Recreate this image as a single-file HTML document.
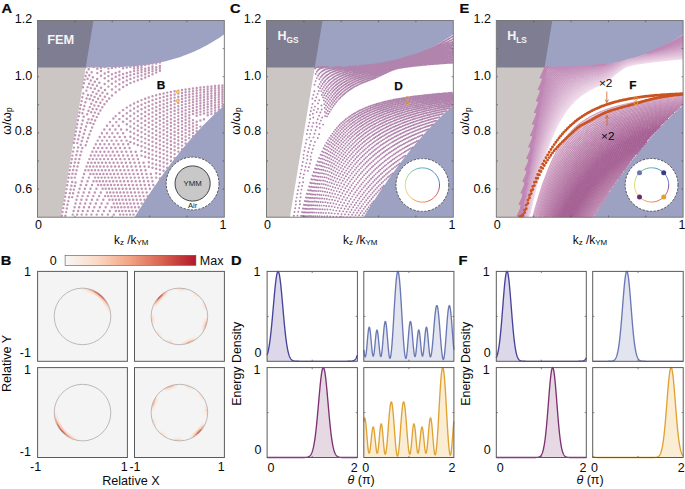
<!DOCTYPE html><html><head><meta charset="utf-8"><title>figure</title><style>html,body{margin:0;padding:0;background:#fff;}body{width:685px;height:489px;overflow:hidden;}svg{display:block;}text{font-family:"Liberation Sans",sans-serif;}</style></head><body>
<svg width="685" height="489" viewBox="0 0 685 489">
<rect width="685" height="489" fill="#fff"/>
<clipPath id="cA"><rect x="37.5" y="20.5" width="186.8" height="196.7"/></clipPath>
<g clip-path="url(#cA)">
<path d="M37.5 68.6 L85.6 68.6 L86.5 67.2 L99.1 20.5 L37.5 20.5Z" fill="#7f7d92"/>
<path d="M37.5 217.2 L60.9 217.2 L85.7 67.4 L37.5 67.4Z" fill="#cbc5c3"/>
<path d="M85.7 67.4 L85.7 67.4 L87.5 67.4 L89.2 67.4 L91 67.4 L92.8 67.4 L94.5 67.4 L96.3 67.4 L98 67.4 L99.8 67.4 L101.5 67.4 L103.3 67.4 L105 67.4 L106.8 67.4 L108.5 67.3 L110.3 67.3 L112 67.3 L113.8 67.2 L115.6 67.2 L117.3 67.1 L119.1 67.1 L120.8 67 L122.6 66.9 L124.3 66.8 L126.1 66.8 L127.8 66.6 L129.6 66.5 L131.3 66.4 L133.1 66.3 L134.9 66.1 L136.6 65.9 L138.4 65.8 L140.1 65.6 L141.9 65.4 L143.6 65.2 L145.4 64.9 L147.1 64.7 L148.9 64.4 L150.6 64.2 L152.4 63.9 L154.1 63.6 L155.9 63.3 L157.7 62.9 L159.4 62.6 L161.2 62.2 L162.9 61.8 L164.7 61.4 L166.4 61 L168.2 60.5 L169.9 60.1 L171.7 59.6 L173.4 59.1 L175.2 58.6 L176.9 58 L178.7 57.4 L180.5 56.9 L182.2 56.3 L184 55.6 L185.7 55 L187.5 54.3 L189.2 53.6 L191 52.9 L192.7 52.1 L194.5 51.4 L196.2 50.6 L198 49.7 L199.7 48.9 L201.5 48 L203.3 47.1 L205 46.2 L206.8 45.3 L208.5 44.3 L210.3 43.3 L212 42.3 L213.8 41.2 L215.5 40.1 L217.3 39 L219 37.9 L220.8 36.7 L222.5 35.5 L224.3 34.3 L224.3 20.5 L93.5 20.5Z" fill="#9da1c2"/>
<path d="M134.6 217.2 L136.1 214.7 L137.6 212.3 L139.1 209.8 L140.7 207.4 L142.2 205 L143.7 202.6 L145.2 200.3 L146.7 198 L148.3 195.6 L149.8 193.3 L151.3 191.1 L152.8 188.8 L154.3 186.6 L155.9 184.4 L157.4 182.2 L158.9 180 L160.4 177.8 L162 175.7 L163.5 173.6 L165 171.5 L166.5 169.4 L168 167.4 L169.6 165.3 L171.1 163.3 L172.6 161.3 L174.1 159.3 L175.6 157.4 L177.2 155.4 L178.7 153.5 L180.2 151.6 L181.7 149.8 L183.2 147.9 L184.8 146.1 L186.3 144.3 L187.8 142.5 L189.3 140.7 L190.8 138.9 L192.4 137.2 L193.9 135.5 L195.4 133.8 L196.9 132.1 L198.4 130.5 L200 128.8 L201.5 127.2 L203 125.6 L204.5 124 L206.1 122.5 L207.6 120.9 L209.1 119.4 L210.6 117.9 L212.1 116.4 L213.7 115 L215.2 113.6 L216.7 112.1 L218.2 110.7 L219.7 109.4 L221.3 108 L222.8 106.7 L224.3 105.4 L224.3 217.2Z" fill="#9da1c2"/>
<path d="M83.1 87.2h0M83.9 83.3h0M84.6 79.6h0M85.6 76.0h0M86.8 72.5h0M88.7 69.3h0M93.6 66.9h0M73.9 142.7h0M74.6 138.9h0M75.2 135.2h0M75.9 131.5h0M76.6 127.8h0M77.2 124.2h0M77.9 120.2h0M78.7 116.3h0M79.4 112.4h0M80.1 108.7h0M80.8 105.0h0M81.6 101.1h0M82.4 97.3h0M83.3 93.5h0M87.6 78.7h0M89.3 75.3h0M91.6 72.3h0M97.3 68.7h0M101.0 67.7h0M104.7 67.0h0M61.2 219.6h0M61.9 215.8h0M62.5 211.9h0M63.2 208.1h0M63.9 204.3h0M64.5 200.5h0M65.2 196.7h0M65.8 192.9h0M66.5 189.1h0M67.2 185.3h0M67.8 181.6h0M68.5 177.8h0M69.1 174.1h0M69.8 170.3h0M70.4 166.6h0M71.1 162.9h0M71.8 159.3h0M72.4 155.6h0M73.1 151.6h0M73.9 147.6h0M86.4 90.6h0M87.6 87.1h0M89.1 83.7h0M90.8 80.4h0M92.9 77.3h0M97.3 73.1h0M101.0 71.0h0M108.4 68.6h0M112.0 67.9h0M115.7 67.3h0M119.4 66.8h0M82.4 113.3h0M83.4 109.5h0M84.4 105.9h0M85.4 102.3h0M86.6 98.5h0M87.9 95.0h0M90.8 88.1h0M92.7 84.8h0M94.8 81.7h0M97.2 78.9h0M101.0 75.7h0M104.7 73.5h0M108.4 71.9h0M123.1 68.2h0M126.8 67.6h0M130.4 67.1h0M134.1 66.6h0M137.8 66.2h0M141.5 65.8h0M145.2 65.1h0M148.8 64.3h0M152.5 63.4h0M77.3 143.1h0M78.2 139.3h0M79.1 135.5h0M79.9 131.8h0M80.8 128.0h0M81.8 124.3h0M82.7 120.5h0M83.7 116.8h0M89.7 98.9h0M91.2 95.5h0M92.9 92.1h0M94.8 88.8h0M97.0 85.7h0M99.4 82.8h0M104.7 78.3h0M108.4 76.1h0M112.0 74.3h0M115.7 72.9h0M119.4 71.7h0M134.1 68.6h0M137.8 68.0h0M141.5 67.5h0M156.2 63.6h0M159.9 62.5h0M71.6 177.7h0M72.4 173.8h0M73.2 170.0h0M74.0 166.2h0M74.8 162.5h0M75.6 158.9h0M76.4 155.0h0M77.3 151.2h0M78.1 147.4h0M87.2 114.3h0M88.5 110.7h0M89.8 107.1h0M91.3 103.7h0M92.9 100.3h0M94.6 97.0h0M96.5 93.8h0M98.6 90.7h0M101.0 87.7h0M104.7 83.9h0M108.4 81.0h0M112.0 78.7h0M115.7 76.8h0M119.4 75.3h0M123.1 74.0h0M126.8 72.9h0M130.4 71.9h0M134.1 71.1h0M137.8 70.4h0M141.5 69.7h0M145.2 68.8h0M148.8 67.7h0M152.5 66.5h0M64.7 219.6h0M65.4 215.8h0M66.1 212.1h0M66.8 208.4h0M67.5 204.8h0M68.3 201.1h0M69.1 197.2h0M69.8 193.3h0M70.6 189.5h0M71.4 185.7h0M72.2 181.9h0M80.8 144.8h0M81.8 141.0h0M82.8 137.4h0M83.9 133.8h0M85.0 130.0h0M86.1 126.4h0M87.3 122.8h0M88.5 119.3h0M91.2 112.3h0M92.7 108.9h0M94.4 105.4h0M96.2 102.0h0M98.1 98.8h0M100.2 95.7h0M102.5 92.7h0M105.0 89.9h0M108.4 86.6h0M112.0 83.8h0M115.7 81.4h0M119.4 79.5h0M123.1 77.8h0M126.8 76.4h0M130.4 75.2h0M134.1 74.1h0M137.8 73.2h0M141.5 72.3h0M145.2 71.3h0M148.8 70.1h0M152.5 68.7h0M156.2 67.3h0M159.9 65.9h0M74.8 177.6h0M75.7 173.9h0M76.6 170.3h0M77.5 166.5h0M78.4 162.8h0M79.3 159.1h0M80.3 155.3h0M81.3 151.6h0M82.3 148.0h0M90.4 122.9h0M91.8 119.5h0M93.3 115.9h0M94.9 112.6h0M96.6 109.2h0M98.5 105.9h0M100.4 102.7h0M102.5 99.6h0M104.8 96.7h0M107.3 93.8h0M112.0 89.4h0M115.7 86.6h0M119.4 84.2h0M123.1 82.2h0M126.8 80.4h0M130.4 78.9h0M134.1 77.6h0M137.8 76.5h0M141.5 75.4h0M145.2 74.2h0M148.8 72.8h0M152.5 71.3h0M156.2 69.7h0M159.9 68.2h0M72.2 197.1h0M73.1 193.3h0M73.9 189.6h0M74.8 186.0h0M75.6 182.4h0M85.7 145.3h0M86.9 141.6h0M88.1 137.9h0M89.4 134.4h0M90.7 130.9h0M92.1 127.4h0M93.5 124.0h0M95.1 120.5h0M96.8 117.1h0M98.5 113.7h0M100.4 110.5h0M102.3 107.3h0M104.4 104.2h0M106.8 101.2h0M109.2 98.4h0M112.0 95.5h0M115.7 92.2h0M119.4 89.4h0M123.1 87.0h0M126.8 84.9h0M130.4 83.1h0M134.1 81.6h0M137.8 80.2h0M141.5 78.9h0M145.2 77.5h0M148.8 75.9h0M152.5 74.2h0M156.2 72.5h0M159.9 70.8h0M71.8 218.3h0M72.7 214.6h0M73.6 210.9h0M74.6 207.2h0M75.5 203.5h0M76.5 199.8h0M77.5 196.1h0M78.5 192.4h0M79.6 188.7h0M80.7 185.0h0M81.8 181.3h0M82.9 177.6h0M84.1 173.9h0M85.3 170.2h0M86.6 166.5h0M88.0 162.8h0M89.4 159.1h0M90.8 155.4h0M92.4 151.7h0M94.0 148.0h0M95.8 144.3h0M97.7 140.6h0M99.7 136.9h0M101.9 133.2h0M104.3 129.5h0M107.0 125.8h0M110.0 122.1h0M113.4 118.4h0M115.7 116.1h0M119.4 112.9h0M123.1 110.1h0M126.8 107.6h0M130.4 105.4h0M134.1 103.4h0M137.8 101.7h0M141.5 100.1h0M145.2 98.7h0M148.8 97.5h0M152.5 96.3h0M156.2 95.3h0M159.9 94.3h0M163.6 93.4h0M167.2 92.6h0M170.9 91.9h0M174.6 91.2h0M178.3 90.6h0M182.0 90.0h0M185.6 89.4h0M189.3 88.9h0M193.0 88.4h0M196.7 87.9h0M200.4 87.5h0M204.0 87.1h0M207.7 86.7h0M211.4 86.4h0M215.1 86.0h0M218.8 85.7h0M222.4 85.4h0M88.5 170.2h0M89.9 166.5h0M91.4 162.8h0M92.9 159.1h0M94.6 155.4h0M96.3 151.7h0M98.1 148.0h0M100.1 144.3h0M102.2 140.6h0M104.5 136.9h0M107.0 133.2h0M109.8 129.5h0M112.8 125.8h0M116.3 122.1h0M119.4 119.1h0M123.1 116.0h0M126.8 113.2h0M130.4 110.7h0M134.1 108.5h0M137.8 106.5h0M141.5 104.7h0M145.2 103.1h0M148.8 101.7h0M152.5 100.3h0M156.2 99.1h0M159.9 98.0h0M163.6 97.0h0M167.2 96.0h0M170.9 95.2h0M174.6 94.4h0M178.3 93.6h0M182.0 92.9h0M185.6 92.3h0M189.3 91.6h0M193.0 91.1h0M196.7 90.5h0M200.4 90.0h0M204.0 89.6h0M207.7 89.1h0M211.4 88.7h0M215.1 88.3h0M218.8 87.9h0M222.4 87.5h0M76.1 218.3h0M77.1 214.6h0M78.1 210.9h0M79.2 207.2h0M80.3 203.5h0M81.4 199.8h0M82.5 196.1h0M83.7 192.4h0M84.9 188.7h0M86.2 185.0h0M87.5 181.3h0M88.9 177.6h0M90.3 173.9h0M91.7 170.2h0M93.3 166.5h0M94.9 162.8h0M96.6 159.1h0M98.4 155.4h0M100.3 151.7h0M102.3 148.0h0M104.5 144.3h0M106.9 140.6h0M109.5 136.9h0M112.3 133.2h0M115.4 129.5h0M118.8 125.8h0M123.1 121.8h0M126.8 118.7h0M130.4 116.0h0M134.1 113.5h0M137.8 111.3h0M141.5 109.3h0M145.2 107.5h0M148.8 105.9h0M152.5 104.4h0M156.2 103.0h0M159.9 101.7h0M163.6 100.6h0M167.2 99.5h0M170.9 98.5h0M174.6 97.6h0M178.3 96.7h0M182.0 95.9h0M185.6 95.2h0M189.3 94.5h0M193.0 93.8h0M196.7 93.2h0M200.4 92.6h0M204.0 92.0h0M207.7 91.5h0M211.4 91.0h0M215.1 90.6h0M218.8 90.1h0M222.4 89.7h0M93.4 173.9h0M95.0 170.2h0M96.7 166.5h0M98.5 162.8h0M100.3 159.1h0M102.3 155.4h0M104.4 151.7h0M106.6 148.0h0M109.0 144.3h0M111.7 140.6h0M114.5 136.9h0M117.6 133.2h0M121.1 129.5h0M126.8 124.2h0M130.4 121.3h0M134.1 118.6h0M137.8 116.1h0M141.5 113.9h0M145.2 111.9h0M148.8 110.1h0M152.5 108.4h0M156.2 106.9h0M159.9 105.5h0M163.6 104.2h0M167.2 103.0h0M170.9 101.8h0M174.6 100.8h0M178.3 99.8h0M182.0 98.9h0M185.6 98.1h0M189.3 97.3h0M193.0 96.6h0M196.7 95.9h0M200.4 95.2h0M204.0 94.6h0M207.7 94.0h0M211.4 93.4h0M215.1 92.9h0M218.8 92.4h0M222.4 91.9h0M80.5 218.3h0M81.7 214.6h0M82.8 210.9h0M84.0 207.2h0M85.2 203.5h0M86.5 199.8h0M87.8 196.1h0M89.2 192.4h0M90.5 188.7h0M92.0 185.0h0M93.5 181.3h0M95.1 177.6h0M96.7 173.9h0M98.4 170.2h0M100.2 166.5h0M102.1 162.8h0M104.1 159.1h0M106.3 155.4h0M108.6 151.7h0M111.0 148.0h0M113.7 144.3h0M116.5 140.6h0M119.7 136.9h0M123.1 133.2h0M126.8 129.7h0M130.4 126.5h0M134.1 123.6h0M137.8 120.9h0M141.5 118.5h0M145.2 116.3h0M148.8 114.3h0M152.5 112.5h0M156.2 110.8h0M159.9 109.2h0M163.6 107.8h0M167.2 106.5h0M170.9 105.2h0M174.6 104.1h0M178.3 103.0h0M182.0 102.0h0M185.6 101.1h0M189.3 100.2h0M193.0 99.4h0M196.7 98.6h0M200.4 97.8h0M204.0 97.1h0M207.7 96.5h0M211.4 95.9h0M215.1 95.3h0M218.8 94.7h0M222.4 94.2h0M96.6 181.3h0M98.3 177.6h0M100.0 173.9h0M101.9 170.2h0M103.8 166.5h0M105.9 162.8h0M108.0 159.1h0M110.4 155.4h0M112.8 151.7h0M115.5 148.0h0M118.4 144.3h0M121.5 140.6h0M125.0 136.9h0M130.4 131.7h0M134.1 128.5h0M137.8 125.7h0M141.5 123.1h0M145.2 120.7h0M148.8 118.6h0M152.5 116.6h0M156.2 114.7h0M159.9 113.0h0M163.6 111.5h0M167.2 110.0h0M170.9 108.7h0M174.6 107.4h0M178.3 106.2h0M182.0 105.1h0M185.6 104.1h0M189.3 103.1h0M193.0 102.2h0M196.7 101.3h0M200.4 100.5h0M204.0 99.8h0M207.7 99.0h0M211.4 98.3h0M215.1 97.7h0M218.8 97.1h0M222.4 96.5h0M85.2 218.3h0M86.4 214.6h0M87.7 210.9h0M89.1 207.2h0M90.4 203.5h0M91.9 199.8h0M93.3 196.1h0M94.8 192.4h0M96.4 188.7h0M98.1 185.0h0M99.8 181.3h0M101.6 177.6h0M103.4 173.9h0M105.4 170.2h0M107.5 166.5h0M109.7 162.8h0M112.0 159.1h0M114.5 155.4h0M117.2 151.7h0M120.1 148.0h0M123.2 144.3h0M126.6 140.6h0M130.4 136.8h0M134.1 133.5h0M137.8 130.5h0M141.5 127.7h0M145.2 125.2h0M148.8 122.8h0M152.5 120.7h0M156.2 118.7h0M159.9 116.9h0M163.6 115.2h0M167.2 113.6h0M170.9 112.1h0M174.6 110.7h0M178.3 109.5h0M182.0 108.3h0M185.6 107.1h0M189.3 106.1h0M193.0 105.1h0M196.7 104.1h0M200.4 103.2h0M204.0 102.4h0M207.7 101.6h0M211.4 100.9h0M215.1 100.2h0M218.8 99.5h0M222.4 98.8h0M101.2 185.0h0M103.0 181.3h0M104.9 177.6h0M106.9 173.9h0M109.0 170.2h0M111.3 166.5h0M113.6 162.8h0M116.1 159.1h0M118.8 155.4h0M121.7 151.7h0M124.8 148.0h0M128.2 144.3h0M130.4 142.0h0M134.1 138.5h0M137.8 135.3h0M141.5 132.3h0M145.2 129.6h0M148.8 127.1h0M152.5 124.8h0M156.2 122.7h0M159.9 120.7h0M163.6 118.9h0M167.2 117.2h0M170.9 115.6h0M174.6 114.1h0M178.3 112.7h0M182.0 111.4h0M185.6 110.2h0M189.3 109.1h0M193.0 108.0h0M196.7 107.0h0M200.4 106.0h0M204.0 105.1h0M207.7 104.2h0M211.4 103.4h0M215.1 102.6h0M218.8 101.9h0M222.4 101.2h0M90.1 218.3h0M91.4 214.6h0M92.9 210.9h0M94.3 207.2h0M95.9 203.5h0M97.4 199.8h0M99.1 196.1h0M100.8 192.4h0M102.6 188.7h0M104.4 185.0h0M106.3 181.3h0M108.4 177.6h0M110.5 173.9h0M112.7 170.2h0M115.1 166.5h0M117.6 162.8h0M120.3 159.1h0M123.2 155.4h0M126.3 151.7h0M129.6 148.0h0M134.1 143.5h0M137.8 140.1h0M141.5 137.0h0M145.2 134.1h0M148.8 131.5h0M152.5 129.0h0M156.2 126.7h0M159.9 124.6h0M163.6 122.7h0M167.2 120.9h0M170.9 119.2h0M174.6 117.6h0M178.3 116.1h0M182.0 114.7h0M185.6 113.4h0M189.3 112.1h0M193.0 111.0h0M196.7 109.9h0M200.4 108.8h0M204.0 107.8h0M207.7 106.9h0M211.4 106.0h0M215.1 105.2h0M218.8 104.4h0M222.4 103.6h0M105.7 188.7h0M107.7 185.0h0M109.7 181.3h0M111.9 177.6h0M114.1 173.9h0M116.5 170.2h0M119.0 166.5h0M121.7 162.8h0M124.6 159.1h0M127.7 155.4h0M131.0 151.7h0M137.8 144.9h0M141.5 141.6h0M145.2 138.6h0M148.8 135.8h0M152.5 133.2h0M156.2 130.8h0M159.9 128.6h0M163.6 126.5h0M167.2 124.5h0M170.9 122.7h0M174.6 121.0h0M178.3 119.4h0M182.0 117.9h0M185.6 116.5h0M189.3 115.2h0M193.0 114.0h0M196.7 112.8h0M200.4 111.7h0M204.0 110.6h0M207.7 109.6h0M211.4 108.7h0M215.1 107.8h0M218.8 106.9h0M222.4 106.1h0M95.2 218.3h0M96.7 214.6h0M98.3 210.9h0M99.9 207.2h0M101.6 203.5h0M103.3 199.8h0M105.1 196.1h0M107.0 192.4h0M109.0 188.7h0M111.0 185.0h0M113.2 181.3h0M115.5 177.6h0M117.8 173.9h0M120.4 170.2h0M123.1 166.5h0M125.9 162.8h0M129.0 159.1h0M132.2 155.4h0M135.7 151.7h0M141.5 146.3h0M145.2 143.1h0M148.8 140.1h0M152.5 137.4h0M156.2 134.9h0M159.9 132.5h0M163.6 130.3h0M167.2 128.3h0M170.9 126.3h0M174.6 124.5h0M178.3 122.8h0M182.0 121.3h0M185.6 119.8h0M189.3 118.3h0M196.7 115.8h0M200.4 114.6h0M204.0 113.4h0M207.7 112.4h0M211.4 111.4h0M215.1 110.4h0M218.8 109.5h0M108.2 196.1h0M110.2 192.4h0M112.3 188.7h0M114.5 185.0h0M116.7 181.3h0M119.1 177.6h0M121.7 173.9h0M124.3 170.2h0M127.2 166.5h0M130.2 162.8h0M133.4 159.1h0M136.9 155.4h0M141.5 150.9h0M145.2 147.6h0M148.8 144.5h0M152.5 141.7h0M156.2 139.0h0M159.9 136.5h0M163.6 134.2h0M167.2 132.0h0M170.9 130.0h0M174.6 128.1h0M178.3 126.3h0M182.0 124.6h0M185.6 123.0h0M189.3 121.5h0M193.0 120.1h0M207.7 115.2h0M211.4 114.1h0M215.1 113.1h0M100.5 218.3h0M102.2 214.6h0M103.9 210.9h0M105.7 207.2h0M107.5 203.5h0M109.4 199.8h0M111.4 196.1h0M113.5 192.4h0M115.7 188.7h0M118.0 185.0h0M120.4 181.3h0M122.9 177.6h0M125.6 173.9h0M128.4 170.2h0M131.4 166.5h0M134.6 162.8h0M138.0 159.1h0M141.5 155.6h0M145.2 152.1h0M148.8 148.9h0M152.5 145.9h0M156.2 143.2h0M159.9 140.5h0M163.6 138.1h0M167.2 135.8h0M170.9 133.7h0M174.6 131.7h0M178.3 129.8h0M182.0 128.0h0M185.6 126.3h0M189.3 124.7h0M193.0 123.2h0M196.7 121.8h0M200.4 120.5h0M204.0 119.2h0M112.6 199.8h0M114.7 196.1h0M116.9 192.4h0M119.2 188.7h0M121.5 185.0h0M124.1 181.3h0M126.7 177.6h0M129.5 173.9h0M132.5 170.2h0M135.7 166.5h0M139.1 162.8h0M145.2 156.7h0M148.8 153.4h0M152.5 150.2h0M156.2 147.3h0M159.9 144.6h0M163.6 142.1h0M167.2 139.7h0M170.9 137.4h0M174.6 135.3h0M178.3 133.3h0M182.0 131.4h0M185.6 129.7h0M189.3 128.0h0M193.0 126.4h0M196.7 124.9h0M106.1 218.3h0M107.9 214.6h0M109.8 210.9h0M111.7 207.2h0M113.7 203.5h0M115.8 199.8h0M118.0 196.1h0M120.3 192.4h0M122.7 188.7h0M125.2 185.0h0M127.9 181.3h0M130.7 177.6h0M133.6 173.9h0M136.7 170.2h0M140.1 166.5h0M143.6 162.8h0M148.8 157.8h0M152.5 154.6h0M156.2 151.6h0M159.9 148.7h0M163.6 146.0h0M167.2 143.5h0M170.9 141.2h0M174.6 139.0h0M178.3 136.9h0M182.0 134.9h0M185.6 133.1h0M189.3 131.3h0M193.0 129.7h0M196.7 128.1h0M200.4 126.6h0M114.8 207.2h0M116.9 203.5h0M119.1 199.8h0M121.4 196.1h0M123.8 192.4h0M126.3 188.7h0M129.0 185.0h0M131.7 181.3h0M134.7 177.6h0M137.8 173.9h0M141.1 170.2h0M144.6 166.5h0M148.8 162.3h0M152.5 159.0h0M156.2 155.8h0M159.9 152.8h0M163.6 150.1h0M167.2 147.5h0M170.9 145.0h0M174.6 142.7h0M178.3 140.5h0M182.0 138.5h0M185.6 136.5h0M189.3 134.7h0M193.0 132.9h0M196.7 131.3h0M111.9 218.3h0M113.9 214.6h0M115.9 210.9h0M118.0 207.2h0M120.2 203.5h0M122.5 199.8h0M124.9 196.1h0M127.4 192.4h0M130.0 188.7h0M132.8 185.0h0M135.7 181.3h0M138.8 177.6h0M142.0 173.9h0M145.5 170.2h0M148.8 166.8h0M152.5 163.4h0M156.2 160.1h0M159.9 157.0h0M163.6 154.1h0M167.2 151.4h0M170.9 148.9h0M174.6 146.4h0M178.3 144.2h0M182.0 142.0h0M185.6 140.0h0M189.3 138.1h0M193.0 136.2h0M119.1 210.9h0M121.3 207.2h0M123.6 203.5h0M126.0 199.8h0M128.5 196.1h0M131.1 192.4h0M133.8 188.7h0M136.7 185.0h0M139.8 181.3h0M143.0 177.6h0M146.4 173.9h0M152.5 167.8h0M156.2 164.4h0M159.9 161.2h0M163.6 158.2h0M167.2 155.4h0M170.9 152.8h0M174.6 150.2h0M178.3 147.9h0M182.0 145.6h0M185.6 143.5h0M118.0 218.3h0M120.1 214.6h0M122.3 210.9h0M124.6 207.2h0M127.0 203.5h0M129.5 199.8h0M132.1 196.1h0M134.9 192.4h0M137.7 188.7h0M140.7 185.0h0M143.9 181.3h0M147.3 177.6h0M150.9 173.9h0M156.2 168.8h0M159.9 165.5h0M163.6 162.4h0M167.2 159.5h0M170.9 156.7h0M174.6 154.1h0M178.3 151.6h0M182.0 149.3h0M121.2 218.3h0M123.4 214.6h0M125.7 210.9h0M128.1 207.2h0M130.5 203.5h0M133.1 199.8h0M135.8 196.1h0M138.7 192.4h0M141.7 188.7h0M144.8 185.0h0M148.2 181.3h0M151.7 177.6h0M156.2 173.2h0M159.9 169.8h0M163.6 166.6h0M167.2 163.5h0M170.9 160.7h0M174.6 158.0h0M124.4 218.3h0M126.7 214.6h0M129.1 210.9h0M131.5 207.2h0M134.1 203.5h0M136.8 199.8h0M139.7 196.1h0M142.6 192.4h0M145.7 188.7h0M149.0 185.0h0M152.5 181.3h0M156.2 177.6h0M159.9 174.1h0M163.6 170.8h0M167.2 167.7h0M127.7 218.3h0M130.1 214.6h0M132.5 210.9h0M135.1 207.2h0M137.8 203.5h0M140.6 199.8h0M143.6 196.1h0M146.7 192.4h0M149.9 188.7h0M153.3 185.0h0M159.9 178.4h0M131.1 218.3h0M133.5 214.6h0M136.1 210.9h0M138.8 207.2h0M141.6 203.5h0M144.5 199.8h0M147.6 196.1h0" stroke="#c096b4" stroke-width="2.45" stroke-linecap="round" fill="none"/>
</g>
<path d="M74.9 217.2v-1.6M74.9 20.5v1.6M112.2 217.2v-1.6M112.2 20.5v1.6M149.6 217.2v-1.6M149.6 20.5v1.6M186.9 217.2v-1.6M186.9 20.5v1.6M37.5 189.1h1.6M224.3 189.1h-1.6M37.5 161h1.6M224.3 161h-1.6M37.5 132.9h1.6M224.3 132.9h-1.6M37.5 104.8h1.6M224.3 104.8h-1.6M37.5 76.7h1.6M224.3 76.7h-1.6M37.5 48.6h1.6M224.3 48.6h-1.6" stroke="#333" stroke-width="0.6" fill="none"/>
<rect x="37.5" y="20.5" width="186.8" height="196.7" fill="none" stroke="#6e6e6e" stroke-width="0.9"/>
<text x="32.2" y="22.8" text-anchor="end" font-size="12.5" fill="#0a0a0a">1.2</text>
<text x="32.2" y="80" text-anchor="end" font-size="12.5" fill="#0a0a0a">1.0</text>
<text x="32.2" y="135.1" text-anchor="end" font-size="12.5" fill="#0a0a0a">0.8</text>
<text x="32.2" y="192.6" text-anchor="end" font-size="12.5" fill="#0a0a0a">0.6</text>
<text x="38.5" y="229" text-anchor="middle" font-size="12.5" fill="#0a0a0a">0</text>
<text x="223.1" y="228.9" text-anchor="middle" font-size="12.5" fill="#0a0a0a">1</text>
<text x="131.2" y="243.6" text-anchor="middle" font-size="11.9" fill="#0a0a0a">k<tspan font-size="8.0" dy="1.2">z</tspan><tspan dy="-1.2"> /k</tspan><tspan font-size="8.0" dy="1.2">YM</tspan></text>
<text transform="translate(10.5 121) rotate(-90)" text-anchor="middle" font-size="12.3" fill="#0a0a0a">&#969;/&#969;<tspan font-size="8.5" dy="1.5">p</tspan></text>
<text x="47.2" y="43.9" font-size="12.8" font-weight="bold" fill="#f4f4f4">FEM</text>
<text x="156.8" y="89.0" font-size="11.8" font-weight="bold" fill="#0a0a0a" stroke="#0a0a0a" stroke-width="0.25">B</text>
<circle cx="177.6" cy="91.9" r="1.5" fill="#f3d2a0" stroke="#ebb050" stroke-width="1"/><circle cx="177.6" cy="100.9" r="1.5" fill="#f3d2a0" stroke="#ebb050" stroke-width="1"/>
<circle cx="192.6" cy="183.5" r="26.4" fill="#fff" stroke="#4a4a4a" stroke-width="0.9" stroke-dasharray="2.2 1.5"/>
<circle cx="192.6" cy="183.5" r="17.6" fill="#c8c8c8" stroke="#333" stroke-width="0.9"/>
<text x="192.6" y="186.3" text-anchor="middle" font-size="7.8" fill="#222">YMM</text>
<text x="192.6" y="207.8" text-anchor="middle" font-size="7.6" fill="#222">Air</text>
<clipPath id="cC"><rect x="266.5" y="20.5" width="186.8" height="196.7"/></clipPath>
<g clip-path="url(#cC)">
<path d="M266.5 68.6 L314.6 68.6 L315.5 67.2 L328.1 20.5 L266.5 20.5Z" fill="#7f7d92"/>
<path d="M266.5 217.2 L289.9 217.2 L314.7 67.4 L266.5 67.4Z" fill="#cbc5c3"/>
<path d="M314.7 67.4 L314.7 67.4 L316.5 67.4 L318.2 67.4 L320 67.4 L321.8 67.4 L323.5 67.4 L325.3 67.4 L327 67.4 L328.8 67.4 L330.5 67.4 L332.3 67.4 L334 67.4 L335.8 67.4 L337.5 67.3 L339.3 67.3 L341 67.3 L342.8 67.2 L344.6 67.2 L346.3 67.1 L348.1 67.1 L349.8 67 L351.6 66.9 L353.3 66.8 L355.1 66.8 L356.8 66.6 L358.6 66.5 L360.3 66.4 L362.1 66.3 L363.9 66.1 L365.6 65.9 L367.4 65.8 L369.1 65.6 L370.9 65.4 L372.6 65.2 L374.4 64.9 L376.1 64.7 L377.9 64.4 L379.6 64.2 L381.4 63.9 L383.1 63.6 L384.9 63.3 L386.7 62.9 L388.4 62.6 L390.2 62.2 L391.9 61.8 L393.7 61.4 L395.4 61 L397.2 60.5 L398.9 60.1 L400.7 59.6 L402.4 59.1 L404.2 58.6 L405.9 58 L407.7 57.4 L409.5 56.9 L411.2 56.3 L413 55.6 L414.7 55 L416.5 54.3 L418.2 53.6 L420 52.9 L421.7 52.1 L423.5 51.4 L425.2 50.6 L427 49.7 L428.7 48.9 L430.5 48 L432.3 47.1 L434 46.2 L435.8 45.3 L437.5 44.3 L439.3 43.3 L441 42.3 L442.8 41.2 L444.5 40.1 L446.3 39 L448 37.9 L449.8 36.7 L451.5 35.5 L453.3 34.3 L453.3 20.5 L322.5 20.5Z" fill="#9da1c2"/>
<path d="M363.6 217.2 L365.1 214.7 L366.6 212.3 L368.1 209.8 L369.7 207.4 L371.2 205 L372.7 202.6 L374.2 200.3 L375.7 198 L377.3 195.6 L378.8 193.3 L380.3 191.1 L381.8 188.8 L383.3 186.6 L384.9 184.4 L386.4 182.2 L387.9 180 L389.4 177.8 L391 175.7 L392.5 173.6 L394 171.5 L395.5 169.4 L397 167.4 L398.6 165.3 L400.1 163.3 L401.6 161.3 L403.1 159.3 L404.6 157.4 L406.2 155.4 L407.7 153.5 L409.2 151.6 L410.7 149.8 L412.2 147.9 L413.8 146.1 L415.3 144.3 L416.8 142.5 L418.3 140.7 L419.8 138.9 L421.4 137.2 L422.9 135.5 L424.4 133.8 L425.9 132.1 L427.4 130.5 L429 128.8 L430.5 127.2 L432 125.6 L433.5 124 L435.1 122.5 L436.6 120.9 L438.1 119.4 L439.6 117.9 L441.1 116.4 L442.7 115 L444.2 113.6 L445.7 112.1 L447.2 110.7 L448.7 109.4 L450.3 108 L451.8 106.7 L453.3 105.4 L453.3 217.2Z" fill="#9da1c2"/>
<path d="M315.1 68.5h0M316.1 67.5h0M317.4 67.1h0M318.7 67.0h0M320.0 66.9h0M321.4 66.9h0M322.7 66.9h0M324.0 66.9h0M359.2 65.9h0M360.5 65.8h0M361.8 65.7h0M363.1 65.6h0M364.4 65.5h0M365.8 65.4h0M367.1 65.3h0M368.4 65.2h0M369.7 65.0h0M371.0 64.9h0M372.3 64.7h0M373.7 64.6h0M375.0 64.4h0M376.3 64.2h0M377.6 64.0h0M378.9 63.8h0M380.2 63.6h0M381.5 63.4h0M382.9 63.1h0M384.2 62.9h0M385.5 62.6h0M386.8 62.3h0M388.1 62.1h0M389.4 61.8h0M390.8 61.5h0M392.1 61.2h0M393.4 60.9h0M394.7 60.6h0M396.0 60.3h0M397.3 60.0h0M398.7 59.6h0M400.0 59.3h0M401.3 59.0h0M402.6 58.6h0M403.9 58.3h0M405.2 57.9h0M406.5 57.5h0M407.9 57.1h0M409.2 56.7h0M410.5 56.3h0M411.8 55.9h0M413.1 55.5h0M414.4 55.0h0M415.8 54.6h0M417.1 54.1h0M418.4 53.6h0M419.7 53.1h0M421.0 52.6h0M422.3 52.1h0M423.6 51.6h0M425.0 51.0h0M426.3 50.5h0M427.6 49.9h0M428.9 49.3h0M430.2 48.7h0M431.5 48.1h0M432.9 47.5h0M434.2 46.9h0M435.5 46.2h0M436.8 45.5h0M438.1 44.9h0M439.4 44.2h0M440.7 43.5h0M442.1 42.8h0M443.4 42.0h0M444.7 41.3h0M446.0 40.5h0M447.3 39.7h0M448.6 39.0h0M450.0 38.1h0M451.3 37.3h0M452.6 36.5h0M315.7 74.0h0M316.8 71.7h0M318.0 70.2h0M319.2 69.2h0M320.4 68.5h0M321.7 68.0h0M323.1 67.7h0M324.4 67.4h0M325.7 67.2h0M327.0 67.0h0M328.3 66.9h0M407.9 56.8h0M409.2 56.5h0M410.5 56.1h0M411.9 55.8h0M413.2 55.4h0M414.5 55.0h0M415.8 54.6h0M417.1 54.2h0M418.4 53.8h0M419.8 53.4h0M421.1 53.0h0M422.4 52.6h0M423.7 52.1h0M425.0 51.7h0M426.3 51.2h0M427.6 50.7h0M429.0 50.2h0M430.3 49.7h0M431.6 49.2h0M432.9 48.7h0M434.2 48.2h0M435.5 47.6h0M436.9 47.0h0M438.2 46.5h0M439.5 45.9h0M440.8 45.3h0M442.1 44.7h0M443.4 44.1h0M444.7 43.5h0M446.1 42.8h0M447.4 42.2h0M448.7 41.5h0M450.0 40.8h0M451.3 40.1h0M452.6 39.4h0M314.5 84.7h0M315.6 81.1h0M316.8 78.1h0M318.0 75.8h0M319.2 74.0h0M320.5 72.6h0M321.7 71.5h0M323.0 70.7h0M324.3 70.0h0M325.6 69.4h0M327.0 68.9h0M328.3 68.6h0M329.6 68.2h0M330.9 68.0h0M332.2 67.7h0M333.5 67.5h0M334.8 67.4h0M336.2 67.2h0M337.5 67.0h0M338.8 66.9h0M340.1 66.8h0M407.6 56.9h0M408.9 56.6h0M410.2 56.3h0M411.5 56.0h0M412.8 55.7h0M414.2 55.4h0M415.5 55.0h0M416.8 54.7h0M418.1 54.3h0M419.4 54.0h0M420.7 53.6h0M422.1 53.2h0M423.4 52.9h0M424.7 52.5h0M426.0 52.1h0M427.3 51.6h0M428.6 51.2h0M429.9 50.8h0M431.3 50.4h0M432.6 49.9h0M433.9 49.4h0M435.2 49.0h0M436.5 48.5h0M437.8 48.0h0M439.2 47.5h0M440.5 47.0h0M441.8 46.5h0M443.1 46.0h0M444.4 45.4h0M445.7 44.9h0M447.1 44.3h0M448.4 43.7h0M449.7 43.1h0M451.0 42.6h0M452.3 42.0h0M312.4 98.5h0M313.4 94.9h0M314.4 91.3h0M319.3 79.2h0M320.6 77.3h0M321.9 75.7h0M323.1 74.5h0M324.4 73.4h0M325.7 72.5h0M327.0 71.7h0M328.3 71.1h0M329.6 70.5h0M331.0 70.1h0M332.3 69.6h0M333.6 69.3h0M334.9 69.0h0M336.2 68.7h0M337.5 68.4h0M338.9 68.2h0M340.2 68.0h0M341.5 67.8h0M342.8 67.6h0M344.1 67.4h0M345.4 67.2h0M346.7 67.1h0M348.1 66.9h0M349.4 66.8h0M350.7 66.7h0M352.0 66.5h0M353.3 66.4h0M354.6 66.3h0M356.0 66.2h0M405.8 57.5h0M407.1 57.3h0M408.4 57.0h0M409.7 56.7h0M411.0 56.5h0M412.4 56.2h0M413.7 55.9h0M415.0 55.6h0M416.3 55.3h0M417.6 55.0h0M418.9 54.7h0M420.2 54.3h0M421.6 54.0h0M422.9 53.7h0M424.2 53.3h0M425.5 53.0h0M426.8 52.6h0M428.1 52.2h0M429.5 51.9h0M430.8 51.5h0M432.1 51.1h0M433.4 50.7h0M434.7 50.3h0M436.0 49.9h0M437.3 49.4h0M438.7 49.0h0M440.0 48.5h0M441.3 48.1h0M442.6 47.6h0M443.9 47.2h0M445.2 46.7h0M446.6 46.2h0M447.9 45.7h0M449.2 45.2h0M450.5 44.7h0M451.8 44.2h0M453.1 43.6h0M309.9 115.0h0M310.7 111.2h0M311.6 107.6h0M312.5 103.9h0M318.3 86.7h0M319.6 84.1h0M320.8 81.9h0M322.1 80.1h0M323.3 78.5h0M324.6 77.2h0M325.9 76.0h0M327.2 75.0h0M328.5 74.1h0M329.8 73.3h0M331.1 72.6h0M332.4 72.0h0M333.8 71.5h0M335.1 71.0h0M336.4 70.6h0M337.7 70.2h0M339.0 69.9h0M340.3 69.6h0M341.6 69.3h0M343.0 69.0h0M344.3 68.7h0M345.6 68.5h0M346.9 68.3h0M348.2 68.1h0M349.5 67.9h0M350.9 67.7h0M352.2 67.5h0M353.5 67.3h0M354.8 67.2h0M356.1 67.0h0M357.4 66.9h0M358.7 66.7h0M360.1 66.6h0M361.4 66.4h0M362.7 66.3h0M364.0 66.1h0M365.3 66.0h0M366.6 65.8h0M368.0 65.7h0M369.3 65.6h0M370.6 65.4h0M371.9 65.2h0M373.2 65.0h0M374.5 64.8h0M375.8 64.5h0M377.2 64.3h0M378.5 64.0h0M379.8 63.7h0M403.1 58.3h0M404.4 58.1h0M405.7 57.9h0M407.0 57.7h0M408.4 57.4h0M409.7 57.2h0M411.0 56.9h0M412.3 56.7h0M413.6 56.4h0M414.9 56.1h0M416.2 55.9h0M417.6 55.6h0M418.9 55.3h0M420.2 55.0h0M421.5 54.7h0M422.8 54.4h0M424.1 54.1h0M425.5 53.8h0M426.8 53.5h0M428.1 53.1h0M429.4 52.8h0M430.7 52.5h0M432.0 52.1h0M433.3 51.8h0M434.7 51.4h0M436.0 51.0h0M437.3 50.6h0M438.6 50.3h0M439.9 49.9h0M441.2 49.5h0M442.6 49.1h0M443.9 48.6h0M445.2 48.2h0M446.5 47.8h0M447.8 47.4h0M449.1 46.9h0M450.4 46.5h0M451.8 46.0h0M453.1 45.5h0M306.8 133.9h0M307.7 130.0h0M308.5 126.3h0M309.3 122.6h0M310.2 118.9h0M315.1 100.7h0M316.3 97.2h0M317.6 93.9h0M318.8 90.9h0M320.1 88.3h0M321.4 86.0h0M322.6 84.0h0M323.9 82.3h0M325.1 80.7h0M326.4 79.4h0M327.7 78.2h0M329.0 77.1h0M330.4 76.1h0M331.7 75.3h0M333.0 74.6h0M334.3 73.9h0M335.6 73.3h0M336.9 72.7h0M338.2 72.2h0M339.6 71.8h0M340.9 71.4h0M342.2 71.0h0M343.5 70.6h0M344.8 70.3h0M346.1 70.0h0M347.5 69.7h0M348.8 69.4h0M350.1 69.2h0M351.4 68.9h0M352.7 68.7h0M354.0 68.5h0M355.3 68.3h0M356.7 68.1h0M358.0 67.9h0M359.3 67.7h0M360.6 67.5h0M361.9 67.3h0M363.2 67.2h0M364.6 67.0h0M365.9 66.8h0M367.2 66.7h0M368.5 66.5h0M369.8 66.3h0M371.1 66.1h0M372.5 65.9h0M373.8 65.7h0M375.1 65.4h0M376.4 65.1h0M377.7 64.8h0M379.0 64.5h0M380.3 64.2h0M381.7 63.8h0M383.0 63.5h0M384.3 63.1h0M385.6 62.8h0M386.9 62.4h0M399.4 59.4h0M400.7 59.2h0M402.0 59.0h0M403.4 58.8h0M404.7 58.5h0M406.0 58.3h0M407.3 58.1h0M408.6 57.9h0M409.9 57.7h0M411.3 57.4h0M412.6 57.2h0M413.9 57.0h0M415.2 56.7h0M416.5 56.5h0M417.8 56.2h0M419.2 56.0h0M420.5 55.7h0M421.8 55.4h0M423.1 55.1h0M424.4 54.9h0M425.7 54.6h0M427.0 54.3h0M428.4 54.0h0M429.7 53.7h0M431.0 53.4h0M432.3 53.1h0M433.6 52.8h0M434.9 52.4h0M436.3 52.1h0M437.6 51.8h0M438.9 51.4h0M440.2 51.1h0M441.5 50.7h0M442.8 50.4h0M444.1 50.0h0M445.5 49.6h0M446.8 49.2h0M448.1 48.8h0M449.4 48.4h0M450.7 48.0h0M452.0 47.6h0M303.5 154.6h0M304.3 150.8h0M305.0 147.1h0M305.8 143.4h0M306.6 139.6h0M312.9 113.8h0M313.9 110.1h0M315.0 106.6h0M321.3 91.1h0M322.5 88.9h0M323.8 86.9h0M325.0 85.1h0M326.3 83.6h0M327.6 82.1h0M328.9 80.8h0M330.2 79.6h0M331.6 78.6h0M332.9 77.7h0M334.2 76.8h0M335.5 76.1h0M336.8 75.4h0M338.1 74.7h0M339.5 74.2h0M340.8 73.6h0M342.1 73.1h0M343.4 72.7h0M344.7 72.3h0M346.0 71.9h0M347.3 71.5h0M348.7 71.1h0M350.0 70.8h0M351.3 70.5h0M352.6 70.2h0M353.9 70.0h0M355.2 69.7h0M356.6 69.4h0M357.9 69.2h0M359.2 69.0h0M360.5 68.8h0M361.8 68.5h0M363.1 68.3h0M364.4 68.1h0M365.8 67.9h0M367.1 67.7h0M368.4 67.6h0M369.7 67.4h0M371.0 67.2h0M372.3 66.9h0M373.7 66.7h0M375.0 66.4h0M376.3 66.1h0M377.6 65.7h0M378.9 65.4h0M380.2 65.0h0M381.5 64.6h0M382.9 64.3h0M384.2 63.9h0M385.5 63.5h0M386.8 63.1h0M388.1 62.7h0M389.4 62.3h0M390.8 62.0h0M392.1 61.6h0M393.4 61.3h0M394.7 60.9h0M396.0 60.6h0M397.3 60.3h0M398.7 60.1h0M400.0 59.8h0M401.3 59.6h0M402.6 59.5h0M403.9 59.3h0M405.2 59.1h0M406.5 58.9h0M407.9 58.7h0M409.2 58.4h0M410.5 58.2h0M411.8 58.0h0M413.1 57.8h0M414.4 57.6h0M415.8 57.3h0M417.1 57.1h0M418.4 56.9h0M419.7 56.6h0M421.0 56.4h0M422.3 56.2h0M423.6 55.9h0M425.0 55.7h0M426.3 55.4h0M427.6 55.1h0M428.9 54.9h0M430.2 54.6h0M431.5 54.3h0M432.9 54.0h0M434.2 53.7h0M435.5 53.5h0M436.8 53.2h0M438.1 52.9h0M439.4 52.6h0M440.7 52.2h0M442.1 51.9h0M443.4 51.6h0M444.7 51.3h0M446.0 50.9h0M447.3 50.6h0M448.6 50.3h0M450.0 49.9h0M451.3 49.5h0M452.6 49.2h0M299.8 177.1h0M300.5 173.5h0M301.3 169.6h0M302.1 165.8h0M302.8 162.0h0M303.6 158.3h0M313.3 117.5h0M318.0 103.4h0M319.3 100.3h0M321.8 95.0h0M323.1 92.7h0M324.3 90.6h0M325.6 88.7h0M326.8 87.0h0M328.2 85.4h0M329.5 84.0h0M330.8 82.7h0M332.1 81.6h0M333.4 80.5h0M334.7 79.5h0M336.1 78.7h0M337.4 77.9h0M338.7 77.1h0M340.0 76.4h0M341.3 75.8h0M342.6 75.2h0M343.9 74.7h0M345.3 74.2h0M346.6 73.7h0M347.9 73.3h0M349.2 72.9h0M350.5 72.5h0M351.8 72.1h0M353.2 71.8h0M354.5 71.5h0M355.8 71.2h0M357.1 70.9h0M358.4 70.6h0M359.7 70.3h0M361.0 70.1h0M362.4 69.8h0M363.7 69.6h0M365.0 69.3h0M366.3 69.1h0M367.6 68.9h0M368.9 68.7h0M370.3 68.4h0M371.6 68.2h0M372.9 67.9h0M374.2 67.6h0M375.5 67.3h0M376.8 66.9h0M378.2 66.6h0M379.5 66.2h0M380.8 65.8h0M382.1 65.4h0M383.4 65.0h0M384.7 64.6h0M386.0 64.2h0M387.4 63.7h0M388.7 63.3h0M390.0 62.9h0M391.3 62.6h0M392.6 62.2h0M393.9 61.8h0M395.3 61.5h0M396.6 61.2h0M397.9 60.9h0M399.2 60.7h0M400.5 60.4h0M401.8 60.3h0M403.1 60.1h0M404.5 59.9h0M405.8 59.7h0M407.1 59.5h0M408.4 59.3h0M409.7 59.1h0M411.0 58.9h0M412.4 58.7h0M413.7 58.5h0M415.0 58.3h0M416.3 58.1h0M417.6 57.9h0M418.9 57.6h0M420.2 57.4h0M421.6 57.2h0M422.9 57.0h0M424.2 56.8h0M425.5 56.5h0M426.8 56.3h0M428.1 56.0h0M429.5 55.8h0M430.8 55.6h0M432.1 55.3h0M433.4 55.1h0M434.7 54.8h0M436.0 54.5h0M437.3 54.3h0M438.7 54.0h0M440.0 53.7h0M441.3 53.4h0M442.6 53.2h0M443.9 52.9h0M445.2 52.6h0M446.6 52.3h0M447.9 52.0h0M449.2 51.7h0M450.5 51.4h0M451.8 51.1h0M453.1 50.7h0M295.9 201.3h0M296.6 197.6h0M297.3 193.9h0M298.0 190.2h0M298.7 186.5h0M299.5 182.7h0M309.3 137.6h0M310.2 133.9h0M311.2 130.1h0M312.2 126.5h0M313.3 122.9h0M316.7 112.1h0M318.0 108.7h0M323.0 97.4h0M324.3 95.2h0M325.5 93.2h0M326.8 91.2h0M328.2 89.5h0M329.5 87.9h0M330.8 86.4h0M332.1 85.1h0M333.4 83.9h0M334.7 82.8h0M336.1 81.7h0M337.4 80.8h0M338.7 79.9h0M340.0 79.2h0M341.3 78.4h0M342.6 77.7h0M343.9 77.1h0M345.3 76.5h0M346.6 76.0h0M347.9 75.4h0M349.2 75.0h0M350.5 74.5h0M351.8 74.1h0M353.2 73.7h0M354.5 73.3h0M355.8 72.9h0M357.1 72.6h0M358.4 72.2h0M359.7 71.9h0M361.0 71.6h0M362.4 71.3h0M363.7 71.0h0M365.0 70.8h0M366.3 70.5h0M367.6 70.2h0M368.9 70.0h0M370.3 69.8h0M371.6 69.5h0M372.9 69.2h0M374.2 68.8h0M375.5 68.5h0M376.8 68.1h0M378.2 67.7h0M379.5 67.3h0M380.8 66.8h0M382.1 66.4h0M383.4 66.0h0M384.7 65.5h0M386.0 65.1h0M387.4 64.7h0M388.7 64.2h0M390.0 63.8h0M391.3 63.4h0M392.6 63.0h0M393.9 62.6h0M395.3 62.3h0M396.6 62.0h0M397.9 61.7h0M399.2 61.4h0M400.5 61.2h0M401.8 61.0h0M403.1 60.9h0M404.5 60.7h0M405.8 60.5h0M407.1 60.3h0M408.4 60.1h0M409.7 59.9h0M411.0 59.7h0M412.4 59.5h0M413.7 59.4h0M415.0 59.2h0M416.3 59.0h0M417.6 58.8h0M418.9 58.6h0M420.2 58.4h0M421.6 58.2h0M422.9 58.0h0M424.2 57.8h0M425.5 57.5h0M426.8 57.3h0M428.1 57.1h0M429.5 56.9h0M430.8 56.7h0M432.1 56.5h0M433.4 56.2h0M434.7 56.0h0M436.0 55.8h0M437.3 55.5h0M438.7 55.3h0M440.0 55.0h0M441.3 54.8h0M442.6 54.6h0M443.9 54.3h0M445.2 54.0h0M446.6 53.8h0M447.9 53.5h0M449.2 53.3h0M450.5 53.0h0M451.8 52.7h0M453.1 52.4h0M293.1 219.4h0M293.8 215.7h0M294.5 212.0h0M295.2 208.2h0M295.9 204.6h0M321.4 105.5h0M323.9 100.4h0M325.2 98.1h0M326.5 96.0h0M327.8 94.0h0M329.1 92.2h0M330.5 90.6h0M331.8 89.1h0M333.1 87.7h0M334.4 86.4h0M335.7 85.2h0M337.0 84.2h0M338.4 83.2h0M339.7 82.2h0M341.0 81.4h0M342.3 80.6h0M343.6 79.8h0M344.9 79.1h0M346.3 78.5h0M347.6 77.9h0M348.9 77.3h0M350.2 76.8h0M351.5 76.3h0M352.8 75.8h0M354.1 75.3h0M355.5 74.9h0M356.8 74.5h0M358.1 74.1h0M359.4 73.7h0M360.7 73.4h0M362.0 73.0h0M363.4 72.7h0M364.7 72.4h0M366.0 72.1h0M367.3 71.8h0M368.6 71.5h0M369.9 71.3h0M371.2 71.0h0M372.6 70.6h0M373.9 70.3h0M375.2 69.9h0M376.5 69.5h0M377.8 69.0h0M379.1 68.6h0M380.5 68.1h0M381.8 67.7h0M383.1 67.2h0M384.4 66.7h0M385.7 66.3h0M387.0 65.8h0M388.3 65.3h0M389.7 64.9h0M391.0 64.5h0M392.3 64.0h0M393.6 63.7h0M394.9 63.3h0M396.2 63.0h0M397.6 62.6h0M398.9 62.4h0M400.2 62.1h0M401.5 62.0h0M402.8 61.8h0M404.1 61.6h0M405.4 61.4h0M406.8 61.2h0M408.1 61.1h0M409.4 60.9h0M410.7 60.7h0M412.0 60.5h0M413.3 60.3h0M414.7 60.2h0M416.0 60.0h0M417.3 59.8h0M418.6 59.6h0M419.9 59.4h0M421.2 59.2h0M422.5 59.0h0M423.9 58.9h0M425.2 58.7h0M426.5 58.5h0M427.8 58.3h0M429.1 58.1h0M430.4 57.9h0M431.8 57.7h0M433.1 57.5h0M434.4 57.3h0M435.7 57.1h0M437.0 56.9h0M438.3 56.7h0M439.7 56.4h0M441.0 56.2h0M442.3 56.0h0M443.6 55.8h0M444.9 55.6h0M446.2 55.3h0M447.5 55.1h0M448.9 54.9h0M450.2 54.7h0M451.5 54.4h0M452.8 54.2h0M307.2 155.8h0M308.1 152.0h0M309.0 148.3h0M310.0 144.7h0M311.0 141.0h0M316.5 122.7h0M317.7 119.2h0M319.1 115.7h0M320.4 112.5h0M321.7 109.5h0M324.3 104.1h0M325.6 101.7h0M327.0 99.5h0M328.3 97.5h0M329.6 95.6h0M330.9 93.9h0M332.2 92.3h0M333.5 90.8h0M334.8 89.5h0M336.2 88.2h0M337.5 87.0h0M338.8 85.9h0M340.1 84.9h0M341.4 84.0h0M342.7 83.1h0M344.1 82.3h0M345.4 81.5h0M346.7 80.8h0M348.0 80.1h0M349.3 79.5h0M350.6 78.9h0M352.0 78.3h0M353.3 77.8h0M354.6 77.3h0M355.9 76.8h0M357.2 76.3h0M358.5 75.9h0M359.8 75.5h0M361.2 75.1h0M362.5 74.7h0M363.8 74.3h0M365.1 74.0h0M366.4 73.6h0M367.7 73.3h0M369.1 73.0h0M370.4 72.7h0M371.7 72.4h0M373.0 72.0h0M374.3 71.6h0M375.6 71.1h0M376.9 70.7h0M378.3 70.2h0M379.6 69.7h0M380.9 69.3h0M382.2 68.8h0M383.5 68.3h0M384.8 67.8h0M386.2 67.3h0M387.5 66.8h0M388.8 66.3h0M390.1 65.8h0M391.4 65.4h0M392.7 64.9h0M394.0 64.5h0M395.4 64.2h0M396.7 63.8h0M398.0 63.5h0M399.3 63.3h0M400.6 63.0h0M401.9 62.9h0M403.3 62.7h0M404.6 62.5h0M405.9 62.3h0M407.2 62.2h0M408.5 62.0h0M409.8 61.8h0M411.1 61.6h0M412.5 61.5h0M413.8 61.3h0M415.1 61.1h0M416.4 60.9h0M417.7 60.8h0M419.0 60.6h0M420.4 60.4h0M421.7 60.2h0M423.0 60.1h0M424.3 59.9h0M425.6 59.7h0M426.9 59.5h0M428.3 59.4h0M429.6 59.2h0M430.9 59.0h0M432.2 58.8h0M433.5 58.7h0M434.8 58.5h0M436.1 58.3h0M437.5 58.1h0M438.8 57.9h0M440.1 57.7h0M441.4 57.6h0M442.7 57.4h0M444.0 57.2h0M445.4 57.0h0M446.7 56.8h0M448.0 56.6h0M449.3 56.4h0M450.6 56.2h0M451.9 56.0h0M453.2 55.8h0M303.1 178.0h0M303.9 174.4h0M304.8 170.5h0M305.6 166.8h0M306.5 163.1h0M307.4 159.5h0M313.4 137.4h0M314.5 133.8h0M315.6 130.2h0M316.8 126.7h0M324.7 107.9h0M326.0 105.5h0M327.3 103.2h0M328.6 101.1h0M329.9 99.2h0M331.2 97.4h0M332.5 95.7h0M333.9 94.1h0M335.2 92.7h0M336.5 91.3h0M337.8 90.0h0M339.1 88.9h0M340.4 87.8h0M341.8 86.7h0M343.1 85.8h0M344.4 84.9h0M345.7 84.0h0M347.0 83.2h0M348.3 82.5h0M349.6 81.8h0M351.0 81.1h0M352.3 80.5h0M353.6 79.9h0M354.9 79.3h0M356.2 78.8h0M357.5 78.3h0M358.9 77.8h0M360.2 77.3h0M361.5 76.9h0M362.8 76.5h0M364.1 76.1h0M365.4 75.7h0M366.8 75.3h0M368.1 75.0h0M369.4 74.6h0M370.7 74.3h0M372.0 73.9h0M373.3 73.4h0M374.6 73.0h0M376.0 72.5h0M377.3 72.0h0M378.6 71.5h0M379.9 71.0h0M381.2 70.5h0M382.5 70.0h0M383.9 69.4h0M385.2 68.9h0M386.5 68.4h0M387.8 67.9h0M389.1 67.3h0M390.4 66.9h0M391.7 66.4h0M393.1 66.0h0M394.4 65.5h0M395.7 65.2h0M397.0 64.8h0M398.3 64.5h0M399.6 64.3h0M401.0 64.0h0M402.3 63.9h0M403.6 63.7h0M404.9 63.5h0M406.2 63.3h0M407.5 63.2h0M408.8 63.0h0M410.2 62.8h0M411.5 62.6h0M412.8 62.5h0M414.1 62.3h0M415.4 62.1h0M416.7 62.0h0M418.1 61.8h0M419.4 61.7h0M420.7 61.5h0M422.0 61.3h0M423.3 61.2h0M424.6 61.0h0M425.9 60.9h0M427.3 60.7h0M428.6 60.5h0M429.9 60.4h0M431.2 60.2h0M432.5 60.1h0M433.8 59.9h0M435.2 59.7h0M436.5 59.6h0M437.8 59.4h0M439.1 59.3h0M440.4 59.1h0M441.7 58.9h0M443.0 58.8h0M444.4 58.6h0M445.7 58.4h0M447.0 58.3h0M448.3 58.1h0M449.6 57.9h0M450.9 57.8h0M452.3 57.6h0M300.6 193.4h0M301.4 189.6h0M302.2 185.9h0M303.1 182.3h0M319.6 123.8h0M320.9 120.6h0M322.2 117.5h0M324.9 111.9h0M326.2 109.4h0M327.5 107.1h0M328.8 104.9h0M330.1 102.9h0M331.5 101.0h0M332.8 99.2h0M334.1 97.5h0M335.4 96.0h0M336.7 94.5h0M338.0 93.2h0M339.3 91.9h0M340.7 90.7h0M342.0 89.6h0M343.3 88.6h0M344.6 87.6h0M345.9 86.7h0M347.2 85.8h0M348.6 85.0h0M349.9 84.2h0M351.2 83.5h0M352.5 82.8h0M353.8 82.1h0M355.1 81.5h0M356.4 80.9h0M357.8 80.4h0M359.1 79.8h0M360.4 79.3h0M361.7 78.8h0M363.0 78.4h0M364.3 77.9h0M365.7 77.5h0M367.0 77.1h0M368.3 76.7h0M369.6 76.3h0M370.9 75.9h0M372.2 75.5h0M373.5 75.0h0M374.9 74.5h0M376.2 74.0h0M377.5 73.5h0M378.8 73.0h0M380.1 72.4h0M381.4 71.8h0M382.8 71.3h0M384.1 70.7h0M385.4 70.2h0M386.7 69.6h0M388.0 69.1h0M389.3 68.5h0M390.6 68.0h0M392.0 67.5h0M393.3 67.1h0M394.6 66.6h0M395.9 66.3h0M397.2 65.9h0M398.5 65.6h0M399.9 65.3h0M401.2 65.1h0M402.5 64.9h0M403.8 64.8h0M405.1 64.6h0M406.4 64.4h0M407.8 64.2h0M409.1 64.1h0M410.4 63.9h0M411.7 63.7h0M413.0 63.6h0M414.3 63.4h0M415.6 63.3h0M417.0 63.1h0M418.3 62.9h0M419.6 62.8h0M420.9 62.6h0M422.2 62.5h0M423.5 62.3h0M424.9 62.2h0M426.2 62.1h0M427.5 61.9h0M428.8 61.8h0M430.1 61.6h0M431.4 61.5h0M432.7 61.3h0M434.1 61.2h0M435.4 61.1h0M436.7 60.9h0M438.0 60.8h0M439.3 60.6h0M440.6 60.5h0M442.0 60.4h0M443.3 60.2h0M444.6 60.1h0M445.9 59.9h0M447.2 59.8h0M448.5 59.7h0M449.8 59.5h0M451.2 59.4h0M452.5 59.3h0M299.8 201.0h0M300.6 197.3h0M310.6 156.6h0M311.6 152.8h0M312.7 149.3h0M313.7 145.6h0M314.9 141.9h0M319.8 127.9h0M325.1 115.9h0M326.4 113.3h0M327.7 110.9h0M329.0 108.6h0M330.4 106.5h0M331.7 104.5h0M333.0 102.7h0M334.3 101.0h0M335.6 99.3h0M336.9 97.8h0M338.2 96.4h0M339.6 95.0h0M340.9 93.8h0M342.2 92.6h0M343.5 91.4h0M344.8 90.4h0M346.1 89.4h0M347.5 88.5h0M348.8 87.6h0M350.1 86.7h0M351.4 85.9h0M352.7 85.2h0M354.0 84.5h0M355.3 83.8h0M356.7 83.1h0M358.0 82.5h0M359.3 81.9h0M360.6 81.4h0M361.9 80.9h0M363.2 80.3h0M364.6 79.9h0M365.9 79.4h0M367.2 78.9h0M368.5 78.5h0M369.8 78.1h0M371.1 77.7h0M372.5 77.2h0M373.8 76.7h0M375.1 76.2h0M376.4 75.6h0M377.7 75.0h0M379.0 74.5h0M380.3 73.9h0M381.7 73.3h0M383.0 72.7h0M384.3 72.1h0M385.6 71.5h0M386.9 70.9h0M388.2 70.3h0M389.6 69.8h0M390.9 69.2h0M392.2 68.7h0M393.5 68.3h0M394.8 67.8h0M396.1 67.4h0M397.4 67.1h0M398.8 66.8h0M400.1 66.5h0M401.4 66.3h0M402.7 66.1h0M404.0 65.9h0M405.3 65.7h0M406.7 65.6h0M408.0 65.4h0M409.3 65.2h0M410.6 65.1h0M411.9 64.9h0M413.2 64.7h0M414.5 64.6h0M415.9 64.4h0M417.2 64.3h0M418.5 64.1h0M419.8 64.0h0M421.1 63.8h0M422.4 63.7h0M423.8 63.6h0M425.1 63.4h0M426.4 63.3h0M427.7 63.2h0M429.0 63.0h0M430.3 62.9h0M431.6 62.8h0M433.0 62.7h0M434.3 62.5h0M435.6 62.4h0M436.9 62.3h0M438.2 62.2h0M439.5 62.1h0M440.9 61.9h0M442.2 61.8h0M443.5 61.7h0M444.8 61.6h0M446.1 61.5h0M447.4 61.4h0M448.8 61.3h0M450.1 61.2h0M451.4 61.0h0M452.7 60.9h0M296.7 219.5h0M297.5 215.6h0M298.3 211.8h0M299.2 208.0h0M300.0 204.3h0M307.9 170.9h0M308.9 167.2h0M309.9 163.5h0M311.0 159.8h0M317.8 138.0h0M319.1 134.3h0M323.1 124.6h0M327.0 116.4h0M328.3 114.0h0M329.6 111.7h0M331.0 109.6h0M332.3 107.6h0M333.6 105.7h0M334.9 103.9h0M336.2 102.2h0M337.5 100.6h0M338.9 99.1h0M340.2 97.7h0M341.5 96.4h0M342.8 95.2h0M344.1 94.0h0M345.4 92.9h0M346.7 91.9h0M348.1 90.9h0M349.4 89.9h0M350.7 89.0h0M352.0 88.2h0M353.3 87.4h0M354.6 86.6h0M356.0 85.9h0M357.3 85.2h0M358.6 84.6h0M359.9 83.9h0M361.2 83.3h0M362.5 82.8h0M363.8 82.2h0M365.2 81.7h0M366.5 81.2h0M367.8 80.7h0M369.1 80.3h0M370.4 79.8h0M371.7 79.3h0M373.1 78.8h0M374.4 78.2h0M375.7 77.7h0M377.0 77.1h0M378.3 76.5h0M379.6 75.8h0M380.9 75.2h0M382.3 74.6h0M383.6 74.0h0M384.9 73.3h0M386.2 72.7h0M387.5 72.1h0M388.8 71.5h0M390.2 70.9h0M391.5 70.4h0M392.8 69.9h0M394.1 69.4h0M395.4 68.9h0M396.7 68.5h0M398.0 68.2h0M399.4 67.9h0M400.7 67.7h0M402.0 67.5h0M403.3 67.3h0M404.6 67.1h0M405.9 66.9h0M407.3 66.7h0M408.6 66.5h0M409.9 66.4h0M411.2 66.2h0M412.5 66.1h0M413.8 65.9h0M415.2 65.8h0M416.5 65.6h0M417.8 65.5h0M419.1 65.3h0M420.4 65.2h0M421.7 65.1h0M423.0 64.9h0M424.4 64.8h0M425.7 64.7h0M427.0 64.6h0M428.3 64.4h0M429.6 64.3h0M430.9 64.2h0M432.3 64.1h0M433.6 64.0h0M434.9 63.9h0M436.2 63.8h0M437.5 63.7h0M438.8 63.6h0M440.1 63.5h0M441.5 63.4h0M442.8 63.3h0M444.1 63.2h0M445.4 63.1h0M446.7 63.0h0M448.0 62.9h0M449.4 62.8h0M450.7 62.8h0M452.0 62.7h0M453.3 62.6h0M300.2 219.6h0M301.1 215.8h0M302.0 212.1h0M302.9 208.5h0M303.9 204.7h0M304.9 201.0h0M305.9 197.4h0M306.9 193.7h0M308.0 190.1h0M309.1 186.4h0M310.2 182.8h0M311.3 179.2h0M312.5 175.5h0M313.7 172.0h0M315.0 168.5h0M316.3 164.9h0M317.7 161.4h0M319.1 158.0h0M320.6 154.6h0M322.1 151.4h0M323.6 148.3h0M325.0 145.5h0M326.5 142.8h0M328.0 140.3h0M329.5 137.9h0M331.0 135.7h0M332.4 133.6h0M333.9 131.6h0M335.4 129.7h0M336.9 128.0h0M338.4 126.3h0M339.8 124.8h0M341.3 123.3h0M342.9 121.9h0M344.4 120.5h0M345.9 119.3h0M347.5 118.1h0M349.0 116.9h0M350.5 115.9h0M352.1 114.8h0M353.6 113.9h0M355.1 113.0h0M356.7 112.1h0M358.2 111.3h0M359.7 110.5h0M361.3 109.8h0M362.8 109.1h0M364.3 108.4h0M365.9 107.7h0M367.4 107.1h0M368.9 106.5h0M370.5 106.0h0M372.0 105.4h0M373.5 104.9h0M375.1 104.4h0M376.6 104.0h0M378.2 103.5h0M379.7 103.1h0M381.2 102.6h0M382.8 102.2h0M384.3 101.8h0M385.8 101.5h0M387.4 101.1h0M388.9 100.8h0M390.4 100.4h0M392.0 100.1h0M393.5 99.8h0M395.0 99.5h0M396.6 99.2h0M398.1 98.9h0M399.6 98.6h0M401.2 98.4h0M402.7 98.1h0M404.2 97.9h0M405.8 97.6h0M407.3 97.4h0M408.8 97.2h0M410.4 96.9h0M411.9 96.7h0M413.5 96.5h0M415.0 96.3h0M416.5 96.1h0M418.1 95.9h0M419.6 95.7h0M421.1 95.6h0M422.7 95.4h0M424.2 95.2h0M425.7 95.0h0M427.3 94.9h0M428.8 94.7h0M430.3 94.6h0M431.9 94.4h0M433.4 94.3h0M434.9 94.1h0M436.5 94.0h0M438.0 93.8h0M439.5 93.7h0M441.1 93.6h0M442.6 93.4h0M444.1 93.3h0M445.7 93.2h0M447.2 93.1h0M448.8 93.0h0M450.3 92.8h0M451.8 92.7h0M301.1 219.6h0M302.1 216.0h0M303.0 212.4h0M304.0 208.6h0M305.0 205.0h0M306.0 201.4h0M307.0 197.7h0M308.0 194.1h0M309.1 190.5h0M310.2 186.9h0M311.4 183.3h0M312.6 179.6h0M313.8 176.1h0M315.1 172.6h0M316.4 169.0h0M317.7 165.5h0M319.2 162.0h0M320.7 158.6h0M322.1 155.3h0M323.6 152.3h0M325.1 149.3h0M326.6 146.6h0M328.1 144.0h0M329.5 141.6h0M331.0 139.3h0M332.5 137.1h0M334.0 135.0h0M335.5 133.1h0M336.9 131.3h0M338.4 129.6h0M339.9 127.9h0M341.4 126.4h0M342.9 124.9h0M344.4 123.5h0M346.0 122.1h0M347.5 120.9h0M349.0 119.7h0M350.6 118.5h0M352.1 117.5h0M353.7 116.5h0M355.2 115.5h0M356.7 114.6h0M358.3 113.7h0M359.8 112.9h0M361.3 112.1h0M362.9 111.3h0M364.4 110.6h0M365.9 109.9h0M367.5 109.2h0M369.0 108.6h0M370.5 108.0h0M372.1 107.4h0M373.6 106.9h0M375.1 106.3h0M376.7 105.8h0M378.2 105.3h0M379.7 104.9h0M381.3 104.4h0M382.8 104.0h0M384.3 103.6h0M385.9 103.2h0M387.4 102.8h0M388.9 102.4h0M390.5 102.0h0M392.0 101.7h0M393.6 101.3h0M395.1 101.0h0M396.6 100.7h0M398.2 100.4h0M399.7 100.1h0M401.2 99.8h0M402.8 99.5h0M404.3 99.3h0M405.8 99.0h0M407.4 98.7h0M408.9 98.5h0M410.4 98.3h0M412.0 98.0h0M413.5 97.8h0M415.0 97.6h0M416.6 97.4h0M418.1 97.2h0M419.6 96.9h0M421.2 96.7h0M422.7 96.6h0M424.2 96.4h0M425.8 96.2h0M427.3 96.0h0M428.9 95.8h0M430.4 95.7h0M431.9 95.5h0M433.5 95.3h0M435.0 95.2h0M436.5 95.0h0M438.1 94.9h0M439.6 94.7h0M441.1 94.6h0M442.7 94.5h0M444.2 94.3h0M445.7 94.2h0M447.3 94.0h0M448.8 93.9h0M450.3 93.8h0M451.9 93.7h0M302.2 219.7h0M303.2 216.0h0M304.2 212.3h0M305.1 208.7h0M306.2 204.9h0M307.2 201.3h0M308.3 197.6h0M309.4 193.9h0M310.6 190.3h0M311.7 186.7h0M312.9 183.1h0M314.2 179.4h0M315.4 175.9h0M316.8 172.4h0M318.1 168.9h0M319.6 165.4h0M321.0 162.0h0M322.5 158.7h0M324.0 155.6h0M325.5 152.7h0M327.0 149.9h0M328.4 147.3h0M329.9 144.8h0M331.4 142.5h0M332.9 140.3h0M334.4 138.2h0M335.8 136.2h0M337.3 134.3h0M338.8 132.6h0M340.3 130.9h0M341.8 129.3h0M343.3 127.8h0M344.8 126.3h0M346.4 124.9h0M347.9 123.6h0M349.4 122.3h0M351.0 121.1h0M352.5 120.0h0M354.0 118.9h0M355.6 117.9h0M357.1 117.0h0M358.6 116.0h0M360.2 115.2h0M361.7 114.3h0M363.2 113.5h0M364.8 112.8h0M366.3 112.0h0M367.8 111.3h0M369.4 110.7h0M370.9 110.0h0M372.5 109.4h0M374.0 108.8h0M375.5 108.3h0M377.1 107.7h0M378.6 107.2h0M380.1 106.7h0M381.7 106.2h0M383.2 105.7h0M384.7 105.3h0M386.3 104.9h0M387.8 104.4h0M389.3 104.0h0M390.9 103.7h0M392.4 103.3h0M393.9 102.9h0M395.5 102.6h0M397.0 102.2h0M398.5 101.9h0M400.1 101.6h0M401.6 101.3h0M403.1 101.0h0M404.7 100.7h0M406.2 100.4h0M407.8 100.1h0M409.3 99.9h0M410.8 99.6h0M412.4 99.3h0M413.9 99.1h0M415.4 98.9h0M417.0 98.6h0M418.5 98.4h0M420.0 98.2h0M421.6 98.0h0M423.1 97.8h0M424.6 97.6h0M426.2 97.4h0M427.7 97.2h0M429.2 97.0h0M430.8 96.8h0M432.3 96.6h0M433.8 96.5h0M435.4 96.3h0M436.9 96.1h0M438.4 96.0h0M440.0 95.8h0M441.5 95.7h0M443.0 95.5h0M444.6 95.4h0M446.1 95.2h0M447.7 95.1h0M449.2 94.9h0M450.7 94.8h0M452.3 94.7h0M303.3 219.7h0M304.3 216.1h0M305.3 212.5h0M306.3 208.8h0M307.4 205.2h0M308.5 201.5h0M309.6 197.9h0M310.7 194.2h0M311.9 190.7h0M313.1 187.1h0M314.3 183.4h0M315.6 179.9h0M316.9 176.4h0M318.3 172.9h0M319.7 169.4h0M321.2 166.0h0M322.7 162.7h0M324.2 159.6h0M325.6 156.6h0M327.1 153.8h0M328.6 151.1h0M330.1 148.6h0M331.6 146.2h0M333.0 143.9h0M334.5 141.8h0M336.0 139.7h0M337.5 137.8h0M339.0 136.0h0M340.4 134.2h0M341.9 132.6h0M343.5 131.0h0M345.0 129.4h0M346.5 128.0h0M348.1 126.6h0M349.6 125.3h0M351.1 124.0h0M352.7 122.8h0M354.2 121.7h0M355.7 120.6h0M357.3 119.6h0M358.8 118.6h0M360.3 117.7h0M361.9 116.8h0M363.4 116.0h0M364.9 115.2h0M366.5 114.4h0M368.0 113.7h0M369.5 112.9h0M371.1 112.3h0M372.6 111.6h0M374.2 111.0h0M375.7 110.4h0M377.2 109.8h0M378.8 109.2h0M380.3 108.7h0M381.8 108.2h0M383.4 107.7h0M384.9 107.2h0M386.4 106.7h0M388.0 106.3h0M389.5 105.9h0M391.0 105.4h0M392.6 105.0h0M394.1 104.6h0M395.6 104.3h0M397.2 103.9h0M398.7 103.5h0M400.2 103.2h0M401.8 102.9h0M403.3 102.6h0M404.8 102.2h0M406.4 101.9h0M407.9 101.6h0M409.4 101.4h0M411.0 101.1h0M412.5 100.8h0M414.1 100.5h0M415.6 100.3h0M417.1 100.0h0M418.7 99.8h0M420.2 99.6h0M421.7 99.3h0M423.3 99.1h0M424.8 98.9h0M426.3 98.7h0M427.9 98.5h0M429.4 98.3h0M430.9 98.1h0M432.5 97.9h0M434.0 97.7h0M435.5 97.5h0M437.1 97.3h0M438.6 97.1h0M440.1 97.0h0M441.7 96.8h0M443.2 96.6h0M444.7 96.5h0M446.3 96.3h0M447.8 96.2h0M449.4 96.0h0M450.9 95.9h0M452.4 95.7h0M304.5 219.8h0M305.6 216.1h0M306.6 212.4h0M307.7 208.9h0M308.8 205.2h0M309.9 201.6h0M311.0 198.0h0M312.2 194.5h0M313.4 190.9h0M314.6 187.3h0M315.9 183.8h0M317.2 180.3h0M318.6 176.8h0M320.0 173.3h0M321.5 169.8h0M323.0 166.5h0M324.4 163.4h0M325.9 160.4h0M327.4 157.5h0M328.9 154.8h0M330.4 152.3h0M331.8 149.8h0M333.3 147.5h0M334.8 145.3h0M336.3 143.2h0M337.8 141.2h0M339.2 139.4h0M340.7 137.6h0M342.2 135.9h0M343.7 134.2h0M345.3 132.6h0M346.8 131.1h0M348.3 129.6h0M349.9 128.3h0M351.4 127.0h0M352.9 125.7h0M354.5 124.5h0M356.0 123.4h0M357.5 122.3h0M359.1 121.3h0M360.6 120.3h0M362.1 119.4h0M363.7 118.5h0M365.2 117.7h0M366.8 116.8h0M368.3 116.1h0M369.8 115.3h0M371.4 114.6h0M372.9 113.9h0M374.4 113.2h0M376.0 112.6h0M377.5 112.0h0M379.0 111.4h0M380.6 110.8h0M382.1 110.2h0M383.6 109.7h0M385.2 109.2h0M386.7 108.7h0M388.2 108.2h0M389.8 107.8h0M391.3 107.3h0M392.8 106.9h0M394.4 106.5h0M395.9 106.1h0M397.4 105.7h0M399.0 105.3h0M400.5 104.9h0M402.0 104.6h0M403.6 104.2h0M405.1 103.9h0M406.7 103.5h0M408.2 103.2h0M409.7 102.9h0M411.3 102.6h0M412.8 102.3h0M414.3 102.1h0M415.9 101.8h0M417.4 101.5h0M418.9 101.2h0M420.5 101.0h0M422.0 100.7h0M423.5 100.5h0M425.1 100.3h0M426.6 100.0h0M428.1 99.8h0M429.7 99.6h0M431.2 99.4h0M432.7 99.2h0M434.3 99.0h0M435.8 98.8h0M437.3 98.6h0M438.9 98.4h0M440.4 98.2h0M442.0 98.0h0M443.5 97.9h0M445.0 97.7h0M446.6 97.5h0M448.1 97.3h0M449.6 97.2h0M451.2 97.0h0M452.7 96.9h0M305.9 219.8h0M306.9 216.2h0M308.0 212.5h0M309.1 208.9h0M310.2 205.2h0M311.4 201.6h0M312.6 197.9h0M313.8 194.4h0M315.1 190.8h0M316.4 187.2h0M317.7 183.7h0M319.1 180.3h0M320.5 176.8h0M322.0 173.3h0M323.4 170.0h0M324.9 166.9h0M326.4 163.9h0M327.9 161.0h0M329.4 158.3h0M330.8 155.7h0M332.3 153.3h0M333.8 150.9h0M335.3 148.7h0M336.8 146.6h0M338.2 144.5h0M339.7 142.6h0M341.2 140.8h0M342.7 139.0h0M344.2 137.3h0M345.8 135.7h0M347.3 134.1h0M348.8 132.6h0M350.4 131.2h0M351.9 129.9h0M353.4 128.6h0M355.0 127.4h0M356.5 126.2h0M358.0 125.1h0M359.6 124.0h0M361.1 123.0h0M362.6 122.0h0M364.2 121.1h0M365.7 120.2h0M367.2 119.3h0M368.8 118.5h0M370.3 117.7h0M371.8 116.9h0M373.4 116.2h0M374.9 115.5h0M376.5 114.8h0M378.0 114.1h0M379.5 113.5h0M381.1 112.9h0M382.6 112.3h0M384.1 111.8h0M385.7 111.2h0M387.2 110.7h0M388.7 110.2h0M390.3 109.7h0M391.8 109.2h0M393.3 108.8h0M394.9 108.3h0M396.4 107.9h0M397.9 107.5h0M399.5 107.1h0M401.0 106.7h0M402.5 106.3h0M404.1 105.9h0M405.6 105.6h0M407.1 105.2h0M408.7 104.9h0M410.2 104.6h0M411.8 104.2h0M413.3 103.9h0M414.8 103.6h0M416.4 103.3h0M417.9 103.0h0M419.4 102.8h0M421.0 102.5h0M422.5 102.2h0M424.0 102.0h0M425.6 101.7h0M427.1 101.5h0M428.6 101.2h0M430.2 101.0h0M431.7 100.8h0M433.2 100.5h0M434.8 100.3h0M436.3 100.1h0M437.8 99.9h0M439.4 99.7h0M440.9 99.5h0M442.4 99.3h0M444.0 99.1h0M445.5 98.9h0M447.1 98.8h0M448.6 98.6h0M450.1 98.4h0M451.7 98.2h0M453.2 98.1h0M307.3 219.8h0M308.4 216.1h0M309.5 212.5h0M310.6 208.9h0M311.8 205.3h0M313.0 201.7h0M314.2 198.2h0M315.4 194.7h0M316.8 191.1h0M318.1 187.5h0M319.5 184.0h0M320.9 180.5h0M322.4 177.1h0M323.9 173.8h0M325.4 170.7h0M326.8 167.6h0M328.3 164.8h0M329.8 162.0h0M331.3 159.4h0M332.8 156.9h0M334.2 154.5h0M335.7 152.3h0M337.2 150.1h0M338.7 148.0h0M340.2 146.1h0M341.6 144.2h0M343.2 142.3h0M344.7 140.6h0M346.3 138.9h0M347.8 137.3h0M349.3 135.8h0M350.9 134.3h0M352.4 132.9h0M353.9 131.6h0M355.5 130.3h0M357.0 129.1h0M358.5 127.9h0M360.1 126.8h0M361.6 125.7h0M363.1 124.7h0M364.7 123.7h0M366.2 122.8h0M367.7 121.9h0M369.3 121.0h0M370.8 120.2h0M372.3 119.4h0M373.9 118.6h0M375.4 117.9h0M376.9 117.1h0M378.5 116.5h0M380.0 115.8h0M381.5 115.2h0M383.1 114.5h0M384.6 113.9h0M386.2 113.4h0M387.7 112.8h0M389.2 112.3h0M390.8 111.8h0M392.3 111.2h0M393.8 110.8h0M395.4 110.3h0M396.9 109.8h0M398.4 109.4h0M400.0 109.0h0M401.5 108.5h0M403.0 108.1h0M404.6 107.7h0M406.1 107.4h0M407.6 107.0h0M409.2 106.6h0M410.7 106.3h0M412.2 105.9h0M413.8 105.6h0M415.3 105.3h0M416.8 105.0h0M418.4 104.7h0M419.9 104.4h0M421.5 104.1h0M423.0 103.8h0M424.5 103.5h0M426.1 103.2h0M427.6 103.0h0M429.1 102.7h0M430.7 102.5h0M432.2 102.2h0M433.7 102.0h0M435.3 101.8h0M436.8 101.5h0M438.3 101.3h0M439.9 101.1h0M441.4 100.9h0M442.9 100.7h0M444.5 100.5h0M446.0 100.3h0M447.5 100.1h0M449.1 99.9h0M450.6 99.7h0M452.1 99.5h0M308.8 219.7h0M310.0 216.0h0M311.1 212.4h0M312.3 208.7h0M313.5 205.2h0M314.8 201.5h0M316.0 198.0h0M317.4 194.5h0M318.7 190.9h0M320.2 187.4h0M321.6 183.9h0M323.1 180.5h0M324.5 177.2h0M326.0 174.1h0M327.5 171.1h0M329.0 168.2h0M330.5 165.5h0M331.9 162.9h0M333.4 160.4h0M334.9 158.0h0M336.4 155.7h0M337.9 153.5h0M339.3 151.4h0M340.8 149.4h0M342.3 147.5h0M343.8 145.6h0M345.4 143.8h0M346.9 142.1h0M348.4 140.4h0M350.0 138.8h0M351.5 137.3h0M353.0 135.9h0M354.6 134.5h0M356.1 133.2h0M357.7 132.0h0M359.2 130.8h0M360.7 129.6h0M362.3 128.5h0M363.8 127.4h0M365.3 126.4h0M366.9 125.4h0M368.4 124.5h0M369.9 123.6h0M371.5 122.7h0M373.0 121.9h0M374.5 121.1h0M376.1 120.3h0M377.6 119.6h0M379.1 118.8h0M380.7 118.1h0M382.2 117.5h0M383.7 116.8h0M385.3 116.2h0M386.8 115.6h0M388.3 115.0h0M389.9 114.4h0M391.4 113.9h0M393.0 113.3h0M394.5 112.8h0M396.0 112.3h0M397.6 111.8h0M399.1 111.4h0M400.6 110.9h0M402.2 110.5h0M403.7 110.0h0M405.2 109.6h0M406.8 109.2h0M408.3 108.8h0M409.8 108.4h0M411.4 108.1h0M412.9 107.7h0M414.4 107.4h0M416.0 107.0h0M417.5 106.7h0M419.0 106.4h0M420.6 106.0h0M422.1 105.7h0M423.6 105.4h0M425.2 105.1h0M426.7 104.8h0M428.3 104.6h0M429.8 104.3h0M431.3 104.0h0M432.9 103.8h0M434.4 103.5h0M435.9 103.3h0M437.5 103.0h0M439.0 102.8h0M440.5 102.6h0M442.1 102.3h0M443.6 102.1h0M445.1 101.9h0M446.7 101.7h0M448.2 101.5h0M449.7 101.3h0M451.3 101.1h0M452.8 100.9h0M310.5 219.7h0M311.6 216.1h0M312.8 212.5h0M314.0 208.9h0M315.3 205.4h0M316.6 201.7h0M317.9 198.2h0M319.3 194.7h0M320.7 191.1h0M322.2 187.6h0M323.7 184.2h0M325.1 180.9h0M326.6 177.8h0M328.1 174.8h0M329.6 171.9h0M331.1 169.2h0M332.5 166.5h0M334.0 164.0h0M335.5 161.6h0M337.0 159.3h0M338.5 157.1h0M339.9 154.9h0M341.4 152.9h0M343.0 150.9h0M344.5 149.0h0M346.0 147.1h0M347.6 145.4h0M349.1 143.7h0M350.6 142.1h0M352.2 140.5h0M353.7 139.1h0M355.2 137.7h0M356.8 136.3h0M358.3 135.0h0M359.8 133.8h0M361.4 132.6h0M362.9 131.4h0M364.4 130.3h0M366.0 129.2h0M367.5 128.2h0M369.1 127.2h0M370.6 126.3h0M372.1 125.4h0M373.7 124.5h0M375.2 123.7h0M376.7 122.9h0M378.3 122.1h0M379.8 121.3h0M381.3 120.6h0M382.9 119.9h0M384.4 119.2h0M385.9 118.5h0M387.5 117.9h0M389.0 117.3h0M390.5 116.7h0M392.1 116.1h0M393.6 115.6h0M395.1 115.0h0M396.7 114.5h0M398.2 114.0h0M399.7 113.5h0M401.3 113.0h0M402.8 112.5h0M404.4 112.1h0M405.9 111.6h0M407.4 111.2h0M409.0 110.8h0M410.5 110.4h0M412.0 110.0h0M413.6 109.6h0M415.1 109.2h0M416.6 108.9h0M418.2 108.5h0M419.7 108.2h0M421.2 107.8h0M422.8 107.5h0M424.3 107.2h0M425.8 106.9h0M427.4 106.6h0M428.9 106.3h0M430.4 106.0h0M432.0 105.7h0M433.5 105.4h0M435.0 105.1h0M436.6 104.9h0M438.1 104.6h0M439.7 104.3h0M441.2 104.1h0M442.7 103.9h0M444.3 103.6h0M445.8 103.4h0M447.3 103.2h0M448.9 102.9h0M450.4 102.7h0M451.9 102.5h0M312.2 219.8h0M313.4 216.2h0M314.6 212.6h0M315.9 209.0h0M317.2 205.5h0M318.5 202.0h0M319.9 198.5h0M321.3 195.0h0M322.8 191.4h0M324.3 188.1h0M325.8 184.8h0M327.2 181.7h0M328.7 178.7h0M330.2 175.8h0M331.7 173.0h0M333.2 170.4h0M334.6 167.8h0M336.1 165.4h0M337.6 163.0h0M339.1 160.8h0M340.5 158.7h0M342.1 156.5h0M343.6 154.5h0M345.2 152.5h0M346.7 150.6h0M348.2 148.8h0M349.8 147.1h0M351.3 145.5h0M352.8 143.9h0M354.4 142.4h0M355.9 140.9h0M357.4 139.5h0M359.0 138.2h0M360.5 136.9h0M362.0 135.7h0M363.6 134.5h0M365.1 133.3h0M366.6 132.2h0M368.2 131.2h0M369.7 130.1h0M371.2 129.2h0M372.8 128.2h0M374.3 127.3h0M375.8 126.4h0M377.4 125.6h0M378.9 124.8h0M380.5 124.0h0M382.0 123.2h0M383.5 122.5h0M385.1 121.7h0M386.6 121.0h0M388.1 120.4h0M389.7 119.7h0M391.2 119.1h0M392.7 118.5h0M394.3 117.9h0M395.8 117.3h0M397.3 116.8h0M398.9 116.2h0M400.4 115.7h0M401.9 115.2h0M403.5 114.7h0M405.0 114.2h0M406.5 113.7h0M408.1 113.3h0M409.6 112.9h0M411.1 112.4h0M412.7 112.0h0M414.2 111.6h0M415.8 111.2h0M417.3 110.8h0M418.8 110.4h0M420.4 110.1h0M421.9 109.7h0M423.4 109.4h0M425.0 109.0h0M426.5 108.7h0M428.0 108.4h0M429.6 108.0h0M431.1 107.7h0M432.6 107.4h0M434.2 107.1h0M435.7 106.8h0M437.2 106.6h0M438.8 106.3h0M440.3 106.0h0M441.8 105.8h0M443.4 105.5h0M444.9 105.2h0M446.4 105.0h0M448.0 104.7h0M449.5 104.5h0M451.1 104.3h0M452.6 104.0h0M314.1 219.7h0M315.3 216.1h0M316.6 212.6h0M317.9 209.1h0M319.3 205.5h0M320.7 202.0h0M322.1 198.5h0M323.6 195.1h0M325.0 191.7h0M326.5 188.5h0M328.0 185.4h0M329.5 182.4h0M331.0 179.5h0M332.4 176.7h0M333.9 174.1h0M335.4 171.5h0M336.9 169.1h0M338.4 166.7h0M339.8 164.4h0M341.4 162.2h0M342.9 160.0h0M344.4 158.0h0M346.0 156.0h0M347.5 154.1h0M349.0 152.3h0M350.6 150.5h0M352.1 148.8h0M353.7 147.2h0M355.2 145.7h0M356.7 144.2h0M358.3 142.7h0M359.8 141.4h0M361.3 140.0h0M362.9 138.8h0M364.4 137.5h0M365.9 136.4h0M367.5 135.2h0M369.0 134.1h0M370.5 133.1h0M372.1 132.1h0M373.6 131.1h0M375.1 130.1h0M376.7 129.2h0M378.2 128.3h0M379.7 127.5h0M381.3 126.6h0M382.8 125.8h0M384.3 125.1h0M385.9 124.3h0M387.4 123.6h0M388.9 122.9h0M390.5 122.2h0M392.0 121.6h0M393.6 120.9h0M395.1 120.3h0M396.6 119.7h0M398.2 119.1h0M399.7 118.5h0M401.2 118.0h0M402.8 117.5h0M404.3 116.9h0M405.8 116.4h0M407.4 115.9h0M408.9 115.5h0M410.4 115.0h0M412.0 114.5h0M413.5 114.1h0M415.0 113.7h0M416.6 113.3h0M418.1 112.8h0M419.6 112.4h0M421.2 112.1h0M422.7 111.7h0M424.2 111.3h0M425.8 110.9h0M427.3 110.6h0M428.9 110.2h0M430.4 109.9h0M431.9 109.6h0M433.5 109.3h0M435.0 108.9h0M436.5 108.6h0M438.1 108.3h0M439.6 108.0h0M441.1 107.8h0M442.7 107.5h0M444.2 107.2h0M445.7 106.9h0M447.3 106.7h0M448.8 106.4h0M450.3 106.2h0M451.9 105.9h0M316.0 219.8h0M317.4 216.2h0M318.7 212.7h0M320.0 209.2h0M321.5 205.6h0M322.9 202.2h0M324.4 198.7h0M325.9 195.4h0M327.3 192.2h0M328.8 189.1h0M330.3 186.1h0M331.8 183.2h0M333.3 180.5h0M334.7 177.8h0M336.2 175.3h0M337.7 172.8h0M339.2 170.4h0M340.8 168.0h0M342.3 165.7h0M343.8 163.6h0M345.4 161.5h0M346.9 159.5h0M348.4 157.6h0M350.0 155.7h0M351.5 153.9h0M353.0 152.2h0M354.6 150.6h0M356.1 149.0h0M357.7 147.5h0M359.2 146.0h0M360.7 144.6h0M362.3 143.2h0M363.8 141.9h0M365.3 140.7h0M366.9 139.5h0M368.4 138.3h0M369.9 137.2h0M371.5 136.1h0M373.0 135.0h0M374.5 134.0h0M376.1 133.0h0M377.6 132.1h0M379.1 131.2h0M380.7 130.3h0M382.2 129.4h0M383.7 128.6h0M385.3 127.8h0M386.8 127.0h0M388.3 126.2h0M389.9 125.5h0M391.4 124.8h0M393.0 124.1h0M394.5 123.4h0M396.0 122.8h0M397.6 122.2h0M399.1 121.6h0M400.6 121.0h0M402.2 120.4h0M403.7 119.8h0M405.2 119.3h0M406.8 118.7h0M408.3 118.2h0M409.8 117.7h0M411.4 117.2h0M412.9 116.8h0M414.4 116.3h0M416.0 115.8h0M417.5 115.4h0M419.0 115.0h0M420.6 114.5h0M422.1 114.1h0M423.6 113.7h0M425.2 113.3h0M426.7 113.0h0M428.3 112.6h0M429.8 112.2h0M431.3 111.9h0M432.9 111.5h0M434.4 111.2h0M435.9 110.8h0M437.5 110.5h0M439.0 110.2h0M440.5 109.9h0M442.1 109.6h0M443.6 109.3h0M445.1 109.0h0M446.7 108.7h0M448.2 108.4h0M449.7 108.2h0M318.2 219.7h0M319.6 216.1h0M321.0 212.7h0M322.4 209.2h0M323.9 205.6h0M325.4 202.2h0M326.8 198.9h0M328.3 195.7h0M329.8 192.7h0M331.3 189.7h0M332.8 186.9h0M334.2 184.1h0M335.7 181.5h0M337.3 178.8h0M338.8 176.3h0M340.3 173.8h0M341.9 171.5h0M343.4 169.2h0M344.9 167.0h0M346.5 164.9h0M348.0 162.9h0M349.5 161.0h0M351.1 159.1h0M352.6 157.3h0M354.1 155.6h0M355.7 153.9h0M357.2 152.3h0M358.7 150.8h0M360.3 149.3h0M361.8 147.8h0M363.4 146.4h0M364.9 145.1h0M366.4 143.8h0M368.0 142.6h0M369.5 141.4h0M371.0 140.2h0M372.6 139.1h0M374.1 138.0h0M375.6 137.0h0M377.2 136.0h0M378.7 135.0h0M380.2 134.0h0M381.8 133.1h0M383.3 132.2h0M384.8 131.4h0M386.4 130.5h0M387.9 129.7h0M389.4 128.9h0M391.0 128.2h0M392.5 127.4h0M394.0 126.7h0M395.6 126.0h0M397.1 125.4h0M398.7 124.7h0M400.2 124.1h0M401.7 123.4h0M403.3 122.8h0M404.8 122.3h0M406.3 121.7h0M407.9 121.1h0M409.4 120.6h0M410.9 120.1h0M412.5 119.5h0M414.0 119.0h0M415.5 118.5h0M417.1 118.1h0M418.6 117.6h0M420.1 117.2h0M421.7 116.7h0M423.2 116.3h0M424.7 115.9h0M426.3 115.4h0M427.8 115.0h0M429.3 114.7h0M430.9 114.3h0M432.4 113.9h0M434.0 113.5h0M435.5 113.2h0M437.0 112.8h0M438.6 112.5h0M440.1 112.1h0M441.6 111.8h0M443.2 111.5h0M444.7 111.2h0M446.2 110.9h0M320.5 219.8h0M321.9 216.4h0M323.3 212.9h0M324.8 209.4h0M326.3 206.0h0M327.8 202.8h0M329.3 199.6h0M330.7 196.5h0M332.3 193.5h0M333.8 190.6h0M335.3 187.7h0M336.9 185.0h0M338.4 182.4h0M339.9 179.8h0M341.5 177.4h0M343.0 175.0h0M344.6 172.7h0M346.1 170.6h0M347.6 168.5h0M349.2 166.4h0M350.7 164.5h0M352.2 162.6h0M353.8 160.8h0M355.3 159.0h0M356.8 157.3h0M358.4 155.7h0M359.9 154.1h0M361.4 152.6h0M363.0 151.2h0M364.5 149.8h0M366.0 148.4h0M367.6 147.1h0M369.1 145.8h0M370.6 144.6h0M372.2 143.4h0M373.7 142.2h0M375.2 141.1h0M376.8 140.1h0M378.3 139.0h0M379.9 138.0h0M381.4 137.0h0M382.9 136.1h0M384.5 135.2h0M386.0 134.3h0M387.5 133.4h0M389.1 132.6h0M390.6 131.8h0M392.1 131.0h0M393.7 130.2h0M395.2 129.5h0M396.7 128.7h0M398.3 128.0h0M399.8 127.3h0M401.3 126.7h0M402.9 126.0h0M404.4 125.4h0M405.9 124.8h0M407.5 124.2h0M409.0 123.6h0M410.5 123.0h0M412.1 122.5h0M413.6 122.0h0M415.2 121.4h0M416.7 120.9h0M418.2 120.4h0M419.8 119.9h0M421.3 119.5h0M422.8 119.0h0M424.4 118.5h0M425.9 118.1h0M427.4 117.7h0M429.0 117.2h0M430.5 116.8h0M432.0 116.4h0M433.6 116.0h0M435.1 115.6h0M436.6 115.3h0M438.2 114.9h0M439.7 114.5h0M441.2 114.2h0M442.8 113.8h0M323.0 219.9h0M324.4 216.4h0M325.9 213.0h0M327.4 209.5h0M329.0 206.2h0M330.5 203.0h0M332.1 199.8h0M333.6 196.8h0M335.1 193.9h0M336.7 191.1h0M338.2 188.4h0M339.7 185.8h0M341.3 183.3h0M342.8 180.8h0M344.3 178.5h0M345.9 176.2h0M347.4 174.0h0M348.9 171.9h0M350.5 169.9h0M352.0 167.9h0M353.5 166.1h0M355.1 164.2h0M356.6 162.5h0M358.1 160.8h0M359.7 159.1h0M361.2 157.5h0M362.7 156.0h0M364.3 154.5h0M365.8 153.1h0M367.4 151.7h0M368.9 150.3h0M370.4 149.1h0M372.0 147.8h0M373.5 146.6h0M375.0 145.4h0M376.6 144.3h0M378.1 143.2h0M379.6 142.1h0M381.2 141.1h0M382.7 140.1h0M384.2 139.1h0M385.8 138.1h0M387.3 137.2h0M388.8 136.3h0M390.4 135.5h0M391.9 134.6h0M393.4 133.8h0M395.0 133.0h0M396.5 132.3h0M398.0 131.5h0M399.6 130.8h0M401.1 130.1h0M402.7 129.4h0M404.2 128.7h0M405.7 128.0h0M407.3 127.4h0M408.8 126.8h0M410.3 126.2h0M411.9 125.6h0M413.4 125.0h0M414.9 124.5h0M416.5 123.9h0M418.0 123.4h0M419.5 122.9h0M421.1 122.3h0M422.6 121.8h0M424.1 121.4h0M425.7 120.9h0M427.2 120.4h0M428.7 120.0h0M430.3 119.5h0M431.8 119.1h0M433.3 118.7h0M434.9 118.3h0M436.4 117.9h0M438.0 117.5h0M439.5 117.1h0M325.7 219.8h0M327.2 216.3h0M328.8 212.9h0M330.3 209.6h0M331.8 206.4h0M333.4 203.4h0M334.9 200.4h0M336.4 197.5h0M338.0 194.7h0M339.5 192.0h0M341.0 189.4h0M342.6 186.9h0M344.1 184.5h0M345.6 182.1h0M347.2 179.9h0M348.7 177.7h0M350.3 175.6h0M351.8 173.5h0M353.3 171.6h0M354.9 169.7h0M356.4 167.8h0M357.9 166.1h0M359.5 164.3h0M361.0 162.7h0M362.5 161.1h0M364.1 159.5h0M365.6 158.0h0M367.1 156.6h0M368.7 155.1h0M370.2 153.8h0M371.7 152.5h0M373.3 151.2h0M374.8 149.9h0M376.3 148.7h0M377.9 147.6h0M379.4 146.4h0M380.9 145.3h0M382.5 144.3h0M384.0 143.2h0M385.6 142.2h0M387.1 141.3h0M388.6 140.3h0M390.2 139.4h0M391.7 138.5h0M393.2 137.7h0M394.8 136.8h0M396.3 136.0h0M397.8 135.2h0M399.4 134.4h0M400.9 133.7h0M402.4 132.9h0M404.0 132.2h0M405.5 131.5h0M407.0 130.8h0M408.6 130.2h0M410.1 129.5h0M411.6 128.9h0M413.2 128.3h0M414.7 127.7h0M416.2 127.1h0M417.8 126.5h0M419.3 126.0h0M420.9 125.4h0M422.4 124.9h0M423.9 124.4h0M425.5 123.9h0M427.0 123.4h0M428.5 122.9h0M430.1 122.4h0M431.6 121.9h0M433.1 121.5h0M434.7 121.0h0M436.2 120.6h0M328.5 219.9h0M330.1 216.5h0M331.6 213.3h0M333.2 210.1h0M334.7 207.1h0M336.2 204.1h0M337.8 201.3h0M339.3 198.5h0M340.8 195.8h0M342.4 193.2h0M343.9 190.7h0M345.4 188.3h0M347.0 186.0h0M348.5 183.7h0M350.0 181.5h0M351.6 179.4h0M353.1 177.4h0M354.6 175.4h0M356.2 173.5h0M357.7 171.6h0M359.2 169.8h0M360.8 168.1h0M362.3 166.4h0M363.8 164.8h0M365.4 163.2h0M366.9 161.7h0M368.4 160.2h0M370.0 158.8h0M371.5 157.4h0M373.1 156.0h0M374.6 154.7h0M376.1 153.5h0M377.7 152.2h0M379.2 151.0h0M380.7 149.9h0M382.3 148.7h0M383.8 147.7h0M385.3 146.6h0M386.9 145.6h0M388.4 144.6h0M389.9 143.6h0M391.5 142.6h0M393.0 141.7h0M394.5 140.8h0M396.1 140.0h0M397.6 139.1h0M399.1 138.3h0M400.7 137.5h0M402.2 136.7h0M403.7 135.9h0M405.3 135.2h0M406.8 134.5h0M408.4 133.8h0M409.9 133.1h0M411.4 132.4h0M413.0 131.7h0M414.5 131.1h0M416.0 130.5h0M417.6 129.9h0M419.1 129.3h0M420.6 128.7h0M422.2 128.1h0M423.7 127.6h0M425.2 127.0h0M426.8 126.5h0M428.3 126.0h0M429.8 125.5h0M431.4 125.0h0M432.9 124.5h0M331.6 219.9h0M333.2 216.7h0M334.7 213.6h0M336.2 210.6h0M337.8 207.7h0M339.3 204.9h0M340.8 202.1h0M342.4 199.5h0M343.9 196.9h0M345.4 194.4h0M347.0 192.0h0M348.5 189.7h0M350.0 187.4h0M351.6 185.3h0M353.1 183.1h0M354.6 181.1h0M356.2 179.1h0M357.7 177.2h0M359.2 175.3h0M360.8 173.5h0M362.3 171.8h0M363.8 170.1h0M365.4 168.4h0M366.9 166.8h0M368.4 165.3h0M370.0 163.8h0M371.5 162.4h0M373.1 160.9h0M374.6 159.6h0M376.1 158.2h0M377.7 157.0h0M379.2 155.7h0M380.7 154.5h0M382.3 153.3h0M383.8 152.2h0M385.3 151.0h0M386.9 150.0h0M388.4 148.9h0M389.9 147.9h0M391.5 146.9h0M393.0 145.9h0M394.5 145.0h0M396.1 144.0h0M397.6 143.2h0M399.1 142.3h0M400.7 141.4h0M402.2 140.6h0M403.7 139.8h0M405.3 139.0h0M406.8 138.2h0M408.4 137.5h0M409.9 136.8h0M411.4 136.0h0M413.0 135.3h0M414.5 134.7h0M416.0 134.0h0M417.6 133.4h0M419.1 132.7h0M420.6 132.1h0M422.2 131.5h0M423.7 130.9h0M425.2 130.3h0M426.8 129.8h0M428.3 129.2h0M335.0 219.8h0M336.5 216.8h0M338.0 213.8h0M339.6 211.0h0M341.1 208.2h0M342.6 205.5h0M344.2 202.9h0M345.7 200.3h0M347.2 197.9h0M348.8 195.5h0M350.3 193.2h0M351.8 191.0h0M353.4 188.8h0M354.9 186.7h0M356.4 184.6h0M358.0 182.7h0M359.5 180.8h0M361.0 178.9h0M362.6 177.1h0M364.1 175.3h0M365.7 173.6h0M367.2 172.0h0M368.7 170.4h0M370.3 168.8h0M371.8 167.3h0M373.3 165.9h0M374.9 164.4h0M376.4 163.1h0M377.9 161.7h0M379.5 160.4h0M381.0 159.1h0M382.5 157.9h0M384.1 156.7h0M385.6 155.5h0M387.1 154.4h0M388.7 153.3h0M390.2 152.2h0M391.7 151.2h0M393.3 150.2h0M394.8 149.2h0M396.3 148.2h0M397.9 147.3h0M399.4 146.3h0M401.0 145.4h0M402.5 144.6h0M404.0 143.7h0M405.6 142.9h0M407.1 142.1h0M408.6 141.3h0M410.2 140.5h0M411.7 139.8h0M413.2 139.0h0M414.8 138.3h0M416.3 137.6h0M417.8 136.9h0M419.4 136.3h0M420.9 135.6h0M422.4 135.0h0M338.5 219.8h0M340.0 216.9h0M341.5 214.1h0M343.1 211.4h0M344.6 208.7h0M346.1 206.2h0M347.7 203.7h0M349.2 201.2h0M350.7 198.9h0M352.3 196.6h0M353.8 194.4h0M355.3 192.2h0M356.9 190.2h0M358.4 188.1h0M360.0 186.2h0M361.5 184.3h0M363.0 182.4h0M364.6 180.6h0M366.1 178.8h0M367.6 177.1h0M369.2 175.5h0M370.7 173.9h0M372.2 172.3h0M373.8 170.8h0M375.3 169.3h0M376.8 167.9h0M378.4 166.5h0M379.9 165.2h0M381.4 163.8h0M383.0 162.6h0M384.5 161.3h0M386.0 160.1h0M387.6 158.9h0M389.1 157.8h0M390.6 156.6h0M392.2 155.6h0M393.7 154.5h0M395.3 153.5h0M396.8 152.4h0M398.3 151.5h0M399.9 150.5h0M401.4 149.6h0M402.9 148.6h0M404.5 147.8h0M406.0 146.9h0M407.5 146.0h0M409.1 145.2h0M410.6 144.4h0M412.1 143.6h0M413.7 142.8h0M415.2 142.1h0M416.7 141.3h0M418.3 140.6h0M342.0 219.8h0M343.5 217.1h0M345.0 214.4h0M346.6 211.8h0M348.1 209.2h0M349.6 206.8h0M351.2 204.4h0M352.7 202.1h0M354.3 199.8h0M355.8 197.6h0M357.3 195.5h0M358.9 193.4h0M360.4 191.4h0M361.9 189.4h0M363.5 187.5h0M365.0 185.7h0M366.5 183.9h0M368.1 182.2h0M369.6 180.5h0M371.1 178.8h0M372.7 177.2h0M374.2 175.6h0M375.7 174.1h0M377.3 172.6h0M378.8 171.2h0M380.3 169.8h0M381.9 168.4h0M383.4 167.1h0M384.9 165.8h0M386.5 164.6h0M388.0 163.3h0M389.6 162.1h0M391.1 161.0h0M392.6 159.8h0M394.2 158.7h0M395.7 157.6h0M397.2 156.6h0M398.8 155.6h0M400.3 154.6h0M401.8 153.6h0M403.4 152.6h0M404.9 151.7h0M406.4 150.8h0M408.0 149.9h0M409.5 149.0h0M411.0 148.2h0M412.6 147.4h0M345.5 219.8h0M347.0 217.2h0M348.6 214.6h0M350.1 212.1h0M351.6 209.7h0M353.2 207.3h0M354.7 205.0h0M356.2 202.8h0M357.8 200.6h0M359.3 198.5h0M360.8 196.5h0M362.4 194.5h0M363.9 192.5h0M365.4 190.6h0M367.0 188.8h0M368.5 187.0h0M370.0 185.3h0M371.6 183.6h0M373.1 181.9h0M374.6 180.3h0M376.2 178.8h0M377.7 177.2h0M379.2 175.8h0M380.8 174.3h0M382.3 172.9h0M383.9 171.5h0M385.4 170.2h0M386.9 168.9h0M388.5 167.6h0M390.0 166.4h0M391.5 165.2h0M393.1 164.0h0M394.6 162.9h0M396.1 161.7h0M397.7 160.7h0M399.2 159.6h0M400.7 158.6h0M402.3 157.5h0M403.8 156.5h0M405.3 155.6h0M349.0 219.8h0M350.5 217.3h0M352.1 214.8h0M353.6 212.5h0M355.1 210.1h0M356.7 207.9h0M358.2 205.6h0M359.7 203.5h0M361.3 201.4h0M362.8 199.4h0M364.3 197.4h0M365.9 195.5h0M367.4 193.6h0M368.9 191.8h0M370.5 190.0h0M372.0 188.2h0M373.5 186.5h0M375.1 184.9h0M376.6 183.3h0M378.2 181.7h0M379.7 180.2h0M381.2 178.7h0M382.8 177.3h0M384.3 175.9h0M385.8 174.5h0M387.4 173.2h0M388.9 171.9h0M390.4 170.6h0M392.0 169.3h0M393.5 168.1h0M395.0 166.9h0M396.6 165.8h0M398.1 164.6h0M399.6 163.5h0M352.5 219.8h0M354.0 217.4h0M355.6 215.1h0M357.1 212.8h0M358.6 210.5h0M360.2 208.3h0M361.7 206.2h0M363.2 204.1h0M364.8 202.1h0M366.3 200.2h0M367.8 198.2h0M369.4 196.4h0M370.9 194.6h0M372.5 192.8h0M374.0 191.1h0M375.5 189.4h0M377.1 187.7h0M378.6 186.1h0M380.1 184.6h0M381.7 183.0h0M383.2 181.6h0M384.7 180.1h0M386.3 178.7h0M387.8 177.3h0M389.3 176.0h0M390.9 174.7h0M392.4 173.4h0M356.0 219.8h0M357.5 217.5h0M359.1 215.2h0M360.6 213.0h0M362.1 210.9h0M363.7 208.8h0M365.2 206.7h0M366.8 204.7h0M368.3 202.8h0M369.8 200.9h0M371.4 199.0h0M372.9 197.2h0M374.4 195.4h0M376.0 193.7h0M377.5 192.1h0M379.0 190.4h0M380.6 188.8h0M382.1 187.3h0M383.6 185.7h0M359.5 219.8h0M361.0 217.6h0M362.6 215.4h0M364.1 213.3h0M365.7 211.2h0M367.2 209.2h0M368.7 207.2h0M370.3 205.3h0M371.8 203.4h0M373.3 201.5h0" stroke="#b084ac" stroke-width="1.9" stroke-linecap="round" fill="none"/>
</g>
<path d="M303.9 217.2v-1.6M303.9 20.5v1.6M341.2 217.2v-1.6M341.2 20.5v1.6M378.6 217.2v-1.6M378.6 20.5v1.6M415.9 217.2v-1.6M415.9 20.5v1.6M266.5 189.1h1.6M453.3 189.1h-1.6M266.5 161h1.6M453.3 161h-1.6M266.5 132.9h1.6M453.3 132.9h-1.6M266.5 104.8h1.6M453.3 104.8h-1.6M266.5 76.7h1.6M453.3 76.7h-1.6M266.5 48.6h1.6M453.3 48.6h-1.6" stroke="#333" stroke-width="0.6" fill="none"/>
<rect x="266.5" y="20.5" width="186.8" height="196.7" fill="none" stroke="#6e6e6e" stroke-width="0.9"/>
<text x="261.2" y="22.8" text-anchor="end" font-size="12.5" fill="#0a0a0a">1.2</text>
<text x="261.2" y="80" text-anchor="end" font-size="12.5" fill="#0a0a0a">1.0</text>
<text x="261.2" y="135.1" text-anchor="end" font-size="12.5" fill="#0a0a0a">0.8</text>
<text x="261.2" y="192.6" text-anchor="end" font-size="12.5" fill="#0a0a0a">0.6</text>
<text x="267.5" y="229" text-anchor="middle" font-size="12.5" fill="#0a0a0a">0</text>
<text x="452.1" y="228.9" text-anchor="middle" font-size="12.5" fill="#0a0a0a">1</text>
<text x="360.2" y="243.6" text-anchor="middle" font-size="11.9" fill="#0a0a0a">k<tspan font-size="8.0" dy="1.2">z</tspan><tspan dy="-1.2"> /k</tspan><tspan font-size="8.0" dy="1.2">YM</tspan></text>
<text transform="translate(239.5 121) rotate(-90)" text-anchor="middle" font-size="12.3" fill="#0a0a0a">&#969;/&#969;<tspan font-size="8.5" dy="1.5">p</tspan></text>
<text x="277.4" y="40.0" font-size="12.5" font-weight="bold" fill="#f4f4f4">H<tspan font-size="8.3" dy="2.7">GS</tspan></text>
<text x="394.2" y="89.5" font-size="11.8" font-weight="bold" fill="#0a0a0a" stroke="#0a0a0a" stroke-width="0.25">D</text>
<circle cx="407" cy="98.3" r="1.7" fill="none" stroke="#eaa030" stroke-width="0.85"/><circle cx="407" cy="103.4" r="1.7" fill="none" stroke="#eaa030" stroke-width="0.85"/>
<circle cx="422.4" cy="185" r="26.4" fill="#fff" stroke="#4a4a4a" stroke-width="0.9" stroke-dasharray="2.2 1.5"/>
<path d="M439.50 185.00A17.1 17.1 0 0 0 439.34 182.66" stroke="#4560c3" stroke-width="0.9" fill="none"/>
<path d="M439.35 182.77A17.1 17.1 0 0 0 438.89 180.47" stroke="#4364c4" stroke-width="0.9" fill="none"/>
<path d="M438.92 180.57A17.1 17.1 0 0 0 438.16 178.35" stroke="#4167c5" stroke-width="0.9" fill="none"/>
<path d="M438.20 178.46A17.1 17.1 0 0 0 437.15 176.35" stroke="#3f6bc6" stroke-width="0.9" fill="none"/>
<path d="M437.21 176.45A17.1 17.1 0 0 0 435.90 174.50" stroke="#3e6ec6" stroke-width="0.9" fill="none"/>
<path d="M435.97 174.59A17.1 17.1 0 0 0 434.41 172.83" stroke="#3c72c7" stroke-width="0.9" fill="none"/>
<path d="M434.49 172.91A17.1 17.1 0 0 0 432.72 171.37" stroke="#3d78c6" stroke-width="0.9" fill="none"/>
<path d="M432.81 171.43A17.1 17.1 0 0 0 430.85 170.14" stroke="#3e80c3" stroke-width="0.9" fill="none"/>
<path d="M430.95 170.19A17.1 17.1 0 0 0 428.84 169.16" stroke="#4088c1" stroke-width="0.9" fill="none"/>
<path d="M428.94 169.20A17.1 17.1 0 0 0 426.72 168.45" stroke="#4190bf" stroke-width="0.9" fill="none"/>
<path d="M426.83 168.48A17.1 17.1 0 0 0 424.52 168.03" stroke="#4398bc" stroke-width="0.9" fill="none"/>
<path d="M424.63 168.05A17.1 17.1 0 0 0 422.29 167.90" stroke="#45a0ba" stroke-width="0.9" fill="none"/>
<path d="M422.40 167.90A17.1 17.1 0 0 0 420.06 168.06" stroke="#49a7b4" stroke-width="0.9" fill="none"/>
<path d="M420.17 168.05A17.1 17.1 0 0 0 417.87 168.51" stroke="#50acab" stroke-width="0.9" fill="none"/>
<path d="M417.97 168.48A17.1 17.1 0 0 0 415.75 169.24" stroke="#58b1a2" stroke-width="0.9" fill="none"/>
<path d="M415.86 169.20A17.1 17.1 0 0 0 413.75 170.25" stroke="#5fb59a" stroke-width="0.9" fill="none"/>
<path d="M413.85 170.19A17.1 17.1 0 0 0 411.90 171.50" stroke="#66ba91" stroke-width="0.9" fill="none"/>
<path d="M411.99 171.43A17.1 17.1 0 0 0 410.23 172.99" stroke="#6dbf88" stroke-width="0.9" fill="none"/>
<path d="M410.31 172.91A17.1 17.1 0 0 0 408.77 174.68" stroke="#77c480" stroke-width="0.9" fill="none"/>
<path d="M408.83 174.59A17.1 17.1 0 0 0 407.54 176.55" stroke="#8bc87b" stroke-width="0.9" fill="none"/>
<path d="M407.59 176.45A17.1 17.1 0 0 0 406.56 178.56" stroke="#9ecc76" stroke-width="0.9" fill="none"/>
<path d="M406.60 178.46A17.1 17.1 0 0 0 405.85 180.68" stroke="#b1d171" stroke-width="0.9" fill="none"/>
<path d="M405.88 180.57A17.1 17.1 0 0 0 405.43 182.88" stroke="#c4d56b" stroke-width="0.9" fill="none"/>
<path d="M405.45 182.77A17.1 17.1 0 0 0 405.30 185.11" stroke="#d7d966" stroke-width="0.9" fill="none"/>
<path d="M405.30 185.00A17.1 17.1 0 0 0 405.46 187.34" stroke="#e2d862" stroke-width="0.9" fill="none"/>
<path d="M405.45 187.23A17.1 17.1 0 0 0 405.91 189.53" stroke="#e6d15e" stroke-width="0.9" fill="none"/>
<path d="M405.88 189.43A17.1 17.1 0 0 0 406.64 191.65" stroke="#e9ca5b" stroke-width="0.9" fill="none"/>
<path d="M406.60 191.54A17.1 17.1 0 0 0 407.65 193.65" stroke="#edc357" stroke-width="0.9" fill="none"/>
<path d="M407.59 193.55A17.1 17.1 0 0 0 408.90 195.50" stroke="#f0bc54" stroke-width="0.9" fill="none"/>
<path d="M408.83 195.41A17.1 17.1 0 0 0 410.39 197.17" stroke="#f4b550" stroke-width="0.9" fill="none"/>
<path d="M410.31 197.09A17.1 17.1 0 0 0 412.08 198.63" stroke="#f4ae4e" stroke-width="0.9" fill="none"/>
<path d="M411.99 198.57A17.1 17.1 0 0 0 413.95 199.86" stroke="#f3a64b" stroke-width="0.9" fill="none"/>
<path d="M413.85 199.81A17.1 17.1 0 0 0 415.96 200.84" stroke="#f29e49" stroke-width="0.9" fill="none"/>
<path d="M415.86 200.80A17.1 17.1 0 0 0 418.08 201.55" stroke="#f29647" stroke-width="0.9" fill="none"/>
<path d="M417.97 201.52A17.1 17.1 0 0 0 420.28 201.97" stroke="#f18e44" stroke-width="0.9" fill="none"/>
<path d="M420.17 201.95A17.1 17.1 0 0 0 422.51 202.10" stroke="#f08642" stroke-width="0.9" fill="none"/>
<path d="M422.40 202.10A17.1 17.1 0 0 0 424.74 201.94" stroke="#ee7d41" stroke-width="0.9" fill="none"/>
<path d="M424.63 201.95A17.1 17.1 0 0 0 426.93 201.49" stroke="#eb7341" stroke-width="0.9" fill="none"/>
<path d="M426.83 201.52A17.1 17.1 0 0 0 429.05 200.76" stroke="#e86941" stroke-width="0.9" fill="none"/>
<path d="M428.94 200.80A17.1 17.1 0 0 0 431.05 199.75" stroke="#e56041" stroke-width="0.9" fill="none"/>
<path d="M430.95 199.81A17.1 17.1 0 0 0 432.90 198.50" stroke="#e35641" stroke-width="0.9" fill="none"/>
<path d="M432.81 198.57A17.1 17.1 0 0 0 434.57 197.01" stroke="#e04d41" stroke-width="0.9" fill="none"/>
<path d="M434.49 197.09A17.1 17.1 0 0 0 436.03 195.32" stroke="#da4543" stroke-width="0.9" fill="none"/>
<path d="M435.97 195.41A17.1 17.1 0 0 0 437.26 193.45" stroke="#ce414d" stroke-width="0.9" fill="none"/>
<path d="M437.21 193.55A17.1 17.1 0 0 0 438.24 191.44" stroke="#c13e56" stroke-width="0.9" fill="none"/>
<path d="M438.20 191.54A17.1 17.1 0 0 0 438.95 189.32" stroke="#b53a60" stroke-width="0.9" fill="none"/>
<path d="M438.92 189.43A17.1 17.1 0 0 0 439.37 187.12" stroke="#a83769" stroke-width="0.9" fill="none"/>
<path d="M439.35 187.23A17.1 17.1 0 0 0 439.50 184.89" stroke="#9c3373" stroke-width="0.9" fill="none"/>
<clipPath id="cE"><rect x="496.3" y="20.5" width="186.8" height="196.7"/></clipPath>
<g clip-path="url(#cE)">
<path d="M496.3 68.6 L544.4 68.6 L545.3 67.2 L557.9 20.5 L496.3 20.5Z" fill="#7f7d92"/>
<path d="M496.3 217.2 L519.6 217.2 L544.5 67.4 L496.3 67.4Z" fill="#cbc5c3"/>
<path d="M544.5 67.4 L544.5 67.4 L546.3 67.4 L548 67.4 L549.8 67.4 L551.6 67.4 L553.3 67.4 L555.1 67.4 L556.8 67.4 L558.6 67.4 L560.3 67.4 L562.1 67.4 L563.8 67.4 L565.6 67.4 L567.3 67.3 L569.1 67.3 L570.8 67.3 L572.6 67.2 L574.4 67.2 L576.1 67.1 L577.9 67.1 L579.6 67 L581.4 66.9 L583.1 66.8 L584.9 66.8 L586.6 66.6 L588.4 66.5 L590.1 66.4 L591.9 66.3 L593.7 66.1 L595.4 65.9 L597.2 65.8 L598.9 65.6 L600.7 65.4 L602.4 65.2 L604.2 64.9 L605.9 64.7 L607.7 64.4 L609.4 64.2 L611.2 63.9 L612.9 63.6 L614.7 63.3 L616.5 62.9 L618.2 62.6 L620 62.2 L621.7 61.8 L623.5 61.4 L625.2 61 L627 60.5 L628.7 60.1 L630.5 59.6 L632.2 59.1 L634 58.6 L635.7 58 L637.5 57.4 L639.3 56.9 L641 56.3 L642.8 55.6 L644.5 55 L646.3 54.3 L648 53.6 L649.8 52.9 L651.5 52.1 L653.3 51.4 L655 50.6 L656.8 49.7 L658.5 48.9 L660.3 48 L662.1 47.1 L663.8 46.2 L665.6 45.3 L667.3 44.3 L669.1 43.3 L670.8 42.3 L672.6 41.2 L674.3 40.1 L676.1 39 L677.8 37.9 L679.6 36.7 L681.3 35.5 L683.1 34.3 L683.1 20.5 L552.3 20.5Z" fill="#9da1c2"/>
<path d="M593.4 217.2 L594.9 214.7 L596.4 212.3 L597.9 209.8 L599.5 207.4 L601 205 L602.5 202.6 L604 200.3 L605.5 198 L607.1 195.6 L608.6 193.3 L610.1 191.1 L611.6 188.8 L613.1 186.6 L614.7 184.4 L616.2 182.2 L617.7 180 L619.2 177.8 L620.8 175.7 L622.3 173.6 L623.8 171.5 L625.3 169.4 L626.8 167.4 L628.4 165.3 L629.9 163.3 L631.4 161.3 L632.9 159.3 L634.4 157.4 L636 155.4 L637.5 153.5 L639 151.6 L640.5 149.8 L642 147.9 L643.6 146.1 L645.1 144.3 L646.6 142.5 L648.1 140.7 L649.6 138.9 L651.2 137.2 L652.7 135.5 L654.2 133.8 L655.7 132.1 L657.2 130.5 L658.8 128.8 L660.3 127.2 L661.8 125.6 L663.3 124 L664.9 122.5 L666.4 120.9 L667.9 119.4 L669.4 117.9 L670.9 116.4 L672.5 115 L674 113.6 L675.5 112.1 L677 110.7 L678.5 109.4 L680.1 108 L681.6 106.7 L683.1 105.4 L683.1 217.2Z" fill="#9da1c2"/>
<path d="M529.3 215.9L530.8 209.4L532.3 202.9L533.8 196.7L535.3 190.6L536.8 184.7L538.3 179.0L539.8 173.6L541.3 168.3L542.8 163.2L544.4 158.3L545.9 153.7L547.4 149.3L548.9 145.1L550.4 141.1L551.9 137.3L553.4 133.8L554.9 130.4L556.4 127.2L557.9 124.2L559.4 121.4L560.9 118.8L562.5 116.3L564.0 114.0L565.5 111.8L567.0 109.7L568.5 107.8L570.0 106.0L571.5 104.3L573.0 102.7L574.5 101.1L576.0 99.7L577.5 98.4L579.0 97.1L580.5 95.9L582.1 94.8L583.6 93.7L585.1 92.7L586.6 91.7L588.1 90.8L589.6 90.0L591.1 89.1L592.6 88.4L594.1 87.6L595.6 86.9L597.1 86.2L598.6 85.6L600.2 84.9L601.7 84.1L603.2 83.3L604.7 82.3L606.2 81.3L607.7 80.2L609.2 79.1L610.7 77.9L612.2 76.7L613.7 75.4L615.2 74.2L616.7 73.0L618.3 71.9L619.8 70.7L621.3 69.7L622.8 68.7L624.3 67.7L625.8 66.9L627.3 66.2L628.8 65.7L630.3 65.3L631.8 65.0L633.3 64.7L634.8 64.4L636.3 64.1L637.9 63.9L639.4 63.6L640.9 63.4L642.4 63.2L643.9 62.9L645.4 62.7L646.9 62.5L648.4 62.3L649.9 62.1L651.4 61.9L652.9 61.7L654.4 61.5L656.0 61.4L657.5 61.2L659.0 61.0L660.5 60.8L662.0 60.7L663.5 60.5L665.0 60.4L666.5 60.2L668.0 60.1L669.5 59.9L671.0 59.8L672.5 59.6L674.1 59.5L675.6 59.4L677.1 59.2L678.6 59.1L680.1 59.0L681.6 58.9L683.1 58.8" stroke="#f0dcea" stroke-width="1.4" fill="none"/>
<path d="M529.3 213.9L530.8 207.3L532.3 200.8L533.8 194.5L535.3 188.4L536.8 182.5L538.3 176.8L539.8 171.3L541.3 166.0L542.8 160.9L544.4 156.0L545.9 151.4L547.4 147.0L548.9 142.8L550.4 138.8L551.9 135.1L553.4 131.5L554.9 128.2L556.4 125.1L557.9 122.1L559.4 119.3L560.9 116.8L562.5 114.3L564.0 112.0L565.5 109.9L567.0 107.9L568.5 106.0L570.0 104.2L571.5 102.6L573.0 101.0L574.5 99.5L576.0 98.1L577.5 96.8L579.0 95.6L580.5 94.4L582.1 93.4L583.6 92.3L585.1 91.3L586.6 90.4L588.1 89.5L589.6 88.7L591.1 87.9L592.6 87.1L594.1 86.4L595.6 85.7L597.1 85.1L598.6 84.5L600.2 83.8L601.7 83.1L603.2 82.3L604.7 81.3L606.2 80.3L607.7 79.2L609.2 78.1L610.7 77.0L612.2 75.8L613.7 74.6L615.2 73.4L616.7 72.2L618.3 71.1L619.8 70.0L621.3 68.9L622.8 67.9L624.3 67.0L625.8 66.2L627.3 65.6L628.8 65.0L630.3 64.6L631.8 64.3L633.3 64.0L634.8 63.8L636.3 63.5L637.9 63.3L639.4 63.0L640.9 62.8L642.4 62.6L643.9 62.3L645.4 62.1L646.9 61.9L648.4 61.7L649.9 61.5L651.4 61.3L652.9 61.1L654.4 60.9L656.0 60.7L657.5 60.6L659.0 60.4L660.5 60.2L662.0 60.0L663.5 59.9L665.0 59.7L666.5 59.6L668.0 59.4L669.5 59.3L671.0 59.1L672.5 59.0L674.1 58.8L675.6 58.7L677.1 58.5L678.6 58.4L680.1 58.3L681.6 58.2L683.1 58.0" stroke="#eed8e8" stroke-width="1.4" fill="none"/>
<path d="M527.8 218.7L529.3 211.9L530.8 205.2L532.3 198.7L533.8 192.4L535.3 186.2L536.8 180.3L538.3 174.6L539.8 169.0L541.3 163.7L542.8 158.6L544.4 153.7L545.9 149.1L547.4 144.7L548.9 140.5L550.4 136.6L551.9 132.8L553.4 129.3L554.9 126.0L556.4 122.9L557.9 120.0L559.4 117.3L560.9 114.7L562.5 112.3L564.0 110.1L565.5 108.0L567.0 106.0L568.5 104.2L570.0 102.5L571.5 100.9L573.0 99.3L574.5 97.9L576.0 96.6L577.5 95.3L579.0 94.1L580.5 93.0L582.1 91.9L583.6 90.9L585.1 90.0L586.6 89.1L588.1 88.3L589.6 87.5L591.1 86.7L592.6 86.0L594.1 85.3L595.6 84.6L597.1 84.0L598.6 83.4L600.2 82.8L601.7 82.1L603.2 81.2L604.7 80.3L606.2 79.4L607.7 78.3L609.2 77.2L610.7 76.1L612.2 74.9L613.7 73.8L615.2 72.6L616.7 71.4L618.3 70.3L619.8 69.2L621.3 68.2L622.8 67.2L624.3 66.4L625.8 65.6L627.3 64.9L628.8 64.4L630.3 64.0L631.8 63.7L633.3 63.4L634.8 63.2L636.3 62.9L637.9 62.7L639.4 62.4L640.9 62.2L642.4 62.0L643.9 61.7L645.4 61.5L646.9 61.3L648.4 61.1L649.9 60.9L651.4 60.7L652.9 60.5L654.4 60.3L656.0 60.1L657.5 60.0L659.0 59.8L660.5 59.6L662.0 59.4L663.5 59.3L665.0 59.1L666.5 58.9L668.0 58.8L669.5 58.6L671.0 58.5L672.5 58.3L674.1 58.2L675.6 58.0L677.1 57.9L678.6 57.7L680.1 57.6L681.6 57.4L683.1 57.3" stroke="#ecd4e5" stroke-width="1.4" fill="none"/>
<path d="M527.8 216.7L529.3 209.8L530.8 203.1L532.3 196.6L533.8 190.2L535.3 184.1L536.8 178.1L538.3 172.3L539.8 166.7L541.3 161.4L542.8 156.3L544.4 151.4L545.9 146.8L547.4 142.4L548.9 138.2L550.4 134.3L551.9 130.6L553.4 127.1L554.9 123.8L556.4 120.8L557.9 117.9L559.4 115.2L560.9 112.7L562.5 110.4L564.0 108.2L565.5 106.1L567.0 104.2L568.5 102.4L570.0 100.7L571.5 99.2L573.0 97.7L574.5 96.3L576.0 95.0L577.5 93.8L579.0 92.7L580.5 91.6L582.1 90.6L583.6 89.6L585.1 88.7L586.6 87.8L588.1 87.0L589.6 86.2L591.1 85.5L592.6 84.8L594.1 84.1L595.6 83.5L597.1 82.9L598.6 82.3L600.2 81.7L601.7 81.0L603.2 80.2L604.7 79.4L606.2 78.4L607.7 77.4L609.2 76.3L610.7 75.2L612.2 74.1L613.7 72.9L615.2 71.8L616.7 70.7L618.3 69.6L619.8 68.5L621.3 67.5L622.8 66.6L624.3 65.7L625.8 64.9L627.3 64.3L628.8 63.7L630.3 63.4L631.8 63.1L633.3 62.8L634.8 62.6L636.3 62.3L637.9 62.1L639.4 61.8L640.9 61.6L642.4 61.4L643.9 61.2L645.4 60.9L646.9 60.7L648.4 60.5L649.9 60.3L651.4 60.1L652.9 59.9L654.4 59.7L656.0 59.5L657.5 59.4L659.0 59.2L660.5 59.0L662.0 58.8L663.5 58.7L665.0 58.5L666.5 58.3L668.0 58.2L669.5 58.0L671.0 57.8L672.5 57.7L674.1 57.5L675.6 57.3L677.1 57.2L678.6 57.0L680.1 56.9L681.6 56.7L683.1 56.6" stroke="#e9d0e3" stroke-width="1.4" fill="none"/>
<path d="M527.8 214.7L529.3 207.8L530.8 201.1L532.3 194.5L533.8 188.1L535.3 181.9L536.8 175.8L538.3 170.0L539.8 164.5L541.3 159.1L542.8 154.0L544.4 149.1L545.9 144.5L547.4 140.1L548.9 135.9L550.4 132.0L551.9 128.3L553.4 124.9L554.9 121.7L556.4 118.6L557.9 115.8L559.4 113.2L560.9 110.7L562.5 108.4L564.0 106.3L565.5 104.3L567.0 102.4L568.5 100.7L570.0 99.0L571.5 97.5L573.0 96.1L574.5 94.7L576.0 93.5L577.5 92.3L579.0 91.2L580.5 90.2L582.1 89.2L583.6 88.3L585.1 87.4L586.6 86.6L588.1 85.8L589.6 85.0L591.1 84.3L592.6 83.7L594.1 83.0L595.6 82.4L597.1 81.8L598.6 81.3L600.2 80.7L601.7 80.0L603.2 79.3L604.7 78.4L606.2 77.5L607.7 76.5L609.2 75.5L610.7 74.4L612.2 73.3L613.7 72.1L615.2 71.0L616.7 69.9L618.3 68.8L619.8 67.8L621.3 66.8L622.8 65.9L624.3 65.1L625.8 64.3L627.3 63.7L628.8 63.1L630.3 62.8L631.8 62.5L633.3 62.2L634.8 62.0L636.3 61.7L637.9 61.5L639.4 61.3L640.9 61.0L642.4 60.8L643.9 60.6L645.4 60.4L646.9 60.2L648.4 60.0L649.9 59.8L651.4 59.6L652.9 59.4L654.4 59.2L656.0 59.0L657.5 58.8L659.0 58.6L660.5 58.4L662.0 58.2L663.5 58.1L665.0 57.9L666.5 57.7L668.0 57.5L669.5 57.4L671.0 57.2L672.5 57.0L674.1 56.9L675.6 56.7L677.1 56.5L678.6 56.4L680.1 56.2L681.6 56.0L683.1 55.9" stroke="#e7cde1" stroke-width="1.4" fill="none"/>
<path d="M526.3 219.8L527.8 212.7L529.3 205.8L530.8 199.0L532.3 192.4L533.8 185.9L535.3 179.7L536.8 173.6L538.3 167.8L539.8 162.2L541.3 156.8L542.8 151.7L544.4 146.8L545.9 142.2L547.4 137.8L548.9 133.6L550.4 129.7L551.9 126.1L553.4 122.7L554.9 119.5L556.4 116.5L557.9 113.7L559.4 111.1L560.9 108.7L562.5 106.5L564.0 104.4L565.5 102.4L567.0 100.6L568.5 98.9L570.0 97.3L571.5 95.9L573.0 94.5L574.5 93.2L576.0 92.0L577.5 90.9L579.0 89.8L580.5 88.8L582.1 87.8L583.6 87.0L585.1 86.1L586.6 85.3L588.1 84.6L589.6 83.9L591.1 83.2L592.6 82.5L594.1 81.9L595.6 81.3L597.1 80.8L598.6 80.3L600.2 79.7L601.7 79.1L603.2 78.3L604.7 77.5L606.2 76.6L607.7 75.6L609.2 74.6L610.7 73.6L612.2 72.5L613.7 71.4L615.2 70.3L616.7 69.2L618.3 68.1L619.8 67.1L621.3 66.2L622.8 65.3L624.3 64.4L625.8 63.7L627.3 63.1L628.8 62.6L630.3 62.2L631.8 61.9L633.3 61.7L634.8 61.4L636.3 61.2L637.9 60.9L639.4 60.7L640.9 60.5L642.4 60.3L643.9 60.0L645.4 59.8L646.9 59.6L648.4 59.4L649.9 59.2L651.4 59.0L652.9 58.8L654.4 58.6L656.0 58.4L657.5 58.2L659.0 58.0L660.5 57.9L662.0 57.7L663.5 57.5L665.0 57.3L666.5 57.1L668.0 56.9L669.5 56.8L671.0 56.6L672.5 56.4L674.1 56.2L675.6 56.0L677.1 55.9L678.6 55.7L680.1 55.5L681.6 55.3L683.1 55.2" stroke="#e5c9de" stroke-width="1.4" fill="none"/>
<path d="M526.3 217.9L527.8 210.8L529.3 203.8L530.8 196.9L532.3 190.3L533.8 183.8L535.3 177.5L536.8 171.4L538.3 165.5L539.8 159.9L541.3 154.5L542.8 149.4L544.4 144.5L545.9 139.8L547.4 135.5L548.9 131.3L550.4 127.5L551.9 123.8L553.4 120.5L554.9 117.3L556.4 114.4L557.9 111.6L559.4 109.1L560.9 106.7L562.5 104.5L564.0 102.5L565.5 100.6L567.0 98.8L568.5 97.2L570.0 95.7L571.5 94.2L573.0 92.9L574.5 91.7L576.0 90.5L577.5 89.4L579.0 88.4L580.5 87.4L582.1 86.5L583.6 85.7L585.1 84.9L586.6 84.1L588.1 83.4L589.6 82.7L591.1 82.1L592.6 81.4L594.1 80.9L595.6 80.3L597.1 79.8L598.6 79.3L600.2 78.7L601.7 78.1L603.2 77.4L604.7 76.6L606.2 75.7L607.7 74.8L609.2 73.8L610.7 72.8L612.2 71.7L613.7 70.6L615.2 69.6L616.7 68.5L618.3 67.5L619.8 66.5L621.3 65.5L622.8 64.6L624.3 63.8L625.8 63.1L627.3 62.5L628.8 62.0L630.3 61.6L631.8 61.4L633.3 61.1L634.8 60.9L636.3 60.6L637.9 60.4L639.4 60.2L640.9 60.0L642.4 59.7L643.9 59.5L645.4 59.3L646.9 59.1L648.4 58.9L649.9 58.7L651.4 58.5L652.9 58.3L654.4 58.1L656.0 57.9L657.5 57.7L659.0 57.5L660.5 57.3L662.0 57.1L663.5 56.9L665.0 56.7L666.5 56.5L668.0 56.3L669.5 56.2L671.0 56.0L672.5 55.8L674.1 55.6L675.6 55.4L677.1 55.2L678.6 55.0L680.1 54.9L681.6 54.7L683.1 54.5" stroke="#e3c6dc" stroke-width="1.4" fill="none"/>
<path d="M526.3 216.0L527.8 208.8L529.3 201.8L530.8 194.9L532.3 188.2L533.8 181.6L535.3 175.3L536.8 169.2L538.3 163.3L539.8 157.6L541.3 152.2L542.8 147.0L544.4 142.1L545.9 137.5L547.4 133.1L548.9 129.0L550.4 125.2L551.9 121.6L553.4 118.2L554.9 115.1L556.4 112.2L557.9 109.5L559.4 107.1L560.9 104.7L562.5 102.6L564.0 100.6L565.5 98.8L567.0 97.1L568.5 95.5L570.0 94.0L571.5 92.6L573.0 91.4L574.5 90.2L576.0 89.1L577.5 88.0L579.0 87.0L580.5 86.1L582.1 85.2L583.6 84.4L585.1 83.7L586.6 82.9L588.1 82.2L589.6 81.6L591.1 81.0L592.6 80.4L594.1 79.8L595.6 79.3L597.1 78.8L598.6 78.3L600.2 77.8L601.7 77.2L603.2 76.5L604.7 75.7L606.2 74.9L607.7 73.9L609.2 73.0L610.7 72.0L612.2 70.9L613.7 69.9L615.2 68.9L616.7 67.8L618.3 66.8L619.8 65.8L621.3 64.9L622.8 64.0L624.3 63.3L625.8 62.6L627.3 61.9L628.8 61.5L630.3 61.1L631.8 60.8L633.3 60.6L634.8 60.4L636.3 60.1L637.9 59.9L639.4 59.7L640.9 59.4L642.4 59.2L643.9 59.0L645.4 58.8L646.9 58.6L648.4 58.4L649.9 58.2L651.4 58.0L652.9 57.8L654.4 57.6L656.0 57.3L657.5 57.1L659.0 56.9L660.5 56.8L662.0 56.6L663.5 56.4L665.0 56.2L666.5 56.0L668.0 55.8L669.5 55.6L671.0 55.4L672.5 55.2L674.1 55.0L675.6 54.8L677.1 54.6L678.6 54.4L680.1 54.2L681.6 54.0L683.1 53.8" stroke="#e1c2da" stroke-width="1.4" fill="none"/>
<path d="M526.3 214.1L527.8 206.9L529.3 199.8L530.8 192.8L532.3 186.1L533.8 179.5L535.3 173.1L536.8 166.9L538.3 161.0L539.8 155.3L541.3 149.9L542.8 144.7L544.4 139.8L545.9 135.2L547.4 130.8L548.9 126.7L550.4 122.9L551.9 119.3L553.4 116.0L554.9 112.9L556.4 110.1L557.9 107.5L559.4 105.0L560.9 102.8L562.5 100.7L564.0 98.8L565.5 97.0L567.0 95.3L568.5 93.8L570.0 92.4L571.5 91.1L573.0 89.8L574.5 88.7L576.0 87.6L577.5 86.6L579.0 85.7L580.5 84.8L582.1 84.0L583.6 83.2L585.1 82.5L586.6 81.8L588.1 81.1L589.6 80.5L591.1 79.9L592.6 79.3L594.1 78.8L595.6 78.3L597.1 77.8L598.6 77.4L600.2 76.9L601.7 76.3L603.2 75.6L604.7 74.9L606.2 74.0L607.7 73.1L609.2 72.2L610.7 71.2L612.2 70.2L613.7 69.2L615.2 68.2L616.7 67.2L618.3 66.2L619.8 65.2L621.3 64.3L622.8 63.5L624.3 62.7L625.8 62.0L627.3 61.4L628.8 60.9L630.3 60.6L631.8 60.3L633.3 60.1L634.8 59.9L636.3 59.6L637.9 59.4L639.4 59.2L640.9 59.0L642.4 58.7L643.9 58.5L645.4 58.3L646.9 58.1L648.4 57.9L649.9 57.7L651.4 57.5L652.9 57.2L654.4 57.0L656.0 56.8L657.5 56.6L659.0 56.4L660.5 56.2L662.0 56.0L663.5 55.8L665.0 55.6L666.5 55.4L668.0 55.2L669.5 55.0L671.0 54.8L672.5 54.6L674.1 54.4L675.6 54.2L677.1 54.0L678.6 53.8L680.1 53.5L681.6 53.3L683.1 53.1" stroke="#dfbfd8" stroke-width="1.4" fill="none"/>
<path d="M524.7 219.7L526.3 212.3L527.8 205.0L529.3 197.8L530.8 190.8L532.3 184.0L533.8 177.3L535.3 170.9L536.8 164.7L538.3 158.7L539.8 153.0L541.3 147.5L542.8 142.4L544.4 137.4L545.9 132.8L547.4 128.5L548.9 124.4L550.4 120.6L551.9 117.1L553.4 113.8L554.9 110.8L556.4 108.0L557.9 105.4L559.4 103.0L560.9 100.8L562.5 98.8L564.0 96.9L565.5 95.2L567.0 93.6L568.5 92.2L570.0 90.8L571.5 89.5L573.0 88.3L574.5 87.2L576.0 86.2L577.5 85.3L579.0 84.4L580.5 83.5L582.1 82.7L583.6 82.0L585.1 81.3L586.6 80.6L588.1 80.0L589.6 79.4L591.1 78.9L592.6 78.3L594.1 77.8L595.6 77.3L597.1 76.9L598.6 76.4L600.2 76.0L601.7 75.4L603.2 74.8L604.7 74.0L606.2 73.2L607.7 72.4L609.2 71.4L610.7 70.5L612.2 69.5L613.7 68.5L615.2 67.5L616.7 66.5L618.3 65.6L619.8 64.6L621.3 63.7L622.8 62.9L624.3 62.2L625.8 61.5L627.3 60.9L628.8 60.4L630.3 60.1L631.8 59.9L633.3 59.6L634.8 59.4L636.3 59.2L637.9 58.9L639.4 58.7L640.9 58.5L642.4 58.3L643.9 58.0L645.4 57.8L646.9 57.6L648.4 57.4L649.9 57.2L651.4 57.0L652.9 56.8L654.4 56.5L656.0 56.3L657.5 56.1L659.0 55.9L660.5 55.7L662.0 55.5L663.5 55.3L665.0 55.1L666.5 54.9L668.0 54.6L669.5 54.4L671.0 54.2L672.5 54.0L674.1 53.8L675.6 53.6L677.1 53.4L678.6 53.1L680.1 52.9L681.6 52.7L683.1 52.5" stroke="#ddbcd6" stroke-width="1.4" fill="none"/>
<path d="M524.7 217.9L526.3 210.4L527.8 203.1L529.3 195.8L530.8 188.8L532.3 181.9L533.8 175.2L535.3 168.7L536.8 162.5L538.3 156.5L539.8 150.7L541.3 145.2L542.8 140.0L544.4 135.1L545.9 130.5L547.4 126.1L548.9 122.1L550.4 118.3L551.9 114.8L553.4 111.6L554.9 108.6L556.4 105.9L557.9 103.4L559.4 101.0L560.9 98.9L562.5 96.9L564.0 95.1L565.5 93.5L567.0 91.9L568.5 90.5L570.0 89.2L571.5 88.0L573.0 86.9L574.5 85.8L576.0 84.8L577.5 83.9L579.0 83.1L580.5 82.3L582.1 81.5L583.6 80.8L585.1 80.2L586.6 79.5L588.1 78.9L589.6 78.4L591.1 77.8L592.6 77.3L594.1 76.9L595.6 76.4L597.1 76.0L598.6 75.5L600.2 75.1L601.7 74.6L603.2 73.9L604.7 73.2L606.2 72.5L607.7 71.6L609.2 70.7L610.7 69.8L612.2 68.8L613.7 67.9L615.2 66.9L616.7 65.9L618.3 65.0L619.8 64.1L621.3 63.2L622.8 62.4L624.3 61.7L625.8 61.0L627.3 60.4L628.8 60.0L630.3 59.6L631.8 59.4L633.3 59.2L634.8 58.9L636.3 58.7L637.9 58.5L639.4 58.2L640.9 58.0L642.4 57.8L643.9 57.6L645.4 57.4L646.9 57.2L648.4 56.9L649.9 56.7L651.4 56.5L652.9 56.3L654.4 56.1L656.0 55.9L657.5 55.6L659.0 55.4L660.5 55.2L662.0 55.0L663.5 54.8L665.0 54.5L666.5 54.3L668.0 54.1L669.5 53.9L671.0 53.7L672.5 53.4L674.1 53.2L675.6 53.0L677.1 52.7L678.6 52.5L680.1 52.3L681.6 52.0L683.1 51.8" stroke="#dcb8d4" stroke-width="1.4" fill="none"/>
<path d="M524.7 216.1L526.3 208.6L527.8 201.2L529.3 193.9L530.8 186.8L532.3 179.8L533.8 173.1L535.3 166.6L536.8 160.3L538.3 154.2L539.8 148.4L541.3 142.9L542.8 137.6L544.4 132.7L545.9 128.1L547.4 123.8L548.9 119.7L550.4 116.0L551.9 112.6L553.4 109.4L554.9 106.5L556.4 103.8L557.9 101.3L559.4 99.1L560.9 97.0L562.5 95.1L564.0 93.3L565.5 91.7L567.0 90.3L568.5 88.9L570.0 87.7L571.5 86.5L573.0 85.4L574.5 84.4L576.0 83.5L577.5 82.6L579.0 81.8L580.5 81.1L582.1 80.3L583.6 79.7L585.1 79.0L586.6 78.5L588.1 77.9L589.6 77.4L591.1 76.9L592.6 76.4L594.1 75.9L595.6 75.5L597.1 75.1L598.6 74.7L600.2 74.3L601.7 73.7L603.2 73.1L604.7 72.5L606.2 71.7L607.7 70.9L609.2 70.0L610.7 69.1L612.2 68.2L613.7 67.2L615.2 66.3L616.7 65.3L618.3 64.4L619.8 63.5L621.3 62.7L622.8 61.9L624.3 61.2L625.8 60.5L627.3 60.0L628.8 59.5L630.3 59.2L631.8 58.9L633.3 58.7L634.8 58.5L636.3 58.3L637.9 58.0L639.4 57.8L640.9 57.6L642.4 57.4L643.9 57.1L645.4 56.9L646.9 56.7L648.4 56.5L649.9 56.3L651.4 56.1L652.9 55.8L654.4 55.6L656.0 55.4L657.5 55.2L659.0 54.9L660.5 54.7L662.0 54.5L663.5 54.3L665.0 54.0L666.5 53.8L668.0 53.6L669.5 53.3L671.0 53.1L672.5 52.9L674.1 52.6L675.6 52.4L677.1 52.1L678.6 51.9L680.1 51.7L681.6 51.4L683.1 51.1" stroke="#dab5d2" stroke-width="1.4" fill="none"/>
<path d="M524.7 214.4L526.3 206.8L527.8 199.3L529.3 191.9L530.8 184.8L532.3 177.8L533.8 171.0L535.3 164.4L536.8 158.0L538.3 151.9L539.8 146.1L541.3 140.5L542.8 135.3L544.4 130.3L545.9 125.7L547.4 121.4L548.9 117.4L550.4 113.7L551.9 110.3L553.4 107.2L554.9 104.3L556.4 101.7L557.9 99.3L559.4 97.1L560.9 95.1L562.5 93.3L564.0 91.6L565.5 90.0L567.0 88.6L568.5 87.3L570.0 86.1L571.5 85.0L573.0 84.0L574.5 83.1L576.0 82.2L577.5 81.4L579.0 80.6L580.5 79.9L582.1 79.2L583.6 78.6L585.1 78.0L586.6 77.4L588.1 76.9L589.6 76.4L591.1 75.9L592.6 75.4L594.1 75.0L595.6 74.6L597.1 74.2L598.6 73.8L600.2 73.4L601.7 72.9L603.2 72.4L604.7 71.7L606.2 71.0L607.7 70.2L609.2 69.3L610.7 68.5L612.2 67.5L613.7 66.6L615.2 65.7L616.7 64.8L618.3 63.9L619.8 63.0L621.3 62.2L622.8 61.4L624.3 60.7M633.3 58.3L634.8 58.1L636.3 57.8L637.9 57.6L639.4 57.4L640.9 57.2L642.4 57.0L643.9 56.7L645.4 56.5L646.9 56.3L648.4 56.1L649.9 55.8L651.4 55.6L652.9 55.4L654.4 55.2L656.0 54.9L657.5 54.7L659.0 54.5L660.5 54.2L662.0 54.0L663.5 53.8L665.0 53.5L666.5 53.3L668.0 53.1L669.5 52.8L671.0 52.6L672.5 52.3L674.1 52.1L675.6 51.8L677.1 51.6L678.6 51.3L680.1 51.0L681.6 50.8L683.1 50.5" stroke="#d8b2d0" stroke-width="1.4" fill="none"/>
<path d="M524.7 212.6L526.3 205.0L527.8 197.4L529.3 190.0L530.8 182.8L532.3 175.7L533.8 168.9L535.3 162.2L536.8 155.8L538.3 149.6L539.8 143.8L541.3 138.2L542.8 132.9L544.4 128.0L545.9 123.3L547.4 119.0L548.9 115.1L550.4 111.4L551.9 108.0L553.4 105.0L554.9 102.2L556.4 99.6L557.9 97.3L559.4 95.1L560.9 93.2L562.5 91.4L564.0 89.8L565.5 88.4L567.0 87.0L568.5 85.8L570.0 84.6L571.5 83.6L573.0 82.6L574.5 81.7L576.0 80.9L577.5 80.1L579.0 79.4L580.5 78.7L582.1 78.1L583.6 77.5L585.1 76.9L586.6 76.4L588.1 75.9L589.6 75.4L591.1 75.0L592.6 74.6L594.1 74.1L595.6 73.8L597.1 73.4L598.6 73.0L600.2 72.6L601.7 72.2L603.2 71.6L604.7 71.0L606.2 70.3L607.7 69.5L609.2 68.7L610.7 67.8L612.2 66.9L613.7 66.0L615.2 65.1L616.7 64.3L618.3 63.4L619.8 62.5L621.3 61.7M636.3 57.5L637.9 57.2L639.4 57.0L640.9 56.8L642.4 56.6L643.9 56.3L645.4 56.1L646.9 55.9L648.4 55.7L649.9 55.4L651.4 55.2L652.9 55.0L654.4 54.7L656.0 54.5L657.5 54.3L659.0 54.0L660.5 53.8L662.0 53.5L663.5 53.3L665.0 53.1L666.5 52.8L668.0 52.6L669.5 52.3L671.0 52.0L672.5 51.8L674.1 51.5L675.6 51.3L677.1 51.0L678.6 50.7L680.1 50.4L681.6 50.2L683.1 49.9" stroke="#d6afce" stroke-width="1.4" fill="none"/>
<path d="M523.2 218.8L524.7 210.9L526.3 203.2L527.8 195.6L529.3 188.1L530.8 180.8L532.3 173.7L533.8 166.7L535.3 160.0L536.8 153.6L538.3 147.4L539.8 141.4L541.3 135.8L542.8 130.5L544.4 125.6L545.9 120.9L547.4 116.7L548.9 112.7L550.4 109.1L551.9 105.8L553.4 102.8L554.9 100.0L556.4 97.5L557.9 95.3L559.4 93.2L560.9 91.4L562.5 89.7L564.0 88.1L565.5 86.7L567.0 85.4L568.5 84.3L570.0 83.2L571.5 82.2L573.0 81.3L574.5 80.4L576.0 79.6L577.5 78.9L579.0 78.2L580.5 77.6L582.1 77.0L583.6 76.4L585.1 75.9L586.6 75.4L588.1 75.0L589.6 74.5L591.1 74.1L592.6 73.7L594.1 73.3L595.6 72.9L597.1 72.6L598.6 72.2L600.2 71.9L601.7 71.4L603.2 70.9L604.7 70.3L606.2 69.6L607.7 68.8L609.2 68.1L610.7 67.2L612.2 66.4L613.7 65.5L615.2 64.6L616.7 63.7L618.3 62.9L619.8 62.1M637.9 56.9L639.4 56.6L640.9 56.4L642.4 56.2L643.9 56.0L645.4 55.7L646.9 55.5L648.4 55.3L649.9 55.0L651.4 54.8L652.9 54.6L654.4 54.3L656.0 54.1L657.5 53.8L659.0 53.6L660.5 53.3L662.0 53.1L663.5 52.8L665.0 52.6L666.5 52.3L668.0 52.1L669.5 51.8L671.0 51.5L672.5 51.3L674.1 51.0L675.6 50.7L677.1 50.4L678.6 50.1L680.1 49.8L681.6 49.5L683.1 49.2" stroke="#d5accd" stroke-width="1.4" fill="none"/>
<path d="M523.2 217.2L524.7 209.3L526.3 201.4L527.8 193.8L529.3 186.2L530.8 178.9L532.3 171.7L533.8 164.7L535.3 157.9L536.8 151.3L538.3 145.1L539.8 139.1L541.3 133.5L542.8 128.1L544.4 123.2L545.9 118.5L547.4 114.3L548.9 110.3L550.4 106.8L551.9 103.5L553.4 100.6L554.9 97.9L556.4 95.5L557.9 93.3L559.4 91.3L560.9 89.5L562.5 87.9L564.0 86.4L565.5 85.1L567.0 83.9L568.5 82.8L570.0 81.8L571.5 80.8L573.0 80.0L574.5 79.2L576.0 78.4L577.5 77.8L579.0 77.1L580.5 76.5L582.1 76.0L583.6 75.4L585.1 74.9L586.6 74.5L588.1 74.0L589.6 73.6L591.1 73.2L592.6 72.8L594.1 72.5L595.6 72.1L597.1 71.8L598.6 71.5L600.2 71.2L601.7 70.7L603.2 70.2L604.7 69.6L606.2 68.9L607.7 68.2L609.2 67.5L610.7 66.6L612.2 65.8L613.7 65.0L615.2 64.1L616.7 63.3L618.3 62.4M639.4 56.3L640.9 56.1L642.4 55.8L643.9 55.6L645.4 55.4L646.9 55.1L648.4 54.9L649.9 54.7L651.4 54.4L652.9 54.2L654.4 53.9L656.0 53.7L657.5 53.4L659.0 53.2L660.5 52.9L662.0 52.7L663.5 52.4L665.0 52.1L666.5 51.9L668.0 51.6L669.5 51.3L671.0 51.0L672.5 50.7L674.1 50.5L675.6 50.2L677.1 49.9L678.6 49.6L680.1 49.2L681.6 48.9L683.1 48.6" stroke="#d3aacb" stroke-width="1.4" fill="none"/>
<path d="M523.2 215.6L524.7 207.6L526.3 199.7L527.8 192.0L529.3 184.4L530.8 176.9L532.3 169.7L533.8 162.6L535.3 155.7L536.8 149.1L538.3 142.8L539.8 136.8L541.3 131.1L542.8 125.7L544.4 120.8L545.9 116.1L547.4 111.9L548.9 108.0L550.4 104.5L551.9 101.3L553.4 98.4L554.9 95.8L556.4 93.4L557.9 91.3L559.4 89.4L560.9 87.7L562.5 86.2L564.0 84.8L565.5 83.5L567.0 82.4L568.5 81.3L570.0 80.4L571.5 79.5L573.0 78.7L574.5 78.0L576.0 77.3L577.5 76.6L579.0 76.0L580.5 75.5L582.1 75.0L583.6 74.5L585.1 74.0L586.6 73.6L588.1 73.2L589.6 72.8L591.1 72.4L592.6 72.0L594.1 71.7L595.6 71.4L597.1 71.1L598.6 70.8L600.2 70.4L601.7 70.0L603.2 69.5L604.7 69.0L606.2 68.3L607.7 67.6L609.2 66.9L610.7 66.1L612.2 65.3L613.7 64.5L615.2 63.6L616.7 62.8L618.3 62.0M642.4 55.5L643.9 55.3L645.4 55.0L646.9 54.8L648.4 54.5L649.9 54.3L651.4 54.1L652.9 53.8L654.4 53.6L656.0 53.3L657.5 53.0L659.0 52.8L660.5 52.5L662.0 52.2L663.5 52.0L665.0 51.7L666.5 51.4L668.0 51.1L669.5 50.8L671.0 50.5L672.5 50.2L674.1 49.9L675.6 49.6L677.1 49.3L678.6 49.0L680.1 48.7L681.6 48.3L683.1 48.0" stroke="#d2a7c9" stroke-width="1.4" fill="none"/>
<path d="M523.2 214.0L524.7 206.0L526.3 198.0L527.8 190.2L529.3 182.5L530.8 175.0L532.3 167.7L533.8 160.5L535.3 153.6L536.8 146.9L538.3 140.5L539.8 134.5L541.3 128.7L542.8 123.3L544.4 118.3L545.9 113.7L547.4 109.5L548.9 105.6L550.4 102.1L551.9 99.0L553.4 96.2L554.9 93.7L556.4 91.4L557.9 89.4L559.4 87.6L560.9 86.0L562.5 84.5L564.0 83.2L565.5 82.0L567.0 80.9L568.5 79.9L570.0 79.0L571.5 78.2L573.0 77.5L574.5 76.8L576.0 76.1L577.5 75.5L579.0 75.0L580.5 74.5L582.1 74.0L583.6 73.5L585.1 73.1L586.6 72.7L588.1 72.3L589.6 72.0L591.1 71.6L592.6 71.3L594.1 71.0L595.6 70.7L597.1 70.4L598.6 70.1L600.2 69.8L601.7 69.4L603.2 68.9L604.7 68.4L606.2 67.7L607.7 67.1L609.2 66.3L610.7 65.6L612.2 64.8L613.7 64.0L615.2 63.2L616.7 62.4M643.9 54.9L645.4 54.7L646.9 54.5L648.4 54.2L649.9 54.0L651.4 53.7L652.9 53.5L654.4 53.2L656.0 52.9L657.5 52.7L659.0 52.4L660.5 52.1L662.0 51.8L663.5 51.5L665.0 51.3L666.5 51.0L668.0 50.7L669.5 50.4L671.0 50.1L672.5 49.7L674.1 49.4L675.6 49.1L677.1 48.8L678.6 48.4L680.1 48.1L681.6 47.7L683.1 47.4" stroke="#d0a4c8" stroke-width="1.4" fill="none"/>
<path d="M523.2 212.5L524.7 204.4L526.3 196.4L527.8 188.5L529.3 180.7L530.8 173.1L532.3 165.7L533.8 158.5L535.3 151.5L536.8 144.7L538.3 138.3L539.8 132.1L541.3 126.3L542.8 120.9L544.4 115.9L545.9 111.3L547.4 107.1L548.9 103.3L550.4 99.8L551.9 96.8L553.4 94.0L554.9 91.6L556.4 89.4L557.9 87.5L559.4 85.8L560.9 84.2L562.5 82.9L564.0 81.6L565.5 80.5L567.0 79.5L568.5 78.6L570.0 77.7L571.5 77.0L573.0 76.3L574.5 75.6L576.0 75.0L577.5 74.5L579.0 74.0L580.5 73.5L582.1 73.1L583.6 72.6L585.1 72.2L586.6 71.9L588.1 71.5L589.6 71.2L591.1 70.9L592.6 70.5L594.1 70.2L595.6 70.0L597.1 69.7L598.6 69.4L600.2 69.1L601.7 68.8L603.2 68.3L604.7 67.8L606.2 67.2L607.7 66.5L609.2 65.8L610.7 65.1L612.2 64.3L613.7 63.6L615.2 62.8M643.9 54.7L645.4 54.4L646.9 54.2L648.4 53.9L649.9 53.6L651.4 53.4L652.9 53.1L654.4 52.9L656.0 52.6L657.5 52.3L659.0 52.0L660.5 51.7L662.0 51.4L663.5 51.1L665.0 50.8L666.5 50.5L668.0 50.2L669.5 49.9L671.0 49.6L672.5 49.3L674.1 48.9L675.6 48.6L677.1 48.2L678.6 47.9L680.1 47.5L681.6 47.2L683.1 46.8" stroke="#cfa2c6" stroke-width="1.4" fill="none"/>
<path d="M521.7 219.3L523.2 211.0L524.7 202.8L526.3 194.8L527.8 186.8L529.3 179.0L530.8 171.3L532.3 163.8L533.8 156.4L535.3 149.4L536.8 142.5L538.3 136.0L539.8 129.8L541.3 123.9L542.8 118.5L544.4 113.4L545.9 108.8L547.4 104.6L548.9 100.9L550.4 97.5L551.9 94.5L553.4 91.9L554.9 89.5L556.4 87.4L557.9 85.6L559.4 84.0L560.9 82.5L562.5 81.2L564.0 80.1L565.5 79.0L567.0 78.1L568.5 77.3L570.0 76.5L571.5 75.8L573.0 75.1L574.5 74.5L576.0 74.0L577.5 73.5L579.0 73.0L580.5 72.6L582.1 72.2L583.6 71.8L585.1 71.4L586.6 71.1L588.1 70.7L589.6 70.4L591.1 70.1L592.6 69.8L594.1 69.6L595.6 69.3L597.1 69.0L598.6 68.8L600.2 68.5L601.7 68.2L603.2 67.7L604.7 67.2L606.2 66.7L607.7 66.0L609.2 65.3L610.7 64.6L612.2 63.9L613.7 63.2M645.4 54.1L646.9 53.9L648.4 53.6L649.9 53.3L651.4 53.1L652.9 52.8L654.4 52.5L656.0 52.2L657.5 52.0L659.0 51.7L660.5 51.4L662.0 51.1L663.5 50.8L665.0 50.4L666.5 50.1L668.0 49.8L669.5 49.5L671.0 49.1L672.5 48.8L674.1 48.4L675.6 48.1L677.1 47.7L678.6 47.3L680.1 47.0L681.6 46.6L683.1 46.2" stroke="#cd9fc5" stroke-width="1.4" fill="none"/>
<path d="M521.7 217.9L523.2 209.6L524.7 201.3L526.3 193.2L527.8 185.1L529.3 177.2L530.8 169.4L532.3 161.8L533.8 154.4L535.3 147.3L536.8 140.3L538.3 133.7L539.8 127.4L541.3 121.5L542.8 116.0L544.4 111.0L545.9 106.4L547.4 102.2L548.9 98.5L550.4 95.2L551.9 92.3L553.4 89.7L554.9 87.5L556.4 85.5L557.9 83.8L559.4 82.2L560.9 80.9L562.5 79.7L564.0 78.6L565.5 77.6L567.0 76.8L568.5 76.0L570.0 75.3L571.5 74.6L573.0 74.0L574.5 73.5L576.0 73.0L577.5 72.5L579.0 72.1L580.5 71.7L582.1 71.3L583.6 71.0L585.1 70.6L586.6 70.3L588.1 70.0L589.6 69.7L591.1 69.5L592.6 69.2L594.1 68.9L595.6 68.7L597.1 68.4L598.6 68.2L600.2 68.0L601.7 67.6L603.2 67.2L604.7 66.7L606.2 66.2L607.7 65.6L609.2 64.9L610.7 64.2L612.2 63.5M646.9 53.6L648.4 53.3L649.9 53.1L651.4 52.8L652.9 52.5L654.4 52.2L656.0 51.9L657.5 51.6L659.0 51.3L660.5 51.0L662.0 50.7L663.5 50.4L665.0 50.1L666.5 49.7L668.0 49.4L669.5 49.0L671.0 48.7L672.5 48.3L674.1 48.0L675.6 47.6L677.1 47.2L678.6 46.8L680.1 46.4L681.6 46.0L683.1 45.6" stroke="#cc9dc3" stroke-width="1.4" fill="none"/>
<path d="M521.7 216.6L523.2 208.2L524.7 199.9L526.3 191.6L527.8 183.5L529.3 175.5L530.8 167.7L532.3 160.0L533.8 152.5L535.3 145.2L536.8 138.2L538.3 131.5L539.8 125.1L541.3 119.1L542.8 113.6L544.4 108.5L545.9 103.9L547.4 99.8L548.9 96.1L550.4 92.9L551.9 90.1L553.4 87.6L554.9 85.5L556.4 83.6L557.9 82.0L559.4 80.5L560.9 79.3L562.5 78.2L564.0 77.2L565.5 76.3L567.0 75.5L568.5 74.8L570.0 74.1L571.5 73.5L573.0 73.0L574.5 72.5L576.0 72.1L577.5 71.6L579.0 71.2L580.5 70.9L582.1 70.5L583.6 70.2L585.1 69.9L586.6 69.6L588.1 69.3L589.6 69.1L591.1 68.8L592.6 68.6L594.1 68.3L595.6 68.1L597.1 67.9L598.6 67.7L600.2 67.4L601.7 67.1L603.2 66.7L604.7 66.2L606.2 65.7L607.7 65.1L609.2 64.5L610.7 63.8M648.4 53.1L649.9 52.8L651.4 52.5L652.9 52.2L654.4 51.9L656.0 51.6L657.5 51.3L659.0 51.0L660.5 50.7L662.0 50.4L663.5 50.0L665.0 49.7L666.5 49.3L668.0 49.0L669.5 48.6L671.0 48.3L672.5 47.9L674.1 47.5L675.6 47.1L677.1 46.7L678.6 46.3L680.1 45.9L681.6 45.5L683.1 45.0" stroke="#cb9bc2" stroke-width="1.4" fill="none"/>
<path d="M521.7 215.3L523.2 206.8L524.7 198.4L526.3 190.1L527.8 181.9L529.3 173.9L530.8 165.9L532.3 158.1L533.8 150.5L535.3 143.1L536.8 136.0L538.3 129.2L539.8 122.8L541.3 116.7L542.8 111.1L544.4 106.0L545.9 101.4L547.4 97.3L548.9 93.7L550.4 90.6L551.9 87.9L553.4 85.5L554.9 83.5L556.4 81.7L557.9 80.2L559.4 78.9L560.9 77.7L562.5 76.7L564.0 75.8L565.5 75.0L567.0 74.3L568.5 73.6L570.0 73.0L571.5 72.5L573.0 72.0L574.5 71.6L576.0 71.2L577.5 70.8L579.0 70.4L580.5 70.1L582.1 69.8L583.6 69.5L585.1 69.2L586.6 68.9L588.1 68.7L589.6 68.5L591.1 68.2L592.6 68.0L594.1 67.8L595.6 67.6L597.1 67.4L598.6 67.1L600.2 66.9L601.7 66.6L603.2 66.2L604.7 65.8L606.2 65.3L607.7 64.7L609.2 64.1L610.7 63.5M649.9 52.6L651.4 52.3L652.9 52.0L654.4 51.7L656.0 51.4L657.5 51.0L659.0 50.7L660.5 50.4L662.0 50.0L663.5 49.7L665.0 49.3L666.5 49.0L668.0 48.6L669.5 48.2L671.0 47.8L672.5 47.4L674.1 47.0L675.6 46.6L677.1 46.2L678.6 45.8L680.1 45.3L681.6 44.9L683.1 44.5" stroke="#ca99c0" stroke-width="1.4" fill="none"/>
<path d="M521.7 214.0L523.2 205.5L524.7 197.1L526.3 188.7L527.8 180.4L529.3 172.3L530.8 164.2L532.3 156.3L533.8 148.6L535.3 141.1L536.8 133.9L538.3 127.0L539.8 120.4L541.3 114.3L542.8 108.7L544.4 103.5L545.9 98.9L547.4 94.9L548.9 91.4L550.4 88.3L551.9 85.7L553.4 83.5L554.9 81.6L556.4 79.9L557.9 78.5L559.4 77.3L560.9 76.2L562.5 75.3L564.0 74.5L565.5 73.8L567.0 73.1L568.5 72.5L570.0 72.0L571.5 71.5L573.0 71.1L574.5 70.7L576.0 70.3L577.5 70.0L579.0 69.7L580.5 69.4L582.1 69.1L583.6 68.8L585.1 68.6L586.6 68.3L588.1 68.1L589.6 67.9L591.1 67.7L592.6 67.5L594.1 67.3L595.6 67.1L597.1 66.9L598.6 66.7L600.2 66.5L601.7 66.2L603.2 65.8L604.7 65.4L606.2 64.9L607.7 64.3L609.2 63.8M649.9 52.4L651.4 52.1L652.9 51.8L654.4 51.4L656.0 51.1L657.5 50.8L659.0 50.4L660.5 50.1L662.0 49.7L663.5 49.4L665.0 49.0L666.5 48.6L668.0 48.2L669.5 47.8L671.0 47.4L672.5 47.0L674.1 46.6L675.6 46.2L677.1 45.7L678.6 45.3L680.1 44.8L681.6 44.4L683.1 43.9" stroke="#c897bf" stroke-width="1.4" fill="none"/>
<path d="M521.7 212.9L523.2 204.3L524.7 195.8L526.3 187.3L527.8 179.0L529.3 170.7L530.8 162.6L532.3 154.6L533.8 146.7L535.3 139.1L536.8 131.8L538.3 124.8L539.8 118.1L541.3 111.9L542.8 106.2L544.4 101.0L545.9 96.4L547.4 92.4L548.9 89.0L550.4 86.0L551.9 83.6L553.4 81.5L554.9 79.7L556.4 78.2L557.9 76.9L559.4 75.8L560.9 74.8L562.5 74.0L564.0 73.2L565.5 72.6L567.0 72.0L568.5 71.5L570.0 71.0L571.5 70.6L573.0 70.2L574.5 69.9L576.0 69.5L577.5 69.2L579.0 69.0L580.5 68.7L582.1 68.4L583.6 68.2L585.1 68.0L586.6 67.8L588.1 67.6L589.6 67.4L591.1 67.2L592.6 67.0L594.1 66.8L595.6 66.6L597.1 66.4L598.6 66.2L600.2 66.0L601.7 65.8L603.2 65.4L604.7 65.0L606.2 64.5L607.7 64.0M651.4 51.9L652.9 51.5L654.4 51.2L656.0 50.9L657.5 50.5L659.0 50.2L660.5 49.8L662.0 49.4L663.5 49.0L665.0 48.7L666.5 48.3L668.0 47.9L669.5 47.4L671.0 47.0L672.5 46.6L674.1 46.1L675.6 45.7L677.1 45.2L678.6 44.8L680.1 44.3L681.6 43.8L683.1 43.3" stroke="#c795be" stroke-width="1.4" fill="none"/>
<path d="M521.7 211.7L523.2 203.1L524.7 194.5L526.3 186.0L527.8 177.5L529.3 169.2L530.8 161.0L532.3 152.9L533.8 144.9L535.3 137.2L536.8 129.7L538.3 122.6L539.8 115.8L541.3 109.5L542.8 103.7L544.4 98.5L545.9 93.9L547.4 89.9L548.9 86.6L550.4 83.8L551.9 81.4L553.4 79.5L554.9 77.8L556.4 76.5L557.9 75.3L559.4 74.3L560.9 73.5L562.5 72.7L564.0 72.1L565.5 71.5L567.0 71.0L568.5 70.5L570.0 70.1L571.5 69.8L573.0 69.4L574.5 69.1L576.0 68.8L577.5 68.6L579.0 68.3L580.5 68.1L582.1 67.9L583.6 67.6L585.1 67.4L586.6 67.2L588.1 67.1L589.6 66.9L591.1 66.7L592.6 66.5L594.1 66.3L595.6 66.2L597.1 66.0L598.6 65.8L600.2 65.6L601.7 65.4L603.2 65.0L604.7 64.7L606.2 64.2M651.4 51.7L652.9 51.3L654.4 51.0L656.0 50.6L657.5 50.3L659.0 49.9L660.5 49.5L662.0 49.1L663.5 48.7L665.0 48.3L666.5 47.9L668.0 47.5L669.5 47.1L671.0 46.6L672.5 46.2L674.1 45.7L675.6 45.2L677.1 44.8L678.6 44.3L680.1 43.8L681.6 43.3L683.1 42.7" stroke="#c693bd" stroke-width="1.4" fill="none"/>
<path d="M520.2 219.4L521.7 210.7L523.2 202.0L524.7 193.3L526.3 184.7L527.8 176.2L529.3 167.8L530.8 159.4L532.3 151.2L533.8 143.2L535.3 135.3L536.8 127.7L538.3 120.4L539.8 113.5L541.3 107.0L542.8 101.2L544.4 95.9L545.9 91.3L547.4 87.5L548.9 84.2L550.4 81.6L551.9 79.4L553.4 77.6L554.9 76.1L556.4 74.9L557.9 73.8L559.4 72.9L560.9 72.2L562.5 71.5L564.0 71.0L565.5 70.5L567.0 70.0L568.5 69.7L570.0 69.3L571.5 69.0L573.0 68.7L574.5 68.4L576.0 68.2L577.5 67.9L579.0 67.7L580.5 67.5L582.1 67.3L583.6 67.1L585.1 67.0L586.6 66.8L588.1 66.6L589.6 66.4L591.1 66.3L592.6 66.1L594.1 66.0L595.6 65.8L597.1 65.6L598.6 65.5L600.2 65.3L601.7 65.1L603.2 64.7L604.7 64.4M652.9 51.2L654.4 50.8L656.0 50.5L657.5 50.1L659.0 49.7L660.5 49.3L662.0 48.9L663.5 48.5L665.0 48.0L666.5 47.6L668.0 47.2L669.5 46.7L671.0 46.2L672.5 45.8L674.1 45.3L675.6 44.8L677.1 44.3L678.6 43.8L680.1 43.3L681.6 42.7L683.1 42.2" stroke="#c592bc" stroke-width="1.4" fill="none"/>
<path d="M520.2 218.5L521.7 209.7L523.2 200.9L524.7 192.2L526.3 183.5L527.8 174.9L529.3 166.4L530.8 158.0L532.3 149.7L533.8 141.5L535.3 133.5L536.8 125.7L538.3 118.3L539.8 111.2L541.3 104.6L542.8 98.6L544.4 93.3L545.9 88.8L547.4 85.0L548.9 81.9L550.4 79.4L551.9 77.4L553.4 75.7L554.9 74.4L556.4 73.3L557.9 72.4L559.4 71.7L560.9 71.0L562.5 70.5L564.0 70.0L565.5 69.6L567.0 69.2L568.5 68.8L570.0 68.6L571.5 68.3L573.0 68.0L574.5 67.8L576.0 67.6L577.5 67.4L579.0 67.2L580.5 67.0L582.1 66.8L583.6 66.7L585.1 66.5L586.6 66.4L588.1 66.2L589.6 66.1L591.1 65.9L592.6 65.8L594.1 65.6L595.6 65.5L597.1 65.3L598.6 65.2L600.2 65.0L601.7 64.8M652.9 51.0L654.4 50.7L656.0 50.3L657.5 49.9L659.0 49.5L660.5 49.1L662.0 48.6L663.5 48.2L665.0 47.8L666.5 47.3L668.0 46.8L669.5 46.4L671.0 45.9L672.5 45.4L674.1 44.9L675.6 44.4L677.1 43.8L678.6 43.3L680.1 42.7L681.6 42.2L683.1 41.6" stroke="#c590bb" stroke-width="1.4" fill="none"/>
<path d="M520.2 217.6L521.7 208.8L523.2 199.9L524.7 191.2L526.3 182.4L527.8 173.8L529.3 165.1L530.8 156.6L532.3 148.2L533.8 139.9L535.3 131.7L536.8 123.8L538.3 116.2L539.8 108.9L541.3 102.2L542.8 96.1L544.4 90.7L545.9 86.2L547.4 82.5L548.9 79.5L550.4 77.2L551.9 75.4L553.4 74.0L554.9 72.8L556.4 71.9L557.9 71.1L559.4 70.5L560.9 69.9L562.5 69.5L564.0 69.1L565.5 68.7L567.0 68.4L568.5 68.1L570.0 67.9L571.5 67.7L573.0 67.4L574.5 67.3L576.0 67.1L577.5 66.9L579.0 66.7L580.5 66.6L582.1 66.4L583.6 66.3M654.4 50.5L656.0 50.1L657.5 49.7L659.0 49.3L660.5 48.9L662.0 48.4L663.5 48.0L665.0 47.5L666.5 47.0L668.0 46.5L669.5 46.0L671.0 45.5L672.5 45.0L674.1 44.5L675.6 43.9L677.1 43.4L678.6 42.8L680.1 42.2L681.6 41.6L683.1 41.0" stroke="#c48fba" stroke-width="1.4" fill="none"/>
<path d="M520.2 216.8L521.7 207.9L523.2 199.0L524.7 190.2L526.3 181.4L527.8 172.7L529.3 164.0L530.8 155.3L532.3 146.8L533.8 138.3L535.3 130.1L536.8 122.0L538.3 114.2L539.8 106.7L541.3 99.8L542.8 93.5L544.4 88.1L545.9 83.6L547.4 80.0L548.9 77.3L550.4 75.2L551.9 73.6L553.4 72.3L554.9 71.3L556.4 70.6L557.9 69.9L559.4 69.4L560.9 69.0L562.5 68.6L564.0 68.3L565.5 68.0L567.0 67.7L568.5 67.5L570.0 67.3L571.5 67.1L573.0 66.9L574.5 66.8L576.0 66.6M654.4 50.4L656.0 50.0L657.5 49.6L659.0 49.1L660.5 48.7L662.0 48.2L663.5 47.7L665.0 47.2L666.5 46.7L668.0 46.2L669.5 45.7L671.0 45.2L672.5 44.6L674.1 44.1L675.6 43.5L677.1 42.9L678.6 42.3L680.1 41.7L681.6 41.1L683.1 40.4" stroke="#c38db9" stroke-width="1.4" fill="none"/>
<path d="M520.2 216.1L521.7 207.1L523.2 198.2L524.7 189.3L526.3 180.5L527.8 171.7L529.3 162.9L530.8 154.1L532.3 145.5L533.8 136.9L535.3 128.5L536.8 120.2L538.3 112.2L539.8 104.6L541.3 97.4L542.8 91.0L544.4 85.4L545.9 81.0L547.4 77.5L548.9 75.0L550.4 73.2L551.9 71.8L553.4 70.8L554.9 70.0L556.4 69.4L557.9 68.9L559.4 68.5L560.9 68.1L562.5 67.8L564.0 67.6L565.5 67.4L567.0 67.2L568.5 67.0L570.0 66.8M654.4 50.3L656.0 49.9L657.5 49.4L659.0 49.0L660.5 48.5L662.0 48.0L663.5 47.5L665.0 47.0L666.5 46.5L668.0 45.9L669.5 45.4L671.0 44.8L672.5 44.2L674.1 43.7L675.6 43.1L677.1 42.4L678.6 41.8L680.1 41.2L681.6 40.5L683.1 39.8" stroke="#c28cb8" stroke-width="1.4" fill="none"/>
<path d="M520.2 215.4L521.7 206.5L523.2 197.5L524.7 188.6L526.3 179.7L527.8 170.8L529.3 161.9L530.8 153.1L532.3 144.3L533.8 135.7L535.3 127.1L536.8 118.6L538.3 110.4L539.8 102.5L541.3 95.1L542.8 88.4L544.4 82.7L545.9 78.3L547.4 75.1L548.9 72.9L550.4 71.3L551.9 70.2L553.4 69.4L554.9 68.8L556.4 68.4L557.9 68.0L559.4 67.7L560.9 67.4L562.5 67.2L564.0 67.0L565.5 66.9M654.4 50.3L656.0 49.8L657.5 49.3L659.0 48.9L660.5 48.4L662.0 47.8L663.5 47.3L665.0 46.8L666.5 46.2L668.0 45.6L669.5 45.1L671.0 44.5L672.5 43.9L674.1 43.2L675.6 42.6L677.1 42.0L678.6 41.3L680.1 40.6L681.6 39.9L683.1 39.2" stroke="#c28bb8" stroke-width="1.4" fill="none"/>
<path d="M520.2 214.9L521.7 205.9L523.2 196.9L524.7 187.9L526.3 178.9L527.8 170.0L529.3 161.1L530.8 152.2L532.3 143.3L533.8 134.5L535.3 125.8L536.8 117.2L538.3 108.7L539.8 100.6L541.3 92.8L542.8 85.8L544.4 80.0L545.9 75.6L547.4 72.7L548.9 70.9L550.4 69.7L551.9 68.9L553.4 68.3L554.9 67.9L556.4 67.5L557.9 67.3L559.4 67.1L560.9 66.9M656.0 49.8L657.5 49.3L659.0 48.8L660.5 48.2L662.0 47.7L663.5 47.1L665.0 46.6L666.5 46.0L668.0 45.4L669.5 44.8L671.0 44.1L672.5 43.5L674.1 42.8L675.6 42.2L677.1 41.5L678.6 40.8L680.1 40.1L681.6 39.3L683.1 38.6" stroke="#c18ab7" stroke-width="1.4" fill="none"/>
<path d="M520.2 214.4L521.7 205.4L523.2 196.4L524.7 187.4L526.3 178.3L527.8 169.3L529.3 160.4L530.8 151.4L532.3 142.5L533.8 133.6L535.3 124.7L536.8 115.9L538.3 107.3L539.8 98.8L541.3 90.7L542.8 83.3L544.4 77.2L545.9 73.0L547.4 70.5L548.9 69.1L550.4 68.3L551.9 67.8L553.4 67.4L554.9 67.1L556.4 66.9M654.4 50.3L656.0 49.8L657.5 49.2L659.0 48.7L660.5 48.1L662.0 47.5L663.5 47.0L665.0 46.3L666.5 45.7L668.0 45.1L669.5 44.4L671.0 43.8L672.5 43.1L674.1 42.4L675.6 41.7L677.1 41.0L678.6 40.2L680.1 39.5L681.6 38.7L683.1 37.9" stroke="#c189b7" stroke-width="1.4" fill="none"/>
<path d="M520.2 214.1L521.7 205.0L523.2 196.0L524.7 186.9L526.3 177.9L527.8 168.8L529.3 159.8L530.8 150.8L532.3 141.8L533.8 132.8L535.3 123.8L536.8 114.9L538.3 106.1L539.8 97.3L541.3 88.8L542.8 80.9L544.4 74.3L545.9 70.4L547.4 68.6L548.9 67.7L550.4 67.3L551.9 67.0M654.4 50.3L656.0 49.8L657.5 49.2L659.0 48.6L660.5 48.0L662.0 47.4L663.5 46.8L665.0 46.1L666.5 45.5L668.0 44.8L669.5 44.1L671.0 43.4L672.5 42.7L674.1 41.9L675.6 41.2L677.1 40.4L678.6 39.6L680.1 38.8L681.6 38.0L683.1 37.1" stroke="#c089b6" stroke-width="1.4" fill="none"/>
<path d="M520.2 213.8L521.7 204.8L523.2 195.7L524.7 186.6L526.3 177.6L527.8 168.5L529.3 159.4L530.8 150.4L532.3 141.3L533.8 132.3L535.3 123.2L536.8 114.2L538.3 105.2L539.8 96.2L541.3 87.4L542.8 78.8L544.4 71.4L545.9 68.0L547.4 67.2L548.9 66.9M651.4 51.6L652.9 51.1L654.4 50.5L656.0 49.9L657.5 49.3L659.0 48.6L660.5 48.0L662.0 47.3L663.5 46.6L665.0 45.9L666.5 45.2L668.0 44.5L669.5 43.7L671.0 43.0L672.5 42.2L674.1 41.4L675.6 40.6L677.1 39.7L678.6 38.9L680.1 38.0L681.6 37.1L683.1 36.2" stroke="#c088b6" stroke-width="1.4" fill="none"/>
<path d="M520.2 213.8L521.7 204.7L523.2 195.6L524.7 186.5L526.3 177.5L527.8 168.4L529.3 159.3L530.8 150.3L532.3 141.2L533.8 132.1L535.3 123.1L536.8 114.0L538.3 104.9L539.8 95.9L541.3 86.9L542.8 77.9L544.4 69.6L545.9 67.2L547.4 66.9L548.9 66.9M591.1 65.8L592.6 65.7L594.1 65.5L595.6 65.4L597.1 65.3L598.6 65.1L600.2 65.0L601.7 64.8L603.2 64.6L604.7 64.4L606.2 64.1M646.9 53.5L648.4 53.0L649.9 52.4L651.4 51.8L652.9 51.2L654.4 50.6L656.0 50.0L657.5 49.3L659.0 48.6L660.5 48.0L662.0 47.3L663.5 46.5L665.0 45.8L666.5 45.0L668.0 44.3L669.5 43.5L671.0 42.7L672.5 41.8L674.1 41.0L675.6 40.1L677.1 39.2L678.6 38.3L680.1 37.4L681.6 36.4L683.1 35.5" stroke="#c088b6" stroke-width="1.4" fill="none"/>
<path d="M520.4 217.2L516.4 216.2L521.2 205.7L524.6 205.7ZM522.4 205.7L518.4 204.7L523.1 194.2L526.5 194.2ZM524.3 194.2L520.3 193.2L525.0 182.7L528.4 182.7ZM526.2 182.7L522.2 181.7L526.9 171.2L530.3 171.2ZM528.1 171.2L524.1 170.2L528.8 159.7L532.2 159.7ZM530.0 159.7L526.0 158.7L530.7 148.2L534.1 148.2ZM531.9 148.2L527.9 147.2L532.6 136.7L536.0 136.7ZM533.8 136.7L529.8 135.7L534.5 125.2L537.9 125.2ZM535.7 125.2L531.7 124.2L536.5 113.7L539.9 113.7ZM537.7 113.7L533.7 112.7L538.4 102.2L541.8 102.2ZM539.6 102.2L535.6 101.2L540.3 90.7L543.7 90.7ZM541.5 90.7L537.5 89.7L542.2 79.2L545.6 79.2ZM543.4 79.2L539.4 78.2L544.1 67.7L547.5 67.7Z" fill="#bf86b4"/>
<path d="" stroke="#d6b0cc" stroke-width="1.5" fill="none"/>
<path d="" stroke="#d6b0cc" stroke-width="1.5" fill="none"/>
<path d="" stroke="#d6b0cc" stroke-width="1.5" fill="none"/>
<path d="" stroke="#d6b0cc" stroke-width="1.5" fill="none"/>
<path d="" stroke="#d6b0cc" stroke-width="1.5" fill="none"/>
<path d="" stroke="#d6b0cc" stroke-width="1.5" fill="none"/>
<path d="" stroke="#d6b0cc" stroke-width="1.5" fill="none"/>
<path d="" stroke="#d6b0cc" stroke-width="1.5" fill="none"/>
<path d="" stroke="#d6b0cc" stroke-width="1.5" fill="none"/>
<path d="" stroke="#d6b0cc" stroke-width="1.5" fill="none"/>
<path d="" stroke="#d6b0cc" stroke-width="1.5" fill="none"/>
<path d="" stroke="#d6b0cc" stroke-width="1.5" fill="none"/>
<path d="" stroke="#d6b0cc" stroke-width="1.5" fill="none"/>
<path d="" stroke="#d6b0cc" stroke-width="1.5" fill="none"/>
<path d="" stroke="#d6b0cc" stroke-width="1.5" fill="none"/>
<path d="" stroke="#d6b0cc" stroke-width="1.5" fill="none"/>
<path d="" stroke="#d6b0cc" stroke-width="1.5" fill="none"/>
<path d="" stroke="#d6b0cc" stroke-width="1.5" fill="none"/>
<path d="" stroke="#d6b0cc" stroke-width="1.5" fill="none"/>
<path d="" stroke="#d6b0cc" stroke-width="1.5" fill="none"/>
<path d="" stroke="#d6b0cc" stroke-width="1.5" fill="none"/>
<path d="" stroke="#d5afcb" stroke-width="1.5" fill="none"/>
<path d="" stroke="#d4adca" stroke-width="1.5" fill="none"/>
<path d="" stroke="#d3abc8" stroke-width="1.5" fill="none"/>
<path d="" stroke="#d2a9c7" stroke-width="1.5" fill="none"/>
<path d="" stroke="#d0a7c5" stroke-width="1.5" fill="none"/>
<path d="" stroke="#cfa5c4" stroke-width="1.5" fill="none"/>
<path d="" stroke="#cea2c2" stroke-width="1.5" fill="none"/>
<path d="" stroke="#cca0c1" stroke-width="1.5" fill="none"/>
<path d="" stroke="#cb9ebf" stroke-width="1.5" fill="none"/>
<path d="" stroke="#ca9cbe" stroke-width="1.5" fill="none"/>
<path d="" stroke="#c99abc" stroke-width="1.5" fill="none"/>
<path d="" stroke="#c798bb" stroke-width="1.5" fill="none"/>
<path d="" stroke="#c696b9" stroke-width="1.5" fill="none"/>
<path d="" stroke="#c594b8" stroke-width="1.5" fill="none"/>
<path d="M591.1 219.2L592.6 217.0L594.1 214.9L595.6 212.9L597.1 210.9" stroke="#c392b6" stroke-width="1.5" fill="none"/>
<path d="M589.6 220.0L591.1 217.8L592.6 215.7L594.1 213.6L595.6 211.6L597.1 209.6L598.6 207.7L600.2 205.8L601.7 204.0" stroke="#c290b5" stroke-width="1.5" fill="none"/>
<path d="M589.6 218.6L591.1 216.5L592.6 214.4L594.1 212.3L595.6 210.3L597.1 208.3L598.6 206.4L600.2 204.5L601.7 202.7L603.2 200.9L604.7 199.2" stroke="#c18eb3" stroke-width="1.5" fill="none"/>
<path d="M588.1 219.5L589.6 217.3L591.1 215.1L592.6 213.0L594.1 211.0L595.6 209.0L597.1 207.0L598.6 205.1L600.2 203.2L601.7 201.4L603.2 199.6L604.7 197.9L606.2 196.2L607.7 194.6" stroke="#c08cb2" stroke-width="1.5" fill="none"/>
<path d="M588.1 218.1L589.6 215.9L591.1 213.8L592.6 211.7L594.1 209.6L595.6 207.6L597.1 205.7L598.6 203.8L600.2 201.9L601.7 200.1L603.2 198.4L604.7 196.7L606.2 195.0L607.7 193.4L609.2 191.8" stroke="#be8ab0" stroke-width="1.5" fill="none"/>
<path d="M586.6 219.0L588.1 216.7L589.6 214.5L591.1 212.4L592.6 210.3L594.1 208.3L595.6 206.3L597.1 204.4L598.6 202.5L600.2 200.7L601.7 198.9L603.2 197.1L604.7 195.4L606.2 193.7L607.7 192.1L609.2 190.5L610.7 189.0L612.2 187.5" stroke="#bd87af" stroke-width="1.5" fill="none"/>
<path d="M585.1 219.8L586.6 217.6L588.1 215.3L589.6 213.1L591.1 211.0L592.6 209.0L594.1 206.9L595.6 205.0L597.1 203.0L598.6 201.2L600.2 199.4L601.7 197.6L603.2 195.8L604.7 194.1L606.2 192.5L607.7 190.9L609.2 189.3L610.7 187.8L612.2 186.3L613.7 184.8L615.2 183.4" stroke="#bc85ad" stroke-width="1.5" fill="none"/>
<path d="M585.1 218.4L586.6 216.1L588.1 213.9L589.6 211.8L591.1 209.6L592.6 207.6L594.1 205.6L595.6 203.6L597.1 201.7L598.6 199.9L600.2 198.0L601.7 196.3L603.2 194.6L604.7 192.9L606.2 191.2L607.7 189.6L609.2 188.1L610.7 186.5L612.2 185.1L613.7 183.6L615.2 182.2L616.7 180.8" stroke="#ba83ac" stroke-width="1.5" fill="none"/>
<path d="M583.6 219.3L585.1 217.0L586.6 214.7L588.1 212.5L589.6 210.4L591.1 208.3L592.6 206.2L594.1 204.2L595.6 202.3L597.1 200.4L598.6 198.5L600.2 196.7L601.7 195.0L603.2 193.3L604.7 191.6L606.2 190.0L607.7 188.4L609.2 186.8L610.7 185.3L612.2 183.8L613.7 182.4L615.2 181.0L616.7 179.6L618.3 178.3L619.8 177.0" stroke="#b981aa" stroke-width="1.5" fill="none"/>
<path d="M583.6 217.9L585.1 215.5L586.6 213.3L588.1 211.1L589.6 209.0L591.1 206.9L592.6 204.8L594.1 202.9L595.6 200.9L597.1 199.0L598.6 197.2L600.2 195.4L601.7 193.7L603.2 192.0L604.7 190.3L606.2 188.7L607.7 187.1L609.2 185.6L610.7 184.1L612.2 182.6L613.7 181.2L615.2 179.8L616.7 178.5L618.3 177.1L619.8 175.8L621.3 174.6" stroke="#b87fa9" stroke-width="1.5" fill="none"/>
<path d="M582.1 218.8L583.6 216.4L585.1 214.1L586.6 211.8L588.1 209.7L589.6 207.5L591.1 205.5L592.6 203.4L594.1 201.5L595.6 199.6L597.1 197.7L598.6 195.9L600.2 194.1L601.7 192.4L603.2 190.7L604.7 189.0L606.2 187.4L607.7 185.9L609.2 184.3L610.7 182.9L612.2 181.4L613.7 180.0L615.2 178.6L616.7 177.3L618.3 176.0L619.8 174.7L621.3 173.4L622.8 172.2" stroke="#b77da7" stroke-width="1.5" fill="none"/>
<path d="M580.5 219.7L582.1 217.3L583.6 214.9L585.1 212.6L586.6 210.4L588.1 208.2L589.6 206.1L591.1 204.1L592.6 202.1L594.1 200.1L595.6 198.2L597.1 196.3L598.6 194.5L600.2 192.8L601.7 191.1L603.2 189.4L604.7 187.7L606.2 186.2L607.7 184.6L609.2 183.1L610.7 181.6L612.2 180.2L613.7 178.8L615.2 177.4L616.7 176.1L618.3 174.8L619.8 173.5L621.3 172.3L622.8 171.0L624.3 169.9L625.8 168.7" stroke="#b57ba6" stroke-width="1.5" fill="none"/>
<path d="M580.5 218.2L582.1 215.8L583.6 213.4L585.1 211.2L586.6 208.9L588.1 206.8L589.6 204.7L591.1 202.6L592.6 200.6L594.1 198.7L595.6 196.8L597.1 195.0L598.6 193.2L600.2 191.4L601.7 189.7L603.2 188.1L604.7 186.4L606.2 184.9L607.7 183.3L609.2 181.8L610.7 180.4L612.2 179.0L613.7 177.6L615.2 176.2L616.7 174.9L618.3 173.6L619.8 172.3L621.3 171.1L622.8 169.9L624.3 168.7L625.8 167.6L627.3 166.5" stroke="#b479a4" stroke-width="1.5" fill="none"/>
<path d="M579.0 219.1L580.5 216.7L582.1 214.3L583.6 211.9L585.1 209.7L586.6 207.5L588.1 205.3L589.6 203.3L591.1 201.2L592.6 199.2L594.1 197.3L595.6 195.4L597.1 193.6L598.6 191.8L600.2 190.1L601.7 188.4L603.2 186.8L604.7 185.1L606.2 183.6L607.7 182.1L609.2 180.6L610.7 179.1L612.2 177.7L613.7 176.3L615.2 175.0L616.7 173.7L618.3 172.4L619.8 171.2L621.3 169.9L622.8 168.7L624.3 167.6L625.8 166.5L627.3 165.4L628.8 164.3" stroke="#b377a3" stroke-width="1.5" fill="none"/>
<path d="M579.0 217.6L580.5 215.1L582.1 212.8L583.6 210.5L585.1 208.2L586.6 206.0L588.1 203.9L589.6 201.8L591.1 199.8L592.6 197.8L594.1 195.9L595.6 194.0L597.1 192.2L598.6 190.5L600.2 188.7L601.7 187.1L603.2 185.4L604.7 183.8L606.2 182.3L607.7 180.8L609.2 179.3L610.7 177.9L612.2 176.5L613.7 175.1L615.2 173.8L616.7 172.5L618.3 171.2L619.8 170.0L621.3 168.8L622.8 167.6L624.3 166.4L625.8 165.3L627.3 164.2L628.8 163.2L630.3 162.1" stroke="#b275a1" stroke-width="1.5" fill="none"/>
<path d="M577.5 218.5L579.0 216.0L580.5 213.6L582.1 211.2L583.6 208.9L585.1 206.7L586.6 204.5L588.1 202.4L589.6 200.4L591.1 198.4L592.6 196.4L594.1 194.5L595.6 192.6L597.1 190.8L598.6 189.1L600.2 187.4L601.7 185.7L603.2 184.1L604.7 182.5L606.2 181.0L607.7 179.5L609.2 178.0L610.7 176.6L612.2 175.2L613.7 173.9L615.2 172.6L616.7 171.3L618.3 170.0L619.8 168.8L621.3 167.6L622.8 166.4L624.3 165.3L625.8 164.2L627.3 163.1L628.8 162.0L630.3 161.0L631.8 160.0" stroke="#b073a0" stroke-width="1.5" fill="none"/>
<path d="M576.0 219.5L577.5 216.9L579.0 214.5L580.5 212.1L582.1 209.7L583.6 207.4L585.1 205.2L586.6 203.0L588.1 200.9L589.6 198.9L591.1 196.9L592.6 195.0L594.1 193.1L595.6 191.2L597.1 189.5L598.6 187.7L600.2 186.0L601.7 184.4L603.2 182.8L604.7 181.2L606.2 179.7L607.7 178.2L609.2 176.8L610.7 175.3L612.2 174.0L613.7 172.6L615.2 171.3L616.7 170.1L618.3 168.8L619.8 167.6L621.3 166.4L622.8 165.3L624.3 164.1L625.8 163.0L627.3 162.0L628.8 160.9L630.3 159.9L631.8 158.9L633.3 157.9" stroke="#af719e" stroke-width="1.5" fill="none"/>
<path d="M576.0 217.9L577.5 215.4L579.0 212.9L580.5 210.5L582.1 208.2L583.6 205.9L585.1 203.7L586.6 201.5L588.1 199.5L589.6 197.4L591.1 195.5L592.6 193.5L594.1 191.7L595.6 189.8L597.1 188.1L598.6 186.3L600.2 184.7L601.7 183.0L603.2 181.4L604.7 179.9L606.2 178.4L607.7 176.9L609.2 175.5L610.7 174.1L612.2 172.7L613.7 171.4L615.2 170.1L616.7 168.8L618.3 167.6L619.8 166.4L621.3 165.2L622.8 164.1L624.3 163.0L625.8 161.9L627.3 160.8L628.8 159.8L630.3 158.8L631.8 157.8L633.3 156.9L634.8 155.9" stroke="#ae6e9d" stroke-width="1.5" fill="none"/>
<path d="M574.5 218.9L576.0 216.3L577.5 213.8L579.0 211.3L580.5 208.9L582.1 206.6L583.6 204.4L585.1 202.2L586.6 200.0L588.1 198.0L589.6 196.0L591.1 194.0L592.6 192.1L594.1 190.2L595.6 188.4L597.1 186.7L598.6 184.9L600.2 183.3L601.7 181.7L603.2 180.1L604.7 178.5L606.2 177.1L607.7 175.6L609.2 174.2L610.7 172.8L612.2 171.5L613.7 170.1L615.2 168.9L616.7 167.6L618.3 166.4L619.8 165.2L621.3 164.1L622.8 162.9L624.3 161.8L625.8 160.8L627.3 159.7L628.8 158.7L630.3 157.7L631.8 156.7L633.3 155.8L634.8 154.8L636.3 153.9L637.9 153.0" stroke="#ac6c9b" stroke-width="1.5" fill="none"/>
<path d="M573.0 219.9L574.5 217.3L576.0 214.7L577.5 212.2L579.0 209.7L580.5 207.4L582.1 205.1L583.6 202.8L585.1 200.6L586.6 198.5L588.1 196.5L589.6 194.5L591.1 192.5L592.6 190.6L594.1 188.8L595.6 187.0L597.1 185.2L598.6 183.6L600.2 181.9L601.7 180.3L603.2 178.7L604.7 177.2L606.2 175.7L607.7 174.3L609.2 172.9L610.7 171.5L612.2 170.2L613.7 168.9L615.2 167.6L616.7 166.4L618.3 165.2L619.8 164.0L621.3 162.9L622.8 161.8L624.3 160.7L625.8 159.6L627.3 158.6L628.8 157.6L630.3 156.6L631.8 155.6L633.3 154.7L634.8 153.7L636.3 152.9L637.9 152.0L639.4 151.1" stroke="#ab6a9a" stroke-width="1.5" fill="none"/>
<path d="M573.0 218.3L574.5 215.6L576.0 213.1L577.5 210.6L579.0 208.1L580.5 205.8L582.1 203.5L583.6 201.3L585.1 199.1L586.6 197.0L588.1 195.0L589.6 193.0L591.1 191.0L592.6 189.2L594.1 187.3L595.6 185.6L597.1 183.8L598.6 182.1L600.2 180.5L601.7 178.9L603.2 177.4L604.7 175.9L606.2 174.4L607.7 173.0L609.2 171.6L610.7 170.2L612.2 168.9L613.7 167.6L615.2 166.4L616.7 165.2L618.3 164.0L619.8 162.8L621.3 161.7L622.8 160.6L624.3 159.5L625.8 158.4L627.3 157.4L628.8 156.4L630.3 155.5L631.8 154.5L633.3 153.6L634.8 152.7L636.3 151.8L637.9 150.9L639.4 150.1L640.9 149.2" stroke="#aa6898" stroke-width="1.5" fill="none"/>
<path d="M571.5 219.3L573.0 216.6L574.5 214.0L576.0 211.4L577.5 208.9L579.0 206.5L580.5 204.2L582.1 201.9L583.6 199.7L585.1 197.6L586.6 195.5L588.1 193.4L589.6 191.5L591.1 189.6L592.6 187.7L594.1 185.9L595.6 184.1L597.1 182.4L598.6 180.7L600.2 179.1L601.7 177.5L603.2 176.0L604.7 174.5L606.2 173.1L607.7 171.7L609.2 170.3L610.7 168.9L612.2 167.6L613.7 166.4L615.2 165.1L616.7 163.9L618.3 162.7L619.8 161.6L621.3 160.5L622.8 159.4L624.3 158.3L625.8 157.3L627.3 156.3L628.8 155.3L630.3 154.3L631.8 153.4L633.3 152.5L634.8 151.6L636.3 150.7L637.9 149.8L639.4 149.0L640.9 148.2L642.4 147.4" stroke="#a96697" stroke-width="1.5" fill="none"/>
<path d="M571.5 217.6L573.0 214.9L574.5 212.3L576.0 209.8L577.5 207.3L579.0 204.9L580.5 202.6L582.1 200.3L583.6 198.1L585.1 196.0L586.6 193.9L588.1 191.9L589.6 190.0L591.1 188.1L592.6 186.2L594.1 184.4L595.6 182.7L597.1 181.0L598.6 179.3L600.2 177.7L601.7 176.2L603.2 174.6L604.7 173.2L606.2 171.7L607.7 170.3L609.2 169.0L610.7 167.6L612.2 166.3L613.7 165.1L615.2 163.9L616.7 162.7L618.3 161.5L619.8 160.4L621.3 159.3L622.8 158.2L624.3 157.1L625.8 156.1L627.3 155.1L628.8 154.2L630.3 153.2L631.8 152.3L633.3 151.4L634.8 150.5L636.3 149.6L637.9 148.8L639.4 148.0L640.9 147.1L642.4 146.4L643.9 145.6" stroke="#a76495" stroke-width="1.5" fill="none"/>
<path d="M570.0 218.6L571.5 215.9L573.0 213.2L574.5 210.6L576.0 208.1L577.5 205.7L579.0 203.3L580.5 201.0L582.1 198.7L583.6 196.5L585.1 194.4L586.6 192.4L588.1 190.4L589.6 188.4L591.1 186.6L592.6 184.7L594.1 182.9L595.6 181.2L597.1 179.5L598.6 177.9L600.2 176.3L601.7 174.8L603.2 173.3L604.7 171.8L606.2 170.4L607.7 169.0L609.2 167.6L610.7 166.3L612.2 165.1L613.7 163.8L615.2 162.6L616.7 161.4L618.3 160.3L619.8 159.2L621.3 158.1L622.8 157.0L624.3 156.0L625.8 155.0L627.3 154.0L628.8 153.0L630.3 152.1L631.8 151.2L633.3 150.3L634.8 149.4L636.3 148.5L637.9 147.7L639.4 146.9L640.9 146.1L642.4 145.3L643.9 144.6L645.4 143.8" stroke="#a66294" stroke-width="1.5" fill="none"/>
<path d="M568.5 219.7L570.0 216.9L571.5 214.2L573.0 211.5L574.5 208.9L576.0 206.4L577.5 204.0L579.0 201.6L580.5 199.3L582.1 197.1L583.6 195.0L585.1 192.9L586.6 190.8L588.1 188.8L589.6 186.9L591.1 185.0L592.6 183.2L594.1 181.5L595.6 179.7L597.1 178.1L598.6 176.5L600.2 174.9L601.7 173.4L603.2 171.9L604.7 170.4L606.2 169.0L607.7 167.6L609.2 166.3L610.7 165.0L612.2 163.8L613.7 162.5L615.2 161.3L616.7 160.2L618.3 159.0L619.8 157.9L621.3 156.9L622.8 155.8L624.3 154.8L625.8 153.8L627.3 152.8L628.8 151.9L630.3 150.9L631.8 150.0L633.3 149.2L634.8 148.3L636.3 147.4L637.9 146.6L639.4 145.8L640.9 145.0L642.4 144.3L643.9 143.5L645.4 142.8L646.9 142.1" stroke="#a66294" stroke-width="1.5" fill="none"/>
<path d="M568.5 218.0L570.0 215.2L571.5 212.4L573.0 209.8L574.5 207.2L576.0 204.7L577.5 202.3L579.0 200.0L580.5 197.7L582.1 195.5L583.6 193.3L585.1 191.3L586.6 189.2L588.1 187.3L589.6 185.4L591.1 183.5L592.6 181.7L594.1 180.0L595.6 178.3L597.1 176.6L598.6 175.0L600.2 173.5L601.7 171.9L603.2 170.5L604.7 169.0L606.2 167.7L607.7 166.3L609.2 165.0L610.7 163.7L612.2 162.5L613.7 161.2L615.2 160.1L616.7 158.9L618.3 157.8L619.8 156.7L621.3 155.6L622.8 154.6L624.3 153.6L625.8 152.6L627.3 151.6L628.8 150.7L630.3 149.8L631.8 148.9L633.3 148.0L634.8 147.2L636.3 146.4L637.9 145.5L639.4 144.8L640.9 144.0L642.4 143.2L643.9 142.5L645.4 141.8L646.9 141.1" stroke="#a66294" stroke-width="1.5" fill="none"/>
<path d="M567.0 219.0L568.5 216.2L570.0 213.4L571.5 210.7L573.0 208.1L574.5 205.5L576.0 203.0L577.5 200.6L579.0 198.3L580.5 196.1L582.1 193.9L583.6 191.7L585.1 189.7L586.6 187.7L588.1 185.7L589.6 183.8L591.1 182.0L592.6 180.2L594.1 178.5L595.6 176.8L597.1 175.2L598.6 173.6L600.2 172.0L601.7 170.5L603.2 169.1L604.7 167.7L606.2 166.3L607.7 164.9L609.2 163.6L610.7 162.4L612.2 161.1L613.7 160.0L615.2 158.8L616.7 157.6L618.3 156.5L619.8 155.5L621.3 154.4L622.8 153.4L624.3 152.4L625.8 151.4L627.3 150.5L628.8 149.6L630.3 148.7L631.8 147.8L633.3 146.9L634.8 146.1L636.3 145.3L637.9 144.5L639.4 143.7L640.9 142.9L642.4 142.2L643.9 141.5L645.4 140.7L646.9 140.1L648.4 139.4" stroke="#a66294" stroke-width="1.5" fill="none"/>
<path d="M567.0 217.2L568.5 214.4L570.0 211.6L571.5 208.9L573.0 206.3L574.5 203.8L576.0 201.3L577.5 198.9L579.0 196.6L580.5 194.4L582.1 192.2L583.6 190.1L585.1 188.1L586.6 186.1L588.1 184.1L589.6 182.3L591.1 180.4L592.6 178.7L594.1 177.0L595.6 175.3L597.1 173.7L598.6 172.1L600.2 170.6L601.7 169.1L603.2 167.7L604.7 166.3L606.2 164.9L607.7 163.6L609.2 162.3L610.7 161.1L612.2 159.8L613.7 158.7L615.2 157.5L616.7 156.4L618.3 155.3L619.8 154.2L621.3 153.2L622.8 152.2L624.3 151.2L625.8 150.2L627.3 149.3L628.8 148.4L630.3 147.5L631.8 146.6L633.3 145.8L634.8 145.0L636.3 144.2L637.9 143.4L639.4 142.6L640.9 141.9L642.4 141.1L643.9 140.4L645.4 139.7L646.9 139.0L648.4 138.4L649.9 137.7" stroke="#a66294" stroke-width="1.5" fill="none"/>
<path d="M565.5 218.4L567.0 215.4L568.5 212.6L570.0 209.8L571.5 207.2L573.0 204.6L574.5 202.0L576.0 199.6L577.5 197.2L579.0 194.9L580.5 192.7L582.1 190.6L583.6 188.5L585.1 186.4L586.6 184.5L588.1 182.5L589.6 180.7L591.1 178.9L592.6 177.1L594.1 175.4L595.6 173.8L597.1 172.2L598.6 170.6L600.2 169.1L601.7 167.7L603.2 166.3L604.7 164.9L606.2 163.5L607.7 162.2L609.2 161.0L610.7 159.7L612.2 158.5L613.7 157.3L615.2 156.2L616.7 155.1L618.3 154.0L619.8 153.0L621.3 152.0L622.8 151.0L624.3 150.0L625.8 149.1L627.3 148.1L628.8 147.2L630.3 146.4L631.8 145.5L633.3 144.7L634.8 143.9L636.3 143.1L637.9 142.3L639.4 141.5L640.9 140.8L642.4 140.1L643.9 139.4L645.4 138.7L646.9 138.0L648.4 137.4L649.9 136.7L651.4 136.1" stroke="#a66294" stroke-width="1.5" fill="none"/>
<path d="M564.0 219.5L565.5 216.5L567.0 213.6L568.5 210.8L570.0 208.0L571.5 205.4L573.0 202.8L574.5 200.3L576.0 197.9L577.5 195.5L579.0 193.2L580.5 191.0L582.1 188.9L583.6 186.8L585.1 184.8L586.6 182.8L588.1 180.9L589.6 179.1L591.1 177.3L592.6 175.6L594.1 173.9L595.6 172.3L597.1 170.7L598.6 169.2L600.2 167.7L601.7 166.2L603.2 164.8L604.7 163.5L606.2 162.1L607.7 160.8L609.2 159.6L610.7 158.4L612.2 157.2L613.7 156.0L615.2 154.9L616.7 153.8L618.3 152.8L619.8 151.7L621.3 150.7L622.8 149.7L624.3 148.8L625.8 147.9L627.3 146.9L628.8 146.1L630.3 145.2L631.8 144.4L633.3 143.5L634.8 142.7L636.3 142.0L637.9 141.2L639.4 140.5L640.9 139.7L642.4 139.0L643.9 138.3L645.4 137.6L646.9 137.0L648.4 136.3L649.9 135.7L651.4 135.1L652.9 134.5" stroke="#a66294" stroke-width="1.5" fill="none"/>
<path d="M564.0 217.6L565.5 214.6L567.0 211.7L568.5 208.9L570.0 206.2L571.5 203.6L573.0 201.0L574.5 198.5L576.0 196.1L577.5 193.8L579.0 191.5L580.5 189.3L582.1 187.2L583.6 185.1L585.1 183.1L586.6 181.2L588.1 179.3L589.6 177.5L591.1 175.8L592.6 174.0L594.1 172.4L595.6 170.8L597.1 169.2L598.6 167.7L600.2 166.2L601.7 164.8L603.2 163.4L604.7 162.1L606.2 160.7L607.7 159.5L609.2 158.2L610.7 157.0L612.2 155.9L613.7 154.7L615.2 153.6L616.7 152.5L618.3 151.5L619.8 150.5L621.3 149.5L622.8 148.5L624.3 147.6L625.8 146.7L627.3 145.8L628.8 144.9L630.3 144.0L631.8 143.2L633.3 142.4L634.8 141.6L636.3 140.9L637.9 140.1L639.4 139.4L640.9 138.7L642.4 138.0L643.9 137.3L645.4 136.6L646.9 136.0L648.4 135.3L649.9 134.7L651.4 134.1L652.9 133.5L654.4 132.9" stroke="#a66294" stroke-width="1.5" fill="none"/>
<path d="M562.5 218.8L564.0 215.7L565.5 212.7L567.0 209.9L568.5 207.1L570.0 204.4L571.5 201.7L573.0 199.2L574.5 196.7L576.0 194.3L577.5 192.0L579.0 189.8L580.5 187.6L582.1 185.5L583.6 183.5L585.1 181.5L586.6 179.6L588.1 177.7L589.6 175.9L591.1 174.2L592.6 172.5L594.1 170.8L595.6 169.2L597.1 167.7L598.6 166.2L600.2 164.7L601.7 163.3L603.2 162.0L604.7 160.6L606.2 159.3L607.7 158.1L609.2 156.9L610.7 155.7L612.2 154.5L613.7 153.4L615.2 152.3L616.7 151.2L618.3 150.2L619.8 149.2L621.3 148.2L622.8 147.3L624.3 146.4L625.8 145.5L627.3 144.6L628.8 143.7L630.3 142.9L631.8 142.1L633.3 141.3L634.8 140.5L636.3 139.7L637.9 139.0L639.4 138.3L640.9 137.6L642.4 136.9L643.9 136.2L645.4 135.6L646.9 134.9L648.4 134.3L649.9 133.7L651.4 133.1L652.9 132.5L654.4 131.9L656.0 131.4" stroke="#a66294" stroke-width="1.5" fill="none"/>
<path d="M560.9 220.0L562.5 216.8L564.0 213.8L565.5 210.8L567.0 208.0L568.5 205.2L570.0 202.5L571.5 199.9L573.0 197.4L574.5 194.9L576.0 192.6L577.5 190.3L579.0 188.0L580.5 185.9L582.1 183.8L583.6 181.8L585.1 179.8L586.6 177.9L588.1 176.1L589.6 174.3L591.1 172.6L592.6 170.9L594.1 169.3L595.6 167.7L597.1 166.2L598.6 164.7L600.2 163.3L601.7 161.9L603.2 160.5L604.7 159.2L606.2 157.9L607.7 156.7L609.2 155.5L610.7 154.3L612.2 153.2L613.7 152.1L615.2 151.0L616.7 150.0L618.3 148.9L619.8 147.9L621.3 147.0L622.8 146.0L624.3 145.1L625.8 144.2L627.3 143.4L628.8 142.5L630.3 141.7L631.8 140.9L633.3 140.1L634.8 139.4L636.3 138.6L637.9 137.9L639.4 137.2L640.9 136.5L642.4 135.8L643.9 135.2L645.4 134.5L646.9 133.9L648.4 133.3L649.9 132.7L651.4 132.1L652.9 131.5L654.4 131.0L656.0 130.4L657.5 129.9" stroke="#a66294" stroke-width="1.5" fill="none"/>
<path d="M560.9 218.0L562.5 214.9L564.0 211.9L565.5 208.9L567.0 206.1L568.5 203.3L570.0 200.6L571.5 198.1L573.0 195.5L574.5 193.1L576.0 190.8L577.5 188.5L579.0 186.3L580.5 184.1L582.1 182.1L583.6 180.1L585.1 178.1L586.6 176.3L588.1 174.4L589.6 172.7L591.1 171.0L592.6 169.3L594.1 167.7L595.6 166.2L597.1 164.7L598.6 163.2L600.2 161.8L601.7 160.4L603.2 159.1L604.7 157.8L606.2 156.5L607.7 155.3L609.2 154.1L610.7 152.9L612.2 151.8L613.7 150.7L615.2 149.7L616.7 148.6L618.3 147.6L619.8 146.7L621.3 145.7L622.8 144.8L624.3 143.9L625.8 143.0L627.3 142.2L628.8 141.4L630.3 140.5L631.8 139.8L633.3 139.0L634.8 138.2L636.3 137.5L637.9 136.8L639.4 136.1L640.9 135.4L642.4 134.8L643.9 134.1L645.4 133.5L646.9 132.9L648.4 132.3L649.9 131.7L651.4 131.1L652.9 130.5L654.4 130.0L656.0 129.4L657.5 128.9L659.0 128.4" stroke="#a66294" stroke-width="1.5" fill="none"/>
<path d="M559.4 219.3L560.9 216.0L562.5 212.9L564.0 209.9L565.5 207.0L567.0 204.2L568.5 201.4L570.0 198.8L571.5 196.2L573.0 193.7L574.5 191.3L576.0 189.0L577.5 186.7L579.0 184.5L580.5 182.4L582.1 180.3L583.6 178.4L585.1 176.4L586.6 174.6L588.1 172.8L589.6 171.0L591.1 169.4L592.6 167.7L594.1 166.1L595.6 164.6L597.1 163.1L598.6 161.7L600.2 160.3L601.7 158.9L603.2 157.6L604.7 156.3L606.2 155.1L607.7 153.9L609.2 152.7L610.7 151.6L612.2 150.5L613.7 149.4L615.2 148.4L616.7 147.3L618.3 146.4L619.8 145.4L621.3 144.5L622.8 143.6L624.3 142.7L625.8 141.8L627.3 141.0L628.8 140.2L630.3 139.4L631.8 138.6L633.3 137.8L634.8 137.1L636.3 136.4L637.9 135.7L639.4 135.0L640.9 134.3L642.4 133.7L643.9 133.0L645.4 132.4L646.9 131.8L648.4 131.2L649.9 130.7L651.4 130.1L652.9 129.5L654.4 129.0L656.0 128.5L657.5 127.9L659.0 127.4L660.5 126.9" stroke="#a66294" stroke-width="1.5" fill="none"/>
<path d="M559.4 217.2L560.9 214.0L562.5 210.9L564.0 207.9L565.5 205.0L567.0 202.2L568.5 199.5L570.0 196.8L571.5 194.3L573.0 191.8L574.5 189.4L576.0 187.1L577.5 184.9L579.0 182.7L580.5 180.6L582.1 178.6L583.6 176.6L585.1 174.7L586.6 172.9L588.1 171.1L589.6 169.4L591.1 167.7L592.6 166.1L594.1 164.6L595.6 163.0L597.1 161.6L598.6 160.1L600.2 158.8L601.7 157.4L603.2 156.1L604.7 154.9L606.2 153.6L607.7 152.5L609.2 151.3L610.7 150.2L612.2 149.1L613.7 148.0L615.2 147.0L616.7 146.0L618.3 145.1L619.8 144.1L621.3 143.2L622.8 142.3L624.3 141.4L625.8 140.6L627.3 139.8L628.8 139.0L630.3 138.2L631.8 137.4L633.3 136.7L634.8 136.0L636.3 135.3L637.9 134.6L639.4 133.9L640.9 133.2L642.4 132.6L643.9 132.0L645.4 131.4L646.9 130.8L648.4 130.2L649.9 129.6L651.4 129.1L652.9 128.5L654.4 128.0L656.0 127.5L657.5 127.0L659.0 126.5L660.5 126.0" stroke="#a76496" stroke-width="1.5" fill="none"/>
<path d="M557.9 218.5L559.4 215.2L560.9 212.0L562.5 208.9L564.0 205.9L565.5 203.0L567.0 200.2L568.5 197.5L570.0 194.9L571.5 192.4L573.0 189.9L574.5 187.6L576.0 185.3L577.5 183.1L579.0 180.9L580.5 178.8L582.1 176.8L583.6 174.9L585.1 173.0L586.6 171.2L588.1 169.4L589.6 167.7L591.1 166.1L592.6 164.5L594.1 163.0L595.6 161.5L597.1 160.0L598.6 158.6L600.2 157.2L601.7 155.9L603.2 154.6L604.7 153.4L606.2 152.2L607.7 151.0L609.2 149.9L610.7 148.8L612.2 147.7L613.7 146.7L615.2 145.7L616.7 144.7L618.3 143.8L619.8 142.8L621.3 141.9L622.8 141.0L624.3 140.2L625.8 139.4L627.3 138.6L628.8 137.8L630.3 137.0L631.8 136.3L633.3 135.5L634.8 134.8L636.3 134.1L637.9 133.5L639.4 132.8L640.9 132.2L642.4 131.5L643.9 130.9L645.4 130.3L646.9 129.7L648.4 129.2L649.9 128.6L651.4 128.1L652.9 127.5L654.4 127.0L656.0 126.5L657.5 126.0L659.0 125.5L660.5 125.0L662.0 124.6" stroke="#a96697" stroke-width="1.5" fill="none"/>
<path d="M556.4 219.8L557.9 216.4L559.4 213.1L560.9 209.9L562.5 206.9L564.0 203.9L565.5 201.0L567.0 198.3L568.5 195.6L570.0 193.0L571.5 190.5L573.0 188.0L574.5 185.7L576.0 183.4L577.5 181.2L579.0 179.1L580.5 177.0L582.1 175.1L583.6 173.1L585.1 171.3L586.6 169.5L588.1 167.8L589.6 166.1L591.1 164.4L592.6 162.9L594.1 161.3L595.6 159.9L597.1 158.4L598.6 157.1L600.2 155.7L601.7 154.4L603.2 153.2L604.7 151.9L606.2 150.8L607.7 149.6L609.2 148.5L610.7 147.4L612.2 146.4L613.7 145.3L615.2 144.3L616.7 143.4L618.3 142.4L619.8 141.5L621.3 140.6L622.8 139.8L624.3 138.9L625.8 138.1L627.3 137.3L628.8 136.6L630.3 135.8L631.8 135.1L633.3 134.4L634.8 133.7L636.3 133.0L637.9 132.3L639.4 131.7L640.9 131.1L642.4 130.4L643.9 129.8L645.4 129.3L646.9 128.7L648.4 128.1L649.9 127.6L651.4 127.0L652.9 126.5L654.4 126.0L656.0 125.5L657.5 125.0L659.0 124.6L660.5 124.1L662.0 123.6L663.5 123.2" stroke="#aa6899" stroke-width="1.5" fill="none"/>
<path d="M556.4 217.6L557.9 214.3L559.4 211.0L560.9 207.9L562.5 204.8L564.0 201.9L565.5 199.0L567.0 196.3L568.5 193.6L570.0 191.0L571.5 188.5L573.0 186.1L574.5 183.8L576.0 181.5L577.5 179.4L579.0 177.3L580.5 175.2L582.1 173.3L583.6 171.4L585.1 169.5L586.6 167.8L588.1 166.0L589.6 164.4L591.1 162.8L592.6 161.2L594.1 159.7L595.6 158.3L597.1 156.9L598.6 155.5L600.2 154.2L601.7 152.9L603.2 151.7L604.7 150.5L606.2 149.3L607.7 148.2L609.2 147.1L610.7 146.0L612.2 145.0L613.7 144.0L615.2 143.0L616.7 142.0L618.3 141.1L619.8 140.2L621.3 139.4L622.8 138.5L624.3 137.7L625.8 136.9L627.3 136.1L628.8 135.4L630.3 134.6L631.8 133.9L633.3 133.2L634.8 132.5L636.3 131.9L637.9 131.2L639.4 130.6L640.9 130.0L642.4 129.4L643.9 128.8L645.4 128.2L646.9 127.6L648.4 127.1L649.9 126.6L651.4 126.0L652.9 125.5L654.4 125.0L656.0 124.5L657.5 124.1L659.0 123.6L660.5 123.1L662.0 122.7L663.5 122.3L665.0 121.8" stroke="#ab6a9a" stroke-width="1.5" fill="none"/>
<path d="M554.9 219.0L556.4 215.5L557.9 212.2L559.4 208.9L560.9 205.8L562.5 202.7L564.0 199.8L565.5 197.0L567.0 194.2L568.5 191.6L570.0 189.0L571.5 186.6L573.0 184.2L574.5 181.9L576.0 179.6L577.5 177.5L579.0 175.4L580.5 173.4L582.1 171.5L583.6 169.6L585.1 167.8L586.6 166.0L588.1 164.3L589.6 162.7L591.1 161.1L592.6 159.6L594.1 158.1L595.6 156.7L597.1 155.3L598.6 153.9L600.2 152.6L601.7 151.4L603.2 150.2L604.7 149.0L606.2 147.8L607.7 146.7L609.2 145.6L610.7 144.6L612.2 143.6L613.7 142.6L615.2 141.6L616.7 140.7L618.3 139.8L619.8 138.9L621.3 138.1L622.8 137.2L624.3 136.4L625.8 135.7L627.3 134.9L628.8 134.1L630.3 133.4L631.8 132.7L633.3 132.0L634.8 131.4L636.3 130.7L637.9 130.1L639.4 129.5L640.9 128.9L642.4 128.3L643.9 127.7L645.4 127.1L646.9 126.6L648.4 126.0L649.9 125.5L651.4 125.0L652.9 124.5L654.4 124.0L656.0 123.5L657.5 123.1L659.0 122.6L660.5 122.2L662.0 121.7L663.5 121.3L665.0 120.9L666.5 120.5" stroke="#ad6c9c" stroke-width="1.5" fill="none"/>
<path d="M554.9 216.8L556.4 213.3L557.9 210.0L559.4 206.8L560.9 203.7L562.5 200.6L564.0 197.7L565.5 194.9L567.0 192.2L568.5 189.6L570.0 187.0L571.5 184.6L573.0 182.2L574.5 179.9L576.0 177.7L577.5 175.6L579.0 173.5L580.5 171.6L582.1 169.6L583.6 167.8L585.1 166.0L586.6 164.3L588.1 162.6L589.6 161.0L591.1 159.4L592.6 157.9L594.1 156.5L595.6 155.0L597.1 153.7L598.6 152.4L600.2 151.1L601.7 149.8L603.2 148.6L604.7 147.5L606.2 146.4L607.7 145.3L609.2 144.2L610.7 143.2L612.2 142.2L613.7 141.2L615.2 140.3L616.7 139.4L618.3 138.5L619.8 137.6L621.3 136.8L622.8 136.0L624.3 135.2L625.8 134.4L627.3 133.7L628.8 132.9L630.3 132.2L631.8 131.5L633.3 130.9L634.8 130.2L636.3 129.6L637.9 128.9L639.4 128.3L640.9 127.7L642.4 127.2L643.9 126.6L645.4 126.1L646.9 125.5L648.4 125.0L649.9 124.5L651.4 124.0L652.9 123.5L654.4 123.0L656.0 122.6L657.5 122.1L659.0 121.7L660.5 121.2L662.0 120.8L663.5 120.4L665.0 120.0L666.5 119.6L668.0 119.2" stroke="#ae6e9d" stroke-width="1.5" fill="none"/>
<path d="M553.4 218.1L554.9 214.6L556.4 211.1L557.9 207.8L559.4 204.6L560.9 201.5L562.5 198.5L564.0 195.6L565.5 192.8L567.0 190.1L568.5 187.5L570.0 185.0L571.5 182.6L573.0 180.2L574.5 178.0L576.0 175.8L577.5 173.7L579.0 171.6L580.5 169.7L582.1 167.8L583.6 166.0L585.1 164.2L586.6 162.5L588.1 160.9L589.6 159.3L591.1 157.7L592.6 156.2L594.1 154.8L595.6 153.4L597.1 152.1L598.6 150.8L600.2 149.5L601.7 148.3L603.2 147.1L604.7 146.0L606.2 144.9L607.7 143.8L609.2 142.8L610.7 141.7L612.2 140.8L613.7 139.8L615.2 138.9L616.7 138.0L618.3 137.1L619.8 136.3L621.3 135.5L622.8 134.7L624.3 133.9L625.8 133.2L627.3 132.4L628.8 131.7L630.3 131.0L631.8 130.3L633.3 129.7L634.8 129.0L636.3 128.4L637.9 127.8L639.4 127.2L640.9 126.6L642.4 126.1L643.9 125.5L645.4 125.0L646.9 124.5L648.4 124.0L649.9 123.5L651.4 123.0L652.9 122.5L654.4 122.0L656.0 121.6L657.5 121.1L659.0 120.7L660.5 120.3L662.0 119.8L663.5 119.4L665.0 119.0L666.5 118.6L668.0 118.3" stroke="#af709f" stroke-width="1.5" fill="none"/>
<path d="M551.9 219.5L553.4 215.9L554.9 212.3L556.4 208.9L557.9 205.6L559.4 202.4L560.9 199.3L562.5 196.3L564.0 193.5L565.5 190.7L567.0 188.0L568.5 185.4L570.0 182.9L571.5 180.5L573.0 178.2L574.5 176.0L576.0 173.8L577.5 171.8L579.0 169.7L580.5 167.8L582.1 165.9L583.6 164.1L585.1 162.4L586.6 160.7L588.1 159.1L589.6 157.5L591.1 156.0L592.6 154.6L594.1 153.1L595.6 151.8L597.1 150.5L598.6 149.2L600.2 147.9L601.7 146.7L603.2 145.6L604.7 144.5L606.2 143.4L607.7 142.3L609.2 141.3L610.7 140.3L612.2 139.4L613.7 138.4L615.2 137.5L616.7 136.7L618.3 135.8L619.8 135.0L621.3 134.2L622.8 133.4L624.3 132.6L625.8 131.9L627.3 131.2L628.8 130.5L630.3 129.8L631.8 129.1L633.3 128.5L634.8 127.9L636.3 127.3L637.9 126.7L639.4 126.1L640.9 125.5L642.4 125.0L643.9 124.4L645.4 123.9L646.9 123.4L648.4 122.9L649.9 122.4L651.4 121.9L652.9 121.5L654.4 121.0L656.0 120.6L657.5 120.1L659.0 119.7L660.5 119.3L662.0 118.9L663.5 118.5L665.0 118.1L666.5 117.7L668.0 117.3L669.5 117.0" stroke="#b172a0" stroke-width="1.5" fill="none"/>
<path d="M551.9 217.2L553.4 213.6L554.9 210.1L556.4 206.6L557.9 203.4L559.4 200.2L560.9 197.1L562.5 194.2L564.0 191.3L565.5 188.6L567.0 185.9L568.5 183.3L570.0 180.9L571.5 178.5L573.0 176.2L574.5 174.0L576.0 171.9L577.5 169.8L579.0 167.8L580.5 165.9L582.1 164.1L583.6 162.3L585.1 160.6L586.6 158.9L588.1 157.3L589.6 155.8L591.1 154.3L592.6 152.8L594.1 151.5L595.6 150.1L597.1 148.8L598.6 147.6L600.2 146.4L601.7 145.2L603.2 144.0L604.7 142.9L606.2 141.9L607.7 140.8L609.2 139.8L610.7 138.9L612.2 137.9L613.7 137.0L615.2 136.1L616.7 135.3L618.3 134.5L619.8 133.6L621.3 132.9L622.8 132.1L624.3 131.4L625.8 130.6L627.3 129.9L628.8 129.3L630.3 128.6L631.8 127.9L633.3 127.3L634.8 126.7L636.3 126.1L637.9 125.5L639.4 125.0L640.9 124.4L642.4 123.9L643.9 123.3L645.4 122.8L646.9 122.3L648.4 121.8L649.9 121.4L651.4 120.9L652.9 120.4L654.4 120.0L656.0 119.6L657.5 119.1L659.0 118.7L660.5 118.3L662.0 117.9L663.5 117.5L665.0 117.2L666.5 116.8L668.0 116.4L669.5 116.1L671.0 115.7" stroke="#b274a2" stroke-width="1.5" fill="none"/>
<path d="M550.4 218.6L551.9 214.9L553.4 211.3L554.9 207.7L556.4 204.4L557.9 201.1L559.4 197.9L560.9 194.9L562.5 192.0L564.0 189.1L565.5 186.4L567.0 183.8L568.5 181.2L570.0 178.8L571.5 176.4L573.0 174.2L574.5 172.0L576.0 169.9L577.5 167.8L579.0 165.9L580.5 164.0L582.1 162.2L583.6 160.4L585.1 158.7L586.6 157.1L588.1 155.5L589.6 154.0L591.1 152.5L592.6 151.1L594.1 149.8L595.6 148.5L597.1 147.2L598.6 145.9L600.2 144.8L601.7 143.6L603.2 142.5L604.7 141.4L606.2 140.4L607.7 139.4L609.2 138.4L610.7 137.4L612.2 136.5L613.7 135.6L615.2 134.8L616.7 133.9L618.3 133.1L619.8 132.3L621.3 131.5L622.8 130.8L624.3 130.1L625.8 129.4L627.3 128.7L628.8 128.0L630.3 127.4L631.8 126.7L633.3 126.1L634.8 125.5L636.3 124.9L637.9 124.4L639.4 123.8L640.9 123.3L642.4 122.8L643.9 122.2L645.4 121.7L646.9 121.3L648.4 120.8L649.9 120.3L651.4 119.9L652.9 119.4L654.4 119.0L656.0 118.6L657.5 118.2L659.0 117.8L660.5 117.4L662.0 117.0L663.5 116.6L665.0 116.2L666.5 115.9L668.0 115.5L669.5 115.2L671.0 114.8L672.5 114.5" stroke="#b376a3" stroke-width="1.5" fill="none"/>
<path d="M550.4 216.2L551.9 212.5L553.4 208.9L554.9 205.4L556.4 202.0L557.9 198.8L559.4 195.7L560.9 192.6L562.5 189.7L564.0 186.9L565.5 184.2L567.0 181.6L568.5 179.1L570.0 176.7L571.5 174.3L573.0 172.1L574.5 169.9L576.0 167.8L577.5 165.8L579.0 163.9L580.5 162.1L582.1 160.3L583.6 158.5L585.1 156.9L586.6 155.3L588.1 153.7L589.6 152.2L591.1 150.8L592.6 149.4L594.1 148.1L595.6 146.8L597.1 145.5L598.6 144.3L600.2 143.1L601.7 142.0L603.2 140.9L604.7 139.9L606.2 138.8L607.7 137.9L609.2 136.9L610.7 136.0L612.2 135.1L613.7 134.2L615.2 133.4L616.7 132.5L618.3 131.7L619.8 131.0L621.3 130.2L622.8 129.5L624.3 128.8L625.8 128.1L627.3 127.4L628.8 126.8L630.3 126.1L631.8 125.5L633.3 124.9L634.8 124.3L636.3 123.8L637.9 123.2L639.4 122.7L640.9 122.2L642.4 121.6L643.9 121.2L645.4 120.7L646.9 120.2L648.4 119.7L649.9 119.3L651.4 118.8L652.9 118.4L654.4 118.0L656.0 117.6L657.5 117.2L659.0 116.8L660.5 116.4L662.0 116.0L663.5 115.6L665.0 115.3L666.5 114.9L668.0 114.6L669.5 114.2L671.0 113.9L672.5 113.6L674.1 113.3" stroke="#b578a5" stroke-width="1.5" fill="none"/>
<path d="M548.9 217.7L550.4 213.8L551.9 210.1L553.4 206.5L554.9 203.0L556.4 199.7L557.9 196.5L559.4 193.3L560.9 190.3L562.5 187.4L564.0 184.7L565.5 182.0L567.0 179.4L568.5 176.9L570.0 174.5L571.5 172.2L573.0 170.0L574.5 167.9L576.0 165.8L577.5 163.8L579.0 161.9L580.5 160.1L582.1 158.3L583.6 156.6L585.1 155.0L586.6 153.4L588.1 151.9L589.6 150.4L591.1 149.0L592.6 147.7L594.1 146.3L595.6 145.1L597.1 143.9L598.6 142.7L600.2 141.5L601.7 140.4L603.2 139.4L604.7 138.3L606.2 137.3L607.7 136.4L609.2 135.4L610.7 134.5L612.2 133.6L613.7 132.8L615.2 131.9L616.7 131.1L618.3 130.4L619.8 129.6L621.3 128.9L622.8 128.2L624.3 127.5L625.8 126.8L627.3 126.2L628.8 125.5L630.3 124.9L631.8 124.3L633.3 123.7L634.8 123.2L636.3 122.6L637.9 122.1L639.4 121.5L640.9 121.0L642.4 120.5L643.9 120.0L645.4 119.6L646.9 119.1L648.4 118.7L649.9 118.2L651.4 117.8L652.9 117.4L654.4 117.0L656.0 116.6L657.5 116.2L659.0 115.8L660.5 115.4L662.0 115.0L663.5 114.7L665.0 114.3L666.5 114.0L668.0 113.7L669.5 113.3L671.0 113.0L672.5 112.7L674.1 112.4" stroke="#b67ba6" stroke-width="1.5" fill="none"/>
<path d="M547.4 219.2L548.9 215.2L550.4 211.4L551.9 207.7L553.4 204.1L554.9 200.6L556.4 197.3L557.9 194.1L559.4 191.0L560.9 188.0L562.5 185.1L564.0 182.4L565.5 179.7L567.0 177.2L568.5 174.7L570.0 172.3L571.5 170.1L573.0 167.9L574.5 165.8L576.0 163.7L577.5 161.8L579.0 159.9L580.5 158.1L582.1 156.4L583.6 154.7L585.1 153.1L586.6 151.6L588.1 150.1L589.6 148.6L591.1 147.2L592.6 145.9L594.1 144.6L595.6 143.4L597.1 142.2L598.6 141.0L600.2 139.9L601.7 138.8L603.2 137.8L604.7 136.8L606.2 135.8L607.7 134.8L609.2 133.9L610.7 133.0L612.2 132.2L613.7 131.3L615.2 130.5L616.7 129.8L618.3 129.0L619.8 128.3L621.3 127.5L622.8 126.9L624.3 126.2L625.8 125.5L627.3 124.9L628.8 124.3L630.3 123.7L631.8 123.1L633.3 122.5L634.8 122.0L636.3 121.4L637.9 120.9L639.4 120.4L640.9 119.9L642.4 119.4L643.9 118.9L645.4 118.5L646.9 118.0L648.4 117.6L649.9 117.2L651.4 116.7L652.9 116.3L654.4 115.9L656.0 115.6L657.5 115.2L659.0 114.8L660.5 114.4L662.0 114.1L663.5 113.7L665.0 113.4L666.5 113.1L668.0 112.7L669.5 112.4L671.0 112.1L672.5 111.8L674.1 111.5L675.6 111.2" stroke="#b87da8" stroke-width="1.5" fill="none"/>
<path d="M547.4 216.7L548.9 212.7L550.4 208.9L551.9 205.2L553.4 201.6L554.9 198.2L556.4 194.9L557.9 191.7L559.4 188.6L560.9 185.6L562.5 182.8L564.0 180.1L565.5 177.4L567.0 174.9L568.5 172.5L570.0 170.1L571.5 167.9L573.0 165.7L574.5 163.7L576.0 161.7L577.5 159.7L579.0 157.9L580.5 156.1L582.1 154.4L583.6 152.8L585.1 151.2L586.6 149.7L588.1 148.2L589.6 146.8L591.1 145.4L592.6 144.1L594.1 142.9L595.6 141.7L597.1 140.5L598.6 139.3L600.2 138.3L601.7 137.2L603.2 136.2L604.7 135.2L606.2 134.2L607.7 133.3L609.2 132.4L610.7 131.6L612.2 130.7L613.7 129.9L615.2 129.1L616.7 128.4L618.3 127.6L619.8 126.9L621.3 126.2L622.8 125.5L624.3 124.9L625.8 124.2L627.3 123.6L628.8 123.0L630.3 122.4L631.8 121.9L633.3 121.3L634.8 120.8L636.3 120.3L637.9 119.7L639.4 119.2L640.9 118.8L642.4 118.3L643.9 117.8L645.4 117.4L646.9 116.9L648.4 116.5L649.9 116.1L651.4 115.7L652.9 115.3L654.4 114.9L656.0 114.5L657.5 114.2L659.0 113.8L660.5 113.5L662.0 113.1L663.5 112.8L665.0 112.4L666.5 112.1L668.0 111.8L669.5 111.5L671.0 111.2L672.5 110.9L674.1 110.6L675.6 110.3L677.1 110.0" stroke="#b97fa9" stroke-width="1.5" fill="none"/>
<path d="M545.9 218.2L547.4 214.1L548.9 210.2L550.4 206.4L551.9 202.7L553.4 199.1L554.9 195.7L556.4 192.4L557.9 189.2L559.4 186.2L560.9 183.3L562.5 180.4L564.0 177.7L565.5 175.1L567.0 172.6L568.5 170.2L570.0 167.9L571.5 165.7L573.0 163.6L574.5 161.5L576.0 159.6L577.5 157.7L579.0 155.9L580.5 154.1L582.1 152.4L583.6 150.8L585.1 149.3L586.6 147.8L588.1 146.3L589.6 145.0L591.1 143.6L592.6 142.4L594.1 141.1L595.6 139.9L597.1 138.8L598.6 137.7L600.2 136.6L601.7 135.6L603.2 134.6L604.7 133.6L606.2 132.7L607.7 131.8L609.2 130.9L610.7 130.1L612.2 129.2L613.7 128.5L615.2 127.7L616.7 126.9L618.3 126.2L619.8 125.5L621.3 124.9L622.8 124.2L624.3 123.6L625.8 122.9L627.3 122.3L628.8 121.8L630.3 121.2L631.8 120.6L633.3 120.1L634.8 119.6L636.3 119.1L637.9 118.6L639.4 118.1L640.9 117.6L642.4 117.2L643.9 116.7L645.4 116.3L646.9 115.9L648.4 115.4L649.9 115.0L651.4 114.7L652.9 114.3L654.4 113.9L656.0 113.5L657.5 113.2L659.0 112.8L660.5 112.5L662.0 112.1L663.5 111.8L665.0 111.5L666.5 111.2L668.0 110.9L669.5 110.6L671.0 110.3L672.5 110.0L674.1 109.7L675.6 109.4L677.1 109.2L678.6 108.9" stroke="#ba81ab" stroke-width="1.5" fill="none"/>
<path d="M544.4 219.8L545.9 215.6L547.4 211.5L548.9 207.6L550.4 203.8L551.9 200.1L553.4 196.6L554.9 193.2L556.4 189.9L557.9 186.8L559.4 183.7L560.9 180.8L562.5 178.0L564.0 175.3L565.5 172.8L567.0 170.3L568.5 167.9L570.0 165.7L571.5 163.5L573.0 161.4L574.5 159.4L576.0 157.4L577.5 155.6L579.0 153.8L580.5 152.1L582.1 150.4L583.6 148.8L585.1 147.3L586.6 145.9L588.1 144.5L589.6 143.1L591.1 141.8L592.6 140.6L594.1 139.3L595.6 138.2L597.1 137.1L598.6 136.0L600.2 134.9L601.7 133.9L603.2 133.0L604.7 132.0L606.2 131.1L607.7 130.2L609.2 129.4L610.7 128.6L612.2 127.8L613.7 127.0L615.2 126.3L616.7 125.5L618.3 124.8L619.8 124.2L621.3 123.5L622.8 122.9L624.3 122.2L625.8 121.6L627.3 121.1L628.8 120.5L630.3 119.9L631.8 119.4L633.3 118.9L634.8 118.4L636.3 117.9L637.9 117.4L639.4 116.9L640.9 116.5L642.4 116.0L643.9 115.6L645.4 115.2L646.9 114.8L648.4 114.4L649.9 114.0L651.4 113.6L652.9 113.2L654.4 112.9L656.0 112.5L657.5 112.2L659.0 111.8L660.5 111.5L662.0 111.2L663.5 110.9L665.0 110.5L666.5 110.2L668.0 109.9L669.5 109.7L671.0 109.4L672.5 109.1L674.1 108.8L675.6 108.6L677.1 108.3L678.6 108.0L680.1 107.8" stroke="#bc83ad" stroke-width="1.5" fill="none"/>
<path d="M544.4 217.2L545.9 213.0L547.4 208.9L548.9 205.0L550.4 201.2L551.9 197.5L553.4 194.0L554.9 190.6L556.4 187.4L557.9 184.2L559.4 181.2L560.9 178.4L562.5 175.6L564.0 172.9L565.5 170.4L567.0 167.9L568.5 165.6L570.0 163.4L571.5 161.2L573.0 159.1L574.5 157.2L576.0 155.3L577.5 153.4L579.0 151.7L580.5 150.0L582.1 148.4L583.6 146.8L585.1 145.4L586.6 143.9L588.1 142.6L589.6 141.2L591.1 140.0L592.6 138.7L594.1 137.6L595.6 136.4L597.1 135.3L598.6 134.3L600.2 133.3L601.7 132.3L603.2 131.3L604.7 130.4L606.2 129.5L607.7 128.7L609.2 127.9L610.7 127.1L612.2 126.3L613.7 125.5L615.2 124.8L616.7 124.1L618.3 123.4L619.8 122.8L621.3 122.1L622.8 121.5L624.3 120.9L625.8 120.3L627.3 119.8L628.8 119.2L630.3 118.7L631.8 118.2L633.3 117.7L634.8 117.2L636.3 116.7L637.9 116.2L639.4 115.8L640.9 115.3L642.4 114.9L643.9 114.5L645.4 114.1L646.9 113.7L648.4 113.3L649.9 112.9L651.4 112.5L652.9 112.2L654.4 111.8L656.0 111.5L657.5 111.2L659.0 110.8L660.5 110.5L662.0 110.2L663.5 109.9L665.0 109.6L666.5 109.3L668.0 109.0L669.5 108.7L671.0 108.5L672.5 108.2L674.1 107.9L675.6 107.7L677.1 107.4L678.6 107.2L680.1 106.9" stroke="#bd86ae" stroke-width="1.5" fill="none"/>
<path d="M542.8 218.8L544.4 214.5L545.9 210.3L547.4 206.2L548.9 202.3L550.4 198.5L551.9 194.9L553.4 191.4L554.9 188.0L556.4 184.8L557.9 181.7L559.4 178.7L560.9 175.8L562.5 173.1L564.0 170.5L565.5 168.0L567.0 165.6L568.5 163.2L570.0 161.0L571.5 158.9L573.0 156.9L574.5 154.9L576.0 153.1L577.5 151.3L579.0 149.6L580.5 147.9L582.1 146.3L583.6 144.8L585.1 143.4L586.6 142.0L588.1 140.6L589.6 139.3L591.1 138.1L592.6 136.9L594.1 135.8L595.6 134.6L597.1 133.6L598.6 132.6L600.2 131.6L601.7 130.6L603.2 129.7L604.7 128.8L606.2 127.9L607.7 127.1L609.2 126.3L610.7 125.5L612.2 124.8L613.7 124.1L615.2 123.4L616.7 122.7L618.3 122.0L619.8 121.4L621.3 120.8L622.8 120.2L624.3 119.6L625.8 119.0L627.3 118.5L628.8 117.9L630.3 117.4L631.8 116.9L633.3 116.4L634.8 116.0L636.3 115.5L637.9 115.0L639.4 114.6L640.9 114.2L642.4 113.8L643.9 113.4L645.4 113.0L646.9 112.6L648.4 112.2L649.9 111.8L651.4 111.5L652.9 111.1L654.4 110.8L656.0 110.5L657.5 110.1L659.0 109.8L660.5 109.5L662.0 109.2L663.5 108.9L665.0 108.6L666.5 108.3L668.0 108.1L669.5 107.8L671.0 107.5L672.5 107.3L674.1 107.0L675.6 106.8L677.1 106.5L678.6 106.3L680.1 106.1L681.6 105.8" stroke="#bf88b0" stroke-width="1.5" fill="none"/>
<path d="M542.8 216.1L544.4 211.7L545.9 207.5L547.4 203.4L548.9 199.5L550.4 195.8L551.9 192.1L553.4 188.7L554.9 185.3L556.4 182.1L557.9 179.1L559.4 176.1L560.9 173.3L562.5 170.6L564.0 168.0L565.5 165.5L567.0 163.1L568.5 160.9L570.0 158.7L571.5 156.6L573.0 154.6L574.5 152.7L576.0 150.9L577.5 149.1L579.0 147.4L580.5 145.8L582.1 144.3L583.6 142.8L585.1 141.4L586.6 140.0L588.1 138.7L589.6 137.4L591.1 136.2L592.6 135.1L594.1 133.9L595.6 132.9L597.1 131.8L598.6 130.8L600.2 129.9L601.7 128.9L603.2 128.0L604.7 127.2L606.2 126.3L607.7 125.5L609.2 124.8L610.7 124.0L612.2 123.3L613.7 122.6L615.2 121.9L616.7 121.2L618.3 120.6L619.8 120.0L621.3 119.4L622.8 118.8L624.3 118.2L625.8 117.7L627.3 117.2L628.8 116.7L630.3 116.2L631.8 115.7L633.3 115.2L634.8 114.7L636.3 114.3L637.9 113.9L639.4 113.4L640.9 113.0L642.4 112.6L643.9 112.2L645.4 111.9L646.9 111.5L648.4 111.1L649.9 110.8L651.4 110.4L652.9 110.1L654.4 109.8L656.0 109.4L657.5 109.1L659.0 108.8L660.5 108.5L662.0 108.2L663.5 107.9L665.0 107.7L666.5 107.4L668.0 107.1L669.5 106.9L671.0 106.6L672.5 106.4L674.1 106.1L675.6 105.9L677.1 105.6L678.6 105.4L680.1 105.2L681.6 105.0L683.1 104.8" stroke="#c08ab2" stroke-width="1.5" fill="none"/>
<path d="M541.3 217.7L542.8 213.2L544.4 208.9L545.9 204.7L547.4 200.6L548.9 196.7L550.4 193.0L551.9 189.4L553.4 185.9L554.9 182.6L556.4 179.4L557.9 176.4L559.4 173.5L560.9 170.7L562.5 168.0L564.0 165.5L565.5 163.0L567.0 160.7L568.5 158.4L570.0 156.3L571.5 154.2L573.0 152.3L574.5 150.4L576.0 148.6L577.5 146.9L579.0 145.3L580.5 143.7L582.1 142.2L583.6 140.7L585.1 139.3L586.6 138.0L588.1 136.7L589.6 135.5L591.1 134.3L592.6 133.2L594.1 132.1L595.6 131.1L597.1 130.0L598.6 129.1L600.2 128.1L601.7 127.2L603.2 126.4L604.7 125.5L606.2 124.7L607.7 124.0L609.2 123.2L610.7 122.5L612.2 121.8L613.7 121.1L615.2 120.4L616.7 119.8L618.3 119.2L619.8 118.6L621.3 118.0L622.8 117.4L624.3 116.9L625.8 116.4L627.3 115.9L628.8 115.4L630.3 114.9L631.8 114.4L633.3 114.0L634.8 113.5L636.3 113.1L637.9 112.7L639.4 112.3L640.9 111.9L642.4 111.5L643.9 111.1L645.4 110.7L646.9 110.4L648.4 110.0L649.9 109.7L651.4 109.4L652.9 109.0L654.4 108.7L656.0 108.4L657.5 108.1L659.0 107.8L660.5 107.5L662.0 107.2L663.5 107.0L665.0 106.7L666.5 106.4L668.0 106.2L669.5 105.9L671.0 105.7L672.5 105.5L674.1 105.2L675.6 105.0L677.1 104.8L678.6 104.5L680.1 104.3L681.6 104.1L683.1 103.9" stroke="#c28db4" stroke-width="1.5" fill="none"/>
<path d="M539.8 219.5L541.3 214.8L542.8 210.3L544.4 206.0L545.9 201.8L547.4 197.8L548.9 193.9L550.4 190.1L551.9 186.6L553.4 183.1L554.9 179.8L556.4 176.7L557.9 173.7L559.4 170.8L560.9 168.0L562.5 165.4L564.0 162.9L565.5 160.5L567.0 158.2L568.5 156.0L570.0 153.9L571.5 151.9L573.0 149.9L574.5 148.1L576.0 146.3L577.5 144.7L579.0 143.1L580.5 141.5L582.1 140.0L583.6 138.6L585.1 137.3L586.6 136.0L588.1 134.7L589.6 133.6L591.1 132.4L592.6 131.3L594.1 130.3L595.6 129.2L597.1 128.3L598.6 127.3L600.2 126.4L601.7 125.5L603.2 124.7L604.7 123.9L606.2 123.1L607.7 122.4L609.2 121.6L610.7 120.9L612.2 120.2L613.7 119.6L615.2 119.0L616.7 118.3L618.3 117.7L619.8 117.2L621.3 116.6L622.8 116.1L624.3 115.6L625.8 115.0L627.3 114.6L628.8 114.1L630.3 113.6L631.8 113.2L633.3 112.7L634.8 112.3L636.3 111.9L637.9 111.5L639.4 111.1L640.9 110.7L642.4 110.3L643.9 110.0L645.4 109.6L646.9 109.3L648.4 108.9L649.9 108.6L651.4 108.3L652.9 108.0L654.4 107.7L656.0 107.4L657.5 107.1L659.0 106.8L660.5 106.5L662.0 106.3L663.5 106.0L665.0 105.7L666.5 105.5L668.0 105.2L669.5 105.0L671.0 104.8L672.5 104.5L674.1 104.3L675.6 104.1L677.1 103.9L678.6 103.7L680.1 103.5L681.6 103.3L683.1 103.1" stroke="#c48fb6" stroke-width="1.5" fill="none"/>
<path d="M539.8 216.6L541.3 211.9L542.8 207.4L544.4 203.0L545.9 198.8L547.4 194.8L548.9 191.0L550.4 187.2L551.9 183.7L553.4 180.3L554.9 177.0L556.4 173.9L557.9 170.9L559.4 168.1L560.9 165.3L562.5 162.7L564.0 160.3L565.5 157.9L567.0 155.6L568.5 153.5L570.0 151.4L571.5 149.4L573.0 147.5L574.5 145.7L576.0 144.0L577.5 142.4L579.0 140.8L580.5 139.3L582.1 137.9L583.6 136.5L585.1 135.2L586.6 133.9L588.1 132.7L589.6 131.6L591.1 130.5L592.6 129.4L594.1 128.4L595.6 127.4L597.1 126.5L598.6 125.5L600.2 124.7L601.7 123.8L603.2 123.0L604.7 122.2L606.2 121.5L607.7 120.8L609.2 120.1L610.7 119.4L612.2 118.7L613.7 118.1L615.2 117.5L616.7 116.9L618.3 116.3L619.8 115.8L621.3 115.2L622.8 114.7L624.3 114.2L625.8 113.7L627.3 113.2L628.8 112.8L630.3 112.3L631.8 111.9L633.3 111.5L634.8 111.1L636.3 110.7L637.9 110.3L639.4 109.9L640.9 109.5L642.4 109.2L643.9 108.8L645.4 108.5L646.9 108.2L648.4 107.8L649.9 107.5L651.4 107.2L652.9 106.9L654.4 106.6L656.0 106.3L657.5 106.1L659.0 105.8L660.5 105.5L662.0 105.3L663.5 105.0L665.0 104.8L666.5 104.5L668.0 104.3L669.5 104.1L671.0 103.8L672.5 103.6L674.1 103.4L675.6 103.2L677.1 103.0L678.6 102.8L680.1 102.6L681.6 102.4L683.1 102.2" stroke="#c592b7" stroke-width="1.5" fill="none"/>
<path d="M538.3 218.4L539.8 213.5L541.3 208.9L542.8 204.4L544.4 200.0L545.9 195.8L547.4 191.8L548.9 188.0L550.4 184.3L551.9 180.7L553.4 177.4L554.9 174.1L556.4 171.0L557.9 168.1L559.4 165.3L560.9 162.6L562.5 160.0L564.0 157.6L565.5 155.2L567.0 153.0L568.5 150.9L570.0 148.9L571.5 147.0L573.0 145.1L574.5 143.4L576.0 141.7L577.5 140.1L579.0 138.6L580.5 137.1L582.1 135.7L583.6 134.4L585.1 133.1L586.6 131.9L588.1 130.7L589.6 129.6L591.1 128.5L592.6 127.5L594.1 126.5L595.6 125.5L597.1 124.6L598.6 123.8L600.2 122.9L601.7 122.1L603.2 121.3L604.7 120.6L606.2 119.8L607.7 119.1L609.2 118.5L610.7 117.8L612.2 117.2L613.7 116.6L615.2 116.0L616.7 115.4L618.3 114.9L619.8 114.3L621.3 113.8L622.8 113.3L624.3 112.8L625.8 112.4L627.3 111.9L628.8 111.5L630.3 111.0L631.8 110.6L633.3 110.2L634.8 109.8L636.3 109.4L637.9 109.1L639.4 108.7L640.9 108.4L642.4 108.0L643.9 107.7L645.4 107.4L646.9 107.0L648.4 106.7L649.9 106.4L651.4 106.1L652.9 105.9L654.4 105.6L656.0 105.3L657.5 105.0L659.0 104.8L660.5 104.5L662.0 104.3L663.5 104.0L665.0 103.8L666.5 103.6L668.0 103.4L669.5 103.1L671.0 102.9L672.5 102.7L674.1 102.5L675.6 102.3L677.1 102.1L678.6 101.9L680.1 101.7L681.6 101.5L683.1 101.3" stroke="#c794b9" stroke-width="1.5" fill="none"/>
<path d="M538.3 215.3L539.8 210.4L541.3 205.8L542.8 201.3L544.4 196.9L545.9 192.7L547.4 188.7L548.9 184.9L550.4 181.2L551.9 177.7L553.4 174.4L554.9 171.2L556.4 168.1L557.9 165.2L559.4 162.4L560.9 159.8L562.5 157.3L564.0 154.9L565.5 152.6L567.0 150.4L568.5 148.3L570.0 146.3L571.5 144.5L573.0 142.7L574.5 141.0L576.0 139.3L577.5 137.8L579.0 136.3L580.5 134.9L582.1 133.5L583.6 132.2L585.1 131.0L586.6 129.8L588.1 128.7L589.6 127.6L591.1 126.5L592.6 125.5L594.1 124.6L595.6 123.7L597.1 122.8L598.6 122.0L600.2 121.1L601.7 120.4L603.2 119.6L604.7 118.9L606.2 118.2L607.7 117.5L609.2 116.9L610.7 116.2L612.2 115.6L613.7 115.0L615.2 114.5L616.7 113.9L618.3 113.4L619.8 112.9L621.3 112.4L622.8 111.9L624.3 111.5L625.8 111.0L627.3 110.6L628.8 110.2L630.3 109.7L631.8 109.3L633.3 109.0L634.8 108.6L636.3 108.2L637.9 107.9L639.4 107.5L640.9 107.2L642.4 106.9L643.9 106.5L645.4 106.2L646.9 105.9L648.4 105.6L649.9 105.3L651.4 105.1L652.9 104.8L654.4 104.5L656.0 104.3L657.5 104.0L659.0 103.8L660.5 103.5L662.0 103.3L663.5 103.1L665.0 102.8L666.5 102.6L668.0 102.4L669.5 102.2L671.0 102.0L672.5 101.8L674.1 101.6L675.6 101.4L677.1 101.2L678.6 101.0L680.1 100.8L681.6 100.7L683.1 100.5" stroke="#c997bb" stroke-width="1.5" fill="none"/>
<path d="M536.8 217.1L538.3 212.1L539.8 207.3L541.3 202.6L542.8 198.1L544.4 193.7L545.9 189.6L547.4 185.6L548.9 181.8L550.4 178.1L551.9 174.6L553.4 171.3L554.9 168.1L556.4 165.1L557.9 162.3L559.4 159.5L560.9 156.9L562.5 154.4L564.0 152.1L565.5 149.8L567.0 147.7L568.5 145.7L570.0 143.7L571.5 141.9L573.0 140.2L574.5 138.5L576.0 136.9L577.5 135.4L579.0 134.0L580.5 132.6L582.1 131.3L583.6 130.0L585.1 128.8L586.6 127.7L588.1 126.6L589.6 125.6L591.1 124.6L592.6 123.6L594.1 122.7L595.6 121.8L597.1 120.9L598.6 120.1L600.2 119.3L601.7 118.6L603.2 117.9L604.7 117.2L606.2 116.5L607.7 115.9L609.2 115.2L610.7 114.6L612.2 114.1L613.7 113.5L615.2 113.0L616.7 112.4L618.3 111.9L619.8 111.5L621.3 111.0L622.8 110.5L624.3 110.1L625.8 109.7L627.3 109.2L628.8 108.8L630.3 108.4L631.8 108.1L633.3 107.7L634.8 107.3L636.3 107.0L637.9 106.6L639.4 106.3L640.9 106.0L642.4 105.7L643.9 105.4L645.4 105.1L646.9 104.8L648.4 104.5L649.9 104.3L651.4 104.0L652.9 103.7L654.4 103.5L656.0 103.2L657.5 103.0L659.0 102.7L660.5 102.5L662.0 102.3L663.5 102.1L665.0 101.9L666.5 101.7L668.0 101.4L669.5 101.2L671.0 101.1L672.5 100.9L674.1 100.7L675.6 100.5L677.1 100.3L678.6 100.1L680.1 100.0L681.6 99.8L683.1 99.6" stroke="#cb9abd" stroke-width="1.5" fill="none"/>
<path d="M535.3 219.1L536.8 213.9L538.3 208.8L539.8 204.0L541.3 199.3L542.8 194.8L544.4 190.5L545.9 186.3L547.4 182.3L548.9 178.6L550.4 174.9L551.9 171.5L553.4 168.2L554.9 165.0L556.4 162.1L557.9 159.2L559.4 156.5L560.9 154.0L562.5 151.5L564.0 149.2L565.5 147.0L567.0 145.0L568.5 143.0L570.0 141.1L571.5 139.3L573.0 137.6L574.5 136.0L576.0 134.5L577.5 133.0L579.0 131.6L580.5 130.3L582.1 129.0L583.6 127.8L585.1 126.7L586.6 125.6L588.1 124.5L589.6 123.5L591.1 122.5L592.6 121.6L594.1 120.7L595.6 119.9L597.1 119.1L598.6 118.3L600.2 117.5L601.7 116.8L603.2 116.1L604.7 115.5L606.2 114.8L607.7 114.2L609.2 113.6L610.7 113.0L612.2 112.5L613.7 112.0L615.2 111.4L616.7 110.9L618.3 110.5L619.8 110.0L621.3 109.6L622.8 109.1L624.3 108.7L625.8 108.3L627.3 107.9L628.8 107.5L630.3 107.1L631.8 106.8L633.3 106.4L634.8 106.1L636.3 105.8L637.9 105.4L639.4 105.1L640.9 104.8L642.4 104.5L643.9 104.2L645.4 104.0L646.9 103.7L648.4 103.4L649.9 103.2L651.4 102.9L652.9 102.7L654.4 102.4L656.0 102.2L657.5 102.0L659.0 101.7L660.5 101.5L662.0 101.3L663.5 101.1L665.0 100.9L666.5 100.7L668.0 100.5L669.5 100.3L671.0 100.1L672.5 99.9L674.1 99.8L675.6 99.6L677.1 99.4L678.6 99.2L680.1 99.1L681.6 98.9L683.1 98.8" stroke="#cd9dc0" stroke-width="1.5" fill="none"/>
<path d="M535.3 215.8L536.8 210.6L538.3 205.5L539.8 200.6L541.3 195.9L542.8 191.4L544.4 187.1L545.9 183.0L547.4 179.0L548.9 175.2L550.4 171.6L551.9 168.2L553.4 165.0L554.9 161.9L556.4 158.9L557.9 156.1L559.4 153.5L560.9 151.0L562.5 148.6L564.0 146.3L565.5 144.2L567.0 142.2L568.5 140.2L570.0 138.4L571.5 136.7L573.0 135.0L574.5 133.5L576.0 132.0L577.5 130.6L579.0 129.2L580.5 127.9L582.1 126.7L583.6 125.6L585.1 124.5L586.6 123.4L588.1 122.4L589.6 121.4L591.1 120.5L592.6 119.6L594.1 118.8L595.6 118.0L597.1 117.2L598.6 116.4L600.2 115.7L601.7 115.0L603.2 114.4L604.7 113.7L606.2 113.1L607.7 112.6L609.2 112.0L610.7 111.4L612.2 110.9L613.7 110.4L615.2 109.9L616.7 109.4L618.3 109.0L619.8 108.5L621.3 108.1L622.8 107.7L624.3 107.3L625.8 106.9L627.3 106.5L628.8 106.2L630.3 105.8L631.8 105.5L633.3 105.1L634.8 104.8L636.3 104.5L637.9 104.2L639.4 103.9L640.9 103.6L642.4 103.3L643.9 103.1L645.4 102.8L646.9 102.5L648.4 102.3L649.9 102.1L651.4 101.8L652.9 101.6L654.4 101.4L656.0 101.1L657.5 100.9L659.0 100.7L660.5 100.5L662.0 100.3L663.5 100.1L665.0 99.9L666.5 99.7L668.0 99.5L669.5 99.4L671.0 99.2L672.5 99.0L674.1 98.8L675.6 98.7L677.1 98.5L678.6 98.4L680.1 98.2L681.6 98.1L683.1 97.9" stroke="#cfa0c2" stroke-width="1.5" fill="none"/>
<path d="M533.8 217.8L535.3 212.4L536.8 207.1L538.3 202.0L539.8 197.1L541.3 192.4L542.8 187.9L544.4 183.6L545.9 179.5L547.4 175.6L548.9 171.8L550.4 168.3L551.9 164.9L553.4 161.6L554.9 158.6L556.4 155.7L557.9 153.0L559.4 150.4L560.9 147.9L562.5 145.6L564.0 143.4L565.5 141.3L567.0 139.3L568.5 137.4L570.0 135.7L571.5 134.0L573.0 132.4L574.5 130.9L576.0 129.4L577.5 128.1L579.0 126.8L580.5 125.6L582.1 124.4L583.6 123.3L585.1 122.2L586.6 121.2L588.1 120.2L589.6 119.3L591.1 118.4L592.6 117.6L594.1 116.8L595.6 116.0L597.1 115.3L598.6 114.6L600.2 113.9L601.7 113.2L603.2 112.6L604.7 112.0L606.2 111.4L607.7 110.9L609.2 110.3L610.7 109.8L612.2 109.3L613.7 108.8L615.2 108.4L616.7 107.9L618.3 107.5L619.8 107.1L621.3 106.7L622.8 106.3L624.3 105.9L625.8 105.5L627.3 105.2L628.8 104.8L630.3 104.5L631.8 104.2L633.3 103.9L634.8 103.6L636.3 103.3L637.9 103.0L639.4 102.7L640.9 102.4L642.4 102.2L643.9 101.9L645.4 101.7L646.9 101.4L648.4 101.2L649.9 100.9L651.4 100.7L652.9 100.5L654.4 100.3L656.0 100.1L657.5 99.9L659.0 99.7L660.5 99.5L662.0 99.3L663.5 99.1L665.0 98.9L666.5 98.7L668.0 98.6L669.5 98.4L671.0 98.2L672.5 98.1L674.1 97.9L675.6 97.8L677.1 97.6L678.6 97.5L680.1 97.3L681.6 97.2L683.1 97.0" stroke="#d1a3c4" stroke-width="1.5" fill="none"/>
<path d="M532.3 220.0L533.8 214.3L535.3 208.8L536.8 203.5L538.3 198.5L539.8 193.6L541.3 188.9L542.8 184.3L544.4 180.0L545.9 175.9L547.4 172.0L548.9 168.3L550.4 164.8L551.9 161.4L553.4 158.2L554.9 155.2L556.4 152.4L557.9 149.7L559.4 147.1L560.9 144.7L562.5 142.5L564.0 140.3L565.5 138.3L567.0 136.4L568.5 134.6L570.0 132.9L571.5 131.2L573.0 129.7L574.5 128.2L576.0 126.9L577.5 125.6L579.0 124.3L580.5 123.1L582.1 122.0L583.6 121.0L585.1 120.0L586.6 119.0L588.1 118.1L589.6 117.2L591.1 116.4L592.6 115.6L594.1 114.8L595.6 114.1L597.1 113.4L598.6 112.7L600.2 112.0L601.7 111.4L603.2 110.8L604.7 110.3L606.2 109.7L607.7 109.2L609.2 108.7L610.7 108.2L612.2 107.7L613.7 107.3L615.2 106.8L616.7 106.4L618.3 106.0L619.8 105.6L621.3 105.2L622.8 104.9L624.3 104.5L625.8 104.2L627.3 103.8L628.8 103.5L630.3 103.2L631.8 102.9L633.3 102.6L634.8 102.3L636.3 102.0L637.9 101.7L639.4 101.5L640.9 101.2L642.4 101.0L643.9 100.7L645.4 100.5L646.9 100.3L648.4 100.1L649.9 99.8L651.4 99.6L652.9 99.4L654.4 99.2L656.0 99.0L657.5 98.8L659.0 98.6L660.5 98.5L662.0 98.3L663.5 98.1L665.0 97.9L666.5 97.8L668.0 97.6L669.5 97.5L671.0 97.3L672.5 97.1L674.1 97.0L675.6 96.9L677.1 96.7L678.6 96.6L680.1 96.4L681.6 96.3L683.1 96.2" stroke="#d4a8c8" stroke-width="1.5" fill="none"/>
<path d="M519.6 216.6h0M521.3 216.1h0M522.9 214.6h0M524.6 212.6h0M526.2 208.8h0M527.9 203.3h0M529.5 197.9h0M531.2 193.6h0M532.8 189.5h0M534.4 185.6h0M536.1 181.9h0M537.7 178.3h0M539.4 174.9h0M541.0 171.5h0M542.7 168.4h0M544.3 165.5h0M546.0 162.7h0M547.6 160.1h0M549.2 157.6h0M550.9 155.2h0M552.5 152.9h0M554.2 150.8h0M555.8 148.9h0M557.5 147.0h0M559.1 145.2h0M560.7 143.6h0M562.4 141.9h0M564.0 140.4h0M565.7 138.8h0M567.3 137.3h0M569.0 135.8h0M570.6 134.3h0M572.3 132.7h0M573.9 131.2h0M575.5 129.7h0M577.2 128.3h0M578.8 127.0h0M580.5 125.8h0M582.1 124.9h0M583.8 124.0h0M585.4 123.2h0M587.0 122.4h0M588.7 121.5h0M590.3 120.6h0M592.0 119.7h0M593.6 118.8h0M595.3 117.8h0M596.9 116.9h0M598.6 116.0h0M600.2 115.1h0M601.8 114.3h0M603.5 113.5h0M605.1 112.8h0M606.8 112.1h0M608.4 111.5h0M610.1 111.0h0M611.7 110.4h0M613.3 109.9h0M615.0 109.4h0M616.6 108.9h0M618.3 108.4h0M619.9 107.9h0M621.6 107.5h0M623.2 107.0h0M624.9 106.6h0M626.5 106.1h0M628.1 105.7h0M629.8 105.3h0M631.4 104.8h0M633.1 104.4h0M634.7 103.9h0M636.4 103.5h0M638.0 103.0h0M639.7 102.5h0M641.3 102.0h0M642.9 101.5h0M644.6 101.0h0M646.2 100.5h0M647.9 100.1h0M649.5 99.7h0M651.2 99.3h0M652.8 98.9h0M654.4 98.5h0M656.1 98.2h0M657.7 97.8h0M659.4 97.5h0M661.0 97.2h0M662.7 96.9h0M664.3 96.7h0M666.0 96.4h0M667.6 96.2h0M669.2 95.9h0M670.9 95.7h0M672.5 95.5h0M674.2 95.3h0M675.8 95.1h0M677.5 94.9h0M679.1 94.7h0M680.7 94.6h0M682.4 94.5h0" stroke="#c9521f" stroke-width="2.9" stroke-linecap="round" fill="none"/>
<path d="M522.9 215.7h0M524.6 210.3h0M526.2 205.1h0M527.9 200.1h0M529.5 195.3h0M531.2 190.8h0M532.8 186.4h0M534.4 182.2h0M536.1 178.3h0M537.7 174.5h0M539.4 170.8h0M541.0 167.4h0M542.7 164.0h0M544.3 160.9h0M546.0 157.8h0M547.6 154.9h0M549.2 152.2h0M550.9 149.5h0M552.5 147.0h0M554.2 144.6h0M555.8 142.3h0M557.5 140.1h0M559.1 137.9h0M560.7 135.9h0M562.4 134.0h0M564.0 132.1h0M565.7 130.4h0M567.3 128.7h0M569.0 127.1h0M570.6 125.5h0M572.3 124.1h0M573.9 122.7h0M575.5 121.3h0M577.2 120.0h0M578.8 118.8h0M580.5 117.6h0M582.1 116.5h0M583.8 115.4h0M585.4 114.4h0M587.0 113.4h0M588.7 112.5h0M590.3 111.6h0M592.0 110.7h0M593.6 109.9h0M595.3 109.1h0M596.9 108.4h0M598.6 107.7h0M600.2 107.0h0M601.8 106.3h0M603.5 105.7h0M605.1 105.1h0M606.8 104.5h0M608.4 104.0h0M610.1 103.5h0M611.7 103.0h0M613.3 102.5h0M615.0 102.0h0M616.6 101.6h0M618.3 101.2h0M619.9 100.8h0M621.6 100.4h0M623.2 100.0h0M624.9 99.7h0M626.5 99.4h0M628.1 99.0h0M629.8 98.7h0M631.4 98.4h0M633.1 98.2h0M634.7 97.9h0M636.4 97.6h0M638.0 97.4h0M639.7 97.2h0M641.3 96.9h0M642.9 96.7h0M644.6 96.5h0M646.2 96.3h0M647.9 96.2h0M649.5 96.0h0M651.2 95.8h0M652.8 95.7h0M654.4 95.5h0M656.1 95.3h0M657.7 95.2h0M659.4 95.1h0M661.0 94.9h0M662.7 94.8h0M664.3 94.7h0M666.0 94.6h0M667.6 94.5h0M669.2 94.4h0M670.9 94.3h0M672.5 94.2h0M674.2 94.1h0M675.8 94.0h0M677.5 93.9h0M679.1 93.9h0M680.7 93.8h0M682.4 93.7h0" stroke="#c9521f" stroke-width="2.9" stroke-linecap="round" fill="none"/>
</g>
<path d="M533.7 217.2v-1.6M533.7 20.5v1.6M571 217.2v-1.6M571 20.5v1.6M608.4 217.2v-1.6M608.4 20.5v1.6M645.7 217.2v-1.6M645.7 20.5v1.6M496.3 189.1h1.6M683.1 189.1h-1.6M496.3 161h1.6M683.1 161h-1.6M496.3 132.9h1.6M683.1 132.9h-1.6M496.3 104.8h1.6M683.1 104.8h-1.6M496.3 76.7h1.6M683.1 76.7h-1.6M496.3 48.6h1.6M683.1 48.6h-1.6" stroke="#333" stroke-width="0.6" fill="none"/>
<rect x="496.3" y="20.5" width="186.8" height="196.7" fill="none" stroke="#6e6e6e" stroke-width="0.9"/>
<text x="491" y="22.8" text-anchor="end" font-size="12.5" fill="#0a0a0a">1.2</text>
<text x="491" y="80" text-anchor="end" font-size="12.5" fill="#0a0a0a">1.0</text>
<text x="491" y="135.1" text-anchor="end" font-size="12.5" fill="#0a0a0a">0.8</text>
<text x="491" y="192.6" text-anchor="end" font-size="12.5" fill="#0a0a0a">0.6</text>
<text x="497.3" y="229" text-anchor="middle" font-size="12.5" fill="#0a0a0a">0</text>
<text x="681.9" y="228.9" text-anchor="middle" font-size="12.5" fill="#0a0a0a">1</text>
<text x="590" y="243.6" text-anchor="middle" font-size="11.9" fill="#0a0a0a">k<tspan font-size="8.0" dy="1.2">z</tspan><tspan dy="-1.2"> /k</tspan><tspan font-size="8.0" dy="1.2">YM</tspan></text>
<text transform="translate(469.3 121) rotate(-90)" text-anchor="middle" font-size="12.3" fill="#0a0a0a">&#969;/&#969;<tspan font-size="8.5" dy="1.5">p</tspan></text>
<text x="507.2" y="40.0" font-size="12.5" font-weight="bold" fill="#f4f4f4">H<tspan font-size="8.3" dy="2.7">LS</tspan></text>
<text x="629.2" y="89.2" font-size="11.8" font-weight="bold" fill="#0a0a0a" stroke="#0a0a0a" stroke-width="0.25">F</text>
<text x="598.9" y="86.7" font-size="11.8" fill="#0a0a0a">&#215;2</text>
<text x="601.0" y="139.9" font-size="11.8" fill="#0a0a0a">&#215;2</text>
<path d="M606.8 91.5V102M605.2 99.5L606.8 102.8L608.4 99.5M607 126V116M605.4 118.6L607 115.4L608.6 118.6" stroke="#d0602a" stroke-width="0.8" fill="none"/>
<circle cx="635.8" cy="98.6" r="1.8" fill="none" stroke="#eaa030" stroke-width="0.9"/><circle cx="635.8" cy="102.9" r="1.8" fill="none" stroke="#eaa030" stroke-width="0.9"/>
<circle cx="651.6" cy="184.9" r="26.4" fill="#fff" stroke="#4a4a4a" stroke-width="0.9" stroke-dasharray="2.2 1.5"/>
<path d="M668.70 184.90A17.1 17.1 0 0 0 668.54 182.56" stroke="#4560c3" stroke-width="0.9" fill="none"/>
<path d="M668.55 182.67A17.1 17.1 0 0 0 668.09 180.37" stroke="#4364c4" stroke-width="0.9" fill="none"/>
<path d="M668.12 180.47A17.1 17.1 0 0 0 667.36 178.25" stroke="#4167c5" stroke-width="0.9" fill="none"/>
<path d="M667.40 178.36A17.1 17.1 0 0 0 666.35 176.25" stroke="#3f6bc6" stroke-width="0.9" fill="none"/>
<path d="M666.41 176.35A17.1 17.1 0 0 0 665.10 174.40" stroke="#3e6ec6" stroke-width="0.9" fill="none"/>
<path d="M665.17 174.49A17.1 17.1 0 0 0 663.61 172.73" stroke="#3c72c7" stroke-width="0.9" fill="none"/>
<path d="M663.69 172.81A17.1 17.1 0 0 0 661.92 171.27" stroke="#3d78c6" stroke-width="0.9" fill="none"/>
<path d="M662.01 171.33A17.1 17.1 0 0 0 660.05 170.04" stroke="#3e80c3" stroke-width="0.9" fill="none"/>
<path d="M660.15 170.09A17.1 17.1 0 0 0 658.04 169.06" stroke="#4088c1" stroke-width="0.9" fill="none"/>
<path d="M658.14 169.10A17.1 17.1 0 0 0 655.92 168.35" stroke="#4190bf" stroke-width="0.9" fill="none"/>
<path d="M656.03 168.38A17.1 17.1 0 0 0 653.72 167.93" stroke="#4398bc" stroke-width="0.9" fill="none"/>
<path d="M653.83 167.95A17.1 17.1 0 0 0 651.49 167.80" stroke="#45a0ba" stroke-width="0.9" fill="none"/>
<path d="M651.60 167.80A17.1 17.1 0 0 0 649.26 167.96" stroke="#49a7b4" stroke-width="0.9" fill="none"/>
<path d="M649.37 167.95A17.1 17.1 0 0 0 647.07 168.41" stroke="#50acab" stroke-width="0.9" fill="none"/>
<path d="M647.17 168.38A17.1 17.1 0 0 0 644.95 169.14" stroke="#58b1a2" stroke-width="0.9" fill="none"/>
<path d="M645.06 169.10A17.1 17.1 0 0 0 642.95 170.15" stroke="#5fb59a" stroke-width="0.9" fill="none"/>
<path d="M643.05 170.09A17.1 17.1 0 0 0 641.10 171.40" stroke="#66ba91" stroke-width="0.9" fill="none"/>
<path d="M641.19 171.33A17.1 17.1 0 0 0 639.43 172.89" stroke="#6dbf88" stroke-width="0.9" fill="none"/>
<path d="M639.51 172.81A17.1 17.1 0 0 0 637.97 174.58" stroke="#77c480" stroke-width="0.9" fill="none"/>
<path d="M638.03 174.49A17.1 17.1 0 0 0 636.74 176.45" stroke="#8bc87b" stroke-width="0.9" fill="none"/>
<path d="M636.79 176.35A17.1 17.1 0 0 0 635.76 178.46" stroke="#9ecc76" stroke-width="0.9" fill="none"/>
<path d="M635.80 178.36A17.1 17.1 0 0 0 635.05 180.58" stroke="#b1d171" stroke-width="0.9" fill="none"/>
<path d="M635.08 180.47A17.1 17.1 0 0 0 634.63 182.78" stroke="#c4d56b" stroke-width="0.9" fill="none"/>
<path d="M634.65 182.67A17.1 17.1 0 0 0 634.50 185.01" stroke="#d7d966" stroke-width="0.9" fill="none"/>
<path d="M634.50 184.90A17.1 17.1 0 0 0 634.66 187.24" stroke="#e2d862" stroke-width="0.9" fill="none"/>
<path d="M634.65 187.13A17.1 17.1 0 0 0 635.11 189.43" stroke="#e6d15e" stroke-width="0.9" fill="none"/>
<path d="M635.08 189.33A17.1 17.1 0 0 0 635.84 191.55" stroke="#e9ca5b" stroke-width="0.9" fill="none"/>
<path d="M635.80 191.44A17.1 17.1 0 0 0 636.85 193.55" stroke="#edc357" stroke-width="0.9" fill="none"/>
<path d="M636.79 193.45A17.1 17.1 0 0 0 638.10 195.40" stroke="#f0bc54" stroke-width="0.9" fill="none"/>
<path d="M638.03 195.31A17.1 17.1 0 0 0 639.59 197.07" stroke="#f4b550" stroke-width="0.9" fill="none"/>
<path d="M639.51 196.99A17.1 17.1 0 0 0 641.28 198.53" stroke="#f4ae4e" stroke-width="0.9" fill="none"/>
<path d="M641.19 198.47A17.1 17.1 0 0 0 643.15 199.76" stroke="#f3a64b" stroke-width="0.9" fill="none"/>
<path d="M643.05 199.71A17.1 17.1 0 0 0 645.16 200.74" stroke="#f29e49" stroke-width="0.9" fill="none"/>
<path d="M645.06 200.70A17.1 17.1 0 0 0 647.28 201.45" stroke="#f29647" stroke-width="0.9" fill="none"/>
<path d="M647.17 201.42A17.1 17.1 0 0 0 649.48 201.87" stroke="#f18e44" stroke-width="0.9" fill="none"/>
<path d="M649.37 201.85A17.1 17.1 0 0 0 651.71 202.00" stroke="#f08642" stroke-width="0.9" fill="none"/>
<path d="M651.60 202.00A17.1 17.1 0 0 0 653.94 201.84" stroke="#ee7d41" stroke-width="0.9" fill="none"/>
<path d="M653.83 201.85A17.1 17.1 0 0 0 656.13 201.39" stroke="#eb7341" stroke-width="0.9" fill="none"/>
<path d="M656.03 201.42A17.1 17.1 0 0 0 658.25 200.66" stroke="#e86941" stroke-width="0.9" fill="none"/>
<path d="M658.14 200.70A17.1 17.1 0 0 0 660.25 199.65" stroke="#e56041" stroke-width="0.9" fill="none"/>
<path d="M660.15 199.71A17.1 17.1 0 0 0 662.10 198.40" stroke="#e35641" stroke-width="0.9" fill="none"/>
<path d="M662.01 198.47A17.1 17.1 0 0 0 663.77 196.91" stroke="#e04d41" stroke-width="0.9" fill="none"/>
<path d="M663.69 196.99A17.1 17.1 0 0 0 665.23 195.22" stroke="#da4543" stroke-width="0.9" fill="none"/>
<path d="M665.17 195.31A17.1 17.1 0 0 0 666.46 193.35" stroke="#ce414d" stroke-width="0.9" fill="none"/>
<path d="M666.41 193.45A17.1 17.1 0 0 0 667.44 191.34" stroke="#c13e56" stroke-width="0.9" fill="none"/>
<path d="M667.40 191.44A17.1 17.1 0 0 0 668.15 189.22" stroke="#b53a60" stroke-width="0.9" fill="none"/>
<path d="M668.12 189.33A17.1 17.1 0 0 0 668.57 187.02" stroke="#a83769" stroke-width="0.9" fill="none"/>
<path d="M668.55 187.13A17.1 17.1 0 0 0 668.70 184.79" stroke="#9c3373" stroke-width="0.9" fill="none"/>
<circle cx="663.69" cy="172.81" r="2.5" fill="#3d3a86"/>
<circle cx="639.51" cy="172.81" r="2.5" fill="#6b72ab"/>
<circle cx="639.51" cy="196.99" r="2.5" fill="#6e2b6c"/>
<circle cx="663.69" cy="196.99" r="2.5" fill="#e2a12c"/>
<defs><linearGradient id="cb" x1="0" x2="1" y1="0" y2="0"><stop offset="0" stop-color="#f7f7f7"/><stop offset="0.25" stop-color="#fbd8c4"/><stop offset="0.5" stop-color="#f1a282"/><stop offset="0.75" stop-color="#d6604d"/><stop offset="1" stop-color="#b2182b"/></linearGradient></defs>
<rect x="65.1" y="255.3" width="130.8" height="10" fill="url(#cb)" stroke="#555" stroke-width="0.6"/>
<text x="49.8" y="265.1" font-size="12.5" fill="#0a0a0a">0</text>
<text x="199.8" y="265.1" font-size="12.5" fill="#0a0a0a">Max</text>
<rect x="37.6" y="271.4" width="89.8" height="89.9" fill="#f4f4f4" stroke="#5a5a5a" stroke-width="1"/>
<path d="M108.13 310.90A26.2 26.2 0 0 0 107.75 309.37" stroke="#f8efea" stroke-width="2.6" fill="none"/>
<path d="M107.81 309.57A26.2 26.2 0 0 0 107.35 308.06" stroke="#f8ece6" stroke-width="2.6" fill="none"/>
<path d="M107.42 308.25A26.2 26.2 0 0 0 106.89 306.77" stroke="#f8eae1" stroke-width="2.6" fill="none"/>
<path d="M106.96 306.96A26.2 26.2 0 0 0 106.35 305.51" stroke="#f9e7dd" stroke-width="2.6" fill="none"/>
<path d="M106.43 305.69A26.2 26.2 0 0 0 105.75 304.27" stroke="#f9e3d7" stroke-width="2.6" fill="none"/>
<path d="M105.84 304.46A26.2 26.2 0 0 0 105.09 303.07" stroke="#f9e0d2" stroke-width="2.6" fill="none"/>
<path d="M105.19 303.25A26.2 26.2 0 0 0 104.36 301.91" stroke="#faddcc" stroke-width="2.6" fill="none"/>
<path d="M104.47 302.08A26.2 26.2 0 0 0 103.57 300.78" stroke="#fad9c6" stroke-width="2.6" fill="none"/>
<path d="M103.70 300.95A26.2 26.2 0 0 0 102.73 299.70" stroke="#fad5c0" stroke-width="2.6" fill="none"/>
<path d="M102.86 299.86A26.2 26.2 0 0 0 101.83 298.67" stroke="#f9d0ba" stroke-width="2.6" fill="none"/>
<path d="M101.97 298.82A26.2 26.2 0 0 0 100.88 297.68" stroke="#f8ccb6" stroke-width="2.6" fill="none"/>
<path d="M101.03 297.82A26.2 26.2 0 0 0 99.88 296.74" stroke="#f8cab3" stroke-width="2.6" fill="none"/>
<path d="M100.03 296.88A26.2 26.2 0 0 0 98.83 295.86" stroke="#f8c8b1" stroke-width="2.6" fill="none"/>
<path d="M98.99 295.99A26.2 26.2 0 0 0 97.73 295.03" stroke="#f8c9b1" stroke-width="2.6" fill="none"/>
<path d="M97.90 295.15A26.2 26.2 0 0 0 96.60 294.27" stroke="#f8cab4" stroke-width="2.6" fill="none"/>
<path d="M96.77 294.38A26.2 26.2 0 0 0 95.42 293.56" stroke="#f9ceb7" stroke-width="2.6" fill="none"/>
<path d="M95.60 293.66A26.2 26.2 0 0 0 94.21 292.91" stroke="#f9d2bd" stroke-width="2.6" fill="none"/>
<path d="M94.39 293.01A26.2 26.2 0 0 0 92.97 292.33" stroke="#fad7c3" stroke-width="2.6" fill="none"/>
<path d="M93.16 292.42A26.2 26.2 0 0 0 91.70 291.82" stroke="#fadac8" stroke-width="2.6" fill="none"/>
<path d="M91.89 291.89A26.2 26.2 0 0 0 90.40 291.37" stroke="#fadece" stroke-width="2.6" fill="none"/>
<path d="M90.60 291.43A26.2 26.2 0 0 0 89.08 290.99" stroke="#f9e1d4" stroke-width="2.6" fill="none"/>
<path d="M89.28 291.04A26.2 26.2 0 0 0 87.75 290.68" stroke="#f9e5d9" stroke-width="2.6" fill="none"/>
<path d="M87.95 290.72A26.2 26.2 0 0 0 86.40 290.44" stroke="#f8e8df" stroke-width="2.6" fill="none"/>
<path d="M86.60 290.47A26.2 26.2 0 0 0 85.03 290.27" stroke="#f8ebe3" stroke-width="2.6" fill="none"/>
<path d="M85.24 290.29A26.2 26.2 0 0 0 83.67 290.18" stroke="#f8ede7" stroke-width="2.6" fill="none"/>
<path d="M83.87 290.19A26.2 26.2 0 0 0 82.29 290.15" stroke="#f7efeb" stroke-width="2.6" fill="none"/>
<path d="M109.86 314.92A27.4 27.4 0 0 0 109.73 313.27" stroke="#f8efe9" stroke-width="1.2" fill="none"/>
<path d="M109.75 313.49A27.4 27.4 0 0 0 109.53 311.85" stroke="#f8ece5" stroke-width="1.2" fill="none"/>
<path d="M109.56 312.06A27.4 27.4 0 0 0 109.26 310.44" stroke="#f8e8de" stroke-width="1.2" fill="none"/>
<path d="M109.30 310.65A27.4 27.4 0 0 0 108.91 309.05" stroke="#f9e3d7" stroke-width="1.2" fill="none"/>
<path d="M108.97 309.26A27.4 27.4 0 0 0 108.49 307.68" stroke="#fadece" stroke-width="1.2" fill="none"/>
<path d="M108.56 307.88A27.4 27.4 0 0 0 108.00 306.33" stroke="#fad7c3" stroke-width="1.2" fill="none"/>
<path d="M108.08 306.53A27.4 27.4 0 0 0 107.44 305.01" stroke="#f8cbb4" stroke-width="1.2" fill="none"/>
<path d="M107.53 305.21A27.4 27.4 0 0 0 106.82 303.72" stroke="#f6bda3" stroke-width="1.2" fill="none"/>
<path d="M106.91 303.91A27.4 27.4 0 0 0 106.12 302.46" stroke="#f3ae91" stroke-width="1.2" fill="none"/>
<path d="M106.23 302.65A27.4 27.4 0 0 0 105.36 301.25" stroke="#ef9f7f" stroke-width="1.2" fill="none"/>
<path d="M105.48 301.43A27.4 27.4 0 0 0 104.54 300.07" stroke="#e88d71" stroke-width="1.2" fill="none"/>
<path d="M104.67 300.24A27.4 27.4 0 0 0 103.66 298.94" stroke="#e17c64" stroke-width="1.2" fill="none"/>
<path d="M103.79 299.11A27.4 27.4 0 0 0 102.72 297.86" stroke="#dc6e58" stroke-width="1.2" fill="none"/>
<path d="M102.86 298.02A27.4 27.4 0 0 0 101.72 296.82" stroke="#d7634f" stroke-width="1.2" fill="none"/>
<path d="M101.87 296.98A27.4 27.4 0 0 0 100.67 295.84" stroke="#d35b4a" stroke-width="1.2" fill="none"/>
<path d="M100.83 295.99A27.4 27.4 0 0 0 99.58 294.92" stroke="#d15749" stroke-width="1.2" fill="none"/>
<path d="M99.74 295.06A27.4 27.4 0 0 0 98.43 294.06" stroke="#d25849" stroke-width="1.2" fill="none"/>
<path d="M98.61 294.18A27.4 27.4 0 0 0 97.24 293.25" stroke="#d55e4c" stroke-width="1.2" fill="none"/>
<path d="M97.42 293.37A27.4 27.4 0 0 0 96.01 292.51" stroke="#d96753" stroke-width="1.2" fill="none"/>
<path d="M96.20 292.62A27.4 27.4 0 0 0 94.75 291.84" stroke="#de745d" stroke-width="1.2" fill="none"/>
<path d="M94.94 291.94A27.4 27.4 0 0 0 93.45 291.23" stroke="#e48369" stroke-width="1.2" fill="none"/>
<path d="M93.64 291.32A27.4 27.4 0 0 0 92.12 290.69" stroke="#eb9477" stroke-width="1.2" fill="none"/>
<path d="M92.32 290.77A27.4 27.4 0 0 0 90.76 290.23" stroke="#f1a586" stroke-width="1.2" fill="none"/>
<path d="M90.97 290.29A27.4 27.4 0 0 0 89.38 289.83" stroke="#f4b498" stroke-width="1.2" fill="none"/>
<path d="M89.59 289.88A27.4 27.4 0 0 0 87.99 289.50" stroke="#f7c2aa" stroke-width="1.2" fill="none"/>
<path d="M88.20 289.55A27.4 27.4 0 0 0 86.57 289.25" stroke="#f9d0ba" stroke-width="1.2" fill="none"/>
<path d="M86.79 289.29A27.4 27.4 0 0 0 85.15 289.08" stroke="#fadac8" stroke-width="1.2" fill="none"/>
<path d="M85.36 289.10A27.4 27.4 0 0 0 83.72 288.98" stroke="#f9e0d2" stroke-width="1.2" fill="none"/>
<path d="M83.93 288.99A27.4 27.4 0 0 0 82.28 288.95" stroke="#f9e5da" stroke-width="1.2" fill="none"/>
<path d="M82.50 288.95A27.4 27.4 0 0 0 80.85 289.00" stroke="#f8e9e1" stroke-width="1.2" fill="none"/>
<path d="M81.07 288.99A27.4 27.4 0 0 0 79.42 289.12" stroke="#f8ede7" stroke-width="1.2" fill="none"/>
<path d="M79.64 289.10A27.4 27.4 0 0 0 78.00 289.32" stroke="#f7f0eb" stroke-width="1.2" fill="none"/>
<circle cx="82.5" cy="316.4" r="28.3" fill="none" stroke="#7a7070" stroke-width="0.45"/>
<rect x="134.5" y="271.4" width="89.9" height="89.9" fill="#f4f4f4" stroke="#5a5a5a" stroke-width="1"/>
<path d="M204.76 309.57A26.2 26.2 0 0 0 204.30 308.06" stroke="#f8eee9" stroke-width="2.6" fill="none"/>
<path d="M204.37 308.25A26.2 26.2 0 0 0 203.84 306.77" stroke="#f8ece5" stroke-width="2.6" fill="none"/>
<path d="M203.91 306.96A26.2 26.2 0 0 0 203.30 305.51" stroke="#f8ebe4" stroke-width="2.6" fill="none"/>
<path d="M203.38 305.69A26.2 26.2 0 0 0 202.70 304.27" stroke="#f8ede7" stroke-width="2.6" fill="none"/>
<path d="M202.79 304.46A26.2 26.2 0 0 0 202.04 303.07" stroke="#f7f0eb" stroke-width="2.6" fill="none"/>
<path d="M197.98 297.82A26.2 26.2 0 0 0 196.83 296.74" stroke="#f7f0ec" stroke-width="2.6" fill="none"/>
<path d="M196.98 296.88A26.2 26.2 0 0 0 195.78 295.86" stroke="#f8eee8" stroke-width="2.6" fill="none"/>
<path d="M195.94 295.99A26.2 26.2 0 0 0 194.68 295.03" stroke="#f8ece6" stroke-width="2.6" fill="none"/>
<path d="M194.85 295.15A26.2 26.2 0 0 0 193.55 294.27" stroke="#f8ede7" stroke-width="2.6" fill="none"/>
<path d="M193.72 294.38A26.2 26.2 0 0 0 192.37 293.56" stroke="#f7f0eb" stroke-width="2.6" fill="none"/>
<path d="M184.90 290.72A26.2 26.2 0 0 0 183.35 290.44" stroke="#f8ede7" stroke-width="2.6" fill="none"/>
<path d="M183.55 290.47A26.2 26.2 0 0 0 181.98 290.27" stroke="#f8eae2" stroke-width="2.6" fill="none"/>
<path d="M182.19 290.29A26.2 26.2 0 0 0 180.62 290.18" stroke="#f8e9e0" stroke-width="2.6" fill="none"/>
<path d="M180.82 290.19A26.2 26.2 0 0 0 179.24 290.15" stroke="#f8e9e1" stroke-width="2.6" fill="none"/>
<path d="M179.45 290.15A26.2 26.2 0 0 0 177.87 290.20" stroke="#f8ece5" stroke-width="2.6" fill="none"/>
<path d="M178.08 290.19A26.2 26.2 0 0 0 176.51 290.32" stroke="#f7f0eb" stroke-width="2.6" fill="none"/>
<path d="M168.79 292.42A26.2 26.2 0 0 0 167.37 293.10" stroke="#f8eee9" stroke-width="2.6" fill="none"/>
<path d="M167.56 293.01A26.2 26.2 0 0 0 166.17 293.76" stroke="#f8e9e0" stroke-width="2.6" fill="none"/>
<path d="M166.35 293.66A26.2 26.2 0 0 0 165.01 294.49" stroke="#f9e3d6" stroke-width="2.6" fill="none"/>
<path d="M165.18 294.38A26.2 26.2 0 0 0 163.88 295.28" stroke="#faddcc" stroke-width="2.6" fill="none"/>
<path d="M164.05 295.15A26.2 26.2 0 0 0 162.80 296.12" stroke="#fad7c3" stroke-width="2.6" fill="none"/>
<path d="M162.96 295.99A26.2 26.2 0 0 0 161.77 297.02" stroke="#f9cfb9" stroke-width="2.6" fill="none"/>
<path d="M161.92 296.88A26.2 26.2 0 0 0 160.78 297.97" stroke="#f8cab3" stroke-width="2.6" fill="none"/>
<path d="M160.92 297.82A26.2 26.2 0 0 0 159.84 298.97" stroke="#f8c8b1" stroke-width="2.6" fill="none"/>
<path d="M159.98 298.82A26.2 26.2 0 0 0 158.96 300.02" stroke="#f8cbb4" stroke-width="2.6" fill="none"/>
<path d="M159.09 299.86A26.2 26.2 0 0 0 158.13 301.12" stroke="#f9d0bb" stroke-width="2.6" fill="none"/>
<path d="M158.25 300.95A26.2 26.2 0 0 0 157.37 302.25" stroke="#fad8c5" stroke-width="2.6" fill="none"/>
<path d="M157.48 302.08A26.2 26.2 0 0 0 156.66 303.43" stroke="#fadece" stroke-width="2.6" fill="none"/>
<path d="M156.76 303.25A26.2 26.2 0 0 0 156.01 304.64" stroke="#f9e4d9" stroke-width="2.6" fill="none"/>
<path d="M156.11 304.46A26.2 26.2 0 0 0 155.43 305.88" stroke="#f8eae2" stroke-width="2.6" fill="none"/>
<path d="M155.52 305.69A26.2 26.2 0 0 0 154.92 307.15" stroke="#f7efea" stroke-width="2.6" fill="none"/>
<path d="M153.29 314.98A26.2 26.2 0 0 0 153.25 316.56" stroke="#f7efea" stroke-width="2.6" fill="none"/>
<path d="M153.25 316.35A26.2 26.2 0 0 0 153.30 317.93" stroke="#f8ebe4" stroke-width="2.6" fill="none"/>
<path d="M153.29 317.72A26.2 26.2 0 0 0 153.42 319.29" stroke="#f8e9e1" stroke-width="2.6" fill="none"/>
<path d="M153.39 319.09A26.2 26.2 0 0 0 153.61 320.65" stroke="#f8e9e0" stroke-width="2.6" fill="none"/>
<path d="M153.57 320.45A26.2 26.2 0 0 0 153.87 322.00" stroke="#f8ebe3" stroke-width="2.6" fill="none"/>
<path d="M153.82 321.80A26.2 26.2 0 0 0 154.20 323.33" stroke="#f8eee8" stroke-width="2.6" fill="none"/>
<path d="M157.48 330.62A26.2 26.2 0 0 0 158.38 331.92" stroke="#f7efeb" stroke-width="2.6" fill="none"/>
<path d="M158.25 331.75A26.2 26.2 0 0 0 159.22 333.00" stroke="#f8ede7" stroke-width="2.6" fill="none"/>
<path d="M159.09 332.84A26.2 26.2 0 0 0 160.12 334.03" stroke="#f8ede6" stroke-width="2.6" fill="none"/>
<path d="M159.98 333.88A26.2 26.2 0 0 0 161.07 335.02" stroke="#f8eee9" stroke-width="2.6" fill="none"/>
<path d="M167.56 339.69A26.2 26.2 0 0 0 168.98 340.37" stroke="#f7efea" stroke-width="2.6" fill="none"/>
<path d="M168.79 340.28A26.2 26.2 0 0 0 170.25 340.88" stroke="#f8ece6" stroke-width="2.6" fill="none"/>
<path d="M170.06 340.81A26.2 26.2 0 0 0 171.55 341.33" stroke="#f8ebe4" stroke-width="2.6" fill="none"/>
<path d="M171.35 341.27A26.2 26.2 0 0 0 172.87 341.71" stroke="#f8ece6" stroke-width="2.6" fill="none"/>
<path d="M172.67 341.66A26.2 26.2 0 0 0 174.20 342.02" stroke="#f7efeb" stroke-width="2.6" fill="none"/>
<path d="M182.19 342.41A26.2 26.2 0 0 0 183.75 342.19" stroke="#f7efea" stroke-width="2.6" fill="none"/>
<path d="M183.55 342.23A26.2 26.2 0 0 0 185.10 341.93" stroke="#f8ebe4" stroke-width="2.6" fill="none"/>
<path d="M184.90 341.98A26.2 26.2 0 0 0 186.43 341.60" stroke="#f8e7dd" stroke-width="2.6" fill="none"/>
<path d="M186.23 341.66A26.2 26.2 0 0 0 187.74 341.20" stroke="#f9e4d8" stroke-width="2.6" fill="none"/>
<path d="M187.55 341.27A26.2 26.2 0 0 0 189.03 340.74" stroke="#f9e2d4" stroke-width="2.6" fill="none"/>
<path d="M188.84 340.81A26.2 26.2 0 0 0 190.29 340.20" stroke="#f9e1d3" stroke-width="2.6" fill="none"/>
<path d="M190.11 340.28A26.2 26.2 0 0 0 191.53 339.60" stroke="#f9e2d5" stroke-width="2.6" fill="none"/>
<path d="M191.34 339.69A26.2 26.2 0 0 0 192.73 338.94" stroke="#f9e5da" stroke-width="2.6" fill="none"/>
<path d="M192.55 339.04A26.2 26.2 0 0 0 193.89 338.21" stroke="#f8e9e0" stroke-width="2.6" fill="none"/>
<path d="M193.72 338.32A26.2 26.2 0 0 0 195.02 337.42" stroke="#f8ede7" stroke-width="2.6" fill="none"/>
<path d="M201.42 330.62A26.2 26.2 0 0 0 202.24 329.27" stroke="#f7efea" stroke-width="2.6" fill="none"/>
<path d="M202.14 329.45A26.2 26.2 0 0 0 202.89 328.06" stroke="#f8ebe3" stroke-width="2.6" fill="none"/>
<path d="M202.79 328.24A26.2 26.2 0 0 0 203.47 326.82" stroke="#f9e7dc" stroke-width="2.6" fill="none"/>
<path d="M203.38 327.01A26.2 26.2 0 0 0 203.98 325.55" stroke="#f9e3d7" stroke-width="2.6" fill="none"/>
<path d="M203.91 325.74A26.2 26.2 0 0 0 204.43 324.25" stroke="#f9e1d4" stroke-width="2.6" fill="none"/>
<path d="M204.37 324.45A26.2 26.2 0 0 0 204.81 322.93" stroke="#f9e1d4" stroke-width="2.6" fill="none"/>
<path d="M204.76 323.13A26.2 26.2 0 0 0 205.12 321.60" stroke="#f9e3d7" stroke-width="2.6" fill="none"/>
<path d="M205.08 321.80A26.2 26.2 0 0 0 205.36 320.25" stroke="#f9e7dd" stroke-width="2.6" fill="none"/>
<path d="M205.33 320.45A26.2 26.2 0 0 0 205.53 318.88" stroke="#f8ebe4" stroke-width="2.6" fill="none"/>
<path d="M205.51 319.09A26.2 26.2 0 0 0 205.62 317.52" stroke="#f7efeb" stroke-width="2.6" fill="none"/>
<path d="M206.25 310.65A27.4 27.4 0 0 0 205.86 309.05" stroke="#f8eae2" stroke-width="1.2" fill="none"/>
<path d="M205.92 309.26A27.4 27.4 0 0 0 205.44 307.68" stroke="#f9e3d6" stroke-width="1.2" fill="none"/>
<path d="M205.51 307.88A27.4 27.4 0 0 0 204.95 306.33" stroke="#faddcc" stroke-width="1.2" fill="none"/>
<path d="M205.03 306.53A27.4 27.4 0 0 0 204.39 305.01" stroke="#fadbca" stroke-width="1.2" fill="none"/>
<path d="M204.48 305.21A27.4 27.4 0 0 0 203.77 303.72" stroke="#fadfd0" stroke-width="1.2" fill="none"/>
<path d="M203.86 303.91A27.4 27.4 0 0 0 203.07 302.46" stroke="#f9e6dc" stroke-width="1.2" fill="none"/>
<path d="M203.18 302.65A27.4 27.4 0 0 0 202.31 301.25" stroke="#f8ede8" stroke-width="1.2" fill="none"/>
<path d="M199.81 298.02A27.4 27.4 0 0 0 198.67 296.82" stroke="#f8eee9" stroke-width="1.2" fill="none"/>
<path d="M198.82 296.98A27.4 27.4 0 0 0 197.62 295.84" stroke="#f8e7dd" stroke-width="1.2" fill="none"/>
<path d="M197.78 295.99A27.4 27.4 0 0 0 196.53 294.92" stroke="#f9e1d3" stroke-width="1.2" fill="none"/>
<path d="M196.69 295.06A27.4 27.4 0 0 0 195.38 294.06" stroke="#fadece" stroke-width="1.2" fill="none"/>
<path d="M195.56 294.18A27.4 27.4 0 0 0 194.19 293.25" stroke="#f9e0d2" stroke-width="1.2" fill="none"/>
<path d="M194.37 293.37A27.4 27.4 0 0 0 192.96 292.51" stroke="#f9e6dc" stroke-width="1.2" fill="none"/>
<path d="M193.15 292.62A27.4 27.4 0 0 0 191.70 291.84" stroke="#f8ede7" stroke-width="1.2" fill="none"/>
<path d="M187.92 290.29A27.4 27.4 0 0 0 186.33 289.83" stroke="#f7efeb" stroke-width="1.2" fill="none"/>
<path d="M186.54 289.88A27.4 27.4 0 0 0 184.94 289.50" stroke="#f8e8df" stroke-width="1.2" fill="none"/>
<path d="M185.15 289.55A27.4 27.4 0 0 0 183.52 289.25" stroke="#f9e0d1" stroke-width="1.2" fill="none"/>
<path d="M183.74 289.29A27.4 27.4 0 0 0 182.10 289.08" stroke="#fad8c5" stroke-width="1.2" fill="none"/>
<path d="M182.31 289.10A27.4 27.4 0 0 0 180.67 288.98" stroke="#fad3be" stroke-width="1.2" fill="none"/>
<path d="M180.88 288.99A27.4 27.4 0 0 0 179.23 288.95" stroke="#fad6c2" stroke-width="1.2" fill="none"/>
<path d="M179.45 288.95A27.4 27.4 0 0 0 177.80 289.00" stroke="#faddcc" stroke-width="1.2" fill="none"/>
<path d="M178.02 288.99A27.4 27.4 0 0 0 176.37 289.12" stroke="#f9e5db" stroke-width="1.2" fill="none"/>
<path d="M176.59 289.10A27.4 27.4 0 0 0 174.95 289.32" stroke="#f8eee8" stroke-width="1.2" fill="none"/>
<path d="M169.63 290.77A27.4 27.4 0 0 0 168.11 291.41" stroke="#f8ece5" stroke-width="1.2" fill="none"/>
<path d="M168.31 291.32A27.4 27.4 0 0 0 166.82 292.03" stroke="#f9e2d5" stroke-width="1.2" fill="none"/>
<path d="M167.01 291.94A27.4 27.4 0 0 0 165.56 292.73" stroke="#fad4bf" stroke-width="1.2" fill="none"/>
<path d="M165.75 292.62A27.4 27.4 0 0 0 164.35 293.49" stroke="#f5bba0" stroke-width="1.2" fill="none"/>
<path d="M164.53 293.37A27.4 27.4 0 0 0 163.17 294.31" stroke="#f0a081" stroke-width="1.2" fill="none"/>
<path d="M163.34 294.18A27.4 27.4 0 0 0 162.04 295.19" stroke="#e48369" stroke-width="1.2" fill="none"/>
<path d="M162.21 295.06A27.4 27.4 0 0 0 160.96 296.13" stroke="#da6b56" stroke-width="1.2" fill="none"/>
<path d="M161.12 295.99A27.4 27.4 0 0 0 159.92 297.13" stroke="#d45c4b" stroke-width="1.2" fill="none"/>
<path d="M160.08 296.98A27.4 27.4 0 0 0 158.94 298.18" stroke="#d15748" stroke-width="1.2" fill="none"/>
<path d="M159.09 298.02A27.4 27.4 0 0 0 158.02 299.27" stroke="#d55e4c" stroke-width="1.2" fill="none"/>
<path d="M158.16 299.11A27.4 27.4 0 0 0 157.16 300.42" stroke="#dc7059" stroke-width="1.2" fill="none"/>
<path d="M157.28 300.24A27.4 27.4 0 0 0 156.35 301.61" stroke="#e6896e" stroke-width="1.2" fill="none"/>
<path d="M156.47 301.43A27.4 27.4 0 0 0 155.61 302.84" stroke="#f1a687" stroke-width="1.2" fill="none"/>
<path d="M155.72 302.65A27.4 27.4 0 0 0 154.94 304.10" stroke="#f6c1a7" stroke-width="1.2" fill="none"/>
<path d="M155.04 303.91A27.4 27.4 0 0 0 154.33 305.40" stroke="#fad9c5" stroke-width="1.2" fill="none"/>
<path d="M154.42 305.21A27.4 27.4 0 0 0 153.79 306.73" stroke="#f9e5d9" stroke-width="1.2" fill="none"/>
<path d="M153.87 306.53A27.4 27.4 0 0 0 153.33 308.09" stroke="#f8ede8" stroke-width="1.2" fill="none"/>
<path d="M152.20 313.49A27.4 27.4 0 0 0 152.08 315.13" stroke="#f8ece5" stroke-width="1.2" fill="none"/>
<path d="M152.09 314.92A27.4 27.4 0 0 0 152.05 316.57" stroke="#f9e4d8" stroke-width="1.2" fill="none"/>
<path d="M152.05 316.35A27.4 27.4 0 0 0 152.10 318.00" stroke="#fadbca" stroke-width="1.2" fill="none"/>
<path d="M152.09 317.78A27.4 27.4 0 0 0 152.22 319.43" stroke="#fad5c0" stroke-width="1.2" fill="none"/>
<path d="M152.20 319.21A27.4 27.4 0 0 0 152.42 320.85" stroke="#fad4bf" stroke-width="1.2" fill="none"/>
<path d="M152.39 320.64A27.4 27.4 0 0 0 152.69 322.26" stroke="#fadac7" stroke-width="1.2" fill="none"/>
<path d="M152.65 322.05A27.4 27.4 0 0 0 153.04 323.65" stroke="#f9e1d3" stroke-width="1.2" fill="none"/>
<path d="M152.98 323.44A27.4 27.4 0 0 0 153.46 325.02" stroke="#f8eae1" stroke-width="1.2" fill="none"/>
<path d="M153.39 324.82A27.4 27.4 0 0 0 153.95 326.37" stroke="#f7f0ec" stroke-width="1.2" fill="none"/>
<path d="M155.72 330.05A27.4 27.4 0 0 0 156.59 331.45" stroke="#f8ece5" stroke-width="1.2" fill="none"/>
<path d="M156.47 331.27A27.4 27.4 0 0 0 157.41 332.63" stroke="#f9e5d9" stroke-width="1.2" fill="none"/>
<path d="M157.28 332.46A27.4 27.4 0 0 0 158.29 333.76" stroke="#f9dfd0" stroke-width="1.2" fill="none"/>
<path d="M158.16 333.59A27.4 27.4 0 0 0 159.23 334.84" stroke="#fadecf" stroke-width="1.2" fill="none"/>
<path d="M159.09 334.68A27.4 27.4 0 0 0 160.23 335.88" stroke="#f9e2d5" stroke-width="1.2" fill="none"/>
<path d="M160.08 335.72A27.4 27.4 0 0 0 161.28 336.86" stroke="#f8e9e0" stroke-width="1.2" fill="none"/>
<path d="M161.12 336.71A27.4 27.4 0 0 0 162.37 337.78" stroke="#f7f0eb" stroke-width="1.2" fill="none"/>
<path d="M165.75 340.08A27.4 27.4 0 0 0 167.20 340.86" stroke="#f8ebe4" stroke-width="1.2" fill="none"/>
<path d="M167.01 340.76A27.4 27.4 0 0 0 168.50 341.47" stroke="#f9e4d8" stroke-width="1.2" fill="none"/>
<path d="M168.31 341.38A27.4 27.4 0 0 0 169.83 342.01" stroke="#faddcd" stroke-width="1.2" fill="none"/>
<path d="M169.63 341.93A27.4 27.4 0 0 0 171.19 342.47" stroke="#fadbc9" stroke-width="1.2" fill="none"/>
<path d="M170.98 342.41A27.4 27.4 0 0 0 172.57 342.87" stroke="#fadece" stroke-width="1.2" fill="none"/>
<path d="M172.36 342.82A27.4 27.4 0 0 0 173.96 343.20" stroke="#f9e5da" stroke-width="1.2" fill="none"/>
<path d="M173.75 343.15A27.4 27.4 0 0 0 175.38 343.45" stroke="#f8ede6" stroke-width="1.2" fill="none"/>
<path d="M180.88 343.71A27.4 27.4 0 0 0 182.53 343.58" stroke="#f8ece5" stroke-width="1.2" fill="none"/>
<path d="M182.31 343.60A27.4 27.4 0 0 0 183.95 343.38" stroke="#f9e4d8" stroke-width="1.2" fill="none"/>
<path d="M183.74 343.41A27.4 27.4 0 0 0 185.36 343.11" stroke="#fadbc9" stroke-width="1.2" fill="none"/>
<path d="M185.15 343.15A27.4 27.4 0 0 0 186.75 342.76" stroke="#f8ccb6" stroke-width="1.2" fill="none"/>
<path d="M186.54 342.82A27.4 27.4 0 0 0 188.12 342.34" stroke="#f6bea5" stroke-width="1.2" fill="none"/>
<path d="M187.92 342.41A27.4 27.4 0 0 0 189.47 341.85" stroke="#f4b59a" stroke-width="1.2" fill="none"/>
<path d="M189.27 341.93A27.4 27.4 0 0 0 190.79 341.29" stroke="#f4b397" stroke-width="1.2" fill="none"/>
<path d="M190.59 341.38A27.4 27.4 0 0 0 192.08 340.67" stroke="#f5b89d" stroke-width="1.2" fill="none"/>
<path d="M191.89 340.76A27.4 27.4 0 0 0 193.34 339.97" stroke="#f7c4ab" stroke-width="1.2" fill="none"/>
<path d="M193.15 340.08A27.4 27.4 0 0 0 194.55 339.21" stroke="#fad4bf" stroke-width="1.2" fill="none"/>
<path d="M194.37 339.33A27.4 27.4 0 0 0 195.73 338.39" stroke="#fadfd0" stroke-width="1.2" fill="none"/>
<path d="M195.56 338.52A27.4 27.4 0 0 0 196.86 337.51" stroke="#f8e8df" stroke-width="1.2" fill="none"/>
<path d="M196.69 337.64A27.4 27.4 0 0 0 197.94 336.57" stroke="#f7f0eb" stroke-width="1.2" fill="none"/>
<path d="M201.62 332.46A27.4 27.4 0 0 0 202.55 331.09" stroke="#f8ede7" stroke-width="1.2" fill="none"/>
<path d="M202.43 331.27A27.4 27.4 0 0 0 203.29 329.86" stroke="#f9e4d9" stroke-width="1.2" fill="none"/>
<path d="M203.18 330.05A27.4 27.4 0 0 0 203.96 328.60" stroke="#fadac8" stroke-width="1.2" fill="none"/>
<path d="M203.86 328.79A27.4 27.4 0 0 0 204.57 327.30" stroke="#f8cab3" stroke-width="1.2" fill="none"/>
<path d="M204.48 327.49A27.4 27.4 0 0 0 205.11 325.97" stroke="#f5bba1" stroke-width="1.2" fill="none"/>
<path d="M205.03 326.17A27.4 27.4 0 0 0 205.57 324.61" stroke="#f4b498" stroke-width="1.2" fill="none"/>
<path d="M205.51 324.82A27.4 27.4 0 0 0 205.97 323.23" stroke="#f4b498" stroke-width="1.2" fill="none"/>
<path d="M205.92 323.44A27.4 27.4 0 0 0 206.30 321.84" stroke="#f6bda3" stroke-width="1.2" fill="none"/>
<path d="M206.25 322.05A27.4 27.4 0 0 0 206.55 320.42" stroke="#f8cbb5" stroke-width="1.2" fill="none"/>
<path d="M206.51 320.64A27.4 27.4 0 0 0 206.72 319.00" stroke="#fadbc9" stroke-width="1.2" fill="none"/>
<path d="M206.70 319.21A27.4 27.4 0 0 0 206.82 317.57" stroke="#f9e5d9" stroke-width="1.2" fill="none"/>
<path d="M206.81 317.78A27.4 27.4 0 0 0 206.85 316.13" stroke="#f8ede7" stroke-width="1.2" fill="none"/>
<circle cx="179.4" cy="316.4" r="28.3" fill="none" stroke="#7a7070" stroke-width="0.45"/>
<rect x="37.6" y="367.6" width="89.8" height="89.9" fill="#f4f4f4" stroke="#5a5a5a" stroke-width="1"/>
<path d="M56.30 412.55A26.2 26.2 0 0 0 56.35 414.13" stroke="#f7efeb" stroke-width="2.6" fill="none"/>
<path d="M56.34 413.92A26.2 26.2 0 0 0 56.47 415.49" stroke="#f8ede7" stroke-width="2.6" fill="none"/>
<path d="M56.44 415.29A26.2 26.2 0 0 0 56.66 416.85" stroke="#f8ebe3" stroke-width="2.6" fill="none"/>
<path d="M56.62 416.65A26.2 26.2 0 0 0 56.92 418.20" stroke="#f8e8df" stroke-width="2.6" fill="none"/>
<path d="M56.87 418.00A26.2 26.2 0 0 0 57.25 419.53" stroke="#f9e5d9" stroke-width="2.6" fill="none"/>
<path d="M57.19 419.33A26.2 26.2 0 0 0 57.65 420.84" stroke="#f9e1d4" stroke-width="2.6" fill="none"/>
<path d="M57.58 420.65A26.2 26.2 0 0 0 58.11 422.13" stroke="#fadece" stroke-width="2.6" fill="none"/>
<path d="M58.04 421.94A26.2 26.2 0 0 0 58.65 423.39" stroke="#fadac8" stroke-width="2.6" fill="none"/>
<path d="M58.57 423.21A26.2 26.2 0 0 0 59.25 424.63" stroke="#fad7c3" stroke-width="2.6" fill="none"/>
<path d="M59.16 424.44A26.2 26.2 0 0 0 59.91 425.83" stroke="#f9d2bd" stroke-width="2.6" fill="none"/>
<path d="M59.81 425.65A26.2 26.2 0 0 0 60.64 426.99" stroke="#f9ceb7" stroke-width="2.6" fill="none"/>
<path d="M60.53 426.82A26.2 26.2 0 0 0 61.43 428.12" stroke="#f8cab4" stroke-width="2.6" fill="none"/>
<path d="M61.30 427.95A26.2 26.2 0 0 0 62.27 429.20" stroke="#f8c9b1" stroke-width="2.6" fill="none"/>
<path d="M62.14 429.04A26.2 26.2 0 0 0 63.17 430.23" stroke="#f8c8b1" stroke-width="2.6" fill="none"/>
<path d="M63.03 430.08A26.2 26.2 0 0 0 64.12 431.22" stroke="#f8cab3" stroke-width="2.6" fill="none"/>
<path d="M63.97 431.08A26.2 26.2 0 0 0 65.12 432.16" stroke="#f8ccb6" stroke-width="2.6" fill="none"/>
<path d="M64.97 432.02A26.2 26.2 0 0 0 66.17 433.04" stroke="#f9d0ba" stroke-width="2.6" fill="none"/>
<path d="M66.01 432.91A26.2 26.2 0 0 0 67.27 433.87" stroke="#fad5c0" stroke-width="2.6" fill="none"/>
<path d="M67.10 433.75A26.2 26.2 0 0 0 68.40 434.63" stroke="#fad9c6" stroke-width="2.6" fill="none"/>
<path d="M68.23 434.52A26.2 26.2 0 0 0 69.58 435.34" stroke="#faddcc" stroke-width="2.6" fill="none"/>
<path d="M69.40 435.24A26.2 26.2 0 0 0 70.79 435.99" stroke="#f9e0d2" stroke-width="2.6" fill="none"/>
<path d="M70.61 435.89A26.2 26.2 0 0 0 72.03 436.57" stroke="#f9e3d7" stroke-width="2.6" fill="none"/>
<path d="M71.84 436.48A26.2 26.2 0 0 0 73.30 437.08" stroke="#f9e7dd" stroke-width="2.6" fill="none"/>
<path d="M73.11 437.01A26.2 26.2 0 0 0 74.60 437.53" stroke="#f8eae1" stroke-width="2.6" fill="none"/>
<path d="M74.40 437.47A26.2 26.2 0 0 0 75.92 437.91" stroke="#f8ece6" stroke-width="2.6" fill="none"/>
<path d="M75.72 437.86A26.2 26.2 0 0 0 77.25 438.22" stroke="#f8efea" stroke-width="2.6" fill="none"/>
<path d="M55.44 408.26A27.4 27.4 0 0 0 55.23 409.90" stroke="#f7f0eb" stroke-width="1.2" fill="none"/>
<path d="M55.25 409.69A27.4 27.4 0 0 0 55.13 411.33" stroke="#f8ede7" stroke-width="1.2" fill="none"/>
<path d="M55.14 411.12A27.4 27.4 0 0 0 55.10 412.77" stroke="#f8e9e1" stroke-width="1.2" fill="none"/>
<path d="M55.10 412.55A27.4 27.4 0 0 0 55.15 414.20" stroke="#f9e5da" stroke-width="1.2" fill="none"/>
<path d="M55.14 413.98A27.4 27.4 0 0 0 55.27 415.63" stroke="#f9e0d2" stroke-width="1.2" fill="none"/>
<path d="M55.25 415.41A27.4 27.4 0 0 0 55.47 417.05" stroke="#fadac8" stroke-width="1.2" fill="none"/>
<path d="M55.44 416.84A27.4 27.4 0 0 0 55.74 418.46" stroke="#f9d0ba" stroke-width="1.2" fill="none"/>
<path d="M55.70 418.25A27.4 27.4 0 0 0 56.09 419.85" stroke="#f7c2aa" stroke-width="1.2" fill="none"/>
<path d="M56.03 419.64A27.4 27.4 0 0 0 56.51 421.22" stroke="#f4b498" stroke-width="1.2" fill="none"/>
<path d="M56.44 421.02A27.4 27.4 0 0 0 57.00 422.57" stroke="#f1a586" stroke-width="1.2" fill="none"/>
<path d="M56.92 422.37A27.4 27.4 0 0 0 57.56 423.89" stroke="#eb9477" stroke-width="1.2" fill="none"/>
<path d="M57.47 423.69A27.4 27.4 0 0 0 58.18 425.18" stroke="#e48369" stroke-width="1.2" fill="none"/>
<path d="M58.09 424.99A27.4 27.4 0 0 0 58.88 426.44" stroke="#de745d" stroke-width="1.2" fill="none"/>
<path d="M58.77 426.25A27.4 27.4 0 0 0 59.64 427.65" stroke="#d96753" stroke-width="1.2" fill="none"/>
<path d="M59.52 427.47A27.4 27.4 0 0 0 60.46 428.83" stroke="#d55e4c" stroke-width="1.2" fill="none"/>
<path d="M60.33 428.66A27.4 27.4 0 0 0 61.34 429.96" stroke="#d25849" stroke-width="1.2" fill="none"/>
<path d="M61.21 429.79A27.4 27.4 0 0 0 62.28 431.04" stroke="#d15749" stroke-width="1.2" fill="none"/>
<path d="M62.14 430.88A27.4 27.4 0 0 0 63.28 432.08" stroke="#d35b4a" stroke-width="1.2" fill="none"/>
<path d="M63.13 431.92A27.4 27.4 0 0 0 64.33 433.06" stroke="#d7634f" stroke-width="1.2" fill="none"/>
<path d="M64.17 432.91A27.4 27.4 0 0 0 65.42 433.98" stroke="#dc6e58" stroke-width="1.2" fill="none"/>
<path d="M65.26 433.84A27.4 27.4 0 0 0 66.57 434.84" stroke="#e17c64" stroke-width="1.2" fill="none"/>
<path d="M66.39 434.72A27.4 27.4 0 0 0 67.76 435.65" stroke="#e88d71" stroke-width="1.2" fill="none"/>
<path d="M67.58 435.53A27.4 27.4 0 0 0 68.99 436.39" stroke="#ef9f7f" stroke-width="1.2" fill="none"/>
<path d="M68.80 436.28A27.4 27.4 0 0 0 70.25 437.06" stroke="#f3ae91" stroke-width="1.2" fill="none"/>
<path d="M70.06 436.96A27.4 27.4 0 0 0 71.55 437.67" stroke="#f6bda3" stroke-width="1.2" fill="none"/>
<path d="M71.36 437.58A27.4 27.4 0 0 0 72.88 438.21" stroke="#f8cbb4" stroke-width="1.2" fill="none"/>
<path d="M72.68 438.13A27.4 27.4 0 0 0 74.24 438.67" stroke="#fad7c3" stroke-width="1.2" fill="none"/>
<path d="M74.03 438.61A27.4 27.4 0 0 0 75.62 439.07" stroke="#fadece" stroke-width="1.2" fill="none"/>
<path d="M75.41 439.02A27.4 27.4 0 0 0 77.01 439.40" stroke="#f9e3d7" stroke-width="1.2" fill="none"/>
<path d="M76.80 439.35A27.4 27.4 0 0 0 78.43 439.65" stroke="#f8e8de" stroke-width="1.2" fill="none"/>
<path d="M78.21 439.61A27.4 27.4 0 0 0 79.85 439.82" stroke="#f8ece5" stroke-width="1.2" fill="none"/>
<path d="M79.64 439.80A27.4 27.4 0 0 0 81.28 439.92" stroke="#f8efe9" stroke-width="1.2" fill="none"/>
<circle cx="82.5" cy="412.6" r="28.3" fill="none" stroke="#7a7070" stroke-width="0.45"/>
<rect x="134.5" y="367.6" width="89.9" height="89.9" fill="#f4f4f4" stroke="#5a5a5a" stroke-width="1"/>
<path d="M205.65 412.55A26.2 26.2 0 0 0 205.60 410.97" stroke="#f8e9e1" stroke-width="2.6" fill="none"/>
<path d="M205.61 411.18A26.2 26.2 0 0 0 205.48 409.61" stroke="#f8e9e0" stroke-width="2.6" fill="none"/>
<path d="M205.51 409.81A26.2 26.2 0 0 0 205.29 408.25" stroke="#f8ebe3" stroke-width="2.6" fill="none"/>
<path d="M205.33 408.45A26.2 26.2 0 0 0 205.03 406.90" stroke="#f8eee8" stroke-width="2.6" fill="none"/>
<path d="M202.14 399.45A26.2 26.2 0 0 0 201.31 398.11" stroke="#f7f0ec" stroke-width="2.6" fill="none"/>
<path d="M201.42 398.28A26.2 26.2 0 0 0 200.52 396.98" stroke="#f8eee8" stroke-width="2.6" fill="none"/>
<path d="M200.65 397.15A26.2 26.2 0 0 0 199.68 395.90" stroke="#f8ede7" stroke-width="2.6" fill="none"/>
<path d="M199.81 396.06A26.2 26.2 0 0 0 198.78 394.87" stroke="#f8eee8" stroke-width="2.6" fill="none"/>
<path d="M198.92 395.02A26.2 26.2 0 0 0 197.83 393.88" stroke="#f7f0ec" stroke-width="2.6" fill="none"/>
<path d="M191.34 389.21A26.2 26.2 0 0 0 189.92 388.53" stroke="#f8eee9" stroke-width="2.6" fill="none"/>
<path d="M190.11 388.62A26.2 26.2 0 0 0 188.65 388.02" stroke="#f8ece5" stroke-width="2.6" fill="none"/>
<path d="M188.84 388.09A26.2 26.2 0 0 0 187.35 387.57" stroke="#f8ece5" stroke-width="2.6" fill="none"/>
<path d="M187.55 387.63A26.2 26.2 0 0 0 186.03 387.19" stroke="#f8ede7" stroke-width="2.6" fill="none"/>
<path d="M176.71 386.49A26.2 26.2 0 0 0 175.15 386.71" stroke="#f8ede8" stroke-width="2.6" fill="none"/>
<path d="M175.35 386.67A26.2 26.2 0 0 0 173.80 386.97" stroke="#f8e9e1" stroke-width="2.6" fill="none"/>
<path d="M174.00 386.92A26.2 26.2 0 0 0 172.47 387.30" stroke="#f9e5da" stroke-width="2.6" fill="none"/>
<path d="M172.67 387.24A26.2 26.2 0 0 0 171.16 387.70" stroke="#f9e2d6" stroke-width="2.6" fill="none"/>
<path d="M171.35 387.63A26.2 26.2 0 0 0 169.87 388.16" stroke="#f9e1d4" stroke-width="2.6" fill="none"/>
<path d="M170.06 388.09A26.2 26.2 0 0 0 168.61 388.70" stroke="#f9e2d5" stroke-width="2.6" fill="none"/>
<path d="M168.79 388.62A26.2 26.2 0 0 0 167.37 389.30" stroke="#f9e4d9" stroke-width="2.6" fill="none"/>
<path d="M167.56 389.21A26.2 26.2 0 0 0 166.17 389.96" stroke="#f8e8df" stroke-width="2.6" fill="none"/>
<path d="M166.35 389.86A26.2 26.2 0 0 0 165.01 390.69" stroke="#f8ede6" stroke-width="2.6" fill="none"/>
<path d="M158.25 397.15A26.2 26.2 0 0 0 157.37 398.45" stroke="#f7efeb" stroke-width="2.6" fill="none"/>
<path d="M157.48 398.28A26.2 26.2 0 0 0 156.66 399.63" stroke="#f8ebe4" stroke-width="2.6" fill="none"/>
<path d="M156.76 399.45A26.2 26.2 0 0 0 156.01 400.84" stroke="#f9e7dd" stroke-width="2.6" fill="none"/>
<path d="M156.11 400.66A26.2 26.2 0 0 0 155.43 402.08" stroke="#f9e4d7" stroke-width="2.6" fill="none"/>
<path d="M155.52 401.89A26.2 26.2 0 0 0 154.92 403.35" stroke="#f9e2d4" stroke-width="2.6" fill="none"/>
<path d="M154.99 403.16A26.2 26.2 0 0 0 154.47 404.65" stroke="#f9e1d4" stroke-width="2.6" fill="none"/>
<path d="M154.53 404.45A26.2 26.2 0 0 0 154.09 405.97" stroke="#f9e3d7" stroke-width="2.6" fill="none"/>
<path d="M154.14 405.77A26.2 26.2 0 0 0 153.78 407.30" stroke="#f9e6dc" stroke-width="2.6" fill="none"/>
<path d="M153.82 407.10A26.2 26.2 0 0 0 153.54 408.65" stroke="#f8eae3" stroke-width="2.6" fill="none"/>
<path d="M153.57 408.45A26.2 26.2 0 0 0 153.37 410.02" stroke="#f8efe9" stroke-width="2.6" fill="none"/>
<path d="M153.82 418.00A26.2 26.2 0 0 0 154.20 419.53" stroke="#f7f0ec" stroke-width="2.6" fill="none"/>
<path d="M154.14 419.33A26.2 26.2 0 0 0 154.60 420.84" stroke="#f8ede7" stroke-width="2.6" fill="none"/>
<path d="M154.53 420.65A26.2 26.2 0 0 0 155.06 422.13" stroke="#f8ece4" stroke-width="2.6" fill="none"/>
<path d="M154.99 421.94A26.2 26.2 0 0 0 155.60 423.39" stroke="#f8ece5" stroke-width="2.6" fill="none"/>
<path d="M155.52 423.21A26.2 26.2 0 0 0 156.20 424.63" stroke="#f8eee9" stroke-width="2.6" fill="none"/>
<path d="M160.92 431.08A26.2 26.2 0 0 0 162.07 432.16" stroke="#f7f0ec" stroke-width="2.6" fill="none"/>
<path d="M161.92 432.02A26.2 26.2 0 0 0 163.12 433.04" stroke="#f8eee8" stroke-width="2.6" fill="none"/>
<path d="M162.96 432.91A26.2 26.2 0 0 0 164.22 433.87" stroke="#f8ede7" stroke-width="2.6" fill="none"/>
<path d="M164.05 433.75A26.2 26.2 0 0 0 165.35 434.63" stroke="#f8eee8" stroke-width="2.6" fill="none"/>
<path d="M165.18 434.52A26.2 26.2 0 0 0 166.53 435.34" stroke="#f7f0ec" stroke-width="2.6" fill="none"/>
<path d="M174.00 438.18A26.2 26.2 0 0 0 175.55 438.46" stroke="#f8eee8" stroke-width="2.6" fill="none"/>
<path d="M175.35 438.43A26.2 26.2 0 0 0 176.92 438.63" stroke="#f8ebe3" stroke-width="2.6" fill="none"/>
<path d="M176.71 438.61A26.2 26.2 0 0 0 178.28 438.72" stroke="#f8e9e0" stroke-width="2.6" fill="none"/>
<path d="M178.08 438.71A26.2 26.2 0 0 0 179.66 438.75" stroke="#f8e9e1" stroke-width="2.6" fill="none"/>
<path d="M179.45 438.75A26.2 26.2 0 0 0 181.03 438.70" stroke="#f8ece4" stroke-width="2.6" fill="none"/>
<path d="M180.82 438.71A26.2 26.2 0 0 0 182.39 438.58" stroke="#f7efea" stroke-width="2.6" fill="none"/>
<path d="M190.11 436.48A26.2 26.2 0 0 0 191.53 435.80" stroke="#f8efe9" stroke-width="2.6" fill="none"/>
<path d="M191.34 435.89A26.2 26.2 0 0 0 192.73 435.14" stroke="#f8e9e1" stroke-width="2.6" fill="none"/>
<path d="M192.55 435.24A26.2 26.2 0 0 0 193.89 434.41" stroke="#f9e3d6" stroke-width="2.6" fill="none"/>
<path d="M193.72 434.52A26.2 26.2 0 0 0 195.02 433.62" stroke="#fadccc" stroke-width="2.6" fill="none"/>
<path d="M194.85 433.75A26.2 26.2 0 0 0 196.10 432.78" stroke="#fad6c2" stroke-width="2.6" fill="none"/>
<path d="M195.94 432.91A26.2 26.2 0 0 0 197.13 431.88" stroke="#f9ceb8" stroke-width="2.6" fill="none"/>
<path d="M196.98 432.02A26.2 26.2 0 0 0 198.12 430.93" stroke="#f8c9b2" stroke-width="2.6" fill="none"/>
<path d="M197.98 431.08A26.2 26.2 0 0 0 199.06 429.93" stroke="#f8c9b1" stroke-width="2.6" fill="none"/>
<path d="M198.92 430.08A26.2 26.2 0 0 0 199.94 428.88" stroke="#f8ccb6" stroke-width="2.6" fill="none"/>
<path d="M199.81 429.04A26.2 26.2 0 0 0 200.77 427.78" stroke="#fad3be" stroke-width="2.6" fill="none"/>
<path d="M200.65 427.95A26.2 26.2 0 0 0 201.53 426.65" stroke="#fadbc9" stroke-width="2.6" fill="none"/>
<path d="M201.42 426.82A26.2 26.2 0 0 0 202.24 425.47" stroke="#f9e1d3" stroke-width="2.6" fill="none"/>
<path d="M202.14 425.65A26.2 26.2 0 0 0 202.89 424.26" stroke="#f8e7de" stroke-width="2.6" fill="none"/>
<path d="M202.79 424.44A26.2 26.2 0 0 0 203.47 423.02" stroke="#f8ede7" stroke-width="2.6" fill="none"/>
<path d="M205.51 415.29A26.2 26.2 0 0 0 205.62 413.72" stroke="#f7f0eb" stroke-width="2.6" fill="none"/>
<path d="M205.61 413.92A26.2 26.2 0 0 0 205.65 412.34" stroke="#f8ece5" stroke-width="2.6" fill="none"/>
<path d="M206.85 412.55A27.4 27.4 0 0 0 206.80 410.90" stroke="#fad6c2" stroke-width="1.2" fill="none"/>
<path d="M206.81 411.12A27.4 27.4 0 0 0 206.68 409.47" stroke="#fad4bf" stroke-width="1.2" fill="none"/>
<path d="M206.70 409.69A27.4 27.4 0 0 0 206.48 408.05" stroke="#fadac7" stroke-width="1.2" fill="none"/>
<path d="M206.51 408.26A27.4 27.4 0 0 0 206.21 406.64" stroke="#f9e2d4" stroke-width="1.2" fill="none"/>
<path d="M206.25 406.85A27.4 27.4 0 0 0 205.86 405.25" stroke="#f8eae2" stroke-width="1.2" fill="none"/>
<path d="M203.86 400.11A27.4 27.4 0 0 0 203.07 398.66" stroke="#f8ede7" stroke-width="1.2" fill="none"/>
<path d="M203.18 398.85A27.4 27.4 0 0 0 202.31 397.45" stroke="#f9e6dc" stroke-width="1.2" fill="none"/>
<path d="M202.43 397.63A27.4 27.4 0 0 0 201.49 396.27" stroke="#f9e1d3" stroke-width="1.2" fill="none"/>
<path d="M201.62 396.44A27.4 27.4 0 0 0 200.61 395.14" stroke="#fadfd0" stroke-width="1.2" fill="none"/>
<path d="M200.74 395.31A27.4 27.4 0 0 0 199.67 394.06" stroke="#f9e1d3" stroke-width="1.2" fill="none"/>
<path d="M199.81 394.22A27.4 27.4 0 0 0 198.67 393.02" stroke="#f9e6dc" stroke-width="1.2" fill="none"/>
<path d="M198.82 393.18A27.4 27.4 0 0 0 197.62 392.04" stroke="#f8ede7" stroke-width="1.2" fill="none"/>
<path d="M193.15 388.82A27.4 27.4 0 0 0 191.70 388.04" stroke="#f8eae2" stroke-width="1.2" fill="none"/>
<path d="M191.89 388.14A27.4 27.4 0 0 0 190.40 387.43" stroke="#f9e3d6" stroke-width="1.2" fill="none"/>
<path d="M190.59 387.52A27.4 27.4 0 0 0 189.07 386.89" stroke="#faddcc" stroke-width="1.2" fill="none"/>
<path d="M189.27 386.97A27.4 27.4 0 0 0 187.71 386.43" stroke="#fadccb" stroke-width="1.2" fill="none"/>
<path d="M187.92 386.49A27.4 27.4 0 0 0 186.33 386.03" stroke="#f9e0d2" stroke-width="1.2" fill="none"/>
<path d="M186.54 386.08A27.4 27.4 0 0 0 184.94 385.70" stroke="#f8e8de" stroke-width="1.2" fill="none"/>
<path d="M185.15 385.75A27.4 27.4 0 0 0 183.52 385.45" stroke="#f7efea" stroke-width="1.2" fill="none"/>
<path d="M178.02 385.19A27.4 27.4 0 0 0 176.37 385.32" stroke="#f8eae1" stroke-width="1.2" fill="none"/>
<path d="M176.59 385.30A27.4 27.4 0 0 0 174.95 385.52" stroke="#f9e0d2" stroke-width="1.2" fill="none"/>
<path d="M175.16 385.49A27.4 27.4 0 0 0 173.54 385.79" stroke="#fad5c1" stroke-width="1.2" fill="none"/>
<path d="M173.75 385.75A27.4 27.4 0 0 0 172.15 386.14" stroke="#f7c5ac" stroke-width="1.2" fill="none"/>
<path d="M172.36 386.08A27.4 27.4 0 0 0 170.78 386.56" stroke="#f5b99e" stroke-width="1.2" fill="none"/>
<path d="M170.98 386.49A27.4 27.4 0 0 0 169.43 387.05" stroke="#f4b397" stroke-width="1.2" fill="none"/>
<path d="M169.63 386.97A27.4 27.4 0 0 0 168.11 387.61" stroke="#f4b69b" stroke-width="1.2" fill="none"/>
<path d="M168.31 387.52A27.4 27.4 0 0 0 166.82 388.23" stroke="#f6c1a8" stroke-width="1.2" fill="none"/>
<path d="M167.01 388.14A27.4 27.4 0 0 0 165.56 388.93" stroke="#f9d1bb" stroke-width="1.2" fill="none"/>
<path d="M165.75 388.82A27.4 27.4 0 0 0 164.35 389.69" stroke="#fadecf" stroke-width="1.2" fill="none"/>
<path d="M164.53 389.57A27.4 27.4 0 0 0 163.17 390.51" stroke="#f8e8df" stroke-width="1.2" fill="none"/>
<path d="M163.34 390.38A27.4 27.4 0 0 0 162.04 391.39" stroke="#f7f0eb" stroke-width="1.2" fill="none"/>
<path d="M158.16 395.31A27.4 27.4 0 0 0 157.16 396.62" stroke="#f8ede8" stroke-width="1.2" fill="none"/>
<path d="M157.28 396.44A27.4 27.4 0 0 0 156.35 397.81" stroke="#f9e5da" stroke-width="1.2" fill="none"/>
<path d="M156.47 397.63A27.4 27.4 0 0 0 155.61 399.04" stroke="#fadbc9" stroke-width="1.2" fill="none"/>
<path d="M155.72 398.85A27.4 27.4 0 0 0 154.94 400.30" stroke="#f8cbb5" stroke-width="1.2" fill="none"/>
<path d="M155.04 400.11A27.4 27.4 0 0 0 154.33 401.60" stroke="#f6bda3" stroke-width="1.2" fill="none"/>
<path d="M154.42 401.41A27.4 27.4 0 0 0 153.79 402.93" stroke="#f4b599" stroke-width="1.2" fill="none"/>
<path d="M153.87 402.73A27.4 27.4 0 0 0 153.33 404.29" stroke="#f4b498" stroke-width="1.2" fill="none"/>
<path d="M153.39 404.08A27.4 27.4 0 0 0 152.93 405.67" stroke="#f5bba1" stroke-width="1.2" fill="none"/>
<path d="M152.98 405.46A27.4 27.4 0 0 0 152.60 407.06" stroke="#f8c9b2" stroke-width="1.2" fill="none"/>
<path d="M152.65 406.85A27.4 27.4 0 0 0 152.35 408.48" stroke="#fad9c6" stroke-width="1.2" fill="none"/>
<path d="M152.39 408.26A27.4 27.4 0 0 0 152.18 409.90" stroke="#f9e3d7" stroke-width="1.2" fill="none"/>
<path d="M152.20 409.69A27.4 27.4 0 0 0 152.08 411.33" stroke="#f8ece5" stroke-width="1.2" fill="none"/>
<path d="M152.39 416.84A27.4 27.4 0 0 0 152.69 418.46" stroke="#f8eee8" stroke-width="1.2" fill="none"/>
<path d="M152.65 418.25A27.4 27.4 0 0 0 153.04 419.85" stroke="#f9e7dc" stroke-width="1.2" fill="none"/>
<path d="M152.98 419.64A27.4 27.4 0 0 0 153.46 421.22" stroke="#f9e0d1" stroke-width="1.2" fill="none"/>
<path d="M153.39 421.02A27.4 27.4 0 0 0 153.95 422.57" stroke="#fadccb" stroke-width="1.2" fill="none"/>
<path d="M153.87 422.37A27.4 27.4 0 0 0 154.51 423.89" stroke="#faddcc" stroke-width="1.2" fill="none"/>
<path d="M154.42 423.69A27.4 27.4 0 0 0 155.13 425.18" stroke="#f9e2d5" stroke-width="1.2" fill="none"/>
<path d="M155.04 424.99A27.4 27.4 0 0 0 155.83 426.44" stroke="#f8eae2" stroke-width="1.2" fill="none"/>
<path d="M155.72 426.25A27.4 27.4 0 0 0 156.59 427.65" stroke="#f7f0ec" stroke-width="1.2" fill="none"/>
<path d="M159.09 430.88A27.4 27.4 0 0 0 160.23 432.08" stroke="#f8ede8" stroke-width="1.2" fill="none"/>
<path d="M160.08 431.92A27.4 27.4 0 0 0 161.28 433.06" stroke="#f9e7dd" stroke-width="1.2" fill="none"/>
<path d="M161.12 432.91A27.4 27.4 0 0 0 162.37 433.98" stroke="#f9e1d3" stroke-width="1.2" fill="none"/>
<path d="M162.21 433.84A27.4 27.4 0 0 0 163.52 434.84" stroke="#fadfd0" stroke-width="1.2" fill="none"/>
<path d="M163.34 434.72A27.4 27.4 0 0 0 164.71 435.65" stroke="#f9e1d3" stroke-width="1.2" fill="none"/>
<path d="M164.53 435.53A27.4 27.4 0 0 0 165.94 436.39" stroke="#f9e7dd" stroke-width="1.2" fill="none"/>
<path d="M165.75 436.28A27.4 27.4 0 0 0 167.20 437.06" stroke="#f8eee8" stroke-width="1.2" fill="none"/>
<path d="M172.36 439.02A27.4 27.4 0 0 0 173.96 439.40" stroke="#f8eae1" stroke-width="1.2" fill="none"/>
<path d="M173.75 439.35A27.4 27.4 0 0 0 175.38 439.65" stroke="#f9e1d4" stroke-width="1.2" fill="none"/>
<path d="M175.16 439.61A27.4 27.4 0 0 0 176.80 439.82" stroke="#fadac7" stroke-width="1.2" fill="none"/>
<path d="M176.59 439.80A27.4 27.4 0 0 0 178.23 439.92" stroke="#fad4bf" stroke-width="1.2" fill="none"/>
<path d="M178.02 439.91A27.4 27.4 0 0 0 179.67 439.95" stroke="#fad5c1" stroke-width="1.2" fill="none"/>
<path d="M179.45 439.95A27.4 27.4 0 0 0 181.10 439.90" stroke="#fadcca" stroke-width="1.2" fill="none"/>
<path d="M180.88 439.91A27.4 27.4 0 0 0 182.53 439.78" stroke="#f9e4d8" stroke-width="1.2" fill="none"/>
<path d="M182.31 439.80A27.4 27.4 0 0 0 183.95 439.58" stroke="#f8ece6" stroke-width="1.2" fill="none"/>
<path d="M189.27 438.13A27.4 27.4 0 0 0 190.79 437.49" stroke="#f8ede7" stroke-width="1.2" fill="none"/>
<path d="M190.59 437.58A27.4 27.4 0 0 0 192.08 436.87" stroke="#f9e3d7" stroke-width="1.2" fill="none"/>
<path d="M191.89 436.96A27.4 27.4 0 0 0 193.34 436.17" stroke="#fad5c1" stroke-width="1.2" fill="none"/>
<path d="M193.15 436.28A27.4 27.4 0 0 0 194.55 435.41" stroke="#f5bba0" stroke-width="1.2" fill="none"/>
<path d="M194.37 435.53A27.4 27.4 0 0 0 195.73 434.59" stroke="#ef9f7f" stroke-width="1.2" fill="none"/>
<path d="M195.56 434.72A27.4 27.4 0 0 0 196.86 433.71" stroke="#e38066" stroke-width="1.2" fill="none"/>
<path d="M196.69 433.84A27.4 27.4 0 0 0 197.94 432.77" stroke="#d96853" stroke-width="1.2" fill="none"/>
<path d="M197.78 432.91A27.4 27.4 0 0 0 198.98 431.77" stroke="#d35a4a" stroke-width="1.2" fill="none"/>
<path d="M198.82 431.92A27.4 27.4 0 0 0 199.96 430.72" stroke="#d25849" stroke-width="1.2" fill="none"/>
<path d="M199.81 430.88A27.4 27.4 0 0 0 200.88 429.63" stroke="#d7634f" stroke-width="1.2" fill="none"/>
<path d="M200.74 429.79A27.4 27.4 0 0 0 201.74 428.48" stroke="#df7860" stroke-width="1.2" fill="none"/>
<path d="M201.62 428.66A27.4 27.4 0 0 0 202.55 427.29" stroke="#eb9577" stroke-width="1.2" fill="none"/>
<path d="M202.43 427.47A27.4 27.4 0 0 0 203.29 426.06" stroke="#f4b296" stroke-width="1.2" fill="none"/>
<path d="M203.18 426.25A27.4 27.4 0 0 0 203.96 424.80" stroke="#f9ceb8" stroke-width="1.2" fill="none"/>
<path d="M203.86 424.99A27.4 27.4 0 0 0 204.57 423.50" stroke="#f9e0d1" stroke-width="1.2" fill="none"/>
<path d="M204.48 423.69A27.4 27.4 0 0 0 205.11 422.17" stroke="#f8ebe3" stroke-width="1.2" fill="none"/>
<path d="M206.51 416.84A27.4 27.4 0 0 0 206.72 415.20" stroke="#f8eee9" stroke-width="1.2" fill="none"/>
<path d="M206.70 415.41A27.4 27.4 0 0 0 206.82 413.77" stroke="#f9e6db" stroke-width="1.2" fill="none"/>
<path d="M206.81 413.98A27.4 27.4 0 0 0 206.85 412.33" stroke="#faddcc" stroke-width="1.2" fill="none"/>
<circle cx="179.4" cy="412.6" r="28.3" fill="none" stroke="#7a7070" stroke-width="0.45"/>
<text x="30.9" y="275.7" text-anchor="end" font-size="12.5" fill="#0a0a0a">1</text>
<text x="30.9" y="356.8" text-anchor="end" font-size="12.5" fill="#0a0a0a">-1</text>
<text x="30.9" y="374.3" text-anchor="end" font-size="12.5" fill="#0a0a0a">1</text>
<text x="30.9" y="456.1" text-anchor="end" font-size="12.5" fill="#0a0a0a">-1</text>
<text x="35.6" y="470.7" text-anchor="middle" font-size="12.5" fill="#0a0a0a">-1</text>
<text x="124.2" y="470.7" text-anchor="middle" font-size="12.5" fill="#0a0a0a">1</text>
<text x="135" y="470.7" text-anchor="middle" font-size="12.5" fill="#0a0a0a">-1</text>
<text x="221.2" y="470.7" text-anchor="middle" font-size="12.5" fill="#0a0a0a">1</text>
<text x="130.9" y="484.6" text-anchor="middle" font-size="12.6" fill="#0a0a0a">Relative X</text>
<text transform="translate(11.3 363.4) rotate(-90)" text-anchor="middle" font-size="12.6" fill="#0a0a0a">Relative Y</text>
<path d="M267.10 355.12 L267.33 354.41 L267.55 353.63 L267.78 352.78 L268.01 351.86 L268.23 350.87 L268.46 349.80 L268.68 348.64 L268.91 347.40 L269.14 346.08 L269.36 344.66 L269.59 343.16 L269.82 341.56 L270.04 339.88 L270.27 338.10 L270.49 336.23 L270.72 334.28 L270.95 332.23 L271.17 330.11 L271.40 327.90 L271.63 325.62 L271.85 323.27 L272.08 320.86 L272.31 318.39 L272.53 315.88 L272.76 313.33 L272.98 310.75 L273.21 308.15 L273.44 305.55 L273.66 302.96 L273.89 300.38 L274.12 297.83 L274.34 295.32 L274.57 292.88 L274.79 290.50 L275.02 288.21 L275.25 286.02 L275.47 283.93 L275.70 281.97 L275.93 280.15 L276.15 278.47 L276.38 276.95 L276.61 275.60 L276.83 274.42 L277.06 273.43 L277.28 272.63 L277.51 272.03 L277.74 271.62 L277.96 271.42 L278.19 271.43 L278.42 271.64 L278.64 272.05 L278.87 272.66 L279.09 273.47 L279.32 274.47 L279.55 275.65 L279.77 277.01 L280.00 278.54 L280.23 280.22 L280.45 282.05 L280.68 284.02 L280.91 286.11 L281.13 288.31 L281.36 290.60 L281.58 292.98 L281.81 295.43 L282.04 297.94 L282.26 300.49 L282.49 303.07 L282.72 305.66 L282.94 308.27 L283.17 310.86 L283.39 313.44 L283.62 315.99 L283.85 318.50 L284.07 320.97 L284.30 323.37 L284.53 325.72 L284.75 328.00 L284.98 330.20 L285.21 332.32 L285.43 334.36 L285.66 336.31 L285.88 338.18 L286.11 339.95 L286.34 341.63 L286.56 343.23 L286.79 344.73 L287.02 346.14 L287.24 347.46 L287.47 348.69 L287.69 349.84 L287.92 350.91 L288.15 351.91 L288.37 352.82 L288.60 353.67 L288.83 354.44 L289.05 355.15 L289.28 355.80 L289.51 356.39 L289.73 356.93 L289.96 357.42 L290.18 357.86 L290.41 358.26 L290.64 358.62 L290.86 358.94 L291.09 359.23 L291.32 359.48 L291.54 359.71 L291.77 359.92 L291.99 360.10 L292.22 360.25 L292.45 360.39 L292.67 360.52 L292.90 360.63 L293.13 360.72 L293.35 360.80 L293.58 360.87 L293.81 360.94 L294.03 360.99 L294.26 361.04 L294.48 361.08 L294.71 361.11 L294.94 361.14 L295.16 361.16 L295.39 361.19 L295.62 361.20 L295.84 361.22 L296.07 361.23 L296.29 361.24 L296.52 361.25 L296.75 361.26 L296.97 361.27 L297.20 361.27 L297.43 361.28 L297.65 361.28 L297.88 361.29 L298.11 361.29 L298.33 361.29 L298.56 361.29 L298.78 361.29 L299.01 361.29 L299.24 361.30 L299.46 361.30 L299.69 361.30 L299.92 361.30 L300.14 361.30 L300.37 361.30 L300.59 361.30 L300.82 361.30 L301.05 361.30 L301.27 361.30 L301.50 361.30 L301.73 361.30 L301.95 361.30 L302.18 361.30 L302.41 361.30 L302.63 361.30 L302.86 361.30 L303.08 361.30 L303.31 361.30 L303.54 361.30 L303.76 361.30 L303.99 361.30 L304.22 361.30 L304.44 361.30 L304.67 361.30 L304.89 361.30 L305.12 361.30 L305.35 361.30 L305.57 361.30 L305.80 361.30 L306.03 361.30 L306.25 361.30 L306.48 361.30 L306.71 361.30 L306.93 361.30 L307.16 361.30 L307.38 361.30 L307.61 361.30 L307.84 361.30 L308.06 361.30 L308.29 361.30 L308.52 361.30 L308.74 361.30 L308.97 361.30 L309.19 361.30 L309.42 361.30 L309.65 361.30 L309.87 361.30 L310.10 361.30 L310.33 361.30 L310.55 361.30 L310.78 361.30 L311.01 361.30 L311.23 361.30 L311.46 361.30 L311.68 361.30 L311.91 361.30 L312.14 361.30 L312.36 361.30 L312.59 361.30 L312.82 361.30 L313.04 361.30 L313.27 361.30 L313.49 361.30 L313.72 361.30 L313.95 361.30 L314.17 361.30 L314.40 361.30 L314.63 361.30 L314.85 361.30 L315.08 361.30 L315.31 361.30 L315.53 361.30 L315.76 361.30 L315.98 361.30 L316.21 361.30 L316.44 361.30 L316.66 361.30 L316.89 361.30 L317.12 361.30 L317.34 361.30 L317.57 361.30 L317.79 361.30 L318.02 361.30 L318.25 361.30 L318.47 361.30 L318.70 361.30 L318.93 361.30 L319.15 361.30 L319.38 361.30 L319.61 361.30 L319.83 361.30 L320.06 361.30 L320.28 361.30 L320.51 361.30 L320.74 361.30 L320.96 361.30 L321.19 361.30 L321.42 361.30 L321.64 361.30 L321.87 361.30 L322.09 361.30 L322.32 361.30 L322.55 361.30 L322.77 361.30 L323.00 361.30 L323.23 361.30 L323.45 361.30 L323.68 361.30 L323.91 361.30 L324.13 361.30 L324.36 361.30 L324.58 361.30 L324.81 361.30 L325.04 361.30 L325.26 361.30 L325.49 361.30 L325.72 361.30 L325.94 361.30 L326.17 361.30 L326.39 361.30 L326.62 361.30 L326.85 361.30 L327.07 361.30 L327.30 361.30 L327.53 361.30 L327.75 361.30 L327.98 361.30 L328.21 361.30 L328.43 361.30 L328.66 361.30 L328.88 361.30 L329.11 361.30 L329.34 361.30 L329.56 361.30 L329.79 361.30 L330.02 361.30 L330.24 361.30 L330.47 361.30 L330.69 361.30 L330.92 361.30 L331.15 361.30 L331.37 361.30 L331.60 361.30 L331.83 361.30 L332.05 361.30 L332.28 361.30 L332.51 361.30 L332.73 361.30 L332.96 361.30 L333.18 361.30 L333.41 361.30 L333.64 361.30 L333.86 361.30 L334.09 361.30 L334.32 361.30 L334.54 361.30 L334.77 361.30 L334.99 361.30 L335.22 361.30 L335.45 361.30 L335.67 361.30 L335.90 361.30 L336.13 361.30 L336.35 361.30 L336.58 361.30 L336.81 361.30 L337.03 361.30 L337.26 361.30 L337.48 361.30 L337.71 361.30 L337.94 361.30 L338.16 361.30 L338.39 361.30 L338.62 361.30 L338.84 361.30 L339.07 361.30 L339.29 361.30 L339.52 361.30 L339.75 361.30 L339.97 361.30 L340.20 361.30 L340.43 361.30 L340.65 361.30 L340.88 361.30 L341.11 361.30 L341.33 361.30 L341.56 361.30 L341.78 361.30 L342.01 361.30 L342.24 361.30 L342.46 361.30 L342.69 361.30 L342.92 361.30 L343.14 361.30 L343.37 361.30 L343.59 361.30 L343.82 361.30 L344.05 361.30 L344.27 361.30 L344.50 361.30 L344.73 361.30 L344.95 361.30 L345.18 361.30 L345.41 361.30 L345.63 361.30 L345.86 361.30 L346.08 361.30 L346.31 361.30 L346.54 361.30 L346.76 361.30 L346.99 361.30 L347.22 361.30 L347.44 361.29 L347.67 361.29 L347.89 361.29 L348.12 361.29 L348.35 361.29 L348.57 361.29 L348.80 361.28 L349.03 361.28 L349.25 361.27 L349.48 361.27 L349.71 361.26 L349.93 361.25 L350.16 361.24 L350.38 361.23 L350.61 361.22 L350.84 361.20 L351.06 361.19 L351.29 361.16 L351.52 361.14 L351.74 361.11 L351.97 361.07 L352.19 361.03 L352.42 360.99 L352.65 360.93 L352.87 360.87 L353.10 360.80 L353.33 360.72 L353.55 360.62 L353.78 360.51 L354.01 360.39 L354.23 360.25 L354.46 360.09 L354.68 359.91 L354.91 359.70 L355.14 359.47 L355.36 359.22 L355.59 358.93 L355.82 358.60 L356.04 358.24 L356.27 357.84 L356.49 357.40 L356.72 356.91 L356.95 356.37 L357.17 355.78 L357.40 355.12 L357.4 361.3 L267.1 361.3Z" fill="#dcd8ea" stroke="none"/>
<path d="M267.10 355.12 L267.33 354.41 L267.55 353.63 L267.78 352.78 L268.01 351.86 L268.23 350.87 L268.46 349.80 L268.68 348.64 L268.91 347.40 L269.14 346.08 L269.36 344.66 L269.59 343.16 L269.82 341.56 L270.04 339.88 L270.27 338.10 L270.49 336.23 L270.72 334.28 L270.95 332.23 L271.17 330.11 L271.40 327.90 L271.63 325.62 L271.85 323.27 L272.08 320.86 L272.31 318.39 L272.53 315.88 L272.76 313.33 L272.98 310.75 L273.21 308.15 L273.44 305.55 L273.66 302.96 L273.89 300.38 L274.12 297.83 L274.34 295.32 L274.57 292.88 L274.79 290.50 L275.02 288.21 L275.25 286.02 L275.47 283.93 L275.70 281.97 L275.93 280.15 L276.15 278.47 L276.38 276.95 L276.61 275.60 L276.83 274.42 L277.06 273.43 L277.28 272.63 L277.51 272.03 L277.74 271.62 L277.96 271.42 L278.19 271.43 L278.42 271.64 L278.64 272.05 L278.87 272.66 L279.09 273.47 L279.32 274.47 L279.55 275.65 L279.77 277.01 L280.00 278.54 L280.23 280.22 L280.45 282.05 L280.68 284.02 L280.91 286.11 L281.13 288.31 L281.36 290.60 L281.58 292.98 L281.81 295.43 L282.04 297.94 L282.26 300.49 L282.49 303.07 L282.72 305.66 L282.94 308.27 L283.17 310.86 L283.39 313.44 L283.62 315.99 L283.85 318.50 L284.07 320.97 L284.30 323.37 L284.53 325.72 L284.75 328.00 L284.98 330.20 L285.21 332.32 L285.43 334.36 L285.66 336.31 L285.88 338.18 L286.11 339.95 L286.34 341.63 L286.56 343.23 L286.79 344.73 L287.02 346.14 L287.24 347.46 L287.47 348.69 L287.69 349.84 L287.92 350.91 L288.15 351.91 L288.37 352.82 L288.60 353.67 L288.83 354.44 L289.05 355.15 L289.28 355.80 L289.51 356.39 L289.73 356.93 L289.96 357.42 L290.18 357.86 L290.41 358.26 L290.64 358.62 L290.86 358.94 L291.09 359.23 L291.32 359.48 L291.54 359.71 L291.77 359.92 L291.99 360.10 L292.22 360.25 L292.45 360.39 L292.67 360.52 L292.90 360.63 L293.13 360.72 L293.35 360.80 L293.58 360.87 L293.81 360.94 L294.03 360.99 L294.26 361.04 L294.48 361.08 L294.71 361.11 L294.94 361.14 L295.16 361.16 L295.39 361.19 L295.62 361.20 L295.84 361.22 L296.07 361.23 L296.29 361.24 L296.52 361.25 L296.75 361.26 L296.97 361.27 L297.20 361.27 L297.43 361.28 L297.65 361.28 L297.88 361.29 L298.11 361.29 L298.33 361.29 L298.56 361.29 L298.78 361.29 L299.01 361.29 L299.24 361.30 L299.46 361.30 L299.69 361.30 L299.92 361.30 L300.14 361.30 L300.37 361.30 L300.59 361.30 L300.82 361.30 L301.05 361.30 L301.27 361.30 L301.50 361.30 L301.73 361.30 L301.95 361.30 L302.18 361.30 L302.41 361.30 L302.63 361.30 L302.86 361.30 L303.08 361.30 L303.31 361.30 L303.54 361.30 L303.76 361.30 L303.99 361.30 L304.22 361.30 L304.44 361.30 L304.67 361.30 L304.89 361.30 L305.12 361.30 L305.35 361.30 L305.57 361.30 L305.80 361.30 L306.03 361.30 L306.25 361.30 L306.48 361.30 L306.71 361.30 L306.93 361.30 L307.16 361.30 L307.38 361.30 L307.61 361.30 L307.84 361.30 L308.06 361.30 L308.29 361.30 L308.52 361.30 L308.74 361.30 L308.97 361.30 L309.19 361.30 L309.42 361.30 L309.65 361.30 L309.87 361.30 L310.10 361.30 L310.33 361.30 L310.55 361.30 L310.78 361.30 L311.01 361.30 L311.23 361.30 L311.46 361.30 L311.68 361.30 L311.91 361.30 L312.14 361.30 L312.36 361.30 L312.59 361.30 L312.82 361.30 L313.04 361.30 L313.27 361.30 L313.49 361.30 L313.72 361.30 L313.95 361.30 L314.17 361.30 L314.40 361.30 L314.63 361.30 L314.85 361.30 L315.08 361.30 L315.31 361.30 L315.53 361.30 L315.76 361.30 L315.98 361.30 L316.21 361.30 L316.44 361.30 L316.66 361.30 L316.89 361.30 L317.12 361.30 L317.34 361.30 L317.57 361.30 L317.79 361.30 L318.02 361.30 L318.25 361.30 L318.47 361.30 L318.70 361.30 L318.93 361.30 L319.15 361.30 L319.38 361.30 L319.61 361.30 L319.83 361.30 L320.06 361.30 L320.28 361.30 L320.51 361.30 L320.74 361.30 L320.96 361.30 L321.19 361.30 L321.42 361.30 L321.64 361.30 L321.87 361.30 L322.09 361.30 L322.32 361.30 L322.55 361.30 L322.77 361.30 L323.00 361.30 L323.23 361.30 L323.45 361.30 L323.68 361.30 L323.91 361.30 L324.13 361.30 L324.36 361.30 L324.58 361.30 L324.81 361.30 L325.04 361.30 L325.26 361.30 L325.49 361.30 L325.72 361.30 L325.94 361.30 L326.17 361.30 L326.39 361.30 L326.62 361.30 L326.85 361.30 L327.07 361.30 L327.30 361.30 L327.53 361.30 L327.75 361.30 L327.98 361.30 L328.21 361.30 L328.43 361.30 L328.66 361.30 L328.88 361.30 L329.11 361.30 L329.34 361.30 L329.56 361.30 L329.79 361.30 L330.02 361.30 L330.24 361.30 L330.47 361.30 L330.69 361.30 L330.92 361.30 L331.15 361.30 L331.37 361.30 L331.60 361.30 L331.83 361.30 L332.05 361.30 L332.28 361.30 L332.51 361.30 L332.73 361.30 L332.96 361.30 L333.18 361.30 L333.41 361.30 L333.64 361.30 L333.86 361.30 L334.09 361.30 L334.32 361.30 L334.54 361.30 L334.77 361.30 L334.99 361.30 L335.22 361.30 L335.45 361.30 L335.67 361.30 L335.90 361.30 L336.13 361.30 L336.35 361.30 L336.58 361.30 L336.81 361.30 L337.03 361.30 L337.26 361.30 L337.48 361.30 L337.71 361.30 L337.94 361.30 L338.16 361.30 L338.39 361.30 L338.62 361.30 L338.84 361.30 L339.07 361.30 L339.29 361.30 L339.52 361.30 L339.75 361.30 L339.97 361.30 L340.20 361.30 L340.43 361.30 L340.65 361.30 L340.88 361.30 L341.11 361.30 L341.33 361.30 L341.56 361.30 L341.78 361.30 L342.01 361.30 L342.24 361.30 L342.46 361.30 L342.69 361.30 L342.92 361.30 L343.14 361.30 L343.37 361.30 L343.59 361.30 L343.82 361.30 L344.05 361.30 L344.27 361.30 L344.50 361.30 L344.73 361.30 L344.95 361.30 L345.18 361.30 L345.41 361.30 L345.63 361.30 L345.86 361.30 L346.08 361.30 L346.31 361.30 L346.54 361.30 L346.76 361.30 L346.99 361.30 L347.22 361.30 L347.44 361.29 L347.67 361.29 L347.89 361.29 L348.12 361.29 L348.35 361.29 L348.57 361.29 L348.80 361.28 L349.03 361.28 L349.25 361.27 L349.48 361.27 L349.71 361.26 L349.93 361.25 L350.16 361.24 L350.38 361.23 L350.61 361.22 L350.84 361.20 L351.06 361.19 L351.29 361.16 L351.52 361.14 L351.74 361.11 L351.97 361.07 L352.19 361.03 L352.42 360.99 L352.65 360.93 L352.87 360.87 L353.10 360.80 L353.33 360.72 L353.55 360.62 L353.78 360.51 L354.01 360.39 L354.23 360.25 L354.46 360.09 L354.68 359.91 L354.91 359.70 L355.14 359.47 L355.36 359.22 L355.59 358.93 L355.82 358.60 L356.04 358.24 L356.27 357.84 L356.49 357.40 L356.72 356.91 L356.95 356.37 L357.17 355.78 L357.40 355.12" fill="none" stroke="#46449a" stroke-width="1.35"/>
<path d="M312.2 271.4v1.6M312.2 361.3v-1.6M267.1 316.4h1.6M357.4 316.4h-1.6" stroke="#333" stroke-width="0.6"/>
<rect x="267.1" y="271.4" width="90.3" height="89.9" fill="none" stroke="#5a5a5a" stroke-width="1"/>
<path d="M363.80 349.80 L364.03 351.74 L364.25 353.39 L364.48 354.74 L364.70 355.76 L364.93 356.44 L365.15 356.77 L365.38 356.76 L365.61 356.30 L365.83 355.40 L366.06 354.06 L366.28 352.34 L366.51 350.30 L366.74 347.99 L366.96 345.49 L367.19 342.88 L367.41 340.24 L367.64 337.67 L367.86 335.23 L368.09 333.00 L368.32 331.07 L368.54 329.48 L368.77 328.29 L368.99 327.53 L369.22 327.23 L369.45 327.40 L369.67 328.03 L369.90 329.10 L370.12 330.57 L370.35 332.40 L370.57 334.52 L370.80 336.88 L371.03 339.38 L371.25 341.96 L371.48 344.53 L371.70 347.00 L371.93 349.31 L372.16 351.37 L372.38 353.11 L372.61 354.49 L372.83 355.46 L373.06 355.99 L373.28 356.07 L373.51 355.72 L373.74 354.92 L373.96 353.71 L374.19 352.13 L374.41 350.23 L374.64 348.08 L374.86 345.75 L375.09 343.33 L375.32 340.90 L375.54 338.55 L375.77 336.36 L375.99 334.40 L376.22 332.75 L376.45 331.46 L376.67 330.59 L376.90 330.15 L377.12 330.17 L377.35 330.65 L377.57 331.57 L377.80 332.90 L378.03 334.59 L378.25 336.59 L378.48 338.82 L378.70 341.21 L378.93 343.68 L379.16 346.13 L379.38 348.49 L379.61 350.66 L379.83 352.58 L380.06 354.17 L380.28 355.39 L380.51 356.18 L380.74 356.52 L380.96 356.44 L381.19 355.94 L381.41 355.02 L381.64 353.72 L381.87 352.06 L382.09 350.08 L382.32 347.82 L382.54 345.36 L382.77 342.73 L382.99 340.02 L383.22 337.27 L383.45 334.57 L383.67 331.97 L383.90 329.55 L384.12 327.36 L384.35 325.45 L384.57 323.88 L384.80 322.68 L385.03 321.88 L385.25 321.50 L385.48 321.56 L385.70 322.06 L385.93 322.98 L386.16 324.30 L386.38 326.00 L386.61 328.03 L386.83 330.35 L387.06 332.90 L387.28 335.61 L387.51 338.43 L387.74 341.29 L387.96 344.12 L388.19 346.84 L388.41 349.40 L388.64 351.74 L388.87 353.78 L389.09 355.50 L389.32 356.83 L389.54 357.76 L389.77 358.25 L389.99 358.29 L390.22 357.95 L390.45 357.28 L390.67 356.27 L390.90 354.93 L391.12 353.28 L391.35 351.33 L391.58 349.09 L391.80 346.58 L392.03 343.82 L392.25 340.83 L392.48 337.64 L392.70 334.27 L392.93 330.75 L393.16 327.10 L393.38 323.36 L393.61 319.55 L393.83 315.70 L394.06 311.85 L394.28 308.02 L394.51 304.24 L394.74 300.55 L394.96 296.97 L395.19 293.53 L395.41 290.26 L395.64 287.18 L395.87 284.32 L396.09 281.70 L396.32 279.34 L396.54 277.26 L396.77 275.48 L396.99 274.00 L397.22 272.85 L397.45 272.03 L397.67 271.55 L397.90 271.40 L398.12 271.60 L398.35 272.14 L398.58 273.01 L398.80 274.21 L399.03 275.74 L399.25 277.57 L399.48 279.69 L399.70 282.09 L399.93 284.75 L400.16 287.65 L400.38 290.76 L400.61 294.06 L400.83 297.52 L401.06 301.12 L401.29 304.83 L401.51 308.61 L401.74 312.45 L401.96 316.30 L402.19 320.15 L402.41 323.95 L402.64 327.68 L402.87 331.31 L403.09 334.81 L403.32 338.15 L403.54 341.31 L403.77 344.27 L403.99 346.99 L404.22 349.45 L404.45 351.65 L404.67 353.56 L404.90 355.16 L405.12 356.45 L405.35 357.41 L405.58 358.03 L405.80 358.31 L406.03 358.21 L406.25 357.65 L406.48 356.66 L406.70 355.28 L406.93 353.53 L407.16 351.45 L407.38 349.10 L407.61 346.53 L407.83 343.80 L408.06 340.98 L408.29 338.14 L408.51 335.34 L408.74 332.65 L408.96 330.13 L409.19 327.85 L409.41 325.85 L409.64 324.19 L409.87 322.90 L410.09 322.01 L410.32 321.55 L410.54 321.51 L410.77 321.91 L411.00 322.72 L411.22 323.93 L411.45 325.51 L411.67 327.42 L411.90 329.61 L412.12 332.03 L412.35 334.61 L412.58 337.30 L412.80 340.03 L413.03 342.73 L413.25 345.35 L413.48 347.80 L413.71 350.05 L413.93 352.02 L414.16 353.68 L414.38 354.99 L414.61 355.91 L414.83 356.43 L415.06 356.53 L415.29 356.20 L415.51 355.40 L415.74 354.18 L415.96 352.57 L416.19 350.62 L416.41 348.41 L416.64 346.03 L416.87 343.54 L417.09 341.05 L417.32 338.64 L417.54 336.40 L417.77 334.40 L418.00 332.73 L418.22 331.43 L418.45 330.56 L418.67 330.14 L418.90 330.19 L419.12 330.71 L419.35 331.68 L419.58 333.05 L419.80 334.79 L420.03 336.83 L420.25 339.10 L420.48 341.50 L420.71 343.97 L420.93 346.40 L421.16 348.71 L421.38 350.82 L421.61 352.65 L421.83 354.14 L422.06 355.23 L422.29 355.89 L422.51 356.09 L422.74 355.85 L422.96 355.15 L423.19 354.02 L423.42 352.49 L423.64 350.61 L423.87 348.43 L424.09 346.04 L424.32 343.50 L424.54 340.91 L424.77 338.33 L425.00 335.87 L425.22 333.59 L425.45 331.57 L425.67 329.88 L425.90 328.57 L426.12 327.69 L426.35 327.27 L426.58 327.31 L426.80 327.83 L427.03 328.80 L427.25 330.19 L427.48 331.96 L427.71 334.06 L427.93 336.41 L428.16 338.94 L428.38 341.57 L428.61 344.22 L428.83 346.80 L429.06 349.22 L429.29 351.42 L429.51 353.31 L429.74 354.83 L429.96 355.95 L430.19 356.61 L430.42 356.81 L430.64 356.66 L430.87 356.20 L431.09 355.44 L431.32 354.39 L431.54 353.06 L431.77 351.47 L432.00 349.62 L432.22 347.56 L432.45 345.30 L432.67 342.86 L432.90 340.28 L433.13 337.59 L433.35 334.83 L433.58 332.02 L433.80 329.19 L434.03 326.39 L434.25 323.65 L434.48 321.00 L434.71 318.47 L434.93 316.09 L435.16 313.90 L435.38 311.92 L435.61 310.17 L435.83 308.68 L436.06 307.46 L436.29 306.53 L436.51 305.91 L436.74 305.60 L436.96 305.60 L437.19 305.92 L437.42 306.56 L437.64 307.50 L437.87 308.73 L438.09 310.25 L438.32 312.03 L438.54 314.06 L438.77 316.30 L439.00 318.74 L439.22 321.35 L439.45 324.08 L439.67 326.92 L439.90 329.83 L440.13 332.77 L440.35 335.71 L440.58 338.62 L440.80 341.45 L441.03 344.17 L441.25 346.76 L441.48 349.18 L441.71 351.40 L441.93 353.39 L442.16 355.14 L442.38 356.61 L442.61 357.80 L442.84 358.68 L443.06 359.25 L443.29 359.49 L443.51 359.31 L443.74 358.75 L443.96 357.83 L444.19 356.56 L444.42 354.96 L444.64 353.05 L444.87 350.86 L445.09 348.42 L445.32 345.76 L445.54 342.92 L445.77 339.94 L446.00 336.86 L446.22 333.72 L446.45 330.57 L446.67 327.44 L446.90 324.39 L447.13 321.45 L447.35 318.66 L447.58 316.06 L447.80 313.69 L448.03 311.57 L448.25 309.74 L448.48 308.22 L448.71 307.03 L448.93 306.18 L449.16 305.69 L449.38 305.57 L449.61 305.80 L449.84 306.39 L450.06 307.34 L450.29 308.61 L450.51 310.21 L450.74 312.10 L450.96 314.25 L451.19 316.64 L451.42 319.23 L451.64 321.99 L451.87 324.88 L452.09 327.85 L452.32 330.86 L452.55 333.88 L452.77 336.87 L453.00 339.77 L453.22 342.55 L453.45 345.17 L453.67 347.60 L453.90 349.80 L453.9 361.3 L363.8 361.3Z" fill="#e2e4f0" stroke="none"/>
<path d="M363.80 349.80 L364.03 351.74 L364.25 353.39 L364.48 354.74 L364.70 355.76 L364.93 356.44 L365.15 356.77 L365.38 356.76 L365.61 356.30 L365.83 355.40 L366.06 354.06 L366.28 352.34 L366.51 350.30 L366.74 347.99 L366.96 345.49 L367.19 342.88 L367.41 340.24 L367.64 337.67 L367.86 335.23 L368.09 333.00 L368.32 331.07 L368.54 329.48 L368.77 328.29 L368.99 327.53 L369.22 327.23 L369.45 327.40 L369.67 328.03 L369.90 329.10 L370.12 330.57 L370.35 332.40 L370.57 334.52 L370.80 336.88 L371.03 339.38 L371.25 341.96 L371.48 344.53 L371.70 347.00 L371.93 349.31 L372.16 351.37 L372.38 353.11 L372.61 354.49 L372.83 355.46 L373.06 355.99 L373.28 356.07 L373.51 355.72 L373.74 354.92 L373.96 353.71 L374.19 352.13 L374.41 350.23 L374.64 348.08 L374.86 345.75 L375.09 343.33 L375.32 340.90 L375.54 338.55 L375.77 336.36 L375.99 334.40 L376.22 332.75 L376.45 331.46 L376.67 330.59 L376.90 330.15 L377.12 330.17 L377.35 330.65 L377.57 331.57 L377.80 332.90 L378.03 334.59 L378.25 336.59 L378.48 338.82 L378.70 341.21 L378.93 343.68 L379.16 346.13 L379.38 348.49 L379.61 350.66 L379.83 352.58 L380.06 354.17 L380.28 355.39 L380.51 356.18 L380.74 356.52 L380.96 356.44 L381.19 355.94 L381.41 355.02 L381.64 353.72 L381.87 352.06 L382.09 350.08 L382.32 347.82 L382.54 345.36 L382.77 342.73 L382.99 340.02 L383.22 337.27 L383.45 334.57 L383.67 331.97 L383.90 329.55 L384.12 327.36 L384.35 325.45 L384.57 323.88 L384.80 322.68 L385.03 321.88 L385.25 321.50 L385.48 321.56 L385.70 322.06 L385.93 322.98 L386.16 324.30 L386.38 326.00 L386.61 328.03 L386.83 330.35 L387.06 332.90 L387.28 335.61 L387.51 338.43 L387.74 341.29 L387.96 344.12 L388.19 346.84 L388.41 349.40 L388.64 351.74 L388.87 353.78 L389.09 355.50 L389.32 356.83 L389.54 357.76 L389.77 358.25 L389.99 358.29 L390.22 357.95 L390.45 357.28 L390.67 356.27 L390.90 354.93 L391.12 353.28 L391.35 351.33 L391.58 349.09 L391.80 346.58 L392.03 343.82 L392.25 340.83 L392.48 337.64 L392.70 334.27 L392.93 330.75 L393.16 327.10 L393.38 323.36 L393.61 319.55 L393.83 315.70 L394.06 311.85 L394.28 308.02 L394.51 304.24 L394.74 300.55 L394.96 296.97 L395.19 293.53 L395.41 290.26 L395.64 287.18 L395.87 284.32 L396.09 281.70 L396.32 279.34 L396.54 277.26 L396.77 275.48 L396.99 274.00 L397.22 272.85 L397.45 272.03 L397.67 271.55 L397.90 271.40 L398.12 271.60 L398.35 272.14 L398.58 273.01 L398.80 274.21 L399.03 275.74 L399.25 277.57 L399.48 279.69 L399.70 282.09 L399.93 284.75 L400.16 287.65 L400.38 290.76 L400.61 294.06 L400.83 297.52 L401.06 301.12 L401.29 304.83 L401.51 308.61 L401.74 312.45 L401.96 316.30 L402.19 320.15 L402.41 323.95 L402.64 327.68 L402.87 331.31 L403.09 334.81 L403.32 338.15 L403.54 341.31 L403.77 344.27 L403.99 346.99 L404.22 349.45 L404.45 351.65 L404.67 353.56 L404.90 355.16 L405.12 356.45 L405.35 357.41 L405.58 358.03 L405.80 358.31 L406.03 358.21 L406.25 357.65 L406.48 356.66 L406.70 355.28 L406.93 353.53 L407.16 351.45 L407.38 349.10 L407.61 346.53 L407.83 343.80 L408.06 340.98 L408.29 338.14 L408.51 335.34 L408.74 332.65 L408.96 330.13 L409.19 327.85 L409.41 325.85 L409.64 324.19 L409.87 322.90 L410.09 322.01 L410.32 321.55 L410.54 321.51 L410.77 321.91 L411.00 322.72 L411.22 323.93 L411.45 325.51 L411.67 327.42 L411.90 329.61 L412.12 332.03 L412.35 334.61 L412.58 337.30 L412.80 340.03 L413.03 342.73 L413.25 345.35 L413.48 347.80 L413.71 350.05 L413.93 352.02 L414.16 353.68 L414.38 354.99 L414.61 355.91 L414.83 356.43 L415.06 356.53 L415.29 356.20 L415.51 355.40 L415.74 354.18 L415.96 352.57 L416.19 350.62 L416.41 348.41 L416.64 346.03 L416.87 343.54 L417.09 341.05 L417.32 338.64 L417.54 336.40 L417.77 334.40 L418.00 332.73 L418.22 331.43 L418.45 330.56 L418.67 330.14 L418.90 330.19 L419.12 330.71 L419.35 331.68 L419.58 333.05 L419.80 334.79 L420.03 336.83 L420.25 339.10 L420.48 341.50 L420.71 343.97 L420.93 346.40 L421.16 348.71 L421.38 350.82 L421.61 352.65 L421.83 354.14 L422.06 355.23 L422.29 355.89 L422.51 356.09 L422.74 355.85 L422.96 355.15 L423.19 354.02 L423.42 352.49 L423.64 350.61 L423.87 348.43 L424.09 346.04 L424.32 343.50 L424.54 340.91 L424.77 338.33 L425.00 335.87 L425.22 333.59 L425.45 331.57 L425.67 329.88 L425.90 328.57 L426.12 327.69 L426.35 327.27 L426.58 327.31 L426.80 327.83 L427.03 328.80 L427.25 330.19 L427.48 331.96 L427.71 334.06 L427.93 336.41 L428.16 338.94 L428.38 341.57 L428.61 344.22 L428.83 346.80 L429.06 349.22 L429.29 351.42 L429.51 353.31 L429.74 354.83 L429.96 355.95 L430.19 356.61 L430.42 356.81 L430.64 356.66 L430.87 356.20 L431.09 355.44 L431.32 354.39 L431.54 353.06 L431.77 351.47 L432.00 349.62 L432.22 347.56 L432.45 345.30 L432.67 342.86 L432.90 340.28 L433.13 337.59 L433.35 334.83 L433.58 332.02 L433.80 329.19 L434.03 326.39 L434.25 323.65 L434.48 321.00 L434.71 318.47 L434.93 316.09 L435.16 313.90 L435.38 311.92 L435.61 310.17 L435.83 308.68 L436.06 307.46 L436.29 306.53 L436.51 305.91 L436.74 305.60 L436.96 305.60 L437.19 305.92 L437.42 306.56 L437.64 307.50 L437.87 308.73 L438.09 310.25 L438.32 312.03 L438.54 314.06 L438.77 316.30 L439.00 318.74 L439.22 321.35 L439.45 324.08 L439.67 326.92 L439.90 329.83 L440.13 332.77 L440.35 335.71 L440.58 338.62 L440.80 341.45 L441.03 344.17 L441.25 346.76 L441.48 349.18 L441.71 351.40 L441.93 353.39 L442.16 355.14 L442.38 356.61 L442.61 357.80 L442.84 358.68 L443.06 359.25 L443.29 359.49 L443.51 359.31 L443.74 358.75 L443.96 357.83 L444.19 356.56 L444.42 354.96 L444.64 353.05 L444.87 350.86 L445.09 348.42 L445.32 345.76 L445.54 342.92 L445.77 339.94 L446.00 336.86 L446.22 333.72 L446.45 330.57 L446.67 327.44 L446.90 324.39 L447.13 321.45 L447.35 318.66 L447.58 316.06 L447.80 313.69 L448.03 311.57 L448.25 309.74 L448.48 308.22 L448.71 307.03 L448.93 306.18 L449.16 305.69 L449.38 305.57 L449.61 305.80 L449.84 306.39 L450.06 307.34 L450.29 308.61 L450.51 310.21 L450.74 312.10 L450.96 314.25 L451.19 316.64 L451.42 319.23 L451.64 321.99 L451.87 324.88 L452.09 327.85 L452.32 330.86 L452.55 333.88 L452.77 336.87 L453.00 339.77 L453.22 342.55 L453.45 345.17 L453.67 347.60 L453.90 349.80" fill="none" stroke="#6a78b4" stroke-width="1.35"/>
<path d="M408.9 271.4v1.6M408.9 361.3v-1.6M363.8 316.4h1.6M453.9 316.4h-1.6" stroke="#333" stroke-width="0.6"/>
<rect x="363.8" y="271.4" width="90.1" height="89.9" fill="none" stroke="#5a5a5a" stroke-width="1"/>
<path d="M267.10 457.50 L267.33 457.50 L267.55 457.50 L267.78 457.50 L268.01 457.50 L268.23 457.50 L268.46 457.50 L268.68 457.50 L268.91 457.50 L269.14 457.50 L269.36 457.50 L269.59 457.50 L269.82 457.50 L270.04 457.50 L270.27 457.50 L270.49 457.50 L270.72 457.50 L270.95 457.50 L271.17 457.50 L271.40 457.50 L271.63 457.50 L271.85 457.50 L272.08 457.50 L272.31 457.50 L272.53 457.50 L272.76 457.50 L272.98 457.50 L273.21 457.50 L273.44 457.50 L273.66 457.50 L273.89 457.50 L274.12 457.50 L274.34 457.50 L274.57 457.50 L274.79 457.50 L275.02 457.50 L275.25 457.50 L275.47 457.50 L275.70 457.50 L275.93 457.50 L276.15 457.50 L276.38 457.50 L276.61 457.50 L276.83 457.50 L277.06 457.50 L277.28 457.50 L277.51 457.50 L277.74 457.50 L277.96 457.50 L278.19 457.50 L278.42 457.50 L278.64 457.50 L278.87 457.50 L279.09 457.50 L279.32 457.50 L279.55 457.50 L279.77 457.50 L280.00 457.50 L280.23 457.50 L280.45 457.50 L280.68 457.50 L280.91 457.50 L281.13 457.50 L281.36 457.50 L281.58 457.50 L281.81 457.50 L282.04 457.50 L282.26 457.50 L282.49 457.50 L282.72 457.50 L282.94 457.50 L283.17 457.50 L283.39 457.50 L283.62 457.50 L283.85 457.50 L284.07 457.50 L284.30 457.50 L284.53 457.50 L284.75 457.50 L284.98 457.50 L285.21 457.50 L285.43 457.50 L285.66 457.50 L285.88 457.50 L286.11 457.50 L286.34 457.50 L286.56 457.50 L286.79 457.50 L287.02 457.50 L287.24 457.50 L287.47 457.50 L287.69 457.50 L287.92 457.50 L288.15 457.50 L288.37 457.50 L288.60 457.50 L288.83 457.50 L289.05 457.50 L289.28 457.50 L289.51 457.50 L289.73 457.50 L289.96 457.50 L290.18 457.50 L290.41 457.50 L290.64 457.50 L290.86 457.50 L291.09 457.50 L291.32 457.50 L291.54 457.50 L291.77 457.50 L291.99 457.50 L292.22 457.50 L292.45 457.50 L292.67 457.50 L292.90 457.50 L293.13 457.50 L293.35 457.50 L293.58 457.50 L293.81 457.50 L294.03 457.50 L294.26 457.50 L294.48 457.50 L294.71 457.50 L294.94 457.50 L295.16 457.50 L295.39 457.50 L295.62 457.50 L295.84 457.50 L296.07 457.50 L296.29 457.50 L296.52 457.50 L296.75 457.50 L296.97 457.50 L297.20 457.50 L297.43 457.50 L297.65 457.50 L297.88 457.50 L298.11 457.50 L298.33 457.50 L298.56 457.50 L298.78 457.50 L299.01 457.50 L299.24 457.50 L299.46 457.50 L299.69 457.50 L299.92 457.50 L300.14 457.50 L300.37 457.50 L300.59 457.50 L300.82 457.50 L301.05 457.50 L301.27 457.50 L301.50 457.50 L301.73 457.50 L301.95 457.50 L302.18 457.50 L302.41 457.49 L302.63 457.49 L302.86 457.49 L303.08 457.49 L303.31 457.49 L303.54 457.49 L303.76 457.48 L303.99 457.48 L304.22 457.47 L304.44 457.47 L304.67 457.46 L304.89 457.45 L305.12 457.44 L305.35 457.43 L305.57 457.42 L305.80 457.40 L306.03 457.38 L306.25 457.36 L306.48 457.34 L306.71 457.31 L306.93 457.27 L307.16 457.23 L307.38 457.18 L307.61 457.13 L307.84 457.06 L308.06 456.99 L308.29 456.91 L308.52 456.81 L308.74 456.70 L308.97 456.58 L309.19 456.43 L309.42 456.27 L309.65 456.09 L309.87 455.88 L310.10 455.65 L310.33 455.39 L310.55 455.10 L310.78 454.77 L311.01 454.41 L311.23 454.00 L311.46 453.55 L311.68 453.06 L311.91 452.51 L312.14 451.91 L312.36 451.25 L312.59 450.53 L312.82 449.75 L313.04 448.89 L313.27 447.97 L313.49 446.97 L313.72 445.88 L313.95 444.72 L314.17 443.47 L314.40 442.14 L314.63 440.72 L314.85 439.20 L315.08 437.60 L315.31 435.90 L315.53 434.12 L315.76 432.24 L315.98 430.27 L316.21 428.22 L316.44 426.09 L316.66 423.87 L316.89 421.59 L317.12 419.23 L317.34 416.81 L317.57 414.34 L317.79 411.83 L318.02 409.27 L318.25 406.69 L318.47 404.09 L318.70 401.49 L318.93 398.89 L319.15 396.32 L319.38 393.77 L319.61 391.27 L319.83 388.83 L320.06 386.47 L320.28 384.18 L320.51 382.00 L320.74 379.93 L320.96 377.98 L321.19 376.17 L321.42 374.51 L321.64 373.01 L321.87 371.67 L322.09 370.51 L322.32 369.54 L322.55 368.76 L322.77 368.18 L323.00 367.79 L323.23 367.61 L323.45 367.64 L323.68 367.87 L323.91 368.30 L324.13 368.93 L324.36 369.76 L324.58 370.78 L324.81 371.98 L325.04 373.36 L325.26 374.90 L325.49 376.60 L325.72 378.45 L325.94 380.43 L326.17 382.53 L326.39 384.73 L326.62 387.04 L326.85 389.43 L327.07 391.88 L327.30 394.39 L327.53 396.95 L327.75 399.53 L327.98 402.13 L328.21 404.73 L328.43 407.32 L328.66 409.90 L328.88 412.45 L329.11 414.95 L329.34 417.41 L329.56 419.81 L329.79 422.15 L330.02 424.42 L330.24 426.62 L330.47 428.73 L330.69 430.76 L330.92 432.71 L331.15 434.56 L331.37 436.33 L331.60 438.00 L331.83 439.58 L332.05 441.07 L332.28 442.47 L332.51 443.79 L332.73 445.01 L332.96 446.16 L333.18 447.22 L333.41 448.20 L333.64 449.11 L333.86 449.95 L334.09 450.72 L334.32 451.42 L334.54 452.07 L334.77 452.65 L334.99 453.18 L335.22 453.67 L335.45 454.11 L335.67 454.50 L335.90 454.85 L336.13 455.17 L336.35 455.46 L336.58 455.71 L336.81 455.93 L337.03 456.14 L337.26 456.31 L337.48 456.47 L337.71 456.61 L337.94 456.73 L338.16 456.84 L338.39 456.93 L338.62 457.01 L338.84 457.08 L339.07 457.14 L339.29 457.19 L339.52 457.24 L339.75 457.28 L339.97 457.31 L340.20 457.34 L340.43 457.37 L340.65 457.39 L340.88 457.41 L341.11 457.42 L341.33 457.43 L341.56 457.45 L341.78 457.45 L342.01 457.46 L342.24 457.47 L342.46 457.47 L342.69 457.48 L342.92 457.48 L343.14 457.49 L343.37 457.49 L343.59 457.49 L343.82 457.49 L344.05 457.49 L344.27 457.49 L344.50 457.50 L344.73 457.50 L344.95 457.50 L345.18 457.50 L345.41 457.50 L345.63 457.50 L345.86 457.50 L346.08 457.50 L346.31 457.50 L346.54 457.50 L346.76 457.50 L346.99 457.50 L347.22 457.50 L347.44 457.50 L347.67 457.50 L347.89 457.50 L348.12 457.50 L348.35 457.50 L348.57 457.50 L348.80 457.50 L349.03 457.50 L349.25 457.50 L349.48 457.50 L349.71 457.50 L349.93 457.50 L350.16 457.50 L350.38 457.50 L350.61 457.50 L350.84 457.50 L351.06 457.50 L351.29 457.50 L351.52 457.50 L351.74 457.50 L351.97 457.50 L352.19 457.50 L352.42 457.50 L352.65 457.50 L352.87 457.50 L353.10 457.50 L353.33 457.50 L353.55 457.50 L353.78 457.50 L354.01 457.50 L354.23 457.50 L354.46 457.50 L354.68 457.50 L354.91 457.50 L355.14 457.50 L355.36 457.50 L355.59 457.50 L355.82 457.50 L356.04 457.50 L356.27 457.50 L356.49 457.50 L356.72 457.50 L356.95 457.50 L357.17 457.50 L357.40 457.50 L357.4 457.5 L267.1 457.5Z" fill="#e6d9e3" stroke="none"/>
<path d="M267.10 457.50 L267.33 457.50 L267.55 457.50 L267.78 457.50 L268.01 457.50 L268.23 457.50 L268.46 457.50 L268.68 457.50 L268.91 457.50 L269.14 457.50 L269.36 457.50 L269.59 457.50 L269.82 457.50 L270.04 457.50 L270.27 457.50 L270.49 457.50 L270.72 457.50 L270.95 457.50 L271.17 457.50 L271.40 457.50 L271.63 457.50 L271.85 457.50 L272.08 457.50 L272.31 457.50 L272.53 457.50 L272.76 457.50 L272.98 457.50 L273.21 457.50 L273.44 457.50 L273.66 457.50 L273.89 457.50 L274.12 457.50 L274.34 457.50 L274.57 457.50 L274.79 457.50 L275.02 457.50 L275.25 457.50 L275.47 457.50 L275.70 457.50 L275.93 457.50 L276.15 457.50 L276.38 457.50 L276.61 457.50 L276.83 457.50 L277.06 457.50 L277.28 457.50 L277.51 457.50 L277.74 457.50 L277.96 457.50 L278.19 457.50 L278.42 457.50 L278.64 457.50 L278.87 457.50 L279.09 457.50 L279.32 457.50 L279.55 457.50 L279.77 457.50 L280.00 457.50 L280.23 457.50 L280.45 457.50 L280.68 457.50 L280.91 457.50 L281.13 457.50 L281.36 457.50 L281.58 457.50 L281.81 457.50 L282.04 457.50 L282.26 457.50 L282.49 457.50 L282.72 457.50 L282.94 457.50 L283.17 457.50 L283.39 457.50 L283.62 457.50 L283.85 457.50 L284.07 457.50 L284.30 457.50 L284.53 457.50 L284.75 457.50 L284.98 457.50 L285.21 457.50 L285.43 457.50 L285.66 457.50 L285.88 457.50 L286.11 457.50 L286.34 457.50 L286.56 457.50 L286.79 457.50 L287.02 457.50 L287.24 457.50 L287.47 457.50 L287.69 457.50 L287.92 457.50 L288.15 457.50 L288.37 457.50 L288.60 457.50 L288.83 457.50 L289.05 457.50 L289.28 457.50 L289.51 457.50 L289.73 457.50 L289.96 457.50 L290.18 457.50 L290.41 457.50 L290.64 457.50 L290.86 457.50 L291.09 457.50 L291.32 457.50 L291.54 457.50 L291.77 457.50 L291.99 457.50 L292.22 457.50 L292.45 457.50 L292.67 457.50 L292.90 457.50 L293.13 457.50 L293.35 457.50 L293.58 457.50 L293.81 457.50 L294.03 457.50 L294.26 457.50 L294.48 457.50 L294.71 457.50 L294.94 457.50 L295.16 457.50 L295.39 457.50 L295.62 457.50 L295.84 457.50 L296.07 457.50 L296.29 457.50 L296.52 457.50 L296.75 457.50 L296.97 457.50 L297.20 457.50 L297.43 457.50 L297.65 457.50 L297.88 457.50 L298.11 457.50 L298.33 457.50 L298.56 457.50 L298.78 457.50 L299.01 457.50 L299.24 457.50 L299.46 457.50 L299.69 457.50 L299.92 457.50 L300.14 457.50 L300.37 457.50 L300.59 457.50 L300.82 457.50 L301.05 457.50 L301.27 457.50 L301.50 457.50 L301.73 457.50 L301.95 457.50 L302.18 457.50 L302.41 457.49 L302.63 457.49 L302.86 457.49 L303.08 457.49 L303.31 457.49 L303.54 457.49 L303.76 457.48 L303.99 457.48 L304.22 457.47 L304.44 457.47 L304.67 457.46 L304.89 457.45 L305.12 457.44 L305.35 457.43 L305.57 457.42 L305.80 457.40 L306.03 457.38 L306.25 457.36 L306.48 457.34 L306.71 457.31 L306.93 457.27 L307.16 457.23 L307.38 457.18 L307.61 457.13 L307.84 457.06 L308.06 456.99 L308.29 456.91 L308.52 456.81 L308.74 456.70 L308.97 456.58 L309.19 456.43 L309.42 456.27 L309.65 456.09 L309.87 455.88 L310.10 455.65 L310.33 455.39 L310.55 455.10 L310.78 454.77 L311.01 454.41 L311.23 454.00 L311.46 453.55 L311.68 453.06 L311.91 452.51 L312.14 451.91 L312.36 451.25 L312.59 450.53 L312.82 449.75 L313.04 448.89 L313.27 447.97 L313.49 446.97 L313.72 445.88 L313.95 444.72 L314.17 443.47 L314.40 442.14 L314.63 440.72 L314.85 439.20 L315.08 437.60 L315.31 435.90 L315.53 434.12 L315.76 432.24 L315.98 430.27 L316.21 428.22 L316.44 426.09 L316.66 423.87 L316.89 421.59 L317.12 419.23 L317.34 416.81 L317.57 414.34 L317.79 411.83 L318.02 409.27 L318.25 406.69 L318.47 404.09 L318.70 401.49 L318.93 398.89 L319.15 396.32 L319.38 393.77 L319.61 391.27 L319.83 388.83 L320.06 386.47 L320.28 384.18 L320.51 382.00 L320.74 379.93 L320.96 377.98 L321.19 376.17 L321.42 374.51 L321.64 373.01 L321.87 371.67 L322.09 370.51 L322.32 369.54 L322.55 368.76 L322.77 368.18 L323.00 367.79 L323.23 367.61 L323.45 367.64 L323.68 367.87 L323.91 368.30 L324.13 368.93 L324.36 369.76 L324.58 370.78 L324.81 371.98 L325.04 373.36 L325.26 374.90 L325.49 376.60 L325.72 378.45 L325.94 380.43 L326.17 382.53 L326.39 384.73 L326.62 387.04 L326.85 389.43 L327.07 391.88 L327.30 394.39 L327.53 396.95 L327.75 399.53 L327.98 402.13 L328.21 404.73 L328.43 407.32 L328.66 409.90 L328.88 412.45 L329.11 414.95 L329.34 417.41 L329.56 419.81 L329.79 422.15 L330.02 424.42 L330.24 426.62 L330.47 428.73 L330.69 430.76 L330.92 432.71 L331.15 434.56 L331.37 436.33 L331.60 438.00 L331.83 439.58 L332.05 441.07 L332.28 442.47 L332.51 443.79 L332.73 445.01 L332.96 446.16 L333.18 447.22 L333.41 448.20 L333.64 449.11 L333.86 449.95 L334.09 450.72 L334.32 451.42 L334.54 452.07 L334.77 452.65 L334.99 453.18 L335.22 453.67 L335.45 454.11 L335.67 454.50 L335.90 454.85 L336.13 455.17 L336.35 455.46 L336.58 455.71 L336.81 455.93 L337.03 456.14 L337.26 456.31 L337.48 456.47 L337.71 456.61 L337.94 456.73 L338.16 456.84 L338.39 456.93 L338.62 457.01 L338.84 457.08 L339.07 457.14 L339.29 457.19 L339.52 457.24 L339.75 457.28 L339.97 457.31 L340.20 457.34 L340.43 457.37 L340.65 457.39 L340.88 457.41 L341.11 457.42 L341.33 457.43 L341.56 457.45 L341.78 457.45 L342.01 457.46 L342.24 457.47 L342.46 457.47 L342.69 457.48 L342.92 457.48 L343.14 457.49 L343.37 457.49 L343.59 457.49 L343.82 457.49 L344.05 457.49 L344.27 457.49 L344.50 457.50 L344.73 457.50 L344.95 457.50 L345.18 457.50 L345.41 457.50 L345.63 457.50 L345.86 457.50 L346.08 457.50 L346.31 457.50 L346.54 457.50 L346.76 457.50 L346.99 457.50 L347.22 457.50 L347.44 457.50 L347.67 457.50 L347.89 457.50 L348.12 457.50 L348.35 457.50 L348.57 457.50 L348.80 457.50 L349.03 457.50 L349.25 457.50 L349.48 457.50 L349.71 457.50 L349.93 457.50 L350.16 457.50 L350.38 457.50 L350.61 457.50 L350.84 457.50 L351.06 457.50 L351.29 457.50 L351.52 457.50 L351.74 457.50 L351.97 457.50 L352.19 457.50 L352.42 457.50 L352.65 457.50 L352.87 457.50 L353.10 457.50 L353.33 457.50 L353.55 457.50 L353.78 457.50 L354.01 457.50 L354.23 457.50 L354.46 457.50 L354.68 457.50 L354.91 457.50 L355.14 457.50 L355.36 457.50 L355.59 457.50 L355.82 457.50 L356.04 457.50 L356.27 457.50 L356.49 457.50 L356.72 457.50 L356.95 457.50 L357.17 457.50 L357.40 457.50" fill="none" stroke="#7e3274" stroke-width="1.35"/>
<path d="M312.2 367.6v1.6M312.2 457.5v-1.6M267.1 412.6h1.6M357.4 412.6h-1.6" stroke="#333" stroke-width="0.6"/>
<rect x="267.1" y="367.6" width="90.3" height="89.9" fill="none" stroke="#5a5a5a" stroke-width="1"/>
<path d="M363.80 421.56 L364.03 420.00 L364.25 418.86 L364.48 418.17 L364.70 417.94 L364.93 418.18 L365.15 418.88 L365.38 420.01 L365.61 421.56 L365.83 423.46 L366.06 425.69 L366.28 428.17 L366.51 430.84 L366.74 433.64 L366.96 436.48 L367.19 439.30 L367.41 442.01 L367.64 444.56 L367.86 446.88 L368.09 448.90 L368.32 450.57 L368.54 451.86 L368.77 452.72 L368.99 453.15 L369.22 453.14 L369.45 452.77 L369.67 452.01 L369.90 450.89 L370.12 449.44 L370.35 447.71 L370.57 445.76 L370.80 443.63 L371.03 441.40 L371.25 439.12 L371.48 436.88 L371.70 434.73 L371.93 432.75 L372.16 430.99 L372.38 429.50 L372.61 428.34 L372.83 427.52 L373.06 427.09 L373.28 427.06 L373.51 427.41 L373.74 428.15 L373.96 429.25 L374.19 430.68 L374.41 432.39 L374.64 434.34 L374.86 436.46 L375.09 438.69 L375.32 440.96 L375.54 443.21 L375.77 445.36 L375.99 447.36 L376.22 449.13 L376.45 450.63 L376.67 451.82 L376.90 452.65 L377.12 453.10 L377.35 453.17 L377.57 452.79 L377.80 451.96 L378.03 450.69 L378.25 449.03 L378.48 447.02 L378.70 444.74 L378.93 442.26 L379.16 439.66 L379.38 437.01 L379.61 434.42 L379.83 431.96 L380.06 429.71 L380.28 427.75 L380.51 426.14 L380.74 424.93 L380.96 424.17 L381.19 423.88 L381.41 424.07 L381.64 424.74 L381.87 425.86 L382.09 427.40 L382.32 429.32 L382.54 431.54 L382.77 434.01 L382.99 436.64 L383.22 439.35 L383.45 442.05 L383.67 444.65 L383.90 447.07 L384.12 449.24 L384.35 451.07 L384.57 452.52 L384.80 453.53 L385.03 454.08 L385.25 454.16 L385.48 453.87 L385.70 453.23 L385.93 452.26 L386.16 450.97 L386.38 449.37 L386.61 447.49 L386.83 445.35 L387.06 442.98 L387.28 440.41 L387.51 437.67 L387.74 434.80 L387.96 431.84 L388.19 428.83 L388.41 425.81 L388.64 422.82 L388.87 419.90 L389.09 417.09 L389.32 414.42 L389.54 411.94 L389.77 409.67 L389.99 407.64 L390.22 405.89 L390.45 404.44 L390.67 403.31 L390.90 402.51 L391.12 402.05 L391.35 401.95 L391.58 402.20 L391.80 402.80 L392.03 403.74 L392.25 405.02 L392.48 406.61 L392.70 408.49 L392.93 410.65 L393.16 413.05 L393.38 415.66 L393.61 418.45 L393.83 421.37 L394.06 424.40 L394.28 427.49 L394.51 430.60 L394.74 433.69 L394.96 436.72 L395.19 439.65 L395.41 442.43 L395.64 445.04 L395.87 447.44 L396.09 449.60 L396.32 451.48 L396.54 453.06 L396.77 454.33 L396.99 455.26 L397.22 455.84 L397.45 456.06 L397.67 455.86 L397.90 455.31 L398.12 454.41 L398.35 453.18 L398.58 451.63 L398.80 449.79 L399.03 447.68 L399.25 445.32 L399.48 442.75 L399.70 440.00 L399.93 437.11 L400.16 434.12 L400.38 431.06 L400.61 427.97 L400.83 424.90 L401.06 421.88 L401.29 418.95 L401.51 416.16 L401.74 413.53 L401.96 411.11 L402.19 408.92 L402.41 406.99 L402.64 405.34 L402.87 404.00 L403.09 402.99 L403.32 402.31 L403.54 401.98 L403.77 401.99 L403.99 402.36 L404.22 403.06 L404.45 404.09 L404.67 405.45 L404.90 407.10 L405.12 409.03 L405.35 411.21 L405.58 413.62 L405.80 416.21 L406.03 418.96 L406.25 421.83 L406.48 424.78 L406.70 427.77 L406.93 430.77 L407.16 433.73 L407.38 436.61 L407.61 439.38 L407.83 442.00 L408.06 444.44 L408.29 446.66 L408.51 448.64 L408.74 450.34 L408.96 451.75 L409.19 452.85 L409.41 453.63 L409.64 454.07 L409.87 454.17 L410.09 453.86 L410.32 453.12 L410.54 451.95 L410.77 450.40 L411.00 448.51 L411.22 446.34 L411.45 443.95 L411.67 441.42 L411.90 438.81 L412.12 436.22 L412.35 433.70 L412.58 431.35 L412.80 429.23 L413.03 427.39 L413.25 425.90 L413.48 424.80 L413.71 424.12 L413.93 423.88 L414.16 424.08 L414.38 424.72 L414.61 425.78 L414.83 427.22 L415.06 429.01 L415.29 431.08 L415.51 433.37 L415.74 435.82 L415.96 438.35 L416.19 440.88 L416.41 443.34 L416.64 445.66 L416.87 447.76 L417.09 449.59 L417.32 451.08 L417.54 452.20 L417.77 452.90 L418.00 453.18 L418.22 453.05 L418.45 452.50 L418.67 451.56 L418.90 450.24 L419.12 448.60 L419.35 446.68 L419.58 444.55 L419.80 442.27 L420.03 439.93 L420.25 437.59 L420.48 435.33 L420.71 433.23 L420.93 431.35 L421.16 429.75 L421.38 428.49 L421.61 427.60 L421.83 427.11 L422.06 427.05 L422.29 427.41 L422.51 428.17 L422.74 429.32 L422.96 430.82 L423.19 432.62 L423.42 434.67 L423.64 436.88 L423.87 439.20 L424.09 441.56 L424.32 443.86 L424.54 446.04 L424.77 448.03 L425.00 449.77 L425.22 451.19 L425.45 452.25 L425.67 452.92 L425.90 453.18 L426.12 453.05 L426.35 452.51 L426.58 451.57 L426.80 450.24 L427.03 448.57 L427.25 446.58 L427.48 444.33 L427.71 441.86 L427.93 439.25 L428.16 436.54 L428.38 433.82 L428.61 431.13 L428.83 428.55 L429.06 426.13 L429.29 423.94 L429.51 422.03 L429.74 420.44 L429.96 419.22 L430.19 418.40 L430.42 417.99 L430.64 418.01 L430.87 418.45 L431.09 419.32 L431.32 420.58 L431.54 422.22 L431.77 424.18 L432.00 426.44 L432.22 428.93 L432.45 431.60 L432.67 434.38 L432.90 437.21 L433.13 440.02 L433.35 442.75 L433.58 445.32 L433.80 447.69 L434.03 449.79 L434.25 451.57 L434.48 452.99 L434.71 454.02 L434.93 454.63 L435.16 454.80 L435.38 454.54 L435.61 453.91 L435.83 452.92 L436.06 451.56 L436.29 449.86 L436.51 447.82 L436.74 445.46 L436.96 442.81 L437.19 439.89 L437.42 436.72 L437.64 433.33 L437.87 429.75 L438.09 426.00 L438.32 422.13 L438.54 418.17 L438.77 414.15 L439.00 410.10 L439.22 406.06 L439.45 402.06 L439.67 398.14 L439.90 394.34 L440.13 390.68 L440.35 387.20 L440.58 383.92 L440.80 380.88 L441.03 378.10 L441.25 375.61 L441.48 373.43 L441.71 371.57 L441.93 370.05 L442.16 368.89 L442.38 368.10 L442.61 367.67 L442.84 367.63 L443.06 367.96 L443.29 368.66 L443.51 369.73 L443.74 371.16 L443.96 372.94 L444.19 375.05 L444.42 377.47 L444.64 380.18 L444.87 383.16 L445.09 386.39 L445.32 389.83 L445.54 393.46 L445.77 397.24 L446.00 401.14 L446.22 405.13 L446.45 409.18 L446.67 413.24 L446.90 417.29 L447.13 421.29 L447.35 425.20 L447.58 428.99 L447.80 432.63 L448.03 436.09 L448.25 439.34 L448.48 442.34 L448.71 445.08 L448.93 447.53 L449.16 449.66 L449.38 451.47 L449.61 452.93 L449.84 454.03 L450.06 454.76 L450.29 455.12 L450.51 455.06 L450.74 454.50 L450.96 453.48 L451.19 452.03 L451.42 450.18 L451.64 447.99 L451.87 445.50 L452.09 442.78 L452.32 439.90 L452.55 436.94 L452.77 433.98 L453.00 431.08 L453.22 428.32 L453.45 425.77 L453.67 423.50 L453.90 421.56 L453.9 457.5 L363.8 457.5Z" fill="#faedd3" stroke="none"/>
<path d="M363.80 421.56 L364.03 420.00 L364.25 418.86 L364.48 418.17 L364.70 417.94 L364.93 418.18 L365.15 418.88 L365.38 420.01 L365.61 421.56 L365.83 423.46 L366.06 425.69 L366.28 428.17 L366.51 430.84 L366.74 433.64 L366.96 436.48 L367.19 439.30 L367.41 442.01 L367.64 444.56 L367.86 446.88 L368.09 448.90 L368.32 450.57 L368.54 451.86 L368.77 452.72 L368.99 453.15 L369.22 453.14 L369.45 452.77 L369.67 452.01 L369.90 450.89 L370.12 449.44 L370.35 447.71 L370.57 445.76 L370.80 443.63 L371.03 441.40 L371.25 439.12 L371.48 436.88 L371.70 434.73 L371.93 432.75 L372.16 430.99 L372.38 429.50 L372.61 428.34 L372.83 427.52 L373.06 427.09 L373.28 427.06 L373.51 427.41 L373.74 428.15 L373.96 429.25 L374.19 430.68 L374.41 432.39 L374.64 434.34 L374.86 436.46 L375.09 438.69 L375.32 440.96 L375.54 443.21 L375.77 445.36 L375.99 447.36 L376.22 449.13 L376.45 450.63 L376.67 451.82 L376.90 452.65 L377.12 453.10 L377.35 453.17 L377.57 452.79 L377.80 451.96 L378.03 450.69 L378.25 449.03 L378.48 447.02 L378.70 444.74 L378.93 442.26 L379.16 439.66 L379.38 437.01 L379.61 434.42 L379.83 431.96 L380.06 429.71 L380.28 427.75 L380.51 426.14 L380.74 424.93 L380.96 424.17 L381.19 423.88 L381.41 424.07 L381.64 424.74 L381.87 425.86 L382.09 427.40 L382.32 429.32 L382.54 431.54 L382.77 434.01 L382.99 436.64 L383.22 439.35 L383.45 442.05 L383.67 444.65 L383.90 447.07 L384.12 449.24 L384.35 451.07 L384.57 452.52 L384.80 453.53 L385.03 454.08 L385.25 454.16 L385.48 453.87 L385.70 453.23 L385.93 452.26 L386.16 450.97 L386.38 449.37 L386.61 447.49 L386.83 445.35 L387.06 442.98 L387.28 440.41 L387.51 437.67 L387.74 434.80 L387.96 431.84 L388.19 428.83 L388.41 425.81 L388.64 422.82 L388.87 419.90 L389.09 417.09 L389.32 414.42 L389.54 411.94 L389.77 409.67 L389.99 407.64 L390.22 405.89 L390.45 404.44 L390.67 403.31 L390.90 402.51 L391.12 402.05 L391.35 401.95 L391.58 402.20 L391.80 402.80 L392.03 403.74 L392.25 405.02 L392.48 406.61 L392.70 408.49 L392.93 410.65 L393.16 413.05 L393.38 415.66 L393.61 418.45 L393.83 421.37 L394.06 424.40 L394.28 427.49 L394.51 430.60 L394.74 433.69 L394.96 436.72 L395.19 439.65 L395.41 442.43 L395.64 445.04 L395.87 447.44 L396.09 449.60 L396.32 451.48 L396.54 453.06 L396.77 454.33 L396.99 455.26 L397.22 455.84 L397.45 456.06 L397.67 455.86 L397.90 455.31 L398.12 454.41 L398.35 453.18 L398.58 451.63 L398.80 449.79 L399.03 447.68 L399.25 445.32 L399.48 442.75 L399.70 440.00 L399.93 437.11 L400.16 434.12 L400.38 431.06 L400.61 427.97 L400.83 424.90 L401.06 421.88 L401.29 418.95 L401.51 416.16 L401.74 413.53 L401.96 411.11 L402.19 408.92 L402.41 406.99 L402.64 405.34 L402.87 404.00 L403.09 402.99 L403.32 402.31 L403.54 401.98 L403.77 401.99 L403.99 402.36 L404.22 403.06 L404.45 404.09 L404.67 405.45 L404.90 407.10 L405.12 409.03 L405.35 411.21 L405.58 413.62 L405.80 416.21 L406.03 418.96 L406.25 421.83 L406.48 424.78 L406.70 427.77 L406.93 430.77 L407.16 433.73 L407.38 436.61 L407.61 439.38 L407.83 442.00 L408.06 444.44 L408.29 446.66 L408.51 448.64 L408.74 450.34 L408.96 451.75 L409.19 452.85 L409.41 453.63 L409.64 454.07 L409.87 454.17 L410.09 453.86 L410.32 453.12 L410.54 451.95 L410.77 450.40 L411.00 448.51 L411.22 446.34 L411.45 443.95 L411.67 441.42 L411.90 438.81 L412.12 436.22 L412.35 433.70 L412.58 431.35 L412.80 429.23 L413.03 427.39 L413.25 425.90 L413.48 424.80 L413.71 424.12 L413.93 423.88 L414.16 424.08 L414.38 424.72 L414.61 425.78 L414.83 427.22 L415.06 429.01 L415.29 431.08 L415.51 433.37 L415.74 435.82 L415.96 438.35 L416.19 440.88 L416.41 443.34 L416.64 445.66 L416.87 447.76 L417.09 449.59 L417.32 451.08 L417.54 452.20 L417.77 452.90 L418.00 453.18 L418.22 453.05 L418.45 452.50 L418.67 451.56 L418.90 450.24 L419.12 448.60 L419.35 446.68 L419.58 444.55 L419.80 442.27 L420.03 439.93 L420.25 437.59 L420.48 435.33 L420.71 433.23 L420.93 431.35 L421.16 429.75 L421.38 428.49 L421.61 427.60 L421.83 427.11 L422.06 427.05 L422.29 427.41 L422.51 428.17 L422.74 429.32 L422.96 430.82 L423.19 432.62 L423.42 434.67 L423.64 436.88 L423.87 439.20 L424.09 441.56 L424.32 443.86 L424.54 446.04 L424.77 448.03 L425.00 449.77 L425.22 451.19 L425.45 452.25 L425.67 452.92 L425.90 453.18 L426.12 453.05 L426.35 452.51 L426.58 451.57 L426.80 450.24 L427.03 448.57 L427.25 446.58 L427.48 444.33 L427.71 441.86 L427.93 439.25 L428.16 436.54 L428.38 433.82 L428.61 431.13 L428.83 428.55 L429.06 426.13 L429.29 423.94 L429.51 422.03 L429.74 420.44 L429.96 419.22 L430.19 418.40 L430.42 417.99 L430.64 418.01 L430.87 418.45 L431.09 419.32 L431.32 420.58 L431.54 422.22 L431.77 424.18 L432.00 426.44 L432.22 428.93 L432.45 431.60 L432.67 434.38 L432.90 437.21 L433.13 440.02 L433.35 442.75 L433.58 445.32 L433.80 447.69 L434.03 449.79 L434.25 451.57 L434.48 452.99 L434.71 454.02 L434.93 454.63 L435.16 454.80 L435.38 454.54 L435.61 453.91 L435.83 452.92 L436.06 451.56 L436.29 449.86 L436.51 447.82 L436.74 445.46 L436.96 442.81 L437.19 439.89 L437.42 436.72 L437.64 433.33 L437.87 429.75 L438.09 426.00 L438.32 422.13 L438.54 418.17 L438.77 414.15 L439.00 410.10 L439.22 406.06 L439.45 402.06 L439.67 398.14 L439.90 394.34 L440.13 390.68 L440.35 387.20 L440.58 383.92 L440.80 380.88 L441.03 378.10 L441.25 375.61 L441.48 373.43 L441.71 371.57 L441.93 370.05 L442.16 368.89 L442.38 368.10 L442.61 367.67 L442.84 367.63 L443.06 367.96 L443.29 368.66 L443.51 369.73 L443.74 371.16 L443.96 372.94 L444.19 375.05 L444.42 377.47 L444.64 380.18 L444.87 383.16 L445.09 386.39 L445.32 389.83 L445.54 393.46 L445.77 397.24 L446.00 401.14 L446.22 405.13 L446.45 409.18 L446.67 413.24 L446.90 417.29 L447.13 421.29 L447.35 425.20 L447.58 428.99 L447.80 432.63 L448.03 436.09 L448.25 439.34 L448.48 442.34 L448.71 445.08 L448.93 447.53 L449.16 449.66 L449.38 451.47 L449.61 452.93 L449.84 454.03 L450.06 454.76 L450.29 455.12 L450.51 455.06 L450.74 454.50 L450.96 453.48 L451.19 452.03 L451.42 450.18 L451.64 447.99 L451.87 445.50 L452.09 442.78 L452.32 439.90 L452.55 436.94 L452.77 433.98 L453.00 431.08 L453.22 428.32 L453.45 425.77 L453.67 423.50 L453.90 421.56" fill="none" stroke="#e0a232" stroke-width="1.35"/>
<path d="M408.9 367.6v1.6M408.9 457.5v-1.6M363.8 412.6h1.6M453.9 412.6h-1.6" stroke="#333" stroke-width="0.6"/>
<rect x="363.8" y="367.6" width="90.1" height="89.9" fill="none" stroke="#5a5a5a" stroke-width="1"/>
<text x="260.5" y="275.7" text-anchor="end" font-size="12.5" fill="#0a0a0a">1</text>
<text x="261.5" y="357.2" text-anchor="end" font-size="12.5" fill="#0a0a0a">0</text>
<text x="260.5" y="374" text-anchor="end" font-size="12.5" fill="#0a0a0a">1</text>
<text x="261.5" y="453.8" text-anchor="end" font-size="12.5" fill="#0a0a0a">0</text>
<text x="271.1" y="471.9" text-anchor="middle" font-size="12.5" fill="#0a0a0a">0</text>
<text x="354.2" y="471.9" text-anchor="middle" font-size="12.5" fill="#0a0a0a">2</text>
<text x="365.7" y="471.9" text-anchor="middle" font-size="12.5" fill="#0a0a0a">0</text>
<text x="452" y="471.9" text-anchor="middle" font-size="12.5" fill="#0a0a0a">2</text>
<text x="361.1" y="484.2" text-anchor="middle" font-size="12.5" fill="#0a0a0a"><tspan font-style="italic">&#952;</tspan> (&#960;)</text>
<text transform="translate(241 363.75) rotate(-90)" text-anchor="middle" font-size="12.4" fill="#0a0a0a">Energy Density</text>
<path d="M496.30 357.65 L496.53 357.13 L496.75 356.55 L496.98 355.90 L497.20 355.19 L497.43 354.39 L497.65 353.51 L497.88 352.55 L498.10 351.50 L498.33 350.35 L498.56 349.10 L498.78 347.75 L499.01 346.29 L499.23 344.72 L499.46 343.04 L499.68 341.24 L499.91 339.33 L500.13 337.31 L500.36 335.17 L500.59 332.93 L500.81 330.58 L501.04 328.13 L501.26 325.58 L501.49 322.96 L501.71 320.25 L501.94 317.48 L502.16 314.65 L502.39 311.78 L502.62 308.89 L502.84 305.98 L503.07 303.08 L503.29 300.20 L503.52 297.36 L503.74 294.58 L503.97 291.87 L504.19 289.26 L504.42 286.76 L504.65 284.40 L504.87 282.19 L505.10 280.14 L505.32 278.28 L505.55 276.61 L505.77 275.16 L506.00 273.93 L506.22 272.94 L506.45 272.18 L506.68 271.68 L506.90 271.43 L507.13 271.43 L507.35 271.69 L507.58 272.21 L507.80 272.97 L508.03 273.97 L508.25 275.21 L508.48 276.67 L508.71 278.34 L508.93 280.21 L509.16 282.27 L509.38 284.49 L509.61 286.86 L509.83 289.36 L510.06 291.97 L510.28 294.68 L510.51 297.47 L510.74 300.31 L510.96 303.19 L511.19 306.09 L511.41 309.00 L511.64 311.89 L511.86 314.76 L512.09 317.58 L512.32 320.35 L512.54 323.06 L512.77 325.68 L512.99 328.22 L513.22 330.67 L513.44 333.02 L513.67 335.26 L513.89 337.39 L514.12 339.41 L514.35 341.31 L514.57 343.10 L514.80 344.78 L515.02 346.35 L515.25 347.80 L515.47 349.15 L515.70 350.40 L515.92 351.54 L516.15 352.59 L516.38 353.55 L516.60 354.42 L516.83 355.21 L517.05 355.93 L517.28 356.58 L517.50 357.15 L517.73 357.67 L517.95 358.14 L518.18 358.55 L518.41 358.91 L518.63 359.24 L518.86 359.52 L519.08 359.77 L519.31 359.99 L519.53 360.18 L519.76 360.34 L519.98 360.49 L520.21 360.61 L520.44 360.72 L520.66 360.81 L520.89 360.89 L521.11 360.95 L521.34 361.01 L521.56 361.06 L521.79 361.10 L522.01 361.13 L522.24 361.16 L522.47 361.19 L522.69 361.21 L522.92 361.22 L523.14 361.24 L523.37 361.25 L523.59 361.26 L523.82 361.27 L524.04 361.27 L524.27 361.28 L524.50 361.28 L524.72 361.29 L524.95 361.29 L525.17 361.29 L525.40 361.29 L525.62 361.29 L525.85 361.30 L526.07 361.30 L526.30 361.30 L526.53 361.30 L526.75 361.30 L526.98 361.30 L527.20 361.30 L527.43 361.30 L527.65 361.30 L527.88 361.30 L528.10 361.30 L528.33 361.30 L528.56 361.30 L528.78 361.30 L529.01 361.30 L529.23 361.30 L529.46 361.30 L529.68 361.30 L529.91 361.30 L530.13 361.30 L530.36 361.30 L530.59 361.30 L530.81 361.30 L531.04 361.30 L531.26 361.30 L531.49 361.30 L531.71 361.30 L531.94 361.30 L532.16 361.30 L532.39 361.30 L532.62 361.30 L532.84 361.30 L533.07 361.30 L533.29 361.30 L533.52 361.30 L533.74 361.30 L533.97 361.30 L534.19 361.30 L534.42 361.30 L534.65 361.30 L534.87 361.30 L535.10 361.30 L535.32 361.30 L535.55 361.30 L535.77 361.30 L536.00 361.30 L536.22 361.30 L536.45 361.30 L536.68 361.30 L536.90 361.30 L537.13 361.30 L537.35 361.30 L537.58 361.30 L537.80 361.30 L538.03 361.30 L538.25 361.30 L538.48 361.30 L538.71 361.30 L538.93 361.30 L539.16 361.30 L539.38 361.30 L539.61 361.30 L539.83 361.30 L540.06 361.30 L540.28 361.30 L540.51 361.30 L540.74 361.30 L540.96 361.30 L541.19 361.30 L541.41 361.30 L541.64 361.30 L541.86 361.30 L542.09 361.30 L542.32 361.30 L542.54 361.30 L542.77 361.30 L542.99 361.30 L543.22 361.30 L543.44 361.30 L543.67 361.30 L543.89 361.30 L544.12 361.30 L544.35 361.30 L544.57 361.30 L544.80 361.30 L545.02 361.30 L545.25 361.30 L545.47 361.30 L545.70 361.30 L545.92 361.30 L546.15 361.30 L546.38 361.30 L546.60 361.30 L546.83 361.30 L547.05 361.30 L547.28 361.30 L547.50 361.30 L547.73 361.30 L547.95 361.30 L548.18 361.30 L548.41 361.30 L548.63 361.30 L548.86 361.30 L549.08 361.30 L549.31 361.30 L549.53 361.30 L549.76 361.30 L549.98 361.30 L550.21 361.30 L550.44 361.30 L550.66 361.30 L550.89 361.30 L551.11 361.30 L551.34 361.30 L551.56 361.30 L551.79 361.30 L552.01 361.30 L552.24 361.30 L552.47 361.30 L552.69 361.30 L552.92 361.30 L553.14 361.30 L553.37 361.30 L553.59 361.30 L553.82 361.30 L554.04 361.30 L554.27 361.30 L554.50 361.30 L554.72 361.30 L554.95 361.30 L555.17 361.30 L555.40 361.30 L555.62 361.30 L555.85 361.30 L556.07 361.30 L556.30 361.30 L556.53 361.30 L556.75 361.30 L556.98 361.30 L557.20 361.30 L557.43 361.30 L557.65 361.30 L557.88 361.30 L558.10 361.30 L558.33 361.30 L558.56 361.30 L558.78 361.30 L559.01 361.30 L559.23 361.30 L559.46 361.30 L559.68 361.30 L559.91 361.30 L560.13 361.30 L560.36 361.30 L560.59 361.30 L560.81 361.30 L561.04 361.30 L561.26 361.30 L561.49 361.30 L561.71 361.30 L561.94 361.30 L562.16 361.30 L562.39 361.30 L562.62 361.30 L562.84 361.30 L563.07 361.30 L563.29 361.30 L563.52 361.30 L563.74 361.30 L563.97 361.30 L564.19 361.30 L564.42 361.30 L564.65 361.30 L564.87 361.30 L565.10 361.30 L565.32 361.30 L565.55 361.30 L565.77 361.30 L566.00 361.30 L566.22 361.30 L566.45 361.30 L566.68 361.30 L566.90 361.30 L567.13 361.30 L567.35 361.30 L567.58 361.30 L567.80 361.30 L568.03 361.30 L568.25 361.30 L568.48 361.30 L568.71 361.30 L568.93 361.30 L569.16 361.30 L569.38 361.30 L569.61 361.30 L569.83 361.30 L570.06 361.30 L570.28 361.30 L570.51 361.30 L570.74 361.30 L570.96 361.30 L571.19 361.30 L571.41 361.30 L571.64 361.30 L571.86 361.30 L572.09 361.30 L572.32 361.30 L572.54 361.30 L572.77 361.30 L572.99 361.30 L573.22 361.30 L573.44 361.30 L573.67 361.30 L573.89 361.30 L574.12 361.30 L574.35 361.30 L574.57 361.30 L574.80 361.30 L575.02 361.30 L575.25 361.30 L575.47 361.30 L575.70 361.30 L575.92 361.30 L576.15 361.30 L576.38 361.30 L576.60 361.30 L576.83 361.30 L577.05 361.30 L577.28 361.30 L577.50 361.30 L577.73 361.30 L577.95 361.30 L578.18 361.30 L578.41 361.29 L578.63 361.29 L578.86 361.29 L579.08 361.29 L579.31 361.29 L579.53 361.28 L579.76 361.28 L579.98 361.27 L580.21 361.27 L580.44 361.26 L580.66 361.25 L580.89 361.24 L581.11 361.22 L581.34 361.21 L581.56 361.19 L581.79 361.16 L582.01 361.13 L582.24 361.10 L582.47 361.06 L582.69 361.01 L582.92 360.95 L583.14 360.88 L583.37 360.80 L583.59 360.71 L583.82 360.60 L584.04 360.48 L584.27 360.34 L584.50 360.17 L584.72 359.98 L584.95 359.76 L585.17 359.51 L585.40 359.22 L585.62 358.90 L585.85 358.53 L586.07 358.12 L586.30 357.65 L586.3 361.3 L496.3 361.3Z" fill="#dcd8ea" stroke="none"/>
<path d="M496.30 357.65 L496.53 357.13 L496.75 356.55 L496.98 355.90 L497.20 355.19 L497.43 354.39 L497.65 353.51 L497.88 352.55 L498.10 351.50 L498.33 350.35 L498.56 349.10 L498.78 347.75 L499.01 346.29 L499.23 344.72 L499.46 343.04 L499.68 341.24 L499.91 339.33 L500.13 337.31 L500.36 335.17 L500.59 332.93 L500.81 330.58 L501.04 328.13 L501.26 325.58 L501.49 322.96 L501.71 320.25 L501.94 317.48 L502.16 314.65 L502.39 311.78 L502.62 308.89 L502.84 305.98 L503.07 303.08 L503.29 300.20 L503.52 297.36 L503.74 294.58 L503.97 291.87 L504.19 289.26 L504.42 286.76 L504.65 284.40 L504.87 282.19 L505.10 280.14 L505.32 278.28 L505.55 276.61 L505.77 275.16 L506.00 273.93 L506.22 272.94 L506.45 272.18 L506.68 271.68 L506.90 271.43 L507.13 271.43 L507.35 271.69 L507.58 272.21 L507.80 272.97 L508.03 273.97 L508.25 275.21 L508.48 276.67 L508.71 278.34 L508.93 280.21 L509.16 282.27 L509.38 284.49 L509.61 286.86 L509.83 289.36 L510.06 291.97 L510.28 294.68 L510.51 297.47 L510.74 300.31 L510.96 303.19 L511.19 306.09 L511.41 309.00 L511.64 311.89 L511.86 314.76 L512.09 317.58 L512.32 320.35 L512.54 323.06 L512.77 325.68 L512.99 328.22 L513.22 330.67 L513.44 333.02 L513.67 335.26 L513.89 337.39 L514.12 339.41 L514.35 341.31 L514.57 343.10 L514.80 344.78 L515.02 346.35 L515.25 347.80 L515.47 349.15 L515.70 350.40 L515.92 351.54 L516.15 352.59 L516.38 353.55 L516.60 354.42 L516.83 355.21 L517.05 355.93 L517.28 356.58 L517.50 357.15 L517.73 357.67 L517.95 358.14 L518.18 358.55 L518.41 358.91 L518.63 359.24 L518.86 359.52 L519.08 359.77 L519.31 359.99 L519.53 360.18 L519.76 360.34 L519.98 360.49 L520.21 360.61 L520.44 360.72 L520.66 360.81 L520.89 360.89 L521.11 360.95 L521.34 361.01 L521.56 361.06 L521.79 361.10 L522.01 361.13 L522.24 361.16 L522.47 361.19 L522.69 361.21 L522.92 361.22 L523.14 361.24 L523.37 361.25 L523.59 361.26 L523.82 361.27 L524.04 361.27 L524.27 361.28 L524.50 361.28 L524.72 361.29 L524.95 361.29 L525.17 361.29 L525.40 361.29 L525.62 361.29 L525.85 361.30 L526.07 361.30 L526.30 361.30 L526.53 361.30 L526.75 361.30 L526.98 361.30 L527.20 361.30 L527.43 361.30 L527.65 361.30 L527.88 361.30 L528.10 361.30 L528.33 361.30 L528.56 361.30 L528.78 361.30 L529.01 361.30 L529.23 361.30 L529.46 361.30 L529.68 361.30 L529.91 361.30 L530.13 361.30 L530.36 361.30 L530.59 361.30 L530.81 361.30 L531.04 361.30 L531.26 361.30 L531.49 361.30 L531.71 361.30 L531.94 361.30 L532.16 361.30 L532.39 361.30 L532.62 361.30 L532.84 361.30 L533.07 361.30 L533.29 361.30 L533.52 361.30 L533.74 361.30 L533.97 361.30 L534.19 361.30 L534.42 361.30 L534.65 361.30 L534.87 361.30 L535.10 361.30 L535.32 361.30 L535.55 361.30 L535.77 361.30 L536.00 361.30 L536.22 361.30 L536.45 361.30 L536.68 361.30 L536.90 361.30 L537.13 361.30 L537.35 361.30 L537.58 361.30 L537.80 361.30 L538.03 361.30 L538.25 361.30 L538.48 361.30 L538.71 361.30 L538.93 361.30 L539.16 361.30 L539.38 361.30 L539.61 361.30 L539.83 361.30 L540.06 361.30 L540.28 361.30 L540.51 361.30 L540.74 361.30 L540.96 361.30 L541.19 361.30 L541.41 361.30 L541.64 361.30 L541.86 361.30 L542.09 361.30 L542.32 361.30 L542.54 361.30 L542.77 361.30 L542.99 361.30 L543.22 361.30 L543.44 361.30 L543.67 361.30 L543.89 361.30 L544.12 361.30 L544.35 361.30 L544.57 361.30 L544.80 361.30 L545.02 361.30 L545.25 361.30 L545.47 361.30 L545.70 361.30 L545.92 361.30 L546.15 361.30 L546.38 361.30 L546.60 361.30 L546.83 361.30 L547.05 361.30 L547.28 361.30 L547.50 361.30 L547.73 361.30 L547.95 361.30 L548.18 361.30 L548.41 361.30 L548.63 361.30 L548.86 361.30 L549.08 361.30 L549.31 361.30 L549.53 361.30 L549.76 361.30 L549.98 361.30 L550.21 361.30 L550.44 361.30 L550.66 361.30 L550.89 361.30 L551.11 361.30 L551.34 361.30 L551.56 361.30 L551.79 361.30 L552.01 361.30 L552.24 361.30 L552.47 361.30 L552.69 361.30 L552.92 361.30 L553.14 361.30 L553.37 361.30 L553.59 361.30 L553.82 361.30 L554.04 361.30 L554.27 361.30 L554.50 361.30 L554.72 361.30 L554.95 361.30 L555.17 361.30 L555.40 361.30 L555.62 361.30 L555.85 361.30 L556.07 361.30 L556.30 361.30 L556.53 361.30 L556.75 361.30 L556.98 361.30 L557.20 361.30 L557.43 361.30 L557.65 361.30 L557.88 361.30 L558.10 361.30 L558.33 361.30 L558.56 361.30 L558.78 361.30 L559.01 361.30 L559.23 361.30 L559.46 361.30 L559.68 361.30 L559.91 361.30 L560.13 361.30 L560.36 361.30 L560.59 361.30 L560.81 361.30 L561.04 361.30 L561.26 361.30 L561.49 361.30 L561.71 361.30 L561.94 361.30 L562.16 361.30 L562.39 361.30 L562.62 361.30 L562.84 361.30 L563.07 361.30 L563.29 361.30 L563.52 361.30 L563.74 361.30 L563.97 361.30 L564.19 361.30 L564.42 361.30 L564.65 361.30 L564.87 361.30 L565.10 361.30 L565.32 361.30 L565.55 361.30 L565.77 361.30 L566.00 361.30 L566.22 361.30 L566.45 361.30 L566.68 361.30 L566.90 361.30 L567.13 361.30 L567.35 361.30 L567.58 361.30 L567.80 361.30 L568.03 361.30 L568.25 361.30 L568.48 361.30 L568.71 361.30 L568.93 361.30 L569.16 361.30 L569.38 361.30 L569.61 361.30 L569.83 361.30 L570.06 361.30 L570.28 361.30 L570.51 361.30 L570.74 361.30 L570.96 361.30 L571.19 361.30 L571.41 361.30 L571.64 361.30 L571.86 361.30 L572.09 361.30 L572.32 361.30 L572.54 361.30 L572.77 361.30 L572.99 361.30 L573.22 361.30 L573.44 361.30 L573.67 361.30 L573.89 361.30 L574.12 361.30 L574.35 361.30 L574.57 361.30 L574.80 361.30 L575.02 361.30 L575.25 361.30 L575.47 361.30 L575.70 361.30 L575.92 361.30 L576.15 361.30 L576.38 361.30 L576.60 361.30 L576.83 361.30 L577.05 361.30 L577.28 361.30 L577.50 361.30 L577.73 361.30 L577.95 361.30 L578.18 361.30 L578.41 361.29 L578.63 361.29 L578.86 361.29 L579.08 361.29 L579.31 361.29 L579.53 361.28 L579.76 361.28 L579.98 361.27 L580.21 361.27 L580.44 361.26 L580.66 361.25 L580.89 361.24 L581.11 361.22 L581.34 361.21 L581.56 361.19 L581.79 361.16 L582.01 361.13 L582.24 361.10 L582.47 361.06 L582.69 361.01 L582.92 360.95 L583.14 360.88 L583.37 360.80 L583.59 360.71 L583.82 360.60 L584.04 360.48 L584.27 360.34 L584.50 360.17 L584.72 359.98 L584.95 359.76 L585.17 359.51 L585.40 359.22 L585.62 358.90 L585.85 358.53 L586.07 358.12 L586.30 357.65" fill="none" stroke="#46449a" stroke-width="1.35"/>
<path d="M541.3 271.4v1.6M541.3 361.3v-1.6M496.3 316.4h1.6M586.3 316.4h-1.6" stroke="#333" stroke-width="0.6"/>
<rect x="496.3" y="271.4" width="90" height="89.9" fill="none" stroke="#5a5a5a" stroke-width="1"/>
<path d="M592.70 361.30 L592.93 361.30 L593.15 361.30 L593.38 361.30 L593.61 361.30 L593.83 361.30 L594.06 361.30 L594.29 361.30 L594.51 361.30 L594.74 361.30 L594.97 361.30 L595.19 361.30 L595.42 361.30 L595.65 361.30 L595.88 361.30 L596.10 361.30 L596.33 361.30 L596.56 361.30 L596.78 361.30 L597.01 361.30 L597.24 361.30 L597.46 361.30 L597.69 361.30 L597.92 361.30 L598.14 361.30 L598.37 361.30 L598.60 361.30 L598.82 361.30 L599.05 361.30 L599.28 361.30 L599.50 361.30 L599.73 361.30 L599.96 361.30 L600.18 361.30 L600.41 361.30 L600.64 361.30 L600.87 361.30 L601.09 361.30 L601.32 361.30 L601.55 361.30 L601.77 361.30 L602.00 361.30 L602.23 361.30 L602.45 361.30 L602.68 361.30 L602.91 361.30 L603.13 361.30 L603.36 361.30 L603.59 361.30 L603.81 361.30 L604.04 361.30 L604.27 361.30 L604.49 361.30 L604.72 361.30 L604.95 361.30 L605.17 361.30 L605.40 361.30 L605.63 361.30 L605.86 361.30 L606.08 361.30 L606.31 361.30 L606.54 361.30 L606.76 361.30 L606.99 361.30 L607.22 361.30 L607.44 361.30 L607.67 361.30 L607.90 361.30 L608.12 361.29 L608.35 361.29 L608.58 361.29 L608.80 361.29 L609.03 361.29 L609.26 361.28 L609.48 361.28 L609.71 361.27 L609.94 361.27 L610.16 361.26 L610.39 361.25 L610.62 361.24 L610.85 361.22 L611.07 361.20 L611.30 361.18 L611.53 361.16 L611.75 361.13 L611.98 361.10 L612.21 361.05 L612.43 361.00 L612.66 360.95 L612.89 360.88 L613.11 360.80 L613.34 360.71 L613.57 360.60 L613.79 360.47 L614.02 360.33 L614.25 360.16 L614.47 359.97 L614.70 359.75 L614.93 359.49 L615.15 359.21 L615.38 358.88 L615.61 358.51 L615.84 358.09 L616.06 357.63 L616.29 357.10 L616.52 356.52 L616.74 355.86 L616.97 355.14 L617.20 354.34 L617.42 353.46 L617.65 352.49 L617.88 351.43 L618.10 350.28 L618.33 349.03 L618.56 347.67 L618.78 346.20 L619.01 344.62 L619.24 342.94 L619.46 341.13 L619.69 339.22 L619.92 337.19 L620.14 335.05 L620.37 332.79 L620.60 330.44 L620.83 327.98 L621.05 325.43 L621.28 322.80 L621.51 320.09 L621.73 317.32 L621.96 314.49 L622.19 311.62 L622.41 308.72 L622.64 305.81 L622.87 302.91 L623.09 300.03 L623.32 297.20 L623.55 294.42 L623.77 291.72 L624.00 289.11 L624.23 286.62 L624.45 284.27 L624.68 282.06 L624.91 280.03 L625.13 278.17 L625.36 276.52 L625.59 275.08 L625.82 273.87 L626.04 272.89 L626.27 272.15 L626.50 271.66 L626.72 271.42 L626.95 271.44 L627.18 271.72 L627.40 272.24 L627.63 273.02 L627.86 274.04 L628.08 275.29 L628.31 276.76 L628.54 278.45 L628.76 280.33 L628.99 282.39 L629.22 284.62 L629.44 287.00 L629.67 289.51 L629.90 292.13 L630.12 294.84 L630.35 297.63 L630.58 300.48 L630.81 303.36 L631.03 306.26 L631.26 309.17 L631.49 312.06 L631.71 314.92 L631.94 317.75 L632.17 320.51 L632.39 323.21 L632.62 325.83 L632.85 328.37 L633.07 330.81 L633.30 333.15 L633.53 335.38 L633.75 337.51 L633.98 339.52 L634.21 341.42 L634.43 343.20 L634.66 344.87 L634.89 346.43 L635.11 347.88 L635.34 349.23 L635.57 350.46 L635.80 351.60 L636.02 352.65 L636.25 353.60 L636.48 354.47 L636.70 355.26 L636.93 355.97 L637.16 356.61 L637.38 357.19 L637.61 357.70 L637.84 358.16 L638.06 358.57 L638.29 358.93 L638.52 359.25 L638.74 359.53 L638.97 359.78 L639.20 360.00 L639.42 360.19 L639.65 360.35 L639.88 360.49 L640.10 360.62 L640.33 360.72 L640.56 360.81 L640.79 360.89 L641.01 360.96 L641.24 361.01 L641.47 361.06 L641.69 361.10 L641.92 361.14 L642.15 361.16 L642.37 361.19 L642.60 361.21 L642.83 361.22 L643.05 361.24 L643.28 361.25 L643.51 361.26 L643.73 361.27 L643.96 361.27 L644.19 361.28 L644.41 361.28 L644.64 361.29 L644.87 361.29 L645.09 361.29 L645.32 361.29 L645.55 361.29 L645.78 361.30 L646.00 361.30 L646.23 361.30 L646.46 361.30 L646.68 361.30 L646.91 361.30 L647.14 361.30 L647.36 361.30 L647.59 361.30 L647.82 361.30 L648.04 361.30 L648.27 361.30 L648.50 361.30 L648.72 361.30 L648.95 361.30 L649.18 361.30 L649.40 361.30 L649.63 361.30 L649.86 361.30 L650.08 361.30 L650.31 361.30 L650.54 361.30 L650.77 361.30 L650.99 361.30 L651.22 361.30 L651.45 361.30 L651.67 361.30 L651.90 361.30 L652.13 361.30 L652.35 361.30 L652.58 361.30 L652.81 361.30 L653.03 361.30 L653.26 361.30 L653.49 361.30 L653.71 361.30 L653.94 361.30 L654.17 361.30 L654.39 361.30 L654.62 361.30 L654.85 361.30 L655.07 361.30 L655.30 361.30 L655.53 361.30 L655.76 361.30 L655.98 361.30 L656.21 361.30 L656.44 361.30 L656.66 361.30 L656.89 361.30 L657.12 361.30 L657.34 361.30 L657.57 361.30 L657.80 361.30 L658.02 361.30 L658.25 361.30 L658.48 361.30 L658.70 361.30 L658.93 361.30 L659.16 361.30 L659.38 361.30 L659.61 361.30 L659.84 361.30 L660.06 361.30 L660.29 361.30 L660.52 361.30 L660.75 361.30 L660.97 361.30 L661.20 361.30 L661.43 361.30 L661.65 361.30 L661.88 361.30 L662.11 361.30 L662.33 361.30 L662.56 361.30 L662.79 361.30 L663.01 361.30 L663.24 361.30 L663.47 361.30 L663.69 361.30 L663.92 361.30 L664.15 361.30 L664.37 361.30 L664.60 361.30 L664.83 361.30 L665.05 361.30 L665.28 361.30 L665.51 361.30 L665.74 361.30 L665.96 361.30 L666.19 361.30 L666.42 361.30 L666.64 361.30 L666.87 361.30 L667.10 361.30 L667.32 361.30 L667.55 361.30 L667.78 361.30 L668.00 361.30 L668.23 361.30 L668.46 361.30 L668.68 361.30 L668.91 361.30 L669.14 361.30 L669.36 361.30 L669.59 361.30 L669.82 361.30 L670.04 361.30 L670.27 361.30 L670.50 361.30 L670.73 361.30 L670.95 361.30 L671.18 361.30 L671.41 361.30 L671.63 361.30 L671.86 361.30 L672.09 361.30 L672.31 361.30 L672.54 361.30 L672.77 361.30 L672.99 361.30 L673.22 361.30 L673.45 361.30 L673.67 361.30 L673.90 361.30 L674.13 361.30 L674.35 361.30 L674.58 361.30 L674.81 361.30 L675.03 361.30 L675.26 361.30 L675.49 361.30 L675.72 361.30 L675.94 361.30 L676.17 361.30 L676.40 361.30 L676.62 361.30 L676.85 361.30 L677.08 361.30 L677.30 361.30 L677.53 361.30 L677.76 361.30 L677.98 361.30 L678.21 361.30 L678.44 361.30 L678.66 361.30 L678.89 361.30 L679.12 361.30 L679.34 361.30 L679.57 361.30 L679.80 361.30 L680.02 361.30 L680.25 361.30 L680.48 361.30 L680.71 361.30 L680.93 361.30 L681.16 361.30 L681.39 361.30 L681.61 361.30 L681.84 361.30 L682.07 361.30 L682.29 361.30 L682.52 361.30 L682.75 361.30 L682.97 361.30 L683.20 361.30 L683.2 361.3 L592.7 361.3Z" fill="#e2e4f0" stroke="none"/>
<path d="M592.70 361.30 L592.93 361.30 L593.15 361.30 L593.38 361.30 L593.61 361.30 L593.83 361.30 L594.06 361.30 L594.29 361.30 L594.51 361.30 L594.74 361.30 L594.97 361.30 L595.19 361.30 L595.42 361.30 L595.65 361.30 L595.88 361.30 L596.10 361.30 L596.33 361.30 L596.56 361.30 L596.78 361.30 L597.01 361.30 L597.24 361.30 L597.46 361.30 L597.69 361.30 L597.92 361.30 L598.14 361.30 L598.37 361.30 L598.60 361.30 L598.82 361.30 L599.05 361.30 L599.28 361.30 L599.50 361.30 L599.73 361.30 L599.96 361.30 L600.18 361.30 L600.41 361.30 L600.64 361.30 L600.87 361.30 L601.09 361.30 L601.32 361.30 L601.55 361.30 L601.77 361.30 L602.00 361.30 L602.23 361.30 L602.45 361.30 L602.68 361.30 L602.91 361.30 L603.13 361.30 L603.36 361.30 L603.59 361.30 L603.81 361.30 L604.04 361.30 L604.27 361.30 L604.49 361.30 L604.72 361.30 L604.95 361.30 L605.17 361.30 L605.40 361.30 L605.63 361.30 L605.86 361.30 L606.08 361.30 L606.31 361.30 L606.54 361.30 L606.76 361.30 L606.99 361.30 L607.22 361.30 L607.44 361.30 L607.67 361.30 L607.90 361.30 L608.12 361.29 L608.35 361.29 L608.58 361.29 L608.80 361.29 L609.03 361.29 L609.26 361.28 L609.48 361.28 L609.71 361.27 L609.94 361.27 L610.16 361.26 L610.39 361.25 L610.62 361.24 L610.85 361.22 L611.07 361.20 L611.30 361.18 L611.53 361.16 L611.75 361.13 L611.98 361.10 L612.21 361.05 L612.43 361.00 L612.66 360.95 L612.89 360.88 L613.11 360.80 L613.34 360.71 L613.57 360.60 L613.79 360.47 L614.02 360.33 L614.25 360.16 L614.47 359.97 L614.70 359.75 L614.93 359.49 L615.15 359.21 L615.38 358.88 L615.61 358.51 L615.84 358.09 L616.06 357.63 L616.29 357.10 L616.52 356.52 L616.74 355.86 L616.97 355.14 L617.20 354.34 L617.42 353.46 L617.65 352.49 L617.88 351.43 L618.10 350.28 L618.33 349.03 L618.56 347.67 L618.78 346.20 L619.01 344.62 L619.24 342.94 L619.46 341.13 L619.69 339.22 L619.92 337.19 L620.14 335.05 L620.37 332.79 L620.60 330.44 L620.83 327.98 L621.05 325.43 L621.28 322.80 L621.51 320.09 L621.73 317.32 L621.96 314.49 L622.19 311.62 L622.41 308.72 L622.64 305.81 L622.87 302.91 L623.09 300.03 L623.32 297.20 L623.55 294.42 L623.77 291.72 L624.00 289.11 L624.23 286.62 L624.45 284.27 L624.68 282.06 L624.91 280.03 L625.13 278.17 L625.36 276.52 L625.59 275.08 L625.82 273.87 L626.04 272.89 L626.27 272.15 L626.50 271.66 L626.72 271.42 L626.95 271.44 L627.18 271.72 L627.40 272.24 L627.63 273.02 L627.86 274.04 L628.08 275.29 L628.31 276.76 L628.54 278.45 L628.76 280.33 L628.99 282.39 L629.22 284.62 L629.44 287.00 L629.67 289.51 L629.90 292.13 L630.12 294.84 L630.35 297.63 L630.58 300.48 L630.81 303.36 L631.03 306.26 L631.26 309.17 L631.49 312.06 L631.71 314.92 L631.94 317.75 L632.17 320.51 L632.39 323.21 L632.62 325.83 L632.85 328.37 L633.07 330.81 L633.30 333.15 L633.53 335.38 L633.75 337.51 L633.98 339.52 L634.21 341.42 L634.43 343.20 L634.66 344.87 L634.89 346.43 L635.11 347.88 L635.34 349.23 L635.57 350.46 L635.80 351.60 L636.02 352.65 L636.25 353.60 L636.48 354.47 L636.70 355.26 L636.93 355.97 L637.16 356.61 L637.38 357.19 L637.61 357.70 L637.84 358.16 L638.06 358.57 L638.29 358.93 L638.52 359.25 L638.74 359.53 L638.97 359.78 L639.20 360.00 L639.42 360.19 L639.65 360.35 L639.88 360.49 L640.10 360.62 L640.33 360.72 L640.56 360.81 L640.79 360.89 L641.01 360.96 L641.24 361.01 L641.47 361.06 L641.69 361.10 L641.92 361.14 L642.15 361.16 L642.37 361.19 L642.60 361.21 L642.83 361.22 L643.05 361.24 L643.28 361.25 L643.51 361.26 L643.73 361.27 L643.96 361.27 L644.19 361.28 L644.41 361.28 L644.64 361.29 L644.87 361.29 L645.09 361.29 L645.32 361.29 L645.55 361.29 L645.78 361.30 L646.00 361.30 L646.23 361.30 L646.46 361.30 L646.68 361.30 L646.91 361.30 L647.14 361.30 L647.36 361.30 L647.59 361.30 L647.82 361.30 L648.04 361.30 L648.27 361.30 L648.50 361.30 L648.72 361.30 L648.95 361.30 L649.18 361.30 L649.40 361.30 L649.63 361.30 L649.86 361.30 L650.08 361.30 L650.31 361.30 L650.54 361.30 L650.77 361.30 L650.99 361.30 L651.22 361.30 L651.45 361.30 L651.67 361.30 L651.90 361.30 L652.13 361.30 L652.35 361.30 L652.58 361.30 L652.81 361.30 L653.03 361.30 L653.26 361.30 L653.49 361.30 L653.71 361.30 L653.94 361.30 L654.17 361.30 L654.39 361.30 L654.62 361.30 L654.85 361.30 L655.07 361.30 L655.30 361.30 L655.53 361.30 L655.76 361.30 L655.98 361.30 L656.21 361.30 L656.44 361.30 L656.66 361.30 L656.89 361.30 L657.12 361.30 L657.34 361.30 L657.57 361.30 L657.80 361.30 L658.02 361.30 L658.25 361.30 L658.48 361.30 L658.70 361.30 L658.93 361.30 L659.16 361.30 L659.38 361.30 L659.61 361.30 L659.84 361.30 L660.06 361.30 L660.29 361.30 L660.52 361.30 L660.75 361.30 L660.97 361.30 L661.20 361.30 L661.43 361.30 L661.65 361.30 L661.88 361.30 L662.11 361.30 L662.33 361.30 L662.56 361.30 L662.79 361.30 L663.01 361.30 L663.24 361.30 L663.47 361.30 L663.69 361.30 L663.92 361.30 L664.15 361.30 L664.37 361.30 L664.60 361.30 L664.83 361.30 L665.05 361.30 L665.28 361.30 L665.51 361.30 L665.74 361.30 L665.96 361.30 L666.19 361.30 L666.42 361.30 L666.64 361.30 L666.87 361.30 L667.10 361.30 L667.32 361.30 L667.55 361.30 L667.78 361.30 L668.00 361.30 L668.23 361.30 L668.46 361.30 L668.68 361.30 L668.91 361.30 L669.14 361.30 L669.36 361.30 L669.59 361.30 L669.82 361.30 L670.04 361.30 L670.27 361.30 L670.50 361.30 L670.73 361.30 L670.95 361.30 L671.18 361.30 L671.41 361.30 L671.63 361.30 L671.86 361.30 L672.09 361.30 L672.31 361.30 L672.54 361.30 L672.77 361.30 L672.99 361.30 L673.22 361.30 L673.45 361.30 L673.67 361.30 L673.90 361.30 L674.13 361.30 L674.35 361.30 L674.58 361.30 L674.81 361.30 L675.03 361.30 L675.26 361.30 L675.49 361.30 L675.72 361.30 L675.94 361.30 L676.17 361.30 L676.40 361.30 L676.62 361.30 L676.85 361.30 L677.08 361.30 L677.30 361.30 L677.53 361.30 L677.76 361.30 L677.98 361.30 L678.21 361.30 L678.44 361.30 L678.66 361.30 L678.89 361.30 L679.12 361.30 L679.34 361.30 L679.57 361.30 L679.80 361.30 L680.02 361.30 L680.25 361.30 L680.48 361.30 L680.71 361.30 L680.93 361.30 L681.16 361.30 L681.39 361.30 L681.61 361.30 L681.84 361.30 L682.07 361.30 L682.29 361.30 L682.52 361.30 L682.75 361.30 L682.97 361.30 L683.20 361.30" fill="none" stroke="#6a78b4" stroke-width="1.35"/>
<path d="M638 271.4v1.6M638 361.3v-1.6M592.7 316.4h1.6M683.2 316.4h-1.6" stroke="#333" stroke-width="0.6"/>
<rect x="592.7" y="271.4" width="90.5" height="89.9" fill="none" stroke="#5a5a5a" stroke-width="1"/>
<path d="M496.30 457.50 L496.53 457.50 L496.75 457.50 L496.98 457.50 L497.20 457.50 L497.43 457.50 L497.65 457.50 L497.88 457.50 L498.10 457.50 L498.33 457.50 L498.56 457.50 L498.78 457.50 L499.01 457.50 L499.23 457.50 L499.46 457.50 L499.68 457.50 L499.91 457.50 L500.13 457.50 L500.36 457.50 L500.59 457.50 L500.81 457.50 L501.04 457.50 L501.26 457.50 L501.49 457.50 L501.71 457.50 L501.94 457.50 L502.16 457.50 L502.39 457.50 L502.62 457.50 L502.84 457.50 L503.07 457.50 L503.29 457.50 L503.52 457.50 L503.74 457.50 L503.97 457.50 L504.19 457.50 L504.42 457.50 L504.65 457.50 L504.87 457.50 L505.10 457.50 L505.32 457.50 L505.55 457.50 L505.77 457.50 L506.00 457.50 L506.22 457.50 L506.45 457.50 L506.68 457.50 L506.90 457.50 L507.13 457.50 L507.35 457.50 L507.58 457.50 L507.80 457.50 L508.03 457.50 L508.25 457.50 L508.48 457.50 L508.71 457.50 L508.93 457.50 L509.16 457.50 L509.38 457.50 L509.61 457.50 L509.83 457.50 L510.06 457.50 L510.28 457.50 L510.51 457.50 L510.74 457.50 L510.96 457.50 L511.19 457.50 L511.41 457.50 L511.64 457.50 L511.86 457.50 L512.09 457.50 L512.32 457.50 L512.54 457.50 L512.77 457.50 L512.99 457.50 L513.22 457.50 L513.44 457.50 L513.67 457.50 L513.89 457.50 L514.12 457.50 L514.35 457.50 L514.57 457.50 L514.80 457.50 L515.02 457.50 L515.25 457.50 L515.47 457.50 L515.70 457.50 L515.92 457.50 L516.15 457.50 L516.38 457.50 L516.60 457.50 L516.83 457.50 L517.05 457.50 L517.28 457.50 L517.50 457.50 L517.73 457.50 L517.95 457.50 L518.18 457.50 L518.41 457.50 L518.63 457.50 L518.86 457.50 L519.08 457.50 L519.31 457.50 L519.53 457.50 L519.76 457.50 L519.98 457.50 L520.21 457.50 L520.44 457.50 L520.66 457.50 L520.89 457.50 L521.11 457.50 L521.34 457.50 L521.56 457.50 L521.79 457.50 L522.01 457.50 L522.24 457.50 L522.47 457.50 L522.69 457.50 L522.92 457.50 L523.14 457.50 L523.37 457.50 L523.59 457.50 L523.82 457.50 L524.04 457.50 L524.27 457.50 L524.50 457.50 L524.72 457.50 L524.95 457.50 L525.17 457.50 L525.40 457.50 L525.62 457.50 L525.85 457.50 L526.07 457.50 L526.30 457.50 L526.53 457.50 L526.75 457.50 L526.98 457.50 L527.20 457.50 L527.43 457.50 L527.65 457.50 L527.88 457.50 L528.10 457.50 L528.33 457.50 L528.56 457.50 L528.78 457.50 L529.01 457.50 L529.23 457.50 L529.46 457.50 L529.68 457.50 L529.91 457.50 L530.13 457.50 L530.36 457.50 L530.59 457.50 L530.81 457.50 L531.04 457.50 L531.26 457.50 L531.49 457.50 L531.71 457.50 L531.94 457.50 L532.16 457.50 L532.39 457.50 L532.62 457.50 L532.84 457.50 L533.07 457.50 L533.29 457.50 L533.52 457.50 L533.74 457.50 L533.97 457.49 L534.19 457.49 L534.42 457.49 L534.65 457.49 L534.87 457.49 L535.10 457.48 L535.32 457.48 L535.55 457.47 L535.77 457.47 L536.00 457.46 L536.22 457.45 L536.45 457.44 L536.68 457.43 L536.90 457.41 L537.13 457.39 L537.35 457.37 L537.58 457.34 L537.80 457.31 L538.03 457.27 L538.25 457.22 L538.48 457.17 L538.71 457.10 L538.93 457.03 L539.16 456.94 L539.38 456.84 L539.61 456.72 L539.83 456.58 L540.06 456.42 L540.28 456.24 L540.51 456.03 L540.74 455.79 L540.96 455.51 L541.19 455.20 L541.41 454.85 L541.64 454.45 L541.86 454.00 L542.09 453.49 L542.32 452.93 L542.54 452.30 L542.77 451.60 L542.99 450.83 L543.22 449.98 L543.44 449.04 L543.67 448.02 L543.89 446.90 L544.12 445.68 L544.35 444.36 L544.57 442.93 L544.80 441.39 L545.02 439.74 L545.25 437.98 L545.47 436.10 L545.70 434.11 L545.92 432.01 L546.15 429.80 L546.38 427.48 L546.60 425.06 L546.83 422.54 L547.05 419.93 L547.28 417.25 L547.50 414.50 L547.73 411.68 L547.95 408.83 L548.18 405.94 L548.41 403.03 L548.63 400.13 L548.86 397.24 L549.08 394.39 L549.31 391.58 L549.53 388.85 L549.76 386.21 L549.98 383.68 L550.21 381.28 L550.44 379.02 L550.66 376.92 L550.89 375.00 L551.11 373.28 L551.34 371.76 L551.56 370.47 L551.79 369.40 L552.01 368.58 L552.24 368.00 L552.47 367.68 L552.69 367.61 L552.92 367.79 L553.14 368.23 L553.37 368.92 L553.59 369.85 L553.82 371.02 L554.04 372.42 L554.27 374.03 L554.50 375.85 L554.72 377.85 L554.95 380.02 L555.17 382.35 L555.40 384.81 L555.62 387.40 L555.85 390.08 L556.07 392.84 L556.30 395.67 L556.53 398.54 L556.75 401.44 L556.98 404.35 L557.20 407.25 L557.43 410.12 L557.65 412.96 L557.88 415.75 L558.10 418.47 L558.33 421.12 L558.56 423.69 L558.78 426.16 L559.01 428.54 L559.23 430.81 L559.46 432.97 L559.68 435.03 L559.91 436.96 L560.13 438.79 L560.36 440.50 L560.59 442.10 L560.81 443.59 L561.04 444.97 L561.26 446.24 L561.49 447.41 L561.71 448.49 L561.94 449.48 L562.16 450.37 L562.39 451.19 L562.62 451.93 L562.84 452.59 L563.07 453.19 L563.29 453.73 L563.52 454.21 L563.74 454.63 L563.97 455.01 L564.19 455.34 L564.42 455.64 L564.65 455.90 L564.87 456.13 L565.10 456.32 L565.32 456.50 L565.55 456.65 L565.77 456.77 L566.00 456.89 L566.22 456.98 L566.45 457.06 L566.68 457.13 L566.90 457.19 L567.13 457.24 L567.35 457.29 L567.58 457.32 L567.80 457.35 L568.03 457.38 L568.25 457.40 L568.48 457.42 L568.71 457.43 L568.93 457.45 L569.16 457.46 L569.38 457.46 L569.61 457.47 L569.83 457.48 L570.06 457.48 L570.28 457.49 L570.51 457.49 L570.74 457.49 L570.96 457.49 L571.19 457.49 L571.41 457.50 L571.64 457.50 L571.86 457.50 L572.09 457.50 L572.32 457.50 L572.54 457.50 L572.77 457.50 L572.99 457.50 L573.22 457.50 L573.44 457.50 L573.67 457.50 L573.89 457.50 L574.12 457.50 L574.35 457.50 L574.57 457.50 L574.80 457.50 L575.02 457.50 L575.25 457.50 L575.47 457.50 L575.70 457.50 L575.92 457.50 L576.15 457.50 L576.38 457.50 L576.60 457.50 L576.83 457.50 L577.05 457.50 L577.28 457.50 L577.50 457.50 L577.73 457.50 L577.95 457.50 L578.18 457.50 L578.41 457.50 L578.63 457.50 L578.86 457.50 L579.08 457.50 L579.31 457.50 L579.53 457.50 L579.76 457.50 L579.98 457.50 L580.21 457.50 L580.44 457.50 L580.66 457.50 L580.89 457.50 L581.11 457.50 L581.34 457.50 L581.56 457.50 L581.79 457.50 L582.01 457.50 L582.24 457.50 L582.47 457.50 L582.69 457.50 L582.92 457.50 L583.14 457.50 L583.37 457.50 L583.59 457.50 L583.82 457.50 L584.04 457.50 L584.27 457.50 L584.50 457.50 L584.72 457.50 L584.95 457.50 L585.17 457.50 L585.40 457.50 L585.62 457.50 L585.85 457.50 L586.07 457.50 L586.30 457.50 L586.3 457.5 L496.3 457.5Z" fill="#e6d9e3" stroke="none"/>
<path d="M496.30 457.50 L496.53 457.50 L496.75 457.50 L496.98 457.50 L497.20 457.50 L497.43 457.50 L497.65 457.50 L497.88 457.50 L498.10 457.50 L498.33 457.50 L498.56 457.50 L498.78 457.50 L499.01 457.50 L499.23 457.50 L499.46 457.50 L499.68 457.50 L499.91 457.50 L500.13 457.50 L500.36 457.50 L500.59 457.50 L500.81 457.50 L501.04 457.50 L501.26 457.50 L501.49 457.50 L501.71 457.50 L501.94 457.50 L502.16 457.50 L502.39 457.50 L502.62 457.50 L502.84 457.50 L503.07 457.50 L503.29 457.50 L503.52 457.50 L503.74 457.50 L503.97 457.50 L504.19 457.50 L504.42 457.50 L504.65 457.50 L504.87 457.50 L505.10 457.50 L505.32 457.50 L505.55 457.50 L505.77 457.50 L506.00 457.50 L506.22 457.50 L506.45 457.50 L506.68 457.50 L506.90 457.50 L507.13 457.50 L507.35 457.50 L507.58 457.50 L507.80 457.50 L508.03 457.50 L508.25 457.50 L508.48 457.50 L508.71 457.50 L508.93 457.50 L509.16 457.50 L509.38 457.50 L509.61 457.50 L509.83 457.50 L510.06 457.50 L510.28 457.50 L510.51 457.50 L510.74 457.50 L510.96 457.50 L511.19 457.50 L511.41 457.50 L511.64 457.50 L511.86 457.50 L512.09 457.50 L512.32 457.50 L512.54 457.50 L512.77 457.50 L512.99 457.50 L513.22 457.50 L513.44 457.50 L513.67 457.50 L513.89 457.50 L514.12 457.50 L514.35 457.50 L514.57 457.50 L514.80 457.50 L515.02 457.50 L515.25 457.50 L515.47 457.50 L515.70 457.50 L515.92 457.50 L516.15 457.50 L516.38 457.50 L516.60 457.50 L516.83 457.50 L517.05 457.50 L517.28 457.50 L517.50 457.50 L517.73 457.50 L517.95 457.50 L518.18 457.50 L518.41 457.50 L518.63 457.50 L518.86 457.50 L519.08 457.50 L519.31 457.50 L519.53 457.50 L519.76 457.50 L519.98 457.50 L520.21 457.50 L520.44 457.50 L520.66 457.50 L520.89 457.50 L521.11 457.50 L521.34 457.50 L521.56 457.50 L521.79 457.50 L522.01 457.50 L522.24 457.50 L522.47 457.50 L522.69 457.50 L522.92 457.50 L523.14 457.50 L523.37 457.50 L523.59 457.50 L523.82 457.50 L524.04 457.50 L524.27 457.50 L524.50 457.50 L524.72 457.50 L524.95 457.50 L525.17 457.50 L525.40 457.50 L525.62 457.50 L525.85 457.50 L526.07 457.50 L526.30 457.50 L526.53 457.50 L526.75 457.50 L526.98 457.50 L527.20 457.50 L527.43 457.50 L527.65 457.50 L527.88 457.50 L528.10 457.50 L528.33 457.50 L528.56 457.50 L528.78 457.50 L529.01 457.50 L529.23 457.50 L529.46 457.50 L529.68 457.50 L529.91 457.50 L530.13 457.50 L530.36 457.50 L530.59 457.50 L530.81 457.50 L531.04 457.50 L531.26 457.50 L531.49 457.50 L531.71 457.50 L531.94 457.50 L532.16 457.50 L532.39 457.50 L532.62 457.50 L532.84 457.50 L533.07 457.50 L533.29 457.50 L533.52 457.50 L533.74 457.50 L533.97 457.49 L534.19 457.49 L534.42 457.49 L534.65 457.49 L534.87 457.49 L535.10 457.48 L535.32 457.48 L535.55 457.47 L535.77 457.47 L536.00 457.46 L536.22 457.45 L536.45 457.44 L536.68 457.43 L536.90 457.41 L537.13 457.39 L537.35 457.37 L537.58 457.34 L537.80 457.31 L538.03 457.27 L538.25 457.22 L538.48 457.17 L538.71 457.10 L538.93 457.03 L539.16 456.94 L539.38 456.84 L539.61 456.72 L539.83 456.58 L540.06 456.42 L540.28 456.24 L540.51 456.03 L540.74 455.79 L540.96 455.51 L541.19 455.20 L541.41 454.85 L541.64 454.45 L541.86 454.00 L542.09 453.49 L542.32 452.93 L542.54 452.30 L542.77 451.60 L542.99 450.83 L543.22 449.98 L543.44 449.04 L543.67 448.02 L543.89 446.90 L544.12 445.68 L544.35 444.36 L544.57 442.93 L544.80 441.39 L545.02 439.74 L545.25 437.98 L545.47 436.10 L545.70 434.11 L545.92 432.01 L546.15 429.80 L546.38 427.48 L546.60 425.06 L546.83 422.54 L547.05 419.93 L547.28 417.25 L547.50 414.50 L547.73 411.68 L547.95 408.83 L548.18 405.94 L548.41 403.03 L548.63 400.13 L548.86 397.24 L549.08 394.39 L549.31 391.58 L549.53 388.85 L549.76 386.21 L549.98 383.68 L550.21 381.28 L550.44 379.02 L550.66 376.92 L550.89 375.00 L551.11 373.28 L551.34 371.76 L551.56 370.47 L551.79 369.40 L552.01 368.58 L552.24 368.00 L552.47 367.68 L552.69 367.61 L552.92 367.79 L553.14 368.23 L553.37 368.92 L553.59 369.85 L553.82 371.02 L554.04 372.42 L554.27 374.03 L554.50 375.85 L554.72 377.85 L554.95 380.02 L555.17 382.35 L555.40 384.81 L555.62 387.40 L555.85 390.08 L556.07 392.84 L556.30 395.67 L556.53 398.54 L556.75 401.44 L556.98 404.35 L557.20 407.25 L557.43 410.12 L557.65 412.96 L557.88 415.75 L558.10 418.47 L558.33 421.12 L558.56 423.69 L558.78 426.16 L559.01 428.54 L559.23 430.81 L559.46 432.97 L559.68 435.03 L559.91 436.96 L560.13 438.79 L560.36 440.50 L560.59 442.10 L560.81 443.59 L561.04 444.97 L561.26 446.24 L561.49 447.41 L561.71 448.49 L561.94 449.48 L562.16 450.37 L562.39 451.19 L562.62 451.93 L562.84 452.59 L563.07 453.19 L563.29 453.73 L563.52 454.21 L563.74 454.63 L563.97 455.01 L564.19 455.34 L564.42 455.64 L564.65 455.90 L564.87 456.13 L565.10 456.32 L565.32 456.50 L565.55 456.65 L565.77 456.77 L566.00 456.89 L566.22 456.98 L566.45 457.06 L566.68 457.13 L566.90 457.19 L567.13 457.24 L567.35 457.29 L567.58 457.32 L567.80 457.35 L568.03 457.38 L568.25 457.40 L568.48 457.42 L568.71 457.43 L568.93 457.45 L569.16 457.46 L569.38 457.46 L569.61 457.47 L569.83 457.48 L570.06 457.48 L570.28 457.49 L570.51 457.49 L570.74 457.49 L570.96 457.49 L571.19 457.49 L571.41 457.50 L571.64 457.50 L571.86 457.50 L572.09 457.50 L572.32 457.50 L572.54 457.50 L572.77 457.50 L572.99 457.50 L573.22 457.50 L573.44 457.50 L573.67 457.50 L573.89 457.50 L574.12 457.50 L574.35 457.50 L574.57 457.50 L574.80 457.50 L575.02 457.50 L575.25 457.50 L575.47 457.50 L575.70 457.50 L575.92 457.50 L576.15 457.50 L576.38 457.50 L576.60 457.50 L576.83 457.50 L577.05 457.50 L577.28 457.50 L577.50 457.50 L577.73 457.50 L577.95 457.50 L578.18 457.50 L578.41 457.50 L578.63 457.50 L578.86 457.50 L579.08 457.50 L579.31 457.50 L579.53 457.50 L579.76 457.50 L579.98 457.50 L580.21 457.50 L580.44 457.50 L580.66 457.50 L580.89 457.50 L581.11 457.50 L581.34 457.50 L581.56 457.50 L581.79 457.50 L582.01 457.50 L582.24 457.50 L582.47 457.50 L582.69 457.50 L582.92 457.50 L583.14 457.50 L583.37 457.50 L583.59 457.50 L583.82 457.50 L584.04 457.50 L584.27 457.50 L584.50 457.50 L584.72 457.50 L584.95 457.50 L585.17 457.50 L585.40 457.50 L585.62 457.50 L585.85 457.50 L586.07 457.50 L586.30 457.50" fill="none" stroke="#7e3274" stroke-width="1.35"/>
<path d="M541.3 367.6v1.6M541.3 457.5v-1.6M496.3 412.6h1.6M586.3 412.6h-1.6" stroke="#333" stroke-width="0.6"/>
<rect x="496.3" y="367.6" width="90" height="89.9" fill="none" stroke="#5a5a5a" stroke-width="1"/>
<path d="M592.70 455.91 L592.93 456.13 L593.15 456.33 L593.38 456.50 L593.61 456.65 L593.83 456.78 L594.06 456.89 L594.29 456.99 L594.51 457.07 L594.74 457.14 L594.97 457.20 L595.19 457.25 L595.42 457.29 L595.65 457.33 L595.88 457.36 L596.10 457.38 L596.33 457.40 L596.56 457.42 L596.78 457.43 L597.01 457.45 L597.24 457.46 L597.46 457.46 L597.69 457.47 L597.92 457.48 L598.14 457.48 L598.37 457.49 L598.60 457.49 L598.82 457.49 L599.05 457.49 L599.28 457.49 L599.50 457.50 L599.73 457.50 L599.96 457.50 L600.18 457.50 L600.41 457.50 L600.64 457.50 L600.87 457.50 L601.09 457.50 L601.32 457.50 L601.55 457.50 L601.77 457.50 L602.00 457.50 L602.23 457.50 L602.45 457.50 L602.68 457.50 L602.91 457.50 L603.13 457.50 L603.36 457.50 L603.59 457.50 L603.81 457.50 L604.04 457.50 L604.27 457.50 L604.49 457.50 L604.72 457.50 L604.95 457.50 L605.17 457.50 L605.40 457.50 L605.63 457.50 L605.86 457.50 L606.08 457.50 L606.31 457.50 L606.54 457.50 L606.76 457.50 L606.99 457.50 L607.22 457.50 L607.44 457.50 L607.67 457.50 L607.90 457.50 L608.12 457.50 L608.35 457.50 L608.58 457.50 L608.80 457.50 L609.03 457.50 L609.26 457.50 L609.48 457.50 L609.71 457.50 L609.94 457.50 L610.16 457.50 L610.39 457.50 L610.62 457.50 L610.85 457.50 L611.07 457.50 L611.30 457.50 L611.53 457.50 L611.75 457.50 L611.98 457.50 L612.21 457.50 L612.43 457.50 L612.66 457.50 L612.89 457.50 L613.11 457.50 L613.34 457.50 L613.57 457.50 L613.79 457.50 L614.02 457.50 L614.25 457.50 L614.47 457.50 L614.70 457.50 L614.93 457.50 L615.15 457.50 L615.38 457.50 L615.61 457.50 L615.84 457.50 L616.06 457.50 L616.29 457.50 L616.52 457.50 L616.74 457.50 L616.97 457.50 L617.20 457.50 L617.42 457.50 L617.65 457.50 L617.88 457.50 L618.10 457.50 L618.33 457.50 L618.56 457.50 L618.78 457.50 L619.01 457.50 L619.24 457.50 L619.46 457.50 L619.69 457.50 L619.92 457.50 L620.14 457.50 L620.37 457.50 L620.60 457.50 L620.83 457.50 L621.05 457.50 L621.28 457.50 L621.51 457.50 L621.73 457.50 L621.96 457.50 L622.19 457.50 L622.41 457.50 L622.64 457.50 L622.87 457.50 L623.09 457.50 L623.32 457.50 L623.55 457.50 L623.77 457.50 L624.00 457.50 L624.23 457.50 L624.45 457.50 L624.68 457.50 L624.91 457.50 L625.13 457.50 L625.36 457.50 L625.59 457.50 L625.82 457.50 L626.04 457.50 L626.27 457.50 L626.50 457.50 L626.72 457.50 L626.95 457.50 L627.18 457.50 L627.40 457.50 L627.63 457.50 L627.86 457.50 L628.08 457.50 L628.31 457.50 L628.54 457.50 L628.76 457.50 L628.99 457.50 L629.22 457.50 L629.44 457.50 L629.67 457.50 L629.90 457.50 L630.12 457.50 L630.35 457.50 L630.58 457.50 L630.81 457.50 L631.03 457.50 L631.26 457.50 L631.49 457.50 L631.71 457.50 L631.94 457.50 L632.17 457.50 L632.39 457.50 L632.62 457.50 L632.85 457.50 L633.07 457.50 L633.30 457.50 L633.53 457.50 L633.75 457.50 L633.98 457.50 L634.21 457.50 L634.43 457.50 L634.66 457.50 L634.89 457.50 L635.11 457.50 L635.34 457.50 L635.57 457.50 L635.80 457.50 L636.02 457.50 L636.25 457.50 L636.48 457.50 L636.70 457.50 L636.93 457.50 L637.16 457.50 L637.38 457.50 L637.61 457.50 L637.84 457.50 L638.06 457.50 L638.29 457.50 L638.52 457.50 L638.74 457.50 L638.97 457.50 L639.20 457.50 L639.42 457.50 L639.65 457.50 L639.88 457.50 L640.10 457.50 L640.33 457.50 L640.56 457.50 L640.79 457.50 L641.01 457.50 L641.24 457.50 L641.47 457.50 L641.69 457.50 L641.92 457.50 L642.15 457.50 L642.37 457.50 L642.60 457.50 L642.83 457.50 L643.05 457.50 L643.28 457.50 L643.51 457.50 L643.73 457.50 L643.96 457.50 L644.19 457.50 L644.41 457.50 L644.64 457.50 L644.87 457.50 L645.09 457.50 L645.32 457.50 L645.55 457.50 L645.78 457.50 L646.00 457.50 L646.23 457.50 L646.46 457.50 L646.68 457.50 L646.91 457.50 L647.14 457.50 L647.36 457.50 L647.59 457.50 L647.82 457.50 L648.04 457.50 L648.27 457.50 L648.50 457.50 L648.72 457.50 L648.95 457.50 L649.18 457.50 L649.40 457.50 L649.63 457.50 L649.86 457.50 L650.08 457.50 L650.31 457.50 L650.54 457.50 L650.77 457.50 L650.99 457.50 L651.22 457.50 L651.45 457.50 L651.67 457.50 L651.90 457.50 L652.13 457.50 L652.35 457.49 L652.58 457.49 L652.81 457.49 L653.03 457.49 L653.26 457.49 L653.49 457.48 L653.71 457.48 L653.94 457.47 L654.17 457.47 L654.39 457.46 L654.62 457.45 L654.85 457.44 L655.07 457.43 L655.30 457.41 L655.53 457.39 L655.76 457.37 L655.98 457.34 L656.21 457.31 L656.44 457.27 L656.66 457.22 L656.89 457.17 L657.12 457.10 L657.34 457.03 L657.57 456.94 L657.80 456.83 L658.02 456.71 L658.25 456.57 L658.48 456.41 L658.70 456.23 L658.93 456.02 L659.16 455.78 L659.38 455.50 L659.61 455.19 L659.84 454.83 L660.06 454.43 L660.29 453.98 L660.52 453.47 L660.75 452.90 L660.97 452.27 L661.20 451.57 L661.43 450.80 L661.65 449.94 L661.88 449.00 L662.11 447.97 L662.33 446.85 L662.56 445.63 L662.79 444.30 L663.01 442.87 L663.24 441.33 L663.47 439.67 L663.69 437.90 L663.92 436.02 L664.15 434.03 L664.37 431.92 L664.60 429.70 L664.83 427.38 L665.05 424.96 L665.28 422.44 L665.51 419.83 L665.74 417.14 L665.96 414.38 L666.19 411.57 L666.42 408.71 L666.64 405.82 L666.87 402.92 L667.10 400.01 L667.32 397.12 L667.55 394.27 L667.78 391.47 L668.00 388.75 L668.23 386.11 L668.46 383.58 L668.68 381.18 L668.91 378.93 L669.14 376.84 L669.36 374.93 L669.59 373.21 L669.82 371.71 L670.04 370.42 L670.27 369.36 L670.50 368.55 L670.73 367.98 L670.95 367.67 L671.18 367.61 L671.41 367.80 L671.63 368.25 L671.86 368.95 L672.09 369.90 L672.31 371.08 L672.54 372.48 L672.77 374.10 L672.99 375.92 L673.22 377.93 L673.45 380.11 L673.67 382.44 L673.90 384.91 L674.13 387.50 L674.35 390.19 L674.58 392.96 L674.81 395.79 L675.03 398.66 L675.26 401.56 L675.49 404.47 L675.72 407.36 L675.94 410.24 L676.17 413.08 L676.40 415.86 L676.62 418.58 L676.85 421.23 L677.08 423.79 L677.30 426.26 L677.53 428.63 L677.76 430.90 L677.98 433.06 L678.21 435.11 L678.44 437.04 L678.66 438.86 L678.89 440.57 L679.12 442.16 L679.34 443.64 L679.57 445.02 L679.80 446.29 L680.02 447.46 L680.25 448.53 L680.48 449.52 L680.71 450.41 L680.93 451.22 L681.16 451.96 L681.39 452.62 L681.61 453.21 L681.84 453.75 L682.07 454.22 L682.29 454.65 L682.52 455.02 L682.75 455.36 L682.97 455.65 L683.20 455.91 L683.2 457.5 L592.7 457.5Z" fill="#faedd3" stroke="none"/>
<path d="M592.70 455.91 L592.93 456.13 L593.15 456.33 L593.38 456.50 L593.61 456.65 L593.83 456.78 L594.06 456.89 L594.29 456.99 L594.51 457.07 L594.74 457.14 L594.97 457.20 L595.19 457.25 L595.42 457.29 L595.65 457.33 L595.88 457.36 L596.10 457.38 L596.33 457.40 L596.56 457.42 L596.78 457.43 L597.01 457.45 L597.24 457.46 L597.46 457.46 L597.69 457.47 L597.92 457.48 L598.14 457.48 L598.37 457.49 L598.60 457.49 L598.82 457.49 L599.05 457.49 L599.28 457.49 L599.50 457.50 L599.73 457.50 L599.96 457.50 L600.18 457.50 L600.41 457.50 L600.64 457.50 L600.87 457.50 L601.09 457.50 L601.32 457.50 L601.55 457.50 L601.77 457.50 L602.00 457.50 L602.23 457.50 L602.45 457.50 L602.68 457.50 L602.91 457.50 L603.13 457.50 L603.36 457.50 L603.59 457.50 L603.81 457.50 L604.04 457.50 L604.27 457.50 L604.49 457.50 L604.72 457.50 L604.95 457.50 L605.17 457.50 L605.40 457.50 L605.63 457.50 L605.86 457.50 L606.08 457.50 L606.31 457.50 L606.54 457.50 L606.76 457.50 L606.99 457.50 L607.22 457.50 L607.44 457.50 L607.67 457.50 L607.90 457.50 L608.12 457.50 L608.35 457.50 L608.58 457.50 L608.80 457.50 L609.03 457.50 L609.26 457.50 L609.48 457.50 L609.71 457.50 L609.94 457.50 L610.16 457.50 L610.39 457.50 L610.62 457.50 L610.85 457.50 L611.07 457.50 L611.30 457.50 L611.53 457.50 L611.75 457.50 L611.98 457.50 L612.21 457.50 L612.43 457.50 L612.66 457.50 L612.89 457.50 L613.11 457.50 L613.34 457.50 L613.57 457.50 L613.79 457.50 L614.02 457.50 L614.25 457.50 L614.47 457.50 L614.70 457.50 L614.93 457.50 L615.15 457.50 L615.38 457.50 L615.61 457.50 L615.84 457.50 L616.06 457.50 L616.29 457.50 L616.52 457.50 L616.74 457.50 L616.97 457.50 L617.20 457.50 L617.42 457.50 L617.65 457.50 L617.88 457.50 L618.10 457.50 L618.33 457.50 L618.56 457.50 L618.78 457.50 L619.01 457.50 L619.24 457.50 L619.46 457.50 L619.69 457.50 L619.92 457.50 L620.14 457.50 L620.37 457.50 L620.60 457.50 L620.83 457.50 L621.05 457.50 L621.28 457.50 L621.51 457.50 L621.73 457.50 L621.96 457.50 L622.19 457.50 L622.41 457.50 L622.64 457.50 L622.87 457.50 L623.09 457.50 L623.32 457.50 L623.55 457.50 L623.77 457.50 L624.00 457.50 L624.23 457.50 L624.45 457.50 L624.68 457.50 L624.91 457.50 L625.13 457.50 L625.36 457.50 L625.59 457.50 L625.82 457.50 L626.04 457.50 L626.27 457.50 L626.50 457.50 L626.72 457.50 L626.95 457.50 L627.18 457.50 L627.40 457.50 L627.63 457.50 L627.86 457.50 L628.08 457.50 L628.31 457.50 L628.54 457.50 L628.76 457.50 L628.99 457.50 L629.22 457.50 L629.44 457.50 L629.67 457.50 L629.90 457.50 L630.12 457.50 L630.35 457.50 L630.58 457.50 L630.81 457.50 L631.03 457.50 L631.26 457.50 L631.49 457.50 L631.71 457.50 L631.94 457.50 L632.17 457.50 L632.39 457.50 L632.62 457.50 L632.85 457.50 L633.07 457.50 L633.30 457.50 L633.53 457.50 L633.75 457.50 L633.98 457.50 L634.21 457.50 L634.43 457.50 L634.66 457.50 L634.89 457.50 L635.11 457.50 L635.34 457.50 L635.57 457.50 L635.80 457.50 L636.02 457.50 L636.25 457.50 L636.48 457.50 L636.70 457.50 L636.93 457.50 L637.16 457.50 L637.38 457.50 L637.61 457.50 L637.84 457.50 L638.06 457.50 L638.29 457.50 L638.52 457.50 L638.74 457.50 L638.97 457.50 L639.20 457.50 L639.42 457.50 L639.65 457.50 L639.88 457.50 L640.10 457.50 L640.33 457.50 L640.56 457.50 L640.79 457.50 L641.01 457.50 L641.24 457.50 L641.47 457.50 L641.69 457.50 L641.92 457.50 L642.15 457.50 L642.37 457.50 L642.60 457.50 L642.83 457.50 L643.05 457.50 L643.28 457.50 L643.51 457.50 L643.73 457.50 L643.96 457.50 L644.19 457.50 L644.41 457.50 L644.64 457.50 L644.87 457.50 L645.09 457.50 L645.32 457.50 L645.55 457.50 L645.78 457.50 L646.00 457.50 L646.23 457.50 L646.46 457.50 L646.68 457.50 L646.91 457.50 L647.14 457.50 L647.36 457.50 L647.59 457.50 L647.82 457.50 L648.04 457.50 L648.27 457.50 L648.50 457.50 L648.72 457.50 L648.95 457.50 L649.18 457.50 L649.40 457.50 L649.63 457.50 L649.86 457.50 L650.08 457.50 L650.31 457.50 L650.54 457.50 L650.77 457.50 L650.99 457.50 L651.22 457.50 L651.45 457.50 L651.67 457.50 L651.90 457.50 L652.13 457.50 L652.35 457.49 L652.58 457.49 L652.81 457.49 L653.03 457.49 L653.26 457.49 L653.49 457.48 L653.71 457.48 L653.94 457.47 L654.17 457.47 L654.39 457.46 L654.62 457.45 L654.85 457.44 L655.07 457.43 L655.30 457.41 L655.53 457.39 L655.76 457.37 L655.98 457.34 L656.21 457.31 L656.44 457.27 L656.66 457.22 L656.89 457.17 L657.12 457.10 L657.34 457.03 L657.57 456.94 L657.80 456.83 L658.02 456.71 L658.25 456.57 L658.48 456.41 L658.70 456.23 L658.93 456.02 L659.16 455.78 L659.38 455.50 L659.61 455.19 L659.84 454.83 L660.06 454.43 L660.29 453.98 L660.52 453.47 L660.75 452.90 L660.97 452.27 L661.20 451.57 L661.43 450.80 L661.65 449.94 L661.88 449.00 L662.11 447.97 L662.33 446.85 L662.56 445.63 L662.79 444.30 L663.01 442.87 L663.24 441.33 L663.47 439.67 L663.69 437.90 L663.92 436.02 L664.15 434.03 L664.37 431.92 L664.60 429.70 L664.83 427.38 L665.05 424.96 L665.28 422.44 L665.51 419.83 L665.74 417.14 L665.96 414.38 L666.19 411.57 L666.42 408.71 L666.64 405.82 L666.87 402.92 L667.10 400.01 L667.32 397.12 L667.55 394.27 L667.78 391.47 L668.00 388.75 L668.23 386.11 L668.46 383.58 L668.68 381.18 L668.91 378.93 L669.14 376.84 L669.36 374.93 L669.59 373.21 L669.82 371.71 L670.04 370.42 L670.27 369.36 L670.50 368.55 L670.73 367.98 L670.95 367.67 L671.18 367.61 L671.41 367.80 L671.63 368.25 L671.86 368.95 L672.09 369.90 L672.31 371.08 L672.54 372.48 L672.77 374.10 L672.99 375.92 L673.22 377.93 L673.45 380.11 L673.67 382.44 L673.90 384.91 L674.13 387.50 L674.35 390.19 L674.58 392.96 L674.81 395.79 L675.03 398.66 L675.26 401.56 L675.49 404.47 L675.72 407.36 L675.94 410.24 L676.17 413.08 L676.40 415.86 L676.62 418.58 L676.85 421.23 L677.08 423.79 L677.30 426.26 L677.53 428.63 L677.76 430.90 L677.98 433.06 L678.21 435.11 L678.44 437.04 L678.66 438.86 L678.89 440.57 L679.12 442.16 L679.34 443.64 L679.57 445.02 L679.80 446.29 L680.02 447.46 L680.25 448.53 L680.48 449.52 L680.71 450.41 L680.93 451.22 L681.16 451.96 L681.39 452.62 L681.61 453.21 L681.84 453.75 L682.07 454.22 L682.29 454.65 L682.52 455.02 L682.75 455.36 L682.97 455.65 L683.20 455.91" fill="none" stroke="#e0a232" stroke-width="1.35"/>
<path d="M638 367.6v1.6M638 457.5v-1.6M592.7 412.6h1.6M683.2 412.6h-1.6" stroke="#333" stroke-width="0.6"/>
<rect x="592.7" y="367.6" width="90.5" height="89.9" fill="none" stroke="#5a5a5a" stroke-width="1"/>
<text x="489.7" y="275.7" text-anchor="end" font-size="12.5" fill="#0a0a0a">1</text>
<text x="490.7" y="357.2" text-anchor="end" font-size="12.5" fill="#0a0a0a">0</text>
<text x="489.7" y="374" text-anchor="end" font-size="12.5" fill="#0a0a0a">1</text>
<text x="490.7" y="453.8" text-anchor="end" font-size="12.5" fill="#0a0a0a">0</text>
<text x="500.3" y="471.9" text-anchor="middle" font-size="12.5" fill="#0a0a0a">0</text>
<text x="583.1" y="471.9" text-anchor="middle" font-size="12.5" fill="#0a0a0a">2</text>
<text x="594.6" y="471.9" text-anchor="middle" font-size="12.5" fill="#0a0a0a">0</text>
<text x="681.3" y="471.9" text-anchor="middle" font-size="12.5" fill="#0a0a0a">2</text>
<text x="590" y="484.2" text-anchor="middle" font-size="12.5" fill="#0a0a0a"><tspan font-style="italic">&#952;</tspan> (&#960;)</text>
<text transform="translate(470.2 363.75) rotate(-90)" text-anchor="middle" font-size="12.4" fill="#0a0a0a">Energy Density</text>
<text transform="translate(1.5 12.5) scale(1.1 1)" font-size="13.3" font-weight="bold" fill="#0a0a0a" stroke="#0a0a0a" stroke-width="0.25">A</text>
<text transform="translate(230.1 12.6) scale(1.1 1)" font-size="13.3" font-weight="bold" fill="#0a0a0a" stroke="#0a0a0a" stroke-width="0.25">C</text>
<text transform="translate(459.6 12.6) scale(1.1 1)" font-size="13.3" font-weight="bold" fill="#0a0a0a" stroke="#0a0a0a" stroke-width="0.25">E</text>
<text transform="translate(0.7 264.6) scale(1.1 1)" font-size="13.3" font-weight="bold" fill="#0a0a0a" stroke="#0a0a0a" stroke-width="0.25">B</text>
<text transform="translate(230.9 264.6) scale(1.1 1)" font-size="13.3" font-weight="bold" fill="#0a0a0a" stroke="#0a0a0a" stroke-width="0.25">D</text>
<text transform="translate(458.5 264.6) scale(1.1 1)" font-size="13.3" font-weight="bold" fill="#0a0a0a" stroke="#0a0a0a" stroke-width="0.25">F</text>
</svg></body></html>
